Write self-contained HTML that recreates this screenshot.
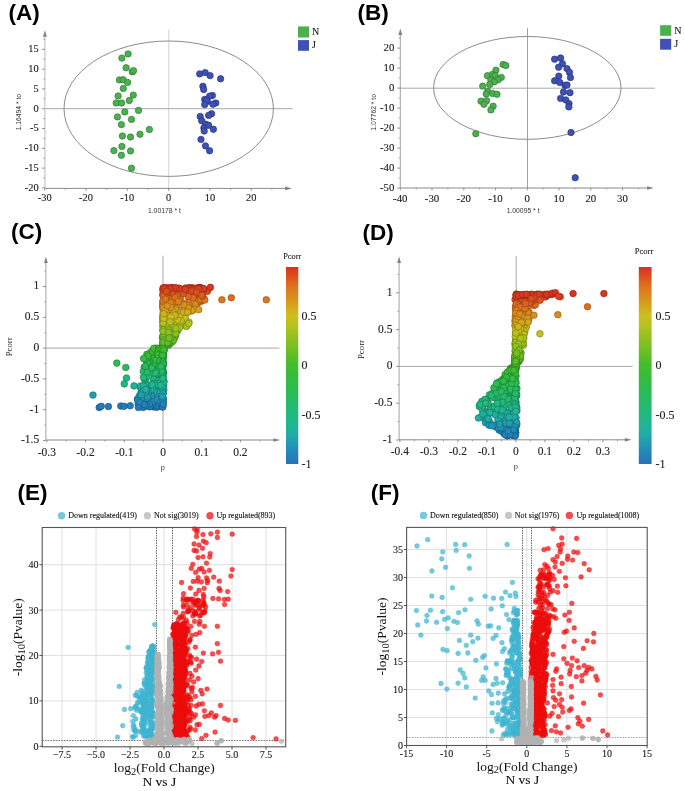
<!DOCTYPE html>
<html><head><meta charset="utf-8"><title>Figure</title>
<style>html,body{margin:0;padding:0;background:#fff;overflow:hidden}svg{display:block;will-change:transform}</style></head>
<body><svg width="685" height="791" viewBox="0 0 685 791">
<rect width="685" height="791" fill="#fff"/>
<text x="8.4" y="20.4" font-size="22.5" font-weight="bold" font-family="'Liberation Sans', sans-serif" fill="#000">(A)</text>
<line x1="168.6" y1="29.8" x2="168.6" y2="188.4" stroke="#dcdcdc" stroke-width="1.3" />
<line x1="44.9" y1="108.7" x2="292.8" y2="108.7" stroke="#a8a8a8" stroke-width="1" />
<ellipse cx="168.7" cy="108.7" rx="104.7" ry="67.7" fill="none" stroke="#8c8c8c" stroke-width="1"/>
<line x1="44.9" y1="36.3" x2="44.9" y2="188.4" stroke="#d4d4d4" stroke-width="1.6" />
<polygon points="44.9,30.3 43,36.7 46.8,36.7" fill="#808080"/>
<line x1="44.9" y1="188.4" x2="285.9" y2="188.4" stroke="#8a8a8a" stroke-width="1" />
<polygon points="291.9,188.4 285.1,186.6 285.1,190.2" fill="#808080"/>
<line x1="42" y1="187.9" x2="44.9" y2="187.9" stroke="#777" stroke-width="0.8" />
<text x="38.6" y="190.7" font-size="10.4" text-anchor="end" font-family="'Liberation Serif', serif" fill="#222" stroke="#222" stroke-width="0.12" >-20</text>
<line x1="42" y1="168.1" x2="44.9" y2="168.1" stroke="#777" stroke-width="0.8" />
<text x="38.6" y="170.9" font-size="10.4" text-anchor="end" font-family="'Liberation Serif', serif" fill="#222" stroke="#222" stroke-width="0.12" >-15</text>
<line x1="42" y1="148.3" x2="44.9" y2="148.3" stroke="#777" stroke-width="0.8" />
<text x="38.6" y="151.1" font-size="10.4" text-anchor="end" font-family="'Liberation Serif', serif" fill="#222" stroke="#222" stroke-width="0.12" >-10</text>
<line x1="42" y1="128.5" x2="44.9" y2="128.5" stroke="#777" stroke-width="0.8" />
<text x="38.6" y="131.3" font-size="10.4" text-anchor="end" font-family="'Liberation Serif', serif" fill="#222" stroke="#222" stroke-width="0.12" >-5</text>
<line x1="42" y1="108.7" x2="44.9" y2="108.7" stroke="#777" stroke-width="0.8" />
<text x="38.6" y="111.5" font-size="10.4" text-anchor="end" font-family="'Liberation Serif', serif" fill="#222" stroke="#222" stroke-width="0.12" >0</text>
<line x1="42" y1="88.9" x2="44.9" y2="88.9" stroke="#777" stroke-width="0.8" />
<text x="38.6" y="91.7" font-size="10.4" text-anchor="end" font-family="'Liberation Serif', serif" fill="#222" stroke="#222" stroke-width="0.12" >5</text>
<line x1="42" y1="69.1" x2="44.9" y2="69.1" stroke="#777" stroke-width="0.8" />
<text x="38.6" y="71.9" font-size="10.4" text-anchor="end" font-family="'Liberation Serif', serif" fill="#222" stroke="#222" stroke-width="0.12" >10</text>
<line x1="42" y1="49.3" x2="44.9" y2="49.3" stroke="#777" stroke-width="0.8" />
<text x="38.6" y="52.1" font-size="10.4" text-anchor="end" font-family="'Liberation Serif', serif" fill="#222" stroke="#222" stroke-width="0.12" >15</text>
<line x1="43.2" y1="178" x2="44.9" y2="178" stroke="#888" stroke-width="0.7" />
<line x1="43.2" y1="158.2" x2="44.9" y2="158.2" stroke="#888" stroke-width="0.7" />
<line x1="43.2" y1="138.4" x2="44.9" y2="138.4" stroke="#888" stroke-width="0.7" />
<line x1="43.2" y1="118.6" x2="44.9" y2="118.6" stroke="#888" stroke-width="0.7" />
<line x1="43.2" y1="98.8" x2="44.9" y2="98.8" stroke="#888" stroke-width="0.7" />
<line x1="43.2" y1="79" x2="44.9" y2="79" stroke="#888" stroke-width="0.7" />
<line x1="43.2" y1="59.2" x2="44.9" y2="59.2" stroke="#888" stroke-width="0.7" />
<line x1="43.2" y1="39.4" x2="44.9" y2="39.4" stroke="#888" stroke-width="0.7" />
<line x1="44.7" y1="188.4" x2="44.7" y2="190.8" stroke="#777" stroke-width="0.8" />
<text x="44.7" y="201.4" font-size="10.4" text-anchor="middle" font-family="'Liberation Serif', serif" fill="#222" stroke="#222" stroke-width="0.12" >-30</text>
<line x1="86" y1="188.4" x2="86" y2="190.8" stroke="#777" stroke-width="0.8" />
<text x="86" y="201.4" font-size="10.4" text-anchor="middle" font-family="'Liberation Serif', serif" fill="#222" stroke="#222" stroke-width="0.12" >-20</text>
<line x1="127.3" y1="188.4" x2="127.3" y2="190.8" stroke="#777" stroke-width="0.8" />
<text x="127.3" y="201.4" font-size="10.4" text-anchor="middle" font-family="'Liberation Serif', serif" fill="#222" stroke="#222" stroke-width="0.12" >-10</text>
<line x1="168.6" y1="188.4" x2="168.6" y2="190.8" stroke="#777" stroke-width="0.8" />
<text x="168.6" y="201.4" font-size="10.4" text-anchor="middle" font-family="'Liberation Serif', serif" fill="#222" stroke="#222" stroke-width="0.12" >0</text>
<line x1="209.9" y1="188.4" x2="209.9" y2="190.8" stroke="#777" stroke-width="0.8" />
<text x="209.9" y="201.4" font-size="10.4" text-anchor="middle" font-family="'Liberation Serif', serif" fill="#222" stroke="#222" stroke-width="0.12" >10</text>
<line x1="251.2" y1="188.4" x2="251.2" y2="190.8" stroke="#777" stroke-width="0.8" />
<text x="251.2" y="201.4" font-size="10.4" text-anchor="middle" font-family="'Liberation Serif', serif" fill="#222" stroke="#222" stroke-width="0.12" >20</text>
<line x1="65.3" y1="188.4" x2="65.3" y2="190" stroke="#888" stroke-width="0.7" />
<line x1="106.7" y1="188.4" x2="106.7" y2="190" stroke="#888" stroke-width="0.7" />
<line x1="147.9" y1="188.4" x2="147.9" y2="190" stroke="#888" stroke-width="0.7" />
<line x1="189.2" y1="188.4" x2="189.2" y2="190" stroke="#888" stroke-width="0.7" />
<line x1="230.5" y1="188.4" x2="230.5" y2="190" stroke="#888" stroke-width="0.7" />
<line x1="271.9" y1="188.4" x2="271.9" y2="190" stroke="#888" stroke-width="0.7" />
<text x="164.4" y="213" font-size="6.8" text-anchor="middle" font-family="'Liberation Sans', sans-serif" fill="#333" >1.00178 * t</text>
<text transform="translate(20.8,112.2) rotate(-90)" font-size="6.8" text-anchor="middle" font-family="'Liberation Sans', sans-serif" fill="#333">1.16494 * to</text>
<circle cx="128.1" cy="53.9" r="3.2" fill="#4caf50" stroke="#2f7d33" stroke-width="0.7"/>
<circle cx="121.9" cy="58.1" r="3.2" fill="#4caf50" stroke="#2f7d33" stroke-width="0.7"/>
<circle cx="126.1" cy="67.8" r="3.2" fill="#4caf50" stroke="#2f7d33" stroke-width="0.7"/>
<circle cx="132.3" cy="71.9" r="3.2" fill="#4caf50" stroke="#2f7d33" stroke-width="0.7"/>
<circle cx="133.5" cy="70.7" r="3.2" fill="#4caf50" stroke="#2f7d33" stroke-width="0.7"/>
<circle cx="119.4" cy="79.9" r="3.2" fill="#4caf50" stroke="#2f7d33" stroke-width="0.7"/>
<circle cx="123.1" cy="79.7" r="3.2" fill="#4caf50" stroke="#2f7d33" stroke-width="0.7"/>
<circle cx="127.6" cy="82.4" r="3.2" fill="#4caf50" stroke="#2f7d33" stroke-width="0.7"/>
<circle cx="123.3" cy="88.4" r="3.2" fill="#4caf50" stroke="#2f7d33" stroke-width="0.7"/>
<circle cx="118.1" cy="96" r="3.2" fill="#4caf50" stroke="#2f7d33" stroke-width="0.7"/>
<circle cx="133.3" cy="95.1" r="3.2" fill="#4caf50" stroke="#2f7d33" stroke-width="0.7"/>
<circle cx="116.2" cy="103" r="3.2" fill="#4caf50" stroke="#2f7d33" stroke-width="0.7"/>
<circle cx="121.6" cy="103" r="3.2" fill="#4caf50" stroke="#2f7d33" stroke-width="0.7"/>
<circle cx="129.3" cy="100.5" r="3.2" fill="#4caf50" stroke="#2f7d33" stroke-width="0.7"/>
<circle cx="124.8" cy="111.9" r="3.2" fill="#4caf50" stroke="#2f7d33" stroke-width="0.7"/>
<circle cx="138.5" cy="110.4" r="3.2" fill="#4caf50" stroke="#2f7d33" stroke-width="0.7"/>
<circle cx="117.4" cy="116.9" r="3.2" fill="#4caf50" stroke="#2f7d33" stroke-width="0.7"/>
<circle cx="131.5" cy="119.4" r="3.2" fill="#4caf50" stroke="#2f7d33" stroke-width="0.7"/>
<circle cx="121.4" cy="124.6" r="3.2" fill="#4caf50" stroke="#2f7d33" stroke-width="0.7"/>
<circle cx="149.4" cy="129.5" r="3.2" fill="#4caf50" stroke="#2f7d33" stroke-width="0.7"/>
<circle cx="140" cy="134.2" r="3.2" fill="#4caf50" stroke="#2f7d33" stroke-width="0.7"/>
<circle cx="122.4" cy="136" r="3.2" fill="#4caf50" stroke="#2f7d33" stroke-width="0.7"/>
<circle cx="130.5" cy="137" r="3.2" fill="#4caf50" stroke="#2f7d33" stroke-width="0.7"/>
<circle cx="121.9" cy="146.4" r="3.2" fill="#4caf50" stroke="#2f7d33" stroke-width="0.7"/>
<circle cx="113.9" cy="150.6" r="3.2" fill="#4caf50" stroke="#2f7d33" stroke-width="0.7"/>
<circle cx="130.5" cy="150.9" r="3.2" fill="#4caf50" stroke="#2f7d33" stroke-width="0.7"/>
<circle cx="121.4" cy="155.3" r="3.2" fill="#4caf50" stroke="#2f7d33" stroke-width="0.7"/>
<circle cx="131.5" cy="168.2" r="3.2" fill="#4caf50" stroke="#2f7d33" stroke-width="0.7"/>
<circle cx="199.7" cy="73.9" r="3.2" fill="#3f51b5" stroke="#27337a" stroke-width="0.7"/>
<circle cx="205.2" cy="72.6" r="3.2" fill="#3f51b5" stroke="#27337a" stroke-width="0.7"/>
<circle cx="210.1" cy="75.6" r="3.2" fill="#3f51b5" stroke="#27337a" stroke-width="0.7"/>
<circle cx="220.6" cy="78.8" r="3.2" fill="#3f51b5" stroke="#27337a" stroke-width="0.7"/>
<circle cx="202.9" cy="86.3" r="3.2" fill="#3f51b5" stroke="#27337a" stroke-width="0.7"/>
<circle cx="203.7" cy="89.5" r="3.2" fill="#3f51b5" stroke="#27337a" stroke-width="0.7"/>
<circle cx="212.4" cy="95.5" r="3.2" fill="#3f51b5" stroke="#27337a" stroke-width="0.7"/>
<circle cx="209.6" cy="96.2" r="3.2" fill="#3f51b5" stroke="#27337a" stroke-width="0.7"/>
<circle cx="204.7" cy="99.4" r="3.2" fill="#3f51b5" stroke="#27337a" stroke-width="0.7"/>
<circle cx="207.2" cy="101.4" r="3.2" fill="#3f51b5" stroke="#27337a" stroke-width="0.7"/>
<circle cx="206.7" cy="100.5" r="3.2" fill="#3f51b5" stroke="#27337a" stroke-width="0.7"/>
<circle cx="215.8" cy="103" r="3.2" fill="#3f51b5" stroke="#27337a" stroke-width="0.7"/>
<circle cx="212.9" cy="104.2" r="3.2" fill="#3f51b5" stroke="#27337a" stroke-width="0.7"/>
<circle cx="204.7" cy="104.6" r="3.2" fill="#3f51b5" stroke="#27337a" stroke-width="0.7"/>
<circle cx="200.2" cy="116.4" r="3.2" fill="#3f51b5" stroke="#27337a" stroke-width="0.7"/>
<circle cx="211.6" cy="113.7" r="3.2" fill="#3f51b5" stroke="#27337a" stroke-width="0.7"/>
<circle cx="208.6" cy="115.4" r="3.2" fill="#3f51b5" stroke="#27337a" stroke-width="0.7"/>
<circle cx="201.7" cy="120.8" r="3.2" fill="#3f51b5" stroke="#27337a" stroke-width="0.7"/>
<circle cx="205.7" cy="124.3" r="3.2" fill="#3f51b5" stroke="#27337a" stroke-width="0.7"/>
<circle cx="208.6" cy="125.3" r="3.2" fill="#3f51b5" stroke="#27337a" stroke-width="0.7"/>
<circle cx="203.9" cy="128" r="3.2" fill="#3f51b5" stroke="#27337a" stroke-width="0.7"/>
<circle cx="204.2" cy="131" r="3.2" fill="#3f51b5" stroke="#27337a" stroke-width="0.7"/>
<circle cx="213.4" cy="129.3" r="3.2" fill="#3f51b5" stroke="#27337a" stroke-width="0.7"/>
<circle cx="201" cy="139.4" r="3.2" fill="#3f51b5" stroke="#27337a" stroke-width="0.7"/>
<circle cx="205.5" cy="145.9" r="3.2" fill="#3f51b5" stroke="#27337a" stroke-width="0.7"/>
<circle cx="209.6" cy="150.7" r="3.2" fill="#3f51b5" stroke="#27337a" stroke-width="0.7"/>
<rect x="298" y="26.4" width="11" height="11.1" fill="#4caf50"/>
<rect x="298" y="40.1" width="11" height="10.7" fill="#3f51b5"/>
<text x="312" y="34.6" font-size="10" text-anchor="start" font-family="'Liberation Serif', serif" fill="#222" stroke="#222" stroke-width="0.12" >N</text>
<text x="312" y="48.3" font-size="10" text-anchor="start" font-family="'Liberation Serif', serif" fill="#222" stroke="#222" stroke-width="0.12" >J</text>
<text x="357.6" y="20.2" font-size="22.5" font-weight="bold" font-family="'Liberation Sans', sans-serif" fill="#000">(B)</text>
<line x1="527.5" y1="28.1" x2="527.5" y2="188" stroke="#a0a0a0" stroke-width="1" />
<line x1="400.3" y1="88.2" x2="654.9" y2="88.2" stroke="#a8a8a8" stroke-width="1" />
<ellipse cx="527.3" cy="87.9" rx="93.7" ry="51.4" fill="none" stroke="#8c8c8c" stroke-width="1"/>
<line x1="400.3" y1="34.5" x2="400.3" y2="188" stroke="#999" stroke-width="0.9" />
<polygon points="400.3,28.5 398.4,34.9 402.2,34.9" fill="#808080"/>
<line x1="400.3" y1="188" x2="647.9" y2="188" stroke="#8a8a8a" stroke-width="1" />
<polygon points="653.9,188 647.1,186.2 647.1,189.8" fill="#808080"/>
<line x1="397.4" y1="188.1" x2="400.3" y2="188.1" stroke="#777" stroke-width="0.8" />
<text x="394.4" y="190.8" font-size="10.8" text-anchor="end" font-family="'Liberation Serif', serif" fill="#222" stroke="#222" stroke-width="0.12" >-50</text>
<line x1="397.4" y1="168.1" x2="400.3" y2="168.1" stroke="#777" stroke-width="0.8" />
<text x="394.4" y="170.8" font-size="10.8" text-anchor="end" font-family="'Liberation Serif', serif" fill="#222" stroke="#222" stroke-width="0.12" >-40</text>
<line x1="397.4" y1="148.1" x2="400.3" y2="148.1" stroke="#777" stroke-width="0.8" />
<text x="394.4" y="150.8" font-size="10.8" text-anchor="end" font-family="'Liberation Serif', serif" fill="#222" stroke="#222" stroke-width="0.12" >-30</text>
<line x1="397.4" y1="128.1" x2="400.3" y2="128.1" stroke="#777" stroke-width="0.8" />
<text x="394.4" y="130.8" font-size="10.8" text-anchor="end" font-family="'Liberation Serif', serif" fill="#222" stroke="#222" stroke-width="0.12" >-20</text>
<line x1="397.4" y1="108.1" x2="400.3" y2="108.1" stroke="#777" stroke-width="0.8" />
<text x="394.4" y="110.8" font-size="10.8" text-anchor="end" font-family="'Liberation Serif', serif" fill="#222" stroke="#222" stroke-width="0.12" >-10</text>
<line x1="397.4" y1="88.1" x2="400.3" y2="88.1" stroke="#777" stroke-width="0.8" />
<text x="394.4" y="90.8" font-size="10.8" text-anchor="end" font-family="'Liberation Serif', serif" fill="#222" stroke="#222" stroke-width="0.12" >0</text>
<line x1="397.4" y1="68.1" x2="400.3" y2="68.1" stroke="#777" stroke-width="0.8" />
<text x="394.4" y="70.8" font-size="10.8" text-anchor="end" font-family="'Liberation Serif', serif" fill="#222" stroke="#222" stroke-width="0.12" >10</text>
<line x1="397.4" y1="48.1" x2="400.3" y2="48.1" stroke="#777" stroke-width="0.8" />
<text x="394.4" y="50.8" font-size="10.8" text-anchor="end" font-family="'Liberation Serif', serif" fill="#222" stroke="#222" stroke-width="0.12" >20</text>
<line x1="398.6" y1="178.1" x2="400.3" y2="178.1" stroke="#888" stroke-width="0.7" />
<line x1="398.6" y1="158.1" x2="400.3" y2="158.1" stroke="#888" stroke-width="0.7" />
<line x1="398.6" y1="138.1" x2="400.3" y2="138.1" stroke="#888" stroke-width="0.7" />
<line x1="398.6" y1="118.1" x2="400.3" y2="118.1" stroke="#888" stroke-width="0.7" />
<line x1="398.6" y1="98.1" x2="400.3" y2="98.1" stroke="#888" stroke-width="0.7" />
<line x1="398.6" y1="78.1" x2="400.3" y2="78.1" stroke="#888" stroke-width="0.7" />
<line x1="398.6" y1="58.1" x2="400.3" y2="58.1" stroke="#888" stroke-width="0.7" />
<line x1="398.6" y1="38.1" x2="400.3" y2="38.1" stroke="#888" stroke-width="0.7" />
<line x1="400.3" y1="188" x2="400.3" y2="190.4" stroke="#777" stroke-width="0.8" />
<text x="400.3" y="201.8" font-size="10.8" text-anchor="middle" font-family="'Liberation Serif', serif" fill="#222" stroke="#222" stroke-width="0.12" >-40</text>
<line x1="432" y1="188" x2="432" y2="190.4" stroke="#777" stroke-width="0.8" />
<text x="432" y="201.8" font-size="10.8" text-anchor="middle" font-family="'Liberation Serif', serif" fill="#222" stroke="#222" stroke-width="0.12" >-30</text>
<line x1="463.8" y1="188" x2="463.8" y2="190.4" stroke="#777" stroke-width="0.8" />
<text x="463.8" y="201.8" font-size="10.8" text-anchor="middle" font-family="'Liberation Serif', serif" fill="#222" stroke="#222" stroke-width="0.12" >-20</text>
<line x1="495.5" y1="188" x2="495.5" y2="190.4" stroke="#777" stroke-width="0.8" />
<text x="495.5" y="201.8" font-size="10.8" text-anchor="middle" font-family="'Liberation Serif', serif" fill="#222" stroke="#222" stroke-width="0.12" >-10</text>
<line x1="527.3" y1="188" x2="527.3" y2="190.4" stroke="#777" stroke-width="0.8" />
<text x="527.3" y="201.8" font-size="10.8" text-anchor="middle" font-family="'Liberation Serif', serif" fill="#222" stroke="#222" stroke-width="0.12" >0</text>
<line x1="559" y1="188" x2="559" y2="190.4" stroke="#777" stroke-width="0.8" />
<text x="559" y="201.8" font-size="10.8" text-anchor="middle" font-family="'Liberation Serif', serif" fill="#222" stroke="#222" stroke-width="0.12" >10</text>
<line x1="590.8" y1="188" x2="590.8" y2="190.4" stroke="#777" stroke-width="0.8" />
<text x="590.8" y="201.8" font-size="10.8" text-anchor="middle" font-family="'Liberation Serif', serif" fill="#222" stroke="#222" stroke-width="0.12" >20</text>
<line x1="622.5" y1="188" x2="622.5" y2="190.4" stroke="#777" stroke-width="0.8" />
<text x="622.5" y="201.8" font-size="10.8" text-anchor="middle" font-family="'Liberation Serif', serif" fill="#222" stroke="#222" stroke-width="0.12" >30</text>
<line x1="416.2" y1="188" x2="416.2" y2="189.6" stroke="#888" stroke-width="0.7" />
<line x1="447.9" y1="188" x2="447.9" y2="189.6" stroke="#888" stroke-width="0.7" />
<line x1="479.7" y1="188" x2="479.7" y2="189.6" stroke="#888" stroke-width="0.7" />
<line x1="511.4" y1="188" x2="511.4" y2="189.6" stroke="#888" stroke-width="0.7" />
<line x1="543.2" y1="188" x2="543.2" y2="189.6" stroke="#888" stroke-width="0.7" />
<line x1="574.9" y1="188" x2="574.9" y2="189.6" stroke="#888" stroke-width="0.7" />
<line x1="606.7" y1="188" x2="606.7" y2="189.6" stroke="#888" stroke-width="0.7" />
<line x1="638.4" y1="188" x2="638.4" y2="189.6" stroke="#888" stroke-width="0.7" />
<text x="523.1" y="213" font-size="6.8" text-anchor="middle" font-family="'Liberation Sans', sans-serif" fill="#333" >1.00095 * t</text>
<text transform="translate(376.2,112.3) rotate(-90)" font-size="6.8" text-anchor="middle" font-family="'Liberation Sans', sans-serif" fill="#333">1.07762 * to</text>
<circle cx="503.1" cy="64.5" r="3.2" fill="#4caf50" stroke="#2f7d33" stroke-width="0.7"/>
<circle cx="505.8" cy="65.5" r="3.2" fill="#4caf50" stroke="#2f7d33" stroke-width="0.7"/>
<circle cx="495.9" cy="70.2" r="3.2" fill="#4caf50" stroke="#2f7d33" stroke-width="0.7"/>
<circle cx="487.4" cy="75.7" r="3.2" fill="#4caf50" stroke="#2f7d33" stroke-width="0.7"/>
<circle cx="492.4" cy="74.5" r="3.2" fill="#4caf50" stroke="#2f7d33" stroke-width="0.7"/>
<circle cx="495.1" cy="75.5" r="3.2" fill="#4caf50" stroke="#2f7d33" stroke-width="0.7"/>
<circle cx="501.3" cy="77.4" r="3.2" fill="#4caf50" stroke="#2f7d33" stroke-width="0.7"/>
<circle cx="490.9" cy="79.9" r="3.2" fill="#4caf50" stroke="#2f7d33" stroke-width="0.7"/>
<circle cx="498.1" cy="79.9" r="3.2" fill="#4caf50" stroke="#2f7d33" stroke-width="0.7"/>
<circle cx="494.1" cy="81.9" r="3.2" fill="#4caf50" stroke="#2f7d33" stroke-width="0.7"/>
<circle cx="489.7" cy="84.4" r="3.2" fill="#4caf50" stroke="#2f7d33" stroke-width="0.7"/>
<circle cx="482.7" cy="86.1" r="3.2" fill="#4caf50" stroke="#2f7d33" stroke-width="0.7"/>
<circle cx="487.7" cy="91.3" r="3.2" fill="#4caf50" stroke="#2f7d33" stroke-width="0.7"/>
<circle cx="492.7" cy="93.5" r="3.2" fill="#4caf50" stroke="#2f7d33" stroke-width="0.7"/>
<circle cx="497" cy="94.3" r="3.2" fill="#4caf50" stroke="#2f7d33" stroke-width="0.7"/>
<circle cx="486.2" cy="94" r="3.2" fill="#4caf50" stroke="#2f7d33" stroke-width="0.7"/>
<circle cx="481" cy="101.2" r="3.2" fill="#4caf50" stroke="#2f7d33" stroke-width="0.7"/>
<circle cx="486.6" cy="100.7" r="3.2" fill="#4caf50" stroke="#2f7d33" stroke-width="0.7"/>
<circle cx="484" cy="104.3" r="3.2" fill="#4caf50" stroke="#2f7d33" stroke-width="0.7"/>
<circle cx="493.1" cy="106.2" r="3.2" fill="#4caf50" stroke="#2f7d33" stroke-width="0.7"/>
<circle cx="490.9" cy="109.9" r="3.2" fill="#4caf50" stroke="#2f7d33" stroke-width="0.7"/>
<circle cx="475.8" cy="133.7" r="3.2" fill="#4caf50" stroke="#2f7d33" stroke-width="0.7"/>
<circle cx="554.6" cy="59.2" r="3.2" fill="#3f51b5" stroke="#27337a" stroke-width="0.7"/>
<circle cx="560.6" cy="58" r="3.2" fill="#3f51b5" stroke="#27337a" stroke-width="0.7"/>
<circle cx="562.5" cy="63.7" r="3.2" fill="#3f51b5" stroke="#27337a" stroke-width="0.7"/>
<circle cx="558.6" cy="67.2" r="3.2" fill="#3f51b5" stroke="#27337a" stroke-width="0.7"/>
<circle cx="567" cy="68.6" r="3.2" fill="#3f51b5" stroke="#27337a" stroke-width="0.7"/>
<circle cx="569.5" cy="72.4" r="3.2" fill="#3f51b5" stroke="#27337a" stroke-width="0.7"/>
<circle cx="570.5" cy="77.6" r="3.2" fill="#3f51b5" stroke="#27337a" stroke-width="0.7"/>
<circle cx="558.8" cy="76.1" r="3.2" fill="#3f51b5" stroke="#27337a" stroke-width="0.7"/>
<circle cx="554.6" cy="80.8" r="3.2" fill="#3f51b5" stroke="#27337a" stroke-width="0.7"/>
<circle cx="559.8" cy="82.5" r="3.2" fill="#3f51b5" stroke="#27337a" stroke-width="0.7"/>
<circle cx="565" cy="85.3" r="3.2" fill="#3f51b5" stroke="#27337a" stroke-width="0.7"/>
<circle cx="567" cy="85" r="3.2" fill="#3f51b5" stroke="#27337a" stroke-width="0.7"/>
<circle cx="563.5" cy="92" r="3.2" fill="#3f51b5" stroke="#27337a" stroke-width="0.7"/>
<circle cx="570" cy="92.7" r="3.2" fill="#3f51b5" stroke="#27337a" stroke-width="0.7"/>
<circle cx="560.6" cy="98.4" r="3.2" fill="#3f51b5" stroke="#27337a" stroke-width="0.7"/>
<circle cx="565.8" cy="99.9" r="3.2" fill="#3f51b5" stroke="#27337a" stroke-width="0.7"/>
<circle cx="569" cy="103.6" r="3.2" fill="#3f51b5" stroke="#27337a" stroke-width="0.7"/>
<circle cx="568.8" cy="106.9" r="3.2" fill="#3f51b5" stroke="#27337a" stroke-width="0.7"/>
<circle cx="571" cy="132.5" r="3.2" fill="#3f51b5" stroke="#27337a" stroke-width="0.7"/>
<circle cx="575.2" cy="177.7" r="3.2" fill="#3f51b5" stroke="#27337a" stroke-width="0.7"/>
<rect x="660.1" y="25.2" width="11.1" height="10.6" fill="#4caf50"/>
<rect x="660.1" y="38.8" width="11.1" height="10.9" fill="#3f51b5"/>
<text x="674.2" y="33.6" font-size="10" text-anchor="start" font-family="'Liberation Serif', serif" fill="#222" stroke="#222" stroke-width="0.12" >N</text>
<text x="674.2" y="47.3" font-size="10" text-anchor="start" font-family="'Liberation Serif', serif" fill="#222" stroke="#222" stroke-width="0.12" >J</text>
<text x="10.9" y="239" font-size="22.5" font-weight="bold" font-family="'Liberation Sans', sans-serif" fill="#000">(C)</text>
<line x1="163" y1="255.8" x2="163" y2="440" stroke="#c8c8c8" stroke-width="1.6" />
<line x1="45.9" y1="348.1" x2="279.5" y2="348.1" stroke="#a8a8a8" stroke-width="1" />
<line x1="45.9" y1="262.7" x2="45.9" y2="440" stroke="#999" stroke-width="0.9" />
<polygon points="45.9,256.7 44,263.1 47.8,263.1" fill="#808080"/>
<line x1="45.9" y1="440" x2="274.2" y2="440" stroke="#8a8a8a" stroke-width="1" />
<polygon points="280.2,440 273.4,438.2 273.4,441.8" fill="#808080"/>
<line x1="43" y1="286.5" x2="45.9" y2="286.5" stroke="#777" stroke-width="0.8" />
<text x="39.2" y="289.4" font-size="11.5" text-anchor="end" font-family="'Liberation Serif', serif" fill="#222" stroke="#222" stroke-width="0.12" >1</text>
<line x1="43" y1="317.3" x2="45.9" y2="317.3" stroke="#777" stroke-width="0.8" />
<text x="39.2" y="320.2" font-size="11.5" text-anchor="end" font-family="'Liberation Serif', serif" fill="#222" stroke="#222" stroke-width="0.12" >0.5</text>
<line x1="43" y1="348.1" x2="45.9" y2="348.1" stroke="#777" stroke-width="0.8" />
<text x="39.2" y="351" font-size="11.5" text-anchor="end" font-family="'Liberation Serif', serif" fill="#222" stroke="#222" stroke-width="0.12" >0</text>
<line x1="43" y1="378.9" x2="45.9" y2="378.9" stroke="#777" stroke-width="0.8" />
<text x="39.2" y="381.8" font-size="11.5" text-anchor="end" font-family="'Liberation Serif', serif" fill="#222" stroke="#222" stroke-width="0.12" >-0.5</text>
<line x1="43" y1="409.7" x2="45.9" y2="409.7" stroke="#777" stroke-width="0.8" />
<text x="39.2" y="412.6" font-size="11.5" text-anchor="end" font-family="'Liberation Serif', serif" fill="#222" stroke="#222" stroke-width="0.12" >-1</text>
<line x1="43" y1="440.5" x2="45.9" y2="440.5" stroke="#777" stroke-width="0.8" />
<text x="39.2" y="443.4" font-size="11.5" text-anchor="end" font-family="'Liberation Serif', serif" fill="#222" stroke="#222" stroke-width="0.12" >-1.5</text>
<line x1="44.2" y1="271.1" x2="45.9" y2="271.1" stroke="#888" stroke-width="0.7" />
<line x1="44.2" y1="301.9" x2="45.9" y2="301.9" stroke="#888" stroke-width="0.7" />
<line x1="44.2" y1="332.7" x2="45.9" y2="332.7" stroke="#888" stroke-width="0.7" />
<line x1="44.2" y1="363.5" x2="45.9" y2="363.5" stroke="#888" stroke-width="0.7" />
<line x1="44.2" y1="394.3" x2="45.9" y2="394.3" stroke="#888" stroke-width="0.7" />
<line x1="44.2" y1="425.1" x2="45.9" y2="425.1" stroke="#888" stroke-width="0.7" />
<line x1="46.9" y1="440" x2="46.9" y2="442.4" stroke="#777" stroke-width="0.8" />
<text x="46.9" y="455.5" font-size="11.5" text-anchor="middle" font-family="'Liberation Serif', serif" fill="#222" stroke="#222" stroke-width="0.12" >-0.3</text>
<line x1="85.6" y1="440" x2="85.6" y2="442.4" stroke="#777" stroke-width="0.8" />
<text x="85.6" y="455.5" font-size="11.5" text-anchor="middle" font-family="'Liberation Serif', serif" fill="#222" stroke="#222" stroke-width="0.12" >-0.2</text>
<line x1="124.3" y1="440" x2="124.3" y2="442.4" stroke="#777" stroke-width="0.8" />
<text x="124.3" y="455.5" font-size="11.5" text-anchor="middle" font-family="'Liberation Serif', serif" fill="#222" stroke="#222" stroke-width="0.12" >-0.1</text>
<line x1="163" y1="440" x2="163" y2="442.4" stroke="#777" stroke-width="0.8" />
<text x="163" y="455.5" font-size="11.5" text-anchor="middle" font-family="'Liberation Serif', serif" fill="#222" stroke="#222" stroke-width="0.12" >0</text>
<line x1="201.7" y1="440" x2="201.7" y2="442.4" stroke="#777" stroke-width="0.8" />
<text x="201.7" y="455.5" font-size="11.5" text-anchor="middle" font-family="'Liberation Serif', serif" fill="#222" stroke="#222" stroke-width="0.12" >0.1</text>
<line x1="240.4" y1="440" x2="240.4" y2="442.4" stroke="#777" stroke-width="0.8" />
<text x="240.4" y="455.5" font-size="11.5" text-anchor="middle" font-family="'Liberation Serif', serif" fill="#222" stroke="#222" stroke-width="0.12" >0.2</text>
<line x1="66.2" y1="440" x2="66.2" y2="441.6" stroke="#888" stroke-width="0.7" />
<line x1="105" y1="440" x2="105" y2="441.6" stroke="#888" stroke-width="0.7" />
<line x1="143.7" y1="440" x2="143.7" y2="441.6" stroke="#888" stroke-width="0.7" />
<line x1="182.3" y1="440" x2="182.3" y2="441.6" stroke="#888" stroke-width="0.7" />
<line x1="221.1" y1="440" x2="221.1" y2="441.6" stroke="#888" stroke-width="0.7" />
<line x1="259.8" y1="440" x2="259.8" y2="441.6" stroke="#888" stroke-width="0.7" />
<text x="162.7" y="470.2" font-size="7.4" text-anchor="middle" font-family="'Liberation Sans', sans-serif" fill="#333" >p</text>
<text transform="translate(12.0,346.8) rotate(-90)" font-size="8.8" text-anchor="middle" font-family="'Liberation Serif', serif" fill="#222">Pcorr</text>
<defs><linearGradient id="gC" x1="0" y1="0" x2="0" y2="1"><stop offset="0.000" stop-color="#d9301f"/><stop offset="0.100" stop-color="#de731e"/><stop offset="0.200" stop-color="#d6a51e"/><stop offset="0.250" stop-color="#cdc01e"/><stop offset="0.300" stop-color="#b4c31e"/><stop offset="0.400" stop-color="#7ac023"/><stop offset="0.500" stop-color="#42bc2d"/><stop offset="0.600" stop-color="#2ebc48"/><stop offset="0.700" stop-color="#24ba6e"/><stop offset="0.800" stop-color="#20b692"/><stop offset="0.850" stop-color="#20aca8"/><stop offset="0.900" stop-color="#2098b4"/><stop offset="0.950" stop-color="#2284b8"/><stop offset="1.000" stop-color="#2a70b6"/></linearGradient></defs>
<rect x="286" y="267" width="12.3" height="197" fill="url(#gC)"/>
<text x="292.2" y="258.7" font-size="8.4" text-anchor="middle" font-family="'Liberation Serif', serif" fill="#222" stroke="#222" stroke-width="0.12" >Pcorr</text>
<text x="301.6" y="319.9" font-size="12" text-anchor="start" font-family="'Liberation Serif', serif" fill="#222" stroke="#222" stroke-width="0.12" >0.5</text>
<text x="301.6" y="369.2" font-size="12" text-anchor="start" font-family="'Liberation Serif', serif" fill="#222" stroke="#222" stroke-width="0.12" >0</text>
<text x="301.6" y="418.5" font-size="12" text-anchor="start" font-family="'Liberation Serif', serif" fill="#222" stroke="#222" stroke-width="0.12" >-0.5</text>
<text x="301.6" y="467.8" font-size="12" text-anchor="start" font-family="'Liberation Serif', serif" fill="#222" stroke="#222" stroke-width="0.12" >-1</text>
<circle cx="162.5" cy="337.8" r="3.3" fill="#71bf25" stroke="#4c8119" stroke-width="0.65"/>
<circle cx="172" cy="304.6" r="3.3" fill="#da8b1e" stroke="#945e14" stroke-width="0.65"/>
<circle cx="159.5" cy="378.8" r="3.3" fill="#22b880" stroke="#177d57" stroke-width="0.65"/>
<circle cx="166.1" cy="294.7" r="3.3" fill="#dc5d1e" stroke="#953f14" stroke-width="0.65"/>
<circle cx="197.7" cy="302.9" r="3.3" fill="#db841e" stroke="#945914" stroke-width="0.65"/>
<circle cx="161.8" cy="393.1" r="3.3" fill="#20a6ac" stroke="#157074" stroke-width="0.65"/>
<circle cx="155.7" cy="394.9" r="3.3" fill="#20a0af" stroke="#156c77" stroke-width="0.65"/>
<circle cx="169.5" cy="328.2" r="3.3" fill="#9ec220" stroke="#6b8315" stroke-width="0.65"/>
<circle cx="161.7" cy="362.7" r="3.3" fill="#2cbc4f" stroke="#1d7f35" stroke-width="0.65"/>
<circle cx="203.8" cy="298.4" r="3.3" fill="#de701e" stroke="#964c14" stroke-width="0.65"/>
<circle cx="163" cy="322.7" r="3.3" fill="#b7c31e" stroke="#7c8414" stroke-width="0.65"/>
<circle cx="163.1" cy="301" r="3.3" fill="#dd7c1e" stroke="#965414" stroke-width="0.65"/>
<circle cx="162.6" cy="352.7" r="3.3" fill="#3bbc37" stroke="#287f25" stroke-width="0.65"/>
<circle cx="203.9" cy="291.7" r="3.3" fill="#db4c1f" stroke="#943315" stroke-width="0.65"/>
<circle cx="162.7" cy="380.4" r="3.3" fill="#22b884" stroke="#177d59" stroke-width="0.65"/>
<circle cx="161.3" cy="368.2" r="3.3" fill="#28bb60" stroke="#1b7f41" stroke-width="0.65"/>
<circle cx="162.5" cy="368.5" r="3.3" fill="#27bb61" stroke="#1a7f41" stroke-width="0.65"/>
<circle cx="166.4" cy="317.7" r="3.3" fill="#ccc01e" stroke="#8a8214" stroke-width="0.65"/>
<circle cx="156.9" cy="407.1" r="3.3" fill="#2779b7" stroke="#1a527c" stroke-width="0.65"/>
<circle cx="183.7" cy="318.3" r="3.3" fill="#c9c01e" stroke="#888214" stroke-width="0.65"/>
<circle cx="148" cy="375.9" r="3.3" fill="#23b977" stroke="#177d50" stroke-width="0.65"/>
<circle cx="162.7" cy="381" r="3.3" fill="#21b786" stroke="#167c5b" stroke-width="0.65"/>
<circle cx="163.3" cy="344.4" r="3.3" fill="#53bd2a" stroke="#38801c" stroke-width="0.65"/>
<circle cx="153.8" cy="406.9" r="3.3" fill="#2679b7" stroke="#19527c" stroke-width="0.65"/>
<circle cx="137.5" cy="399.4" r="3.3" fill="#2191b5" stroke="#16627b" stroke-width="0.65"/>
<circle cx="163.3" cy="364.1" r="3.3" fill="#2bbb53" stroke="#1d7f38" stroke-width="0.65"/>
<circle cx="162.8" cy="345.1" r="3.3" fill="#50bd2b" stroke="#36801d" stroke-width="0.65"/>
<circle cx="173.3" cy="324.7" r="3.3" fill="#aec31f" stroke="#768415" stroke-width="0.65"/>
<circle cx="172.2" cy="326.8" r="3.3" fill="#a4c21f" stroke="#6f8315" stroke-width="0.65"/>
<circle cx="184.5" cy="312.9" r="3.3" fill="#d3ad1e" stroke="#8f7514" stroke-width="0.65"/>
<circle cx="157.8" cy="390.2" r="3.3" fill="#20aea4" stroke="#15766f" stroke-width="0.65"/>
<circle cx="152.4" cy="350.9" r="3.3" fill="#3dbc33" stroke="#297f22" stroke-width="0.65"/>
<circle cx="145.8" cy="398.4" r="3.3" fill="#2095b5" stroke="#15657b" stroke-width="0.65"/>
<circle cx="184.9" cy="315.5" r="3.3" fill="#d0b81e" stroke="#8d7d14" stroke-width="0.65"/>
<circle cx="143.2" cy="405.3" r="3.3" fill="#247eb7" stroke="#18557c" stroke-width="0.65"/>
<circle cx="162.7" cy="356.4" r="3.3" fill="#35bc3f" stroke="#247f2a" stroke-width="0.65"/>
<circle cx="181.2" cy="324.2" r="3.3" fill="#b0c31e" stroke="#778414" stroke-width="0.65"/>
<circle cx="155.1" cy="348.4" r="3.3" fill="#42bc2e" stroke="#2c7f1f" stroke-width="0.65"/>
<circle cx="177.6" cy="289.3" r="3.3" fill="#da3f1f" stroke="#942a15" stroke-width="0.65"/>
<circle cx="181.5" cy="321.6" r="3.3" fill="#bbc21e" stroke="#7f8314" stroke-width="0.65"/>
<circle cx="187.2" cy="289.4" r="3.3" fill="#da401f" stroke="#942b15" stroke-width="0.65"/>
<circle cx="163.3" cy="344.6" r="3.3" fill="#52bd2a" stroke="#37801c" stroke-width="0.65"/>
<circle cx="192.5" cy="287.7" r="3.3" fill="#d9371f" stroke="#932515" stroke-width="0.65"/>
<circle cx="151.1" cy="369.4" r="3.3" fill="#27bb64" stroke="#1a7f44" stroke-width="0.65"/>
<circle cx="144.1" cy="406.1" r="3.3" fill="#257cb7" stroke="#19547c" stroke-width="0.65"/>
<circle cx="145.2" cy="389.5" r="3.3" fill="#20afa2" stroke="#15776e" stroke-width="0.65"/>
<circle cx="164.1" cy="316.8" r="3.3" fill="#cebe1e" stroke="#8c8114" stroke-width="0.65"/>
<circle cx="163.7" cy="350.1" r="3.3" fill="#3fbc31" stroke="#2a7f21" stroke-width="0.65"/>
<circle cx="170.1" cy="315.3" r="3.3" fill="#d0b71e" stroke="#8d7c14" stroke-width="0.65"/>
<circle cx="151.9" cy="374" r="3.3" fill="#24ba72" stroke="#187e4d" stroke-width="0.65"/>
<circle cx="149.5" cy="372.4" r="3.3" fill="#24ba6d" stroke="#187e4a" stroke-width="0.65"/>
<circle cx="163.7" cy="372.9" r="3.3" fill="#24ba6e" stroke="#187e4a" stroke-width="0.65"/>
<circle cx="165" cy="345.9" r="3.3" fill="#4cbd2b" stroke="#33801d" stroke-width="0.65"/>
<circle cx="181" cy="321.7" r="3.3" fill="#bbc21e" stroke="#7f8314" stroke-width="0.65"/>
<circle cx="141.1" cy="392.3" r="3.3" fill="#20a9aa" stroke="#157273" stroke-width="0.65"/>
<circle cx="163.3" cy="350.2" r="3.3" fill="#3fbc32" stroke="#2a7f22" stroke-width="0.65"/>
<circle cx="167.1" cy="332.7" r="3.3" fill="#89c122" stroke="#5d8317" stroke-width="0.65"/>
<circle cx="163.1" cy="341.7" r="3.3" fill="#5fbe28" stroke="#40811b" stroke-width="0.65"/>
<circle cx="194.6" cy="289.1" r="3.3" fill="#da3e1f" stroke="#942a15" stroke-width="0.65"/>
<circle cx="184.8" cy="292.5" r="3.3" fill="#db501f" stroke="#943615" stroke-width="0.65"/>
<circle cx="167.3" cy="316.4" r="3.3" fill="#cebc1e" stroke="#8c7f14" stroke-width="0.65"/>
<circle cx="162.8" cy="344.8" r="3.3" fill="#51bd2a" stroke="#37801c" stroke-width="0.65"/>
<circle cx="163.3" cy="373.4" r="3.3" fill="#24ba70" stroke="#187e4c" stroke-width="0.65"/>
<circle cx="161.7" cy="351.9" r="3.3" fill="#3cbc35" stroke="#287f24" stroke-width="0.65"/>
<circle cx="163.6" cy="344.2" r="3.3" fill="#54bd2a" stroke="#39801c" stroke-width="0.65"/>
<circle cx="171.8" cy="340" r="3.3" fill="#67bf26" stroke="#468119" stroke-width="0.65"/>
<circle cx="163.1" cy="371.1" r="3.3" fill="#25ba69" stroke="#197e47" stroke-width="0.65"/>
<circle cx="160.2" cy="353.5" r="3.3" fill="#39bc39" stroke="#267f26" stroke-width="0.65"/>
<circle cx="139.4" cy="395.9" r="3.3" fill="#209db1" stroke="#156a78" stroke-width="0.65"/>
<circle cx="164.3" cy="313.2" r="3.3" fill="#d3ae1e" stroke="#8f7614" stroke-width="0.65"/>
<circle cx="140.4" cy="387.6" r="3.3" fill="#20b29b" stroke="#157969" stroke-width="0.65"/>
<circle cx="178.5" cy="288.3" r="3.3" fill="#da3a1f" stroke="#942715" stroke-width="0.65"/>
<circle cx="175.3" cy="329.4" r="3.3" fill="#98c220" stroke="#678315" stroke-width="0.65"/>
<circle cx="163.3" cy="358.1" r="3.3" fill="#32bc43" stroke="#227f2d" stroke-width="0.65"/>
<circle cx="163.7" cy="338" r="3.3" fill="#70bf25" stroke="#4c8119" stroke-width="0.65"/>
<circle cx="182.9" cy="319.9" r="3.3" fill="#c3c11e" stroke="#848314" stroke-width="0.65"/>
<circle cx="163" cy="306.2" r="3.3" fill="#d9911e" stroke="#936214" stroke-width="0.65"/>
<circle cx="165.9" cy="313.9" r="3.3" fill="#d2b11e" stroke="#8e7814" stroke-width="0.65"/>
<circle cx="156.4" cy="366.6" r="3.3" fill="#29bb5b" stroke="#1b7f3d" stroke-width="0.65"/>
<circle cx="156.3" cy="405.8" r="3.3" fill="#257db7" stroke="#19557c" stroke-width="0.65"/>
<circle cx="160.5" cy="359.5" r="3.3" fill="#30bc46" stroke="#207f2f" stroke-width="0.65"/>
<circle cx="162.4" cy="404.6" r="3.3" fill="#2381b8" stroke="#17577d" stroke-width="0.65"/>
<circle cx="177.8" cy="318.7" r="3.3" fill="#c7c11e" stroke="#878314" stroke-width="0.65"/>
<circle cx="164.1" cy="340.2" r="3.3" fill="#66bf27" stroke="#45811a" stroke-width="0.65"/>
<circle cx="149.8" cy="394.6" r="3.3" fill="#20a1af" stroke="#156d77" stroke-width="0.65"/>
<circle cx="168.8" cy="302.3" r="3.3" fill="#dc811e" stroke="#955714" stroke-width="0.65"/>
<circle cx="163" cy="366.6" r="3.3" fill="#29bb5b" stroke="#1b7f3d" stroke-width="0.65"/>
<circle cx="152.1" cy="402.5" r="3.3" fill="#2287b7" stroke="#175b7c" stroke-width="0.65"/>
<circle cx="161.2" cy="372.4" r="3.3" fill="#24ba6d" stroke="#187e4a" stroke-width="0.65"/>
<circle cx="160.3" cy="382.4" r="3.3" fill="#21b78a" stroke="#167c5d" stroke-width="0.65"/>
<circle cx="163.1" cy="400.8" r="3.3" fill="#218db6" stroke="#165f7b" stroke-width="0.65"/>
<circle cx="159.2" cy="353.7" r="3.3" fill="#39bc39" stroke="#267f26" stroke-width="0.65"/>
<circle cx="163.2" cy="307.4" r="3.3" fill="#d8961e" stroke="#926614" stroke-width="0.65"/>
<circle cx="161.6" cy="377.1" r="3.3" fill="#23b97b" stroke="#177d53" stroke-width="0.65"/>
<circle cx="152.7" cy="382.9" r="3.3" fill="#21b78c" stroke="#167c5f" stroke-width="0.65"/>
<circle cx="149.1" cy="357.1" r="3.3" fill="#33bc41" stroke="#227f2c" stroke-width="0.65"/>
<circle cx="175.2" cy="317.5" r="3.3" fill="#ccc01e" stroke="#8a8214" stroke-width="0.65"/>
<circle cx="162.8" cy="369.4" r="3.3" fill="#27bb64" stroke="#1a7f44" stroke-width="0.65"/>
<circle cx="163" cy="315.9" r="3.3" fill="#cfba1e" stroke="#8c7e14" stroke-width="0.65"/>
<circle cx="161.1" cy="390.3" r="3.3" fill="#20ada5" stroke="#157570" stroke-width="0.65"/>
<circle cx="191.9" cy="289.8" r="3.3" fill="#da421f" stroke="#942c15" stroke-width="0.65"/>
<circle cx="167.2" cy="302.2" r="3.3" fill="#dc811e" stroke="#955714" stroke-width="0.65"/>
<circle cx="158.7" cy="403.1" r="3.3" fill="#2285b8" stroke="#175a7d" stroke-width="0.65"/>
<circle cx="170.7" cy="316.8" r="3.3" fill="#cebe1e" stroke="#8c8114" stroke-width="0.65"/>
<circle cx="172.9" cy="317.7" r="3.3" fill="#ccc01e" stroke="#8a8214" stroke-width="0.65"/>
<circle cx="163.8" cy="335.8" r="3.3" fill="#7ac023" stroke="#528217" stroke-width="0.65"/>
<circle cx="199.2" cy="287.7" r="3.3" fill="#d9371f" stroke="#932515" stroke-width="0.65"/>
<circle cx="171.8" cy="300.6" r="3.3" fill="#dd7a1e" stroke="#965214" stroke-width="0.65"/>
<circle cx="166.4" cy="289.5" r="3.3" fill="#da401f" stroke="#942b15" stroke-width="0.65"/>
<circle cx="200.3" cy="301.8" r="3.3" fill="#dc7f1e" stroke="#955614" stroke-width="0.65"/>
<circle cx="143.8" cy="388.4" r="3.3" fill="#20b19e" stroke="#15786b" stroke-width="0.65"/>
<circle cx="169.7" cy="295.7" r="3.3" fill="#dd621e" stroke="#964214" stroke-width="0.65"/>
<circle cx="163.6" cy="329.9" r="3.3" fill="#96c121" stroke="#668316" stroke-width="0.65"/>
<circle cx="166.6" cy="302.1" r="3.3" fill="#dc801e" stroke="#955714" stroke-width="0.65"/>
<circle cx="174.1" cy="336.6" r="3.3" fill="#76c024" stroke="#508218" stroke-width="0.65"/>
<circle cx="163.3" cy="336.6" r="3.3" fill="#76c024" stroke="#508218" stroke-width="0.65"/>
<circle cx="164.1" cy="343.4" r="3.3" fill="#58be29" stroke="#3b811b" stroke-width="0.65"/>
<circle cx="200.3" cy="287.6" r="3.3" fill="#d9361f" stroke="#932415" stroke-width="0.65"/>
<circle cx="164" cy="295.9" r="3.3" fill="#dd631e" stroke="#964314" stroke-width="0.65"/>
<circle cx="176.2" cy="324.6" r="3.3" fill="#afc31e" stroke="#778414" stroke-width="0.65"/>
<circle cx="191.7" cy="289.8" r="3.3" fill="#da421f" stroke="#942c15" stroke-width="0.65"/>
<circle cx="169.2" cy="344.7" r="3.3" fill="#51bd2a" stroke="#37801c" stroke-width="0.65"/>
<circle cx="163.2" cy="304.2" r="3.3" fill="#da891e" stroke="#945d14" stroke-width="0.65"/>
<circle cx="196.2" cy="304.8" r="3.3" fill="#da8b1e" stroke="#945e14" stroke-width="0.65"/>
<circle cx="164.9" cy="327" r="3.3" fill="#a3c21f" stroke="#6e8315" stroke-width="0.65"/>
<circle cx="153.7" cy="405.9" r="3.3" fill="#257cb7" stroke="#19547c" stroke-width="0.65"/>
<circle cx="161.8" cy="363.5" r="3.3" fill="#2cbc51" stroke="#1d7f37" stroke-width="0.65"/>
<circle cx="150.6" cy="352.6" r="3.3" fill="#3bbc37" stroke="#287f25" stroke-width="0.65"/>
<circle cx="163.1" cy="327.1" r="3.3" fill="#a3c21f" stroke="#6e8315" stroke-width="0.65"/>
<circle cx="167.5" cy="291.1" r="3.3" fill="#db491f" stroke="#943115" stroke-width="0.65"/>
<circle cx="163.5" cy="354.7" r="3.3" fill="#37bc3b" stroke="#257f28" stroke-width="0.65"/>
<circle cx="163.6" cy="291.6" r="3.3" fill="#db4c1f" stroke="#943315" stroke-width="0.65"/>
<circle cx="165.2" cy="325.3" r="3.3" fill="#acc31f" stroke="#748415" stroke-width="0.65"/>
<circle cx="161.1" cy="354.3" r="3.3" fill="#38bc3b" stroke="#267f28" stroke-width="0.65"/>
<circle cx="159.8" cy="348.9" r="3.3" fill="#41bc2f" stroke="#2c7f1f" stroke-width="0.65"/>
<circle cx="144.2" cy="367.4" r="3.3" fill="#28bb5d" stroke="#1b7f3f" stroke-width="0.65"/>
<circle cx="171.6" cy="296.1" r="3.3" fill="#dd641e" stroke="#964414" stroke-width="0.65"/>
<circle cx="175.7" cy="296.4" r="3.3" fill="#dd661e" stroke="#964514" stroke-width="0.65"/>
<circle cx="162.6" cy="397.9" r="3.3" fill="#2096b4" stroke="#15667a" stroke-width="0.65"/>
<circle cx="163" cy="404.1" r="3.3" fill="#2382b8" stroke="#17587d" stroke-width="0.65"/>
<circle cx="179.8" cy="324" r="3.3" fill="#b1c31e" stroke="#788414" stroke-width="0.65"/>
<circle cx="191.9" cy="297.3" r="3.3" fill="#dd6b1e" stroke="#964814" stroke-width="0.65"/>
<circle cx="151.8" cy="358" r="3.3" fill="#32bc43" stroke="#227f2d" stroke-width="0.65"/>
<circle cx="181.3" cy="289.4" r="3.3" fill="#da401f" stroke="#942b15" stroke-width="0.65"/>
<circle cx="163.1" cy="326.1" r="3.3" fill="#a8c21f" stroke="#728315" stroke-width="0.65"/>
<circle cx="165.1" cy="325.9" r="3.3" fill="#a9c21f" stroke="#728315" stroke-width="0.65"/>
<circle cx="140.5" cy="386" r="3.3" fill="#20b495" stroke="#157a65" stroke-width="0.65"/>
<circle cx="166.2" cy="344.3" r="3.3" fill="#53bd2a" stroke="#38801c" stroke-width="0.65"/>
<circle cx="195.5" cy="288.9" r="3.3" fill="#da3d1f" stroke="#942915" stroke-width="0.65"/>
<circle cx="182.5" cy="302.7" r="3.3" fill="#dc831e" stroke="#955914" stroke-width="0.65"/>
<circle cx="163.2" cy="325.6" r="3.3" fill="#aac21f" stroke="#738315" stroke-width="0.65"/>
<circle cx="154.9" cy="405.6" r="3.3" fill="#257db7" stroke="#19557c" stroke-width="0.65"/>
<circle cx="166" cy="300.4" r="3.3" fill="#dd791e" stroke="#965214" stroke-width="0.65"/>
<circle cx="177.4" cy="295.6" r="3.3" fill="#dd621e" stroke="#964214" stroke-width="0.65"/>
<circle cx="157.6" cy="392.1" r="3.3" fill="#20a9aa" stroke="#157273" stroke-width="0.65"/>
<circle cx="173.9" cy="289.9" r="3.3" fill="#da421f" stroke="#942c15" stroke-width="0.65"/>
<circle cx="183.4" cy="320.2" r="3.3" fill="#c1c11e" stroke="#838314" stroke-width="0.65"/>
<circle cx="190.8" cy="289.4" r="3.3" fill="#da401f" stroke="#942b15" stroke-width="0.65"/>
<circle cx="142.7" cy="396.8" r="3.3" fill="#209ab3" stroke="#156879" stroke-width="0.65"/>
<circle cx="155.5" cy="360.6" r="3.3" fill="#2ebc49" stroke="#1f7f31" stroke-width="0.65"/>
<circle cx="155.1" cy="405.6" r="3.3" fill="#257db7" stroke="#19557c" stroke-width="0.65"/>
<circle cx="163.9" cy="330.2" r="3.3" fill="#94c121" stroke="#648316" stroke-width="0.65"/>
<circle cx="163.3" cy="292.7" r="3.3" fill="#dc521e" stroke="#953714" stroke-width="0.65"/>
<circle cx="176.4" cy="290.9" r="3.3" fill="#db481f" stroke="#943015" stroke-width="0.65"/>
<circle cx="181.4" cy="318.2" r="3.3" fill="#c9c01e" stroke="#888214" stroke-width="0.65"/>
<circle cx="163" cy="302.2" r="3.3" fill="#dc811e" stroke="#955714" stroke-width="0.65"/>
<circle cx="167.4" cy="310.3" r="3.3" fill="#d7a21e" stroke="#926e14" stroke-width="0.65"/>
<circle cx="162.1" cy="396.4" r="3.3" fill="#209bb2" stroke="#156979" stroke-width="0.65"/>
<circle cx="163.9" cy="335.5" r="3.3" fill="#7bc023" stroke="#538217" stroke-width="0.65"/>
<circle cx="163.4" cy="294.1" r="3.3" fill="#dc591e" stroke="#953c14" stroke-width="0.65"/>
<circle cx="165.5" cy="312.1" r="3.3" fill="#d5a91e" stroke="#907214" stroke-width="0.65"/>
<circle cx="173.2" cy="330.4" r="3.3" fill="#93c121" stroke="#638316" stroke-width="0.65"/>
<circle cx="165.8" cy="304" r="3.3" fill="#db881e" stroke="#945c14" stroke-width="0.65"/>
<circle cx="163" cy="401.4" r="3.3" fill="#218bb7" stroke="#165e7c" stroke-width="0.65"/>
<circle cx="163.2" cy="319.5" r="3.3" fill="#c4c11e" stroke="#858314" stroke-width="0.65"/>
<circle cx="165.9" cy="339.9" r="3.3" fill="#67bf26" stroke="#468119" stroke-width="0.65"/>
<circle cx="156.3" cy="361.3" r="3.3" fill="#2dbc4b" stroke="#1e7f33" stroke-width="0.65"/>
<circle cx="163" cy="319.3" r="3.3" fill="#c5c11e" stroke="#858314" stroke-width="0.65"/>
<circle cx="174.2" cy="333.4" r="3.3" fill="#85c122" stroke="#5a8317" stroke-width="0.65"/>
<circle cx="166.5" cy="330.3" r="3.3" fill="#94c121" stroke="#648316" stroke-width="0.65"/>
<circle cx="168.2" cy="319.9" r="3.3" fill="#c2c11e" stroke="#838314" stroke-width="0.65"/>
<circle cx="163.5" cy="314.8" r="3.3" fill="#d1b51e" stroke="#8e7b14" stroke-width="0.65"/>
<circle cx="173.1" cy="296.9" r="3.3" fill="#dd691e" stroke="#964714" stroke-width="0.65"/>
<circle cx="152.8" cy="363.6" r="3.3" fill="#2bbb52" stroke="#1d7f37" stroke-width="0.65"/>
<circle cx="165" cy="322" r="3.3" fill="#bac21e" stroke="#7e8314" stroke-width="0.65"/>
<circle cx="189.1" cy="300.5" r="3.3" fill="#dd7a1e" stroke="#965214" stroke-width="0.65"/>
<circle cx="170.8" cy="287.6" r="3.3" fill="#d9361f" stroke="#932415" stroke-width="0.65"/>
<circle cx="197.1" cy="301" r="3.3" fill="#dd7c1e" stroke="#965414" stroke-width="0.65"/>
<circle cx="163.2" cy="303.6" r="3.3" fill="#db861e" stroke="#945b14" stroke-width="0.65"/>
<circle cx="163.8" cy="330.2" r="3.3" fill="#94c121" stroke="#648316" stroke-width="0.65"/>
<circle cx="152.4" cy="359.7" r="3.3" fill="#2fbc47" stroke="#1f7f30" stroke-width="0.65"/>
<circle cx="163.8" cy="349.7" r="3.3" fill="#3fbc31" stroke="#2a7f21" stroke-width="0.65"/>
<circle cx="202.4" cy="300.3" r="3.3" fill="#dd791e" stroke="#965214" stroke-width="0.65"/>
<circle cx="192.4" cy="288.7" r="3.3" fill="#da3c1f" stroke="#942815" stroke-width="0.65"/>
<circle cx="161.9" cy="386.8" r="3.3" fill="#20b398" stroke="#157967" stroke-width="0.65"/>
<circle cx="164.7" cy="293.9" r="3.3" fill="#dc581e" stroke="#953b14" stroke-width="0.65"/>
<circle cx="162.9" cy="376.7" r="3.3" fill="#23b97a" stroke="#177d52" stroke-width="0.65"/>
<circle cx="165.4" cy="313.8" r="3.3" fill="#d2b11e" stroke="#8e7814" stroke-width="0.65"/>
<circle cx="189.7" cy="291.6" r="3.3" fill="#db4c1f" stroke="#943315" stroke-width="0.65"/>
<circle cx="163" cy="345.1" r="3.3" fill="#50bd2b" stroke="#36801d" stroke-width="0.65"/>
<circle cx="159.6" cy="378" r="3.3" fill="#22b87d" stroke="#177d55" stroke-width="0.65"/>
<circle cx="173.6" cy="294.6" r="3.3" fill="#dc5c1e" stroke="#953e14" stroke-width="0.65"/>
<circle cx="163.8" cy="308.8" r="3.3" fill="#d89c1e" stroke="#926a14" stroke-width="0.65"/>
<circle cx="167.1" cy="343.7" r="3.3" fill="#56bd29" stroke="#3a801b" stroke-width="0.65"/>
<circle cx="185.6" cy="288" r="3.3" fill="#da381f" stroke="#942615" stroke-width="0.65"/>
<circle cx="152.6" cy="405" r="3.3" fill="#247fb8" stroke="#18567d" stroke-width="0.65"/>
<circle cx="177.6" cy="289.6" r="3.3" fill="#da411f" stroke="#942c15" stroke-width="0.65"/>
<circle cx="162.5" cy="348.7" r="3.3" fill="#41bc2e" stroke="#2c7f1f" stroke-width="0.65"/>
<circle cx="161.9" cy="391.9" r="3.3" fill="#20aaa9" stroke="#157372" stroke-width="0.65"/>
<circle cx="173.4" cy="316.9" r="3.3" fill="#cebe1e" stroke="#8c8114" stroke-width="0.65"/>
<circle cx="162.6" cy="337.9" r="3.3" fill="#70bf25" stroke="#4c8119" stroke-width="0.65"/>
<circle cx="159.3" cy="369.3" r="3.3" fill="#27bb63" stroke="#1a7f43" stroke-width="0.65"/>
<circle cx="162.4" cy="355.9" r="3.3" fill="#35bc3e" stroke="#247f2a" stroke-width="0.65"/>
<circle cx="169.8" cy="331.4" r="3.3" fill="#8fc121" stroke="#618316" stroke-width="0.65"/>
<circle cx="149.6" cy="389.5" r="3.3" fill="#20afa2" stroke="#15776e" stroke-width="0.65"/>
<circle cx="162.2" cy="374.3" r="3.3" fill="#23b973" stroke="#177d4e" stroke-width="0.65"/>
<circle cx="170.5" cy="335.4" r="3.3" fill="#7cc023" stroke="#548217" stroke-width="0.65"/>
<circle cx="150.3" cy="404.8" r="3.3" fill="#2480b8" stroke="#18577d" stroke-width="0.65"/>
<circle cx="162.8" cy="363.8" r="3.3" fill="#2bbb52" stroke="#1d7f37" stroke-width="0.65"/>
<circle cx="145.3" cy="382.5" r="3.3" fill="#21b78b" stroke="#167c5e" stroke-width="0.65"/>
<circle cx="159.2" cy="350.4" r="3.3" fill="#3ebc32" stroke="#2a7f22" stroke-width="0.65"/>
<circle cx="162.2" cy="397.1" r="3.3" fill="#2099b3" stroke="#156879" stroke-width="0.65"/>
<circle cx="181.8" cy="325.4" r="3.3" fill="#abc31f" stroke="#748415" stroke-width="0.65"/>
<circle cx="163.7" cy="385.1" r="3.3" fill="#20b692" stroke="#157b63" stroke-width="0.65"/>
<circle cx="148.4" cy="372.1" r="3.3" fill="#25ba6c" stroke="#197e49" stroke-width="0.65"/>
<circle cx="167.2" cy="291.9" r="3.3" fill="#db4d1f" stroke="#943415" stroke-width="0.65"/>
<circle cx="161.4" cy="371.9" r="3.3" fill="#25ba6b" stroke="#197e48" stroke-width="0.65"/>
<circle cx="162.2" cy="375.3" r="3.3" fill="#23b975" stroke="#177d4f" stroke-width="0.65"/>
<circle cx="191.8" cy="311" r="3.3" fill="#d6a41e" stroke="#916f14" stroke-width="0.65"/>
<circle cx="197.4" cy="287.9" r="3.3" fill="#da381f" stroke="#942615" stroke-width="0.65"/>
<circle cx="159.7" cy="385.9" r="3.3" fill="#20b595" stroke="#157b65" stroke-width="0.65"/>
<circle cx="174.8" cy="325.4" r="3.3" fill="#abc31f" stroke="#748415" stroke-width="0.65"/>
<circle cx="169.3" cy="310.5" r="3.3" fill="#d6a21e" stroke="#916e14" stroke-width="0.65"/>
<circle cx="170.1" cy="288.6" r="3.3" fill="#da3b1f" stroke="#942815" stroke-width="0.65"/>
<circle cx="170.4" cy="293.4" r="3.3" fill="#dc561e" stroke="#953a14" stroke-width="0.65"/>
<circle cx="195.6" cy="296.1" r="3.3" fill="#dd641e" stroke="#964414" stroke-width="0.65"/>
<circle cx="163" cy="305.5" r="3.3" fill="#da8e1e" stroke="#946014" stroke-width="0.65"/>
<circle cx="172.8" cy="288.7" r="3.3" fill="#da3c1f" stroke="#942815" stroke-width="0.65"/>
<circle cx="177.8" cy="330.4" r="3.3" fill="#93c121" stroke="#638316" stroke-width="0.65"/>
<circle cx="164.5" cy="287.5" r="3.3" fill="#d9361f" stroke="#932415" stroke-width="0.65"/>
<circle cx="198.5" cy="301.1" r="3.3" fill="#dd7c1e" stroke="#965414" stroke-width="0.65"/>
<circle cx="161.6" cy="394.8" r="3.3" fill="#20a1af" stroke="#156d77" stroke-width="0.65"/>
<circle cx="176.3" cy="299.3" r="3.3" fill="#de751e" stroke="#964f14" stroke-width="0.65"/>
<circle cx="159.6" cy="350.6" r="3.3" fill="#3ebc33" stroke="#2a7f22" stroke-width="0.65"/>
<circle cx="160.3" cy="350.9" r="3.3" fill="#3dbc33" stroke="#297f22" stroke-width="0.65"/>
<circle cx="160.3" cy="384.1" r="3.3" fill="#20b68f" stroke="#157b61" stroke-width="0.65"/>
<circle cx="173.1" cy="324.1" r="3.3" fill="#b1c31e" stroke="#788414" stroke-width="0.65"/>
<circle cx="179.6" cy="299.8" r="3.3" fill="#dd771e" stroke="#965014" stroke-width="0.65"/>
<circle cx="166.3" cy="301.2" r="3.3" fill="#dc7d1e" stroke="#955514" stroke-width="0.65"/>
<circle cx="154.6" cy="399.9" r="3.3" fill="#2190b6" stroke="#16617b" stroke-width="0.65"/>
<circle cx="163.1" cy="378.8" r="3.3" fill="#22b880" stroke="#177d57" stroke-width="0.65"/>
<circle cx="171.5" cy="314.3" r="3.3" fill="#d1b31e" stroke="#8e7914" stroke-width="0.65"/>
<circle cx="160.4" cy="364.6" r="3.3" fill="#2bbb55" stroke="#1d7f39" stroke-width="0.65"/>
<circle cx="164.7" cy="331" r="3.3" fill="#91c121" stroke="#628316" stroke-width="0.65"/>
<circle cx="160.5" cy="398" r="3.3" fill="#2096b4" stroke="#15667a" stroke-width="0.65"/>
<circle cx="170" cy="340.1" r="3.3" fill="#66bf27" stroke="#45811a" stroke-width="0.65"/>
<circle cx="153" cy="389.2" r="3.3" fill="#20afa1" stroke="#15776d" stroke-width="0.65"/>
<circle cx="170.3" cy="295.3" r="3.3" fill="#dd601e" stroke="#964114" stroke-width="0.65"/>
<circle cx="163" cy="321.8" r="3.3" fill="#bbc21e" stroke="#7f8314" stroke-width="0.65"/>
<circle cx="163.4" cy="356.6" r="3.3" fill="#34bc40" stroke="#237f2b" stroke-width="0.65"/>
<circle cx="163" cy="320.7" r="3.3" fill="#bfc21e" stroke="#818314" stroke-width="0.65"/>
<circle cx="146.1" cy="370.2" r="3.3" fill="#26ba66" stroke="#197e45" stroke-width="0.65"/>
<circle cx="175.7" cy="335" r="3.3" fill="#7ec023" stroke="#558217" stroke-width="0.65"/>
<circle cx="174.8" cy="320.9" r="3.3" fill="#bec21e" stroke="#818314" stroke-width="0.65"/>
<circle cx="163.6" cy="326.1" r="3.3" fill="#a7c21f" stroke="#718315" stroke-width="0.65"/>
<circle cx="169.1" cy="323.3" r="3.3" fill="#b5c31e" stroke="#7b8414" stroke-width="0.65"/>
<circle cx="146.9" cy="385.7" r="3.3" fill="#20b594" stroke="#157b64" stroke-width="0.65"/>
<circle cx="148.8" cy="354.3" r="3.3" fill="#38bc3b" stroke="#267f28" stroke-width="0.65"/>
<circle cx="155" cy="395.3" r="3.3" fill="#209fb0" stroke="#156c77" stroke-width="0.65"/>
<circle cx="168.6" cy="305.6" r="3.3" fill="#da8f1e" stroke="#946114" stroke-width="0.65"/>
<circle cx="167" cy="287.8" r="3.3" fill="#da371f" stroke="#942515" stroke-width="0.65"/>
<circle cx="176.8" cy="320.4" r="3.3" fill="#c1c11e" stroke="#838314" stroke-width="0.65"/>
<circle cx="159.5" cy="350" r="3.3" fill="#3fbc31" stroke="#2a7f21" stroke-width="0.65"/>
<circle cx="195.6" cy="290.1" r="3.3" fill="#da431f" stroke="#942d15" stroke-width="0.65"/>
<circle cx="157.6" cy="370.1" r="3.3" fill="#26ba66" stroke="#197e45" stroke-width="0.65"/>
<circle cx="170.8" cy="339.2" r="3.3" fill="#6abf26" stroke="#488119" stroke-width="0.65"/>
<circle cx="164.1" cy="342" r="3.3" fill="#5ebe28" stroke="#3f811b" stroke-width="0.65"/>
<circle cx="162.1" cy="369.6" r="3.3" fill="#27bb64" stroke="#1a7f44" stroke-width="0.65"/>
<circle cx="171.9" cy="318.2" r="3.3" fill="#c9c01e" stroke="#888214" stroke-width="0.65"/>
<circle cx="163" cy="386.9" r="3.3" fill="#20b398" stroke="#157967" stroke-width="0.65"/>
<circle cx="170.5" cy="310.9" r="3.3" fill="#d6a41e" stroke="#916f14" stroke-width="0.65"/>
<circle cx="163" cy="307.8" r="3.3" fill="#d8971e" stroke="#926614" stroke-width="0.65"/>
<circle cx="163.3" cy="302.9" r="3.3" fill="#db841e" stroke="#945914" stroke-width="0.65"/>
<circle cx="158" cy="406.5" r="3.3" fill="#267bb7" stroke="#19537c" stroke-width="0.65"/>
<circle cx="178.7" cy="326.5" r="3.3" fill="#a5c21f" stroke="#708315" stroke-width="0.65"/>
<circle cx="162.8" cy="344.1" r="3.3" fill="#54bd2a" stroke="#39801c" stroke-width="0.65"/>
<circle cx="151.5" cy="385.5" r="3.3" fill="#20b594" stroke="#157b64" stroke-width="0.65"/>
<circle cx="137.6" cy="399" r="3.3" fill="#2193b5" stroke="#16637b" stroke-width="0.65"/>
<circle cx="179.4" cy="310.1" r="3.3" fill="#d7a11e" stroke="#926d14" stroke-width="0.65"/>
<circle cx="162.5" cy="362.5" r="3.3" fill="#2cbc4e" stroke="#1d7f35" stroke-width="0.65"/>
<circle cx="162.1" cy="366.6" r="3.3" fill="#29bb5b" stroke="#1b7f3d" stroke-width="0.65"/>
<circle cx="163.5" cy="350" r="3.3" fill="#3fbc31" stroke="#2a7f21" stroke-width="0.65"/>
<circle cx="161.7" cy="405.4" r="3.3" fill="#247eb7" stroke="#18557c" stroke-width="0.65"/>
<circle cx="175" cy="337.2" r="3.3" fill="#74c024" stroke="#4e8218" stroke-width="0.65"/>
<circle cx="162.7" cy="305" r="3.3" fill="#da8c1e" stroke="#945f14" stroke-width="0.65"/>
<circle cx="174.1" cy="288.8" r="3.3" fill="#da3d1f" stroke="#942915" stroke-width="0.65"/>
<circle cx="174.8" cy="308" r="3.3" fill="#d8981e" stroke="#926714" stroke-width="0.65"/>
<circle cx="159.9" cy="355.6" r="3.3" fill="#36bc3e" stroke="#247f2a" stroke-width="0.65"/>
<circle cx="153.8" cy="378.2" r="3.3" fill="#22b87e" stroke="#177d55" stroke-width="0.65"/>
<circle cx="175.5" cy="325.7" r="3.3" fill="#a9c21f" stroke="#728315" stroke-width="0.65"/>
<circle cx="162.5" cy="373.9" r="3.3" fill="#24ba71" stroke="#187e4c" stroke-width="0.65"/>
<circle cx="162.8" cy="365.9" r="3.3" fill="#2abb59" stroke="#1c7f3c" stroke-width="0.65"/>
<circle cx="163.8" cy="292.5" r="3.3" fill="#db511f" stroke="#943715" stroke-width="0.65"/>
<circle cx="171.5" cy="308.2" r="3.3" fill="#d8991e" stroke="#926814" stroke-width="0.65"/>
<circle cx="160.6" cy="378.1" r="3.3" fill="#22b87e" stroke="#177d55" stroke-width="0.65"/>
<circle cx="148.6" cy="403.8" r="3.3" fill="#2283b8" stroke="#17597d" stroke-width="0.65"/>
<circle cx="163.2" cy="288.7" r="3.3" fill="#da3c1f" stroke="#942815" stroke-width="0.65"/>
<circle cx="175.3" cy="315.5" r="3.3" fill="#d0b81e" stroke="#8d7d14" stroke-width="0.65"/>
<circle cx="160.2" cy="367" r="3.3" fill="#29bb5c" stroke="#1b7f3e" stroke-width="0.65"/>
<circle cx="164.7" cy="299.7" r="3.3" fill="#dd771e" stroke="#965014" stroke-width="0.65"/>
<circle cx="164.2" cy="290.7" r="3.3" fill="#db471f" stroke="#943015" stroke-width="0.65"/>
<circle cx="166.8" cy="295" r="3.3" fill="#dc5e1e" stroke="#953f14" stroke-width="0.65"/>
<circle cx="158.7" cy="374.6" r="3.3" fill="#23b973" stroke="#177d4e" stroke-width="0.65"/>
<circle cx="167.2" cy="293.6" r="3.3" fill="#dc571e" stroke="#953b14" stroke-width="0.65"/>
<circle cx="164.2" cy="330.6" r="3.3" fill="#92c121" stroke="#638316" stroke-width="0.65"/>
<circle cx="146.9" cy="399.8" r="3.3" fill="#2190b6" stroke="#16617b" stroke-width="0.65"/>
<circle cx="167.8" cy="339.7" r="3.3" fill="#68bf26" stroke="#468119" stroke-width="0.65"/>
<circle cx="164.6" cy="316.6" r="3.3" fill="#cebd1e" stroke="#8c8014" stroke-width="0.65"/>
<circle cx="161.7" cy="378.2" r="3.3" fill="#22b87e" stroke="#177d55" stroke-width="0.65"/>
<circle cx="173.7" cy="339.1" r="3.3" fill="#6bbf26" stroke="#488119" stroke-width="0.65"/>
<circle cx="169.7" cy="340.7" r="3.3" fill="#64be27" stroke="#44811a" stroke-width="0.65"/>
<circle cx="166.8" cy="318.8" r="3.3" fill="#c7c11e" stroke="#878314" stroke-width="0.65"/>
<circle cx="169.1" cy="324" r="3.3" fill="#b1c31e" stroke="#788414" stroke-width="0.65"/>
<circle cx="166.2" cy="307.5" r="3.3" fill="#d8961e" stroke="#926614" stroke-width="0.65"/>
<circle cx="161.7" cy="372.2" r="3.3" fill="#24ba6c" stroke="#187e49" stroke-width="0.65"/>
<circle cx="184.8" cy="289.8" r="3.3" fill="#da421f" stroke="#942c15" stroke-width="0.65"/>
<circle cx="168.9" cy="332.4" r="3.3" fill="#8ac122" stroke="#5d8317" stroke-width="0.65"/>
<circle cx="203" cy="299.8" r="3.3" fill="#dd771e" stroke="#965014" stroke-width="0.65"/>
<circle cx="162.9" cy="317.2" r="3.3" fill="#cdbf1e" stroke="#8b8114" stroke-width="0.65"/>
<circle cx="164.6" cy="330.2" r="3.3" fill="#94c121" stroke="#648316" stroke-width="0.65"/>
<circle cx="171.5" cy="291" r="3.3" fill="#db491f" stroke="#943115" stroke-width="0.65"/>
<circle cx="144.3" cy="379" r="3.3" fill="#22b880" stroke="#177d57" stroke-width="0.65"/>
<circle cx="164.4" cy="338.7" r="3.3" fill="#6dbf25" stroke="#4a8119" stroke-width="0.65"/>
<circle cx="163.9" cy="303.2" r="3.3" fill="#db851e" stroke="#945a14" stroke-width="0.65"/>
<circle cx="163.9" cy="327.4" r="3.3" fill="#a1c220" stroke="#6d8315" stroke-width="0.65"/>
<circle cx="159.3" cy="387.5" r="3.3" fill="#20b29b" stroke="#157969" stroke-width="0.65"/>
<circle cx="175.8" cy="300.8" r="3.3" fill="#dd7b1e" stroke="#965314" stroke-width="0.65"/>
<circle cx="163" cy="295.2" r="3.3" fill="#dd5f1e" stroke="#964014" stroke-width="0.65"/>
<circle cx="177.6" cy="288.3" r="3.3" fill="#da3a1f" stroke="#942715" stroke-width="0.65"/>
<circle cx="179.5" cy="326.4" r="3.3" fill="#a6c21f" stroke="#708315" stroke-width="0.65"/>
<circle cx="161.9" cy="383.1" r="3.3" fill="#21b78c" stroke="#167c5f" stroke-width="0.65"/>
<circle cx="172.3" cy="334.6" r="3.3" fill="#80c023" stroke="#578217" stroke-width="0.65"/>
<circle cx="171.9" cy="342.3" r="3.3" fill="#5cbe28" stroke="#3e811b" stroke-width="0.65"/>
<circle cx="164.5" cy="302.5" r="3.3" fill="#dc821e" stroke="#955814" stroke-width="0.65"/>
<circle cx="151.8" cy="396.1" r="3.3" fill="#209cb2" stroke="#156a79" stroke-width="0.65"/>
<circle cx="166" cy="339.2" r="3.3" fill="#6abf26" stroke="#488119" stroke-width="0.65"/>
<circle cx="181.3" cy="319.6" r="3.3" fill="#c3c11e" stroke="#848314" stroke-width="0.65"/>
<circle cx="163" cy="319.6" r="3.3" fill="#c4c11e" stroke="#858314" stroke-width="0.65"/>
<circle cx="151.1" cy="363.5" r="3.3" fill="#2cbc51" stroke="#1d7f37" stroke-width="0.65"/>
<circle cx="145.3" cy="406.2" r="3.3" fill="#257bb7" stroke="#19537c" stroke-width="0.65"/>
<circle cx="207.5" cy="291.3" r="3.3" fill="#db4a1f" stroke="#943215" stroke-width="0.65"/>
<circle cx="173.9" cy="306.6" r="3.3" fill="#d9921e" stroke="#936314" stroke-width="0.65"/>
<circle cx="163" cy="294.7" r="3.3" fill="#dc5d1e" stroke="#953f14" stroke-width="0.65"/>
<circle cx="145.6" cy="378.5" r="3.3" fill="#22b87f" stroke="#177d56" stroke-width="0.65"/>
<circle cx="162.6" cy="406.8" r="3.3" fill="#2679b7" stroke="#19527c" stroke-width="0.65"/>
<circle cx="174.8" cy="318.1" r="3.3" fill="#cac01e" stroke="#898214" stroke-width="0.65"/>
<circle cx="178.9" cy="289.7" r="3.3" fill="#da411f" stroke="#942c15" stroke-width="0.65"/>
<circle cx="162.6" cy="404.3" r="3.3" fill="#2382b8" stroke="#17587d" stroke-width="0.65"/>
<circle cx="166.9" cy="296.1" r="3.3" fill="#dd641e" stroke="#964414" stroke-width="0.65"/>
<circle cx="196.3" cy="293.6" r="3.3" fill="#dc571e" stroke="#953b14" stroke-width="0.65"/>
<circle cx="149.5" cy="369.6" r="3.3" fill="#27bb64" stroke="#1a7f44" stroke-width="0.65"/>
<circle cx="164.2" cy="317.4" r="3.3" fill="#cdc01e" stroke="#8b8214" stroke-width="0.65"/>
<circle cx="143" cy="392.5" r="3.3" fill="#20a8aa" stroke="#157273" stroke-width="0.65"/>
<circle cx="180.9" cy="312" r="3.3" fill="#d5a91e" stroke="#907214" stroke-width="0.65"/>
<circle cx="159.9" cy="400.4" r="3.3" fill="#218eb6" stroke="#16607b" stroke-width="0.65"/>
<circle cx="166.7" cy="295.1" r="3.3" fill="#dc5f1e" stroke="#954014" stroke-width="0.65"/>
<circle cx="180.4" cy="316.5" r="3.3" fill="#cebc1e" stroke="#8c7f14" stroke-width="0.65"/>
<circle cx="147.6" cy="393.4" r="3.3" fill="#20a5ac" stroke="#157074" stroke-width="0.65"/>
<circle cx="143.6" cy="386.1" r="3.3" fill="#20b496" stroke="#157a66" stroke-width="0.65"/>
<circle cx="166.6" cy="327.8" r="3.3" fill="#a0c220" stroke="#6c8315" stroke-width="0.65"/>
<circle cx="176.6" cy="305.9" r="3.3" fill="#d9901e" stroke="#936114" stroke-width="0.65"/>
<circle cx="154.2" cy="357.7" r="3.3" fill="#32bc42" stroke="#227f2c" stroke-width="0.65"/>
<circle cx="198.1" cy="289" r="3.3" fill="#da3e1f" stroke="#942a15" stroke-width="0.65"/>
<circle cx="167.9" cy="309.5" r="3.3" fill="#d79f1e" stroke="#926c14" stroke-width="0.65"/>
<circle cx="162.7" cy="405.2" r="3.3" fill="#247fb7" stroke="#18567c" stroke-width="0.65"/>
<circle cx="180.3" cy="317" r="3.3" fill="#cdbf1e" stroke="#8b8114" stroke-width="0.65"/>
<circle cx="163" cy="343.5" r="3.3" fill="#57bd29" stroke="#3b801b" stroke-width="0.65"/>
<circle cx="159.8" cy="406.4" r="3.3" fill="#267bb7" stroke="#19537c" stroke-width="0.65"/>
<circle cx="156.8" cy="348.2" r="3.3" fill="#42bc2d" stroke="#2c7f1e" stroke-width="0.65"/>
<circle cx="179.2" cy="293.7" r="3.3" fill="#dc571e" stroke="#953b14" stroke-width="0.65"/>
<circle cx="170.2" cy="340.4" r="3.3" fill="#65be27" stroke="#44811a" stroke-width="0.65"/>
<circle cx="143.4" cy="404.7" r="3.3" fill="#2480b8" stroke="#18577d" stroke-width="0.65"/>
<circle cx="162.8" cy="386" r="3.3" fill="#20b495" stroke="#157a65" stroke-width="0.65"/>
<circle cx="163.4" cy="317.8" r="3.3" fill="#cbc01e" stroke="#8a8214" stroke-width="0.65"/>
<circle cx="165.9" cy="342.5" r="3.3" fill="#5bbe28" stroke="#3d811b" stroke-width="0.65"/>
<circle cx="154.7" cy="363.8" r="3.3" fill="#2bbb52" stroke="#1d7f37" stroke-width="0.65"/>
<circle cx="165.7" cy="291" r="3.3" fill="#db481f" stroke="#943015" stroke-width="0.65"/>
<circle cx="190.8" cy="308.5" r="3.3" fill="#d89a1e" stroke="#926814" stroke-width="0.65"/>
<circle cx="162.6" cy="344.6" r="3.3" fill="#52bd2a" stroke="#37801c" stroke-width="0.65"/>
<circle cx="161" cy="395.5" r="3.3" fill="#209eb0" stroke="#156b77" stroke-width="0.65"/>
<circle cx="163" cy="343.2" r="3.3" fill="#58be29" stroke="#3b811b" stroke-width="0.65"/>
<circle cx="163.6" cy="342.6" r="3.3" fill="#5bbe29" stroke="#3d811b" stroke-width="0.65"/>
<circle cx="197.8" cy="292.4" r="3.3" fill="#db501f" stroke="#943615" stroke-width="0.65"/>
<circle cx="200.2" cy="288.1" r="3.3" fill="#da391f" stroke="#942615" stroke-width="0.65"/>
<circle cx="163.6" cy="298.8" r="3.3" fill="#de731e" stroke="#964e14" stroke-width="0.65"/>
<circle cx="169.1" cy="288.6" r="3.3" fill="#da3b1f" stroke="#942815" stroke-width="0.65"/>
<circle cx="185.5" cy="318.4" r="3.3" fill="#c9c11e" stroke="#888314" stroke-width="0.65"/>
<circle cx="200.4" cy="287.7" r="3.3" fill="#d9371f" stroke="#932515" stroke-width="0.65"/>
<circle cx="163" cy="316.1" r="3.3" fill="#cfbb1e" stroke="#8c7f14" stroke-width="0.65"/>
<circle cx="167.6" cy="289.1" r="3.3" fill="#da3e1f" stroke="#942a15" stroke-width="0.65"/>
<circle cx="175" cy="298.6" r="3.3" fill="#de721e" stroke="#964d14" stroke-width="0.65"/>
<circle cx="175.4" cy="309.1" r="3.3" fill="#d79d1e" stroke="#926a14" stroke-width="0.65"/>
<circle cx="154.6" cy="351.5" r="3.3" fill="#3dbc34" stroke="#297f23" stroke-width="0.65"/>
<circle cx="144.8" cy="377.9" r="3.3" fill="#22b87d" stroke="#177d55" stroke-width="0.65"/>
<circle cx="177.7" cy="301.8" r="3.3" fill="#dc7f1e" stroke="#955614" stroke-width="0.65"/>
<circle cx="163" cy="318.1" r="3.3" fill="#cac01e" stroke="#898214" stroke-width="0.65"/>
<circle cx="203.7" cy="288.9" r="3.3" fill="#da3d1f" stroke="#942915" stroke-width="0.65"/>
<circle cx="152.2" cy="351.9" r="3.3" fill="#3cbc35" stroke="#287f24" stroke-width="0.65"/>
<circle cx="148.9" cy="395.8" r="3.3" fill="#209db1" stroke="#156a78" stroke-width="0.65"/>
<circle cx="173.7" cy="296.7" r="3.3" fill="#dd681e" stroke="#964614" stroke-width="0.65"/>
<circle cx="165.5" cy="290.4" r="3.3" fill="#db451f" stroke="#942e15" stroke-width="0.65"/>
<circle cx="179.9" cy="324.4" r="3.3" fill="#b0c31e" stroke="#778414" stroke-width="0.65"/>
<circle cx="166.6" cy="315.1" r="3.3" fill="#d0b61e" stroke="#8d7b14" stroke-width="0.65"/>
<circle cx="159.2" cy="367" r="3.3" fill="#29bb5c" stroke="#1b7f3e" stroke-width="0.65"/>
<circle cx="161.1" cy="396.8" r="3.3" fill="#209ab3" stroke="#156879" stroke-width="0.65"/>
<circle cx="164.2" cy="316.5" r="3.3" fill="#cebd1e" stroke="#8c8014" stroke-width="0.65"/>
<circle cx="163.5" cy="331.1" r="3.3" fill="#90c121" stroke="#618316" stroke-width="0.65"/>
<circle cx="164.7" cy="343.5" r="3.3" fill="#57be29" stroke="#3b811b" stroke-width="0.65"/>
<circle cx="183.6" cy="289.5" r="3.3" fill="#da401f" stroke="#942b15" stroke-width="0.65"/>
<circle cx="166.3" cy="336.7" r="3.3" fill="#76c024" stroke="#508218" stroke-width="0.65"/>
<circle cx="164.5" cy="294.9" r="3.3" fill="#dc5e1e" stroke="#953f14" stroke-width="0.65"/>
<circle cx="161" cy="405.5" r="3.3" fill="#257eb7" stroke="#19557c" stroke-width="0.65"/>
<circle cx="160.8" cy="385.6" r="3.3" fill="#20b594" stroke="#157b64" stroke-width="0.65"/>
<circle cx="200.3" cy="299.7" r="3.3" fill="#dd761e" stroke="#965014" stroke-width="0.65"/>
<circle cx="173.9" cy="288.5" r="3.3" fill="#da3b1f" stroke="#942815" stroke-width="0.65"/>
<circle cx="177.1" cy="330.8" r="3.3" fill="#92c121" stroke="#638316" stroke-width="0.65"/>
<circle cx="147.9" cy="391.6" r="3.3" fill="#20aba9" stroke="#157472" stroke-width="0.65"/>
<circle cx="169" cy="339.4" r="3.3" fill="#6abf26" stroke="#488119" stroke-width="0.65"/>
<circle cx="163.1" cy="318.2" r="3.3" fill="#c9c01e" stroke="#888214" stroke-width="0.65"/>
<circle cx="171.7" cy="288.2" r="3.3" fill="#da391f" stroke="#942615" stroke-width="0.65"/>
<circle cx="166.8" cy="335.5" r="3.3" fill="#7bc023" stroke="#538217" stroke-width="0.65"/>
<circle cx="148.2" cy="404.7" r="3.3" fill="#2380b8" stroke="#17577d" stroke-width="0.65"/>
<circle cx="168.7" cy="338.4" r="3.3" fill="#6ebf25" stroke="#4a8119" stroke-width="0.65"/>
<circle cx="149.1" cy="373.2" r="3.3" fill="#24ba6f" stroke="#187e4b" stroke-width="0.65"/>
<circle cx="156.6" cy="353.7" r="3.3" fill="#39bc39" stroke="#267f26" stroke-width="0.65"/>
<circle cx="139.2" cy="404.9" r="3.3" fill="#247fb8" stroke="#18567d" stroke-width="0.65"/>
<circle cx="164.8" cy="318.3" r="3.3" fill="#c9c01e" stroke="#888214" stroke-width="0.65"/>
<circle cx="159.4" cy="361.9" r="3.3" fill="#2dbc4d" stroke="#1e7f34" stroke-width="0.65"/>
<circle cx="189.3" cy="287.6" r="3.3" fill="#d9361f" stroke="#932415" stroke-width="0.65"/>
<circle cx="173.9" cy="292.2" r="3.3" fill="#db4f1f" stroke="#943515" stroke-width="0.65"/>
<circle cx="159.1" cy="354.5" r="3.3" fill="#38bc3b" stroke="#267f28" stroke-width="0.65"/>
<circle cx="172.8" cy="320.2" r="3.3" fill="#c1c11e" stroke="#838314" stroke-width="0.65"/>
<circle cx="170.1" cy="328.8" r="3.3" fill="#9bc220" stroke="#698315" stroke-width="0.65"/>
<circle cx="162.9" cy="362.7" r="3.3" fill="#2cbc4f" stroke="#1d7f35" stroke-width="0.65"/>
<circle cx="189.4" cy="288.4" r="3.3" fill="#da3a1f" stroke="#942715" stroke-width="0.65"/>
<circle cx="169.5" cy="289.6" r="3.3" fill="#da411f" stroke="#942c15" stroke-width="0.65"/>
<circle cx="162.7" cy="376.2" r="3.3" fill="#23b978" stroke="#177d51" stroke-width="0.65"/>
<circle cx="200.9" cy="288.8" r="3.3" fill="#da3c1f" stroke="#942815" stroke-width="0.65"/>
<circle cx="164.1" cy="344.3" r="3.3" fill="#53bd2a" stroke="#38801c" stroke-width="0.65"/>
<circle cx="204.8" cy="300" r="3.3" fill="#dd781e" stroke="#965114" stroke-width="0.65"/>
<circle cx="170.9" cy="334.2" r="3.3" fill="#82c022" stroke="#588217" stroke-width="0.65"/>
<circle cx="162.9" cy="380.4" r="3.3" fill="#22b884" stroke="#177d59" stroke-width="0.65"/>
<circle cx="153.6" cy="406.6" r="3.3" fill="#267ab7" stroke="#19527c" stroke-width="0.65"/>
<circle cx="163.4" cy="381" r="3.3" fill="#21b786" stroke="#167c5b" stroke-width="0.65"/>
<circle cx="172.4" cy="311.7" r="3.3" fill="#d5a81e" stroke="#907214" stroke-width="0.65"/>
<circle cx="168.9" cy="299" r="3.3" fill="#de741e" stroke="#964e14" stroke-width="0.65"/>
<circle cx="162.8" cy="402.7" r="3.3" fill="#2287b7" stroke="#175b7c" stroke-width="0.65"/>
<circle cx="162.6" cy="386.5" r="3.3" fill="#20b497" stroke="#157a66" stroke-width="0.65"/>
<circle cx="163.8" cy="350.1" r="3.3" fill="#3fbc31" stroke="#2a7f21" stroke-width="0.65"/>
<circle cx="162.8" cy="394.5" r="3.3" fill="#20a1ae" stroke="#156d76" stroke-width="0.65"/>
<circle cx="166.8" cy="331.4" r="3.3" fill="#8fc121" stroke="#618316" stroke-width="0.65"/>
<circle cx="179.5" cy="327.7" r="3.3" fill="#a0c220" stroke="#6c8315" stroke-width="0.65"/>
<circle cx="162" cy="397.3" r="3.3" fill="#2098b4" stroke="#15677a" stroke-width="0.65"/>
<circle cx="162.4" cy="404" r="3.3" fill="#2383b8" stroke="#17597d" stroke-width="0.65"/>
<circle cx="195.4" cy="304.2" r="3.3" fill="#db891e" stroke="#945d14" stroke-width="0.65"/>
<circle cx="168.2" cy="341.7" r="3.3" fill="#5fbe28" stroke="#40811b" stroke-width="0.65"/>
<circle cx="188.9" cy="310.4" r="3.3" fill="#d6a21e" stroke="#916e14" stroke-width="0.65"/>
<circle cx="189.1" cy="306" r="3.3" fill="#d9901e" stroke="#936114" stroke-width="0.65"/>
<circle cx="198.1" cy="291.4" r="3.3" fill="#db4b1f" stroke="#943315" stroke-width="0.65"/>
<circle cx="168.9" cy="317.7" r="3.3" fill="#cbc01e" stroke="#8a8214" stroke-width="0.65"/>
<circle cx="162.8" cy="359.7" r="3.3" fill="#2fbc47" stroke="#1f7f30" stroke-width="0.65"/>
<circle cx="157.7" cy="373.6" r="3.3" fill="#24ba70" stroke="#187e4c" stroke-width="0.65"/>
<circle cx="162.3" cy="393" r="3.3" fill="#20a6ab" stroke="#157074" stroke-width="0.65"/>
<circle cx="170.5" cy="308.6" r="3.3" fill="#d89b1e" stroke="#926914" stroke-width="0.65"/>
<circle cx="146.5" cy="391.6" r="3.3" fill="#20aba9" stroke="#157472" stroke-width="0.65"/>
<circle cx="174.9" cy="288" r="3.3" fill="#da381f" stroke="#942615" stroke-width="0.65"/>
<circle cx="153.9" cy="383.5" r="3.3" fill="#21b78d" stroke="#167c5f" stroke-width="0.65"/>
<circle cx="171.1" cy="314" r="3.3" fill="#d2b11e" stroke="#8e7814" stroke-width="0.65"/>
<circle cx="163.5" cy="336" r="3.3" fill="#79c023" stroke="#528217" stroke-width="0.65"/>
<circle cx="169.5" cy="331.5" r="3.3" fill="#8ec121" stroke="#608316" stroke-width="0.65"/>
<circle cx="163.5" cy="351.8" r="3.3" fill="#3cbc35" stroke="#287f24" stroke-width="0.65"/>
<circle cx="153.9" cy="348.3" r="3.3" fill="#42bc2e" stroke="#2c7f1f" stroke-width="0.65"/>
<circle cx="192.3" cy="289.5" r="3.3" fill="#da401f" stroke="#942b15" stroke-width="0.65"/>
<circle cx="169.7" cy="314.8" r="3.3" fill="#d1b51e" stroke="#8e7b14" stroke-width="0.65"/>
<circle cx="148.6" cy="376.2" r="3.3" fill="#23b978" stroke="#177d51" stroke-width="0.65"/>
<circle cx="163" cy="362.8" r="3.3" fill="#2cbc4f" stroke="#1d7f35" stroke-width="0.65"/>
<circle cx="163.7" cy="334.3" r="3.3" fill="#81c022" stroke="#578217" stroke-width="0.65"/>
<circle cx="147.5" cy="397" r="3.3" fill="#2099b3" stroke="#156879" stroke-width="0.65"/>
<circle cx="161.8" cy="391.3" r="3.3" fill="#20aca8" stroke="#157472" stroke-width="0.65"/>
<circle cx="161.3" cy="366.8" r="3.3" fill="#29bb5c" stroke="#1b7f3e" stroke-width="0.65"/>
<circle cx="159.6" cy="381.7" r="3.3" fill="#21b788" stroke="#167c5c" stroke-width="0.65"/>
<circle cx="158.5" cy="348.7" r="3.3" fill="#41bc2e" stroke="#2c7f1f" stroke-width="0.65"/>
<circle cx="158" cy="386.4" r="3.3" fill="#20b497" stroke="#157a66" stroke-width="0.65"/>
<circle cx="162.7" cy="386.9" r="3.3" fill="#20b399" stroke="#157968" stroke-width="0.65"/>
<circle cx="163" cy="289.9" r="3.3" fill="#da431f" stroke="#942d15" stroke-width="0.65"/>
<circle cx="165.3" cy="340.9" r="3.3" fill="#63be27" stroke="#43811a" stroke-width="0.65"/>
<circle cx="166.9" cy="302" r="3.3" fill="#dc801e" stroke="#955714" stroke-width="0.65"/>
<circle cx="162.8" cy="376.2" r="3.3" fill="#23b978" stroke="#177d51" stroke-width="0.65"/>
<circle cx="164.2" cy="306.4" r="3.3" fill="#d9921e" stroke="#936314" stroke-width="0.65"/>
<circle cx="170.7" cy="334.1" r="3.3" fill="#82c022" stroke="#588217" stroke-width="0.65"/>
<circle cx="163.3" cy="336.6" r="3.3" fill="#76c024" stroke="#508218" stroke-width="0.65"/>
<circle cx="171.9" cy="327.4" r="3.3" fill="#a1c220" stroke="#6d8315" stroke-width="0.65"/>
<circle cx="156.5" cy="407" r="3.3" fill="#2679b7" stroke="#19527c" stroke-width="0.65"/>
<circle cx="162.9" cy="392.2" r="3.3" fill="#20a9aa" stroke="#157273" stroke-width="0.65"/>
<circle cx="162.3" cy="375.4" r="3.3" fill="#23b976" stroke="#177d50" stroke-width="0.65"/>
<circle cx="159.1" cy="385.5" r="3.3" fill="#20b593" stroke="#157b63" stroke-width="0.65"/>
<circle cx="181.1" cy="320.8" r="3.3" fill="#bfc21e" stroke="#818314" stroke-width="0.65"/>
<circle cx="160" cy="381.5" r="3.3" fill="#21b787" stroke="#167c5b" stroke-width="0.65"/>
<circle cx="157.1" cy="405.5" r="3.3" fill="#257eb7" stroke="#19557c" stroke-width="0.65"/>
<circle cx="167.7" cy="311.2" r="3.3" fill="#d6a51e" stroke="#917014" stroke-width="0.65"/>
<circle cx="165.8" cy="335.4" r="3.3" fill="#7cc023" stroke="#548217" stroke-width="0.65"/>
<circle cx="163.2" cy="354.9" r="3.3" fill="#37bc3c" stroke="#257f28" stroke-width="0.65"/>
<circle cx="155.8" cy="363.2" r="3.3" fill="#2cbc50" stroke="#1d7f36" stroke-width="0.65"/>
<circle cx="162.7" cy="354.4" r="3.3" fill="#38bc3b" stroke="#267f28" stroke-width="0.65"/>
<circle cx="171.8" cy="310.8" r="3.3" fill="#d6a41e" stroke="#916f14" stroke-width="0.65"/>
<circle cx="157.4" cy="385.1" r="3.3" fill="#20b692" stroke="#157b63" stroke-width="0.65"/>
<circle cx="171.9" cy="305.1" r="3.3" fill="#da8d1e" stroke="#945f14" stroke-width="0.65"/>
<circle cx="163.4" cy="289.8" r="3.3" fill="#da421f" stroke="#942c15" stroke-width="0.65"/>
<circle cx="194.6" cy="309.3" r="3.3" fill="#d79e1e" stroke="#926b14" stroke-width="0.65"/>
<circle cx="152.5" cy="404.6" r="3.3" fill="#2381b8" stroke="#17577d" stroke-width="0.65"/>
<circle cx="171" cy="288.3" r="3.3" fill="#da3a1f" stroke="#942715" stroke-width="0.65"/>
<circle cx="168.3" cy="288.7" r="3.3" fill="#da3c1f" stroke="#942815" stroke-width="0.65"/>
<circle cx="161.8" cy="356.7" r="3.3" fill="#34bc40" stroke="#237f2b" stroke-width="0.65"/>
<circle cx="158.4" cy="361.9" r="3.3" fill="#2dbc4d" stroke="#1e7f34" stroke-width="0.65"/>
<circle cx="158.6" cy="349.4" r="3.3" fill="#40bc30" stroke="#2b7f20" stroke-width="0.65"/>
<circle cx="141.5" cy="398" r="3.3" fill="#2096b4" stroke="#15667a" stroke-width="0.65"/>
<circle cx="163.9" cy="303.3" r="3.3" fill="#db851e" stroke="#945a14" stroke-width="0.65"/>
<circle cx="160.6" cy="370.2" r="3.3" fill="#26ba66" stroke="#197e45" stroke-width="0.65"/>
<circle cx="163.9" cy="389.7" r="3.3" fill="#20afa2" stroke="#15776e" stroke-width="0.65"/>
<circle cx="163.1" cy="313.2" r="3.3" fill="#d3ae1e" stroke="#8f7614" stroke-width="0.65"/>
<circle cx="202.5" cy="296.2" r="3.3" fill="#dd651e" stroke="#964414" stroke-width="0.65"/>
<circle cx="163" cy="393.1" r="3.3" fill="#20a6ac" stroke="#157074" stroke-width="0.65"/>
<circle cx="163.9" cy="381.3" r="3.3" fill="#21b787" stroke="#167c5b" stroke-width="0.65"/>
<circle cx="149.4" cy="369.2" r="3.3" fill="#27bb63" stroke="#1a7f43" stroke-width="0.65"/>
<circle cx="191.9" cy="310.4" r="3.3" fill="#d6a21e" stroke="#916e14" stroke-width="0.65"/>
<circle cx="163.1" cy="288" r="3.3" fill="#da381f" stroke="#942615" stroke-width="0.65"/>
<circle cx="162.9" cy="378.4" r="3.3" fill="#22b87f" stroke="#177d56" stroke-width="0.65"/>
<circle cx="164.1" cy="335.4" r="3.3" fill="#7cc023" stroke="#548217" stroke-width="0.65"/>
<circle cx="163" cy="338.6" r="3.3" fill="#6dbf25" stroke="#4a8119" stroke-width="0.65"/>
<circle cx="169.1" cy="343.3" r="3.3" fill="#58be29" stroke="#3b811b" stroke-width="0.65"/>
<circle cx="162" cy="403.2" r="3.3" fill="#2285b8" stroke="#175a7d" stroke-width="0.65"/>
<circle cx="169.2" cy="302.8" r="3.3" fill="#db831e" stroke="#945914" stroke-width="0.65"/>
<circle cx="151.7" cy="368" r="3.3" fill="#28bb5f" stroke="#1b7f40" stroke-width="0.65"/>
<circle cx="163.4" cy="291.1" r="3.3" fill="#db491f" stroke="#943115" stroke-width="0.65"/>
<circle cx="164.3" cy="337.7" r="3.3" fill="#71bf25" stroke="#4c8119" stroke-width="0.65"/>
<circle cx="168.4" cy="321.4" r="3.3" fill="#bcc21e" stroke="#7f8314" stroke-width="0.65"/>
<circle cx="162.5" cy="406.6" r="3.3" fill="#267ab7" stroke="#19527c" stroke-width="0.65"/>
<circle cx="175.1" cy="335.5" r="3.3" fill="#7bc023" stroke="#538217" stroke-width="0.65"/>
<circle cx="152.5" cy="401.8" r="3.3" fill="#218ab7" stroke="#165d7c" stroke-width="0.65"/>
<circle cx="163.7" cy="363.5" r="3.3" fill="#2cbc51" stroke="#1d7f37" stroke-width="0.65"/>
<circle cx="164.7" cy="297.3" r="3.3" fill="#dd6b1e" stroke="#964814" stroke-width="0.65"/>
<circle cx="171.2" cy="337.4" r="3.3" fill="#73bf24" stroke="#4e8118" stroke-width="0.65"/>
<circle cx="185.3" cy="291.8" r="3.3" fill="#db4d1f" stroke="#943415" stroke-width="0.65"/>
<circle cx="149.9" cy="406.6" r="3.3" fill="#267ab7" stroke="#19527c" stroke-width="0.65"/>
<circle cx="174.2" cy="301.2" r="3.3" fill="#dc7c1e" stroke="#955414" stroke-width="0.65"/>
<circle cx="163" cy="342.2" r="3.3" fill="#5dbe28" stroke="#3f811b" stroke-width="0.65"/>
<circle cx="157.1" cy="353.3" r="3.3" fill="#3abc38" stroke="#277f26" stroke-width="0.65"/>
<circle cx="163.2" cy="325.1" r="3.3" fill="#acc31f" stroke="#748415" stroke-width="0.65"/>
<circle cx="196.2" cy="293.5" r="3.3" fill="#dc561e" stroke="#953a14" stroke-width="0.65"/>
<circle cx="166.8" cy="327.3" r="3.3" fill="#a2c220" stroke="#6e8315" stroke-width="0.65"/>
<circle cx="158.4" cy="381" r="3.3" fill="#21b786" stroke="#167c5b" stroke-width="0.65"/>
<circle cx="177.7" cy="320" r="3.3" fill="#c2c11e" stroke="#838314" stroke-width="0.65"/>
<circle cx="157.3" cy="392.3" r="3.3" fill="#20a8aa" stroke="#157273" stroke-width="0.65"/>
<circle cx="169.8" cy="329.9" r="3.3" fill="#96c121" stroke="#668316" stroke-width="0.65"/>
<circle cx="167.5" cy="289.1" r="3.3" fill="#da3e1f" stroke="#942a15" stroke-width="0.65"/>
<circle cx="188.1" cy="312.1" r="3.3" fill="#d5a91e" stroke="#907214" stroke-width="0.65"/>
<circle cx="167.2" cy="321.3" r="3.3" fill="#bdc21e" stroke="#808314" stroke-width="0.65"/>
<circle cx="173" cy="289.7" r="3.3" fill="#da411f" stroke="#942c15" stroke-width="0.65"/>
<circle cx="162.5" cy="356.4" r="3.3" fill="#35bc3f" stroke="#247f2a" stroke-width="0.65"/>
<circle cx="166.3" cy="324.9" r="3.3" fill="#adc31f" stroke="#758415" stroke-width="0.65"/>
<circle cx="167.5" cy="345.4" r="3.3" fill="#4ebd2b" stroke="#35801d" stroke-width="0.65"/>
<circle cx="162.8" cy="383.4" r="3.3" fill="#21b78d" stroke="#167c5f" stroke-width="0.65"/>
<circle cx="155.7" cy="383.7" r="3.3" fill="#20b68e" stroke="#157b60" stroke-width="0.65"/>
<circle cx="164.3" cy="288.5" r="3.3" fill="#da3b1f" stroke="#942815" stroke-width="0.65"/>
<circle cx="186.7" cy="307" r="3.3" fill="#d9941e" stroke="#936414" stroke-width="0.65"/>
<circle cx="162.8" cy="394" r="3.3" fill="#20a3ae" stroke="#156e76" stroke-width="0.65"/>
<circle cx="143.3" cy="371.6" r="3.3" fill="#25ba6a" stroke="#197e48" stroke-width="0.65"/>
<circle cx="195" cy="289.9" r="3.3" fill="#da431f" stroke="#942d15" stroke-width="0.65"/>
<circle cx="163" cy="329.7" r="3.3" fill="#96c121" stroke="#668316" stroke-width="0.65"/>
<circle cx="161.6" cy="371" r="3.3" fill="#25ba69" stroke="#197e47" stroke-width="0.65"/>
<circle cx="180.3" cy="298.1" r="3.3" fill="#de6f1e" stroke="#964b14" stroke-width="0.65"/>
<circle cx="163.7" cy="323.4" r="3.3" fill="#b4c31e" stroke="#7a8414" stroke-width="0.65"/>
<circle cx="147.2" cy="372.2" r="3.3" fill="#24ba6c" stroke="#187e49" stroke-width="0.65"/>
<circle cx="145.1" cy="392.5" r="3.3" fill="#20a8ab" stroke="#157274" stroke-width="0.65"/>
<circle cx="158.2" cy="351.9" r="3.3" fill="#3cbc35" stroke="#287f24" stroke-width="0.65"/>
<circle cx="163.1" cy="363.8" r="3.3" fill="#2bbb53" stroke="#1d7f38" stroke-width="0.65"/>
<circle cx="203.5" cy="288.8" r="3.3" fill="#da3c1f" stroke="#942815" stroke-width="0.65"/>
<circle cx="158.3" cy="384.7" r="3.3" fill="#20b691" stroke="#157b62" stroke-width="0.65"/>
<circle cx="147.2" cy="362.2" r="3.3" fill="#2dbc4e" stroke="#1e7f35" stroke-width="0.65"/>
<circle cx="162.9" cy="335.6" r="3.3" fill="#7bc023" stroke="#538217" stroke-width="0.65"/>
<circle cx="167.1" cy="343.3" r="3.3" fill="#58be29" stroke="#3b811b" stroke-width="0.65"/>
<circle cx="160.1" cy="392.4" r="3.3" fill="#20a8aa" stroke="#157273" stroke-width="0.65"/>
<circle cx="162" cy="388.4" r="3.3" fill="#20b19e" stroke="#15786b" stroke-width="0.65"/>
<circle cx="165.9" cy="314" r="3.3" fill="#d2b21e" stroke="#8e7914" stroke-width="0.65"/>
<circle cx="164.6" cy="293.9" r="3.3" fill="#dc581e" stroke="#953b14" stroke-width="0.65"/>
<circle cx="187.1" cy="291" r="3.3" fill="#db491f" stroke="#943115" stroke-width="0.65"/>
<circle cx="163.4" cy="353.9" r="3.3" fill="#39bc3a" stroke="#267f27" stroke-width="0.65"/>
<circle cx="168.1" cy="330.4" r="3.3" fill="#93c121" stroke="#638316" stroke-width="0.65"/>
<circle cx="165.9" cy="331.4" r="3.3" fill="#8fc121" stroke="#618316" stroke-width="0.65"/>
<circle cx="177.4" cy="295.8" r="3.3" fill="#dd631e" stroke="#964314" stroke-width="0.65"/>
<circle cx="161.6" cy="405.4" r="3.3" fill="#247eb7" stroke="#18557c" stroke-width="0.65"/>
<circle cx="166" cy="303.4" r="3.3" fill="#db851e" stroke="#945a14" stroke-width="0.65"/>
<circle cx="163.1" cy="310.1" r="3.3" fill="#d7a11e" stroke="#926d14" stroke-width="0.65"/>
<circle cx="157.9" cy="396.9" r="3.3" fill="#209ab3" stroke="#156879" stroke-width="0.65"/>
<circle cx="187.9" cy="305.5" r="3.3" fill="#da8e1e" stroke="#946014" stroke-width="0.65"/>
<circle cx="162.9" cy="349.2" r="3.3" fill="#40bc30" stroke="#2b7f20" stroke-width="0.65"/>
<circle cx="159" cy="403.3" r="3.3" fill="#2285b8" stroke="#175a7d" stroke-width="0.65"/>
<circle cx="164.3" cy="335.6" r="3.3" fill="#7bc023" stroke="#538217" stroke-width="0.65"/>
<circle cx="164.5" cy="331.9" r="3.3" fill="#8cc121" stroke="#5f8316" stroke-width="0.65"/>
<circle cx="193" cy="297.9" r="3.3" fill="#de6e1e" stroke="#964a14" stroke-width="0.65"/>
<circle cx="166.6" cy="314" r="3.3" fill="#d2b21e" stroke="#8e7914" stroke-width="0.65"/>
<circle cx="138.2" cy="404.1" r="3.3" fill="#2382b8" stroke="#17587d" stroke-width="0.65"/>
<circle cx="164" cy="297.3" r="3.3" fill="#dd6b1e" stroke="#964814" stroke-width="0.65"/>
<circle cx="165.6" cy="305.3" r="3.3" fill="#da8d1e" stroke="#945f14" stroke-width="0.65"/>
<circle cx="165.4" cy="306.8" r="3.3" fill="#d9931e" stroke="#936314" stroke-width="0.65"/>
<circle cx="174.9" cy="289.3" r="3.3" fill="#da3f1f" stroke="#942a15" stroke-width="0.65"/>
<circle cx="188.2" cy="296.5" r="3.3" fill="#dd671e" stroke="#964614" stroke-width="0.65"/>
<circle cx="161" cy="402.7" r="3.3" fill="#2287b7" stroke="#175b7c" stroke-width="0.65"/>
<circle cx="159.9" cy="348.7" r="3.3" fill="#41bc2e" stroke="#2c7f1f" stroke-width="0.65"/>
<circle cx="161.6" cy="360.4" r="3.3" fill="#2ebc48" stroke="#1f7f30" stroke-width="0.65"/>
<circle cx="183.3" cy="293.6" r="3.3" fill="#dc561e" stroke="#953a14" stroke-width="0.65"/>
<circle cx="153.8" cy="373.3" r="3.3" fill="#24ba70" stroke="#187e4c" stroke-width="0.65"/>
<circle cx="172.7" cy="310.5" r="3.3" fill="#d6a21e" stroke="#916e14" stroke-width="0.65"/>
<circle cx="170.5" cy="303.8" r="3.3" fill="#db871e" stroke="#945b14" stroke-width="0.65"/>
<circle cx="163.9" cy="350.7" r="3.3" fill="#3ebc33" stroke="#2a7f22" stroke-width="0.65"/>
<circle cx="166.1" cy="344.8" r="3.3" fill="#51bd2a" stroke="#37801c" stroke-width="0.65"/>
<circle cx="166.5" cy="301.5" r="3.3" fill="#dc7e1e" stroke="#955514" stroke-width="0.65"/>
<circle cx="179.9" cy="288.5" r="3.3" fill="#da3b1f" stroke="#942815" stroke-width="0.65"/>
<circle cx="166.3" cy="297.8" r="3.3" fill="#de6e1e" stroke="#964a14" stroke-width="0.65"/>
<circle cx="160.6" cy="381.9" r="3.3" fill="#21b789" stroke="#167c5d" stroke-width="0.65"/>
<circle cx="155.9" cy="359.9" r="3.3" fill="#2fbc47" stroke="#1f7f30" stroke-width="0.65"/>
<circle cx="162.6" cy="387.5" r="3.3" fill="#20b29b" stroke="#157969" stroke-width="0.65"/>
<circle cx="143.2" cy="407.4" r="3.3" fill="#2778b7" stroke="#1a517c" stroke-width="0.65"/>
<circle cx="137.8" cy="400.6" r="3.3" fill="#218eb6" stroke="#16607b" stroke-width="0.65"/>
<circle cx="191.3" cy="290.9" r="3.3" fill="#db481f" stroke="#943015" stroke-width="0.65"/>
<circle cx="163.1" cy="308.3" r="3.3" fill="#d8991e" stroke="#926814" stroke-width="0.65"/>
<circle cx="139.7" cy="402.4" r="3.3" fill="#2288b7" stroke="#175c7c" stroke-width="0.65"/>
<circle cx="168.2" cy="329.9" r="3.3" fill="#96c121" stroke="#668316" stroke-width="0.65"/>
<circle cx="163.5" cy="307.5" r="3.3" fill="#d8961e" stroke="#926614" stroke-width="0.65"/>
<circle cx="172.6" cy="335.8" r="3.3" fill="#7ac023" stroke="#528217" stroke-width="0.65"/>
<circle cx="188.2" cy="307.5" r="3.3" fill="#d8961e" stroke="#926614" stroke-width="0.65"/>
<circle cx="163.4" cy="336.7" r="3.3" fill="#76c024" stroke="#508218" stroke-width="0.65"/>
<circle cx="170.9" cy="302.7" r="3.3" fill="#db831e" stroke="#945914" stroke-width="0.65"/>
<circle cx="163.8" cy="319.8" r="3.3" fill="#c3c11e" stroke="#848314" stroke-width="0.65"/>
<circle cx="165.2" cy="344.4" r="3.3" fill="#53bd2a" stroke="#38801c" stroke-width="0.65"/>
<circle cx="164.4" cy="317" r="3.3" fill="#cdbf1e" stroke="#8b8114" stroke-width="0.65"/>
<circle cx="158.3" cy="354.8" r="3.3" fill="#37bc3c" stroke="#257f28" stroke-width="0.65"/>
<circle cx="169.4" cy="309.3" r="3.3" fill="#d79d1e" stroke="#926a14" stroke-width="0.65"/>
<circle cx="147.4" cy="357.6" r="3.3" fill="#33bc42" stroke="#227f2c" stroke-width="0.65"/>
<circle cx="166.5" cy="343.6" r="3.3" fill="#56bd29" stroke="#3a801b" stroke-width="0.65"/>
<circle cx="152.1" cy="384.9" r="3.3" fill="#20b692" stroke="#157b63" stroke-width="0.65"/>
<circle cx="162.2" cy="402.5" r="3.3" fill="#2287b7" stroke="#175b7c" stroke-width="0.65"/>
<circle cx="163.2" cy="295.8" r="3.3" fill="#dd631e" stroke="#964314" stroke-width="0.65"/>
<circle cx="167.3" cy="320.1" r="3.3" fill="#c2c11e" stroke="#838314" stroke-width="0.65"/>
<circle cx="184" cy="304.9" r="3.3" fill="#da8c1e" stroke="#945f14" stroke-width="0.65"/>
<circle cx="172.2" cy="287.7" r="3.3" fill="#da371f" stroke="#942515" stroke-width="0.65"/>
<circle cx="149.8" cy="406.8" r="3.3" fill="#267ab7" stroke="#19527c" stroke-width="0.65"/>
<circle cx="163.6" cy="339.8" r="3.3" fill="#68bf26" stroke="#468119" stroke-width="0.65"/>
<circle cx="157.4" cy="399.5" r="3.3" fill="#2191b5" stroke="#16627b" stroke-width="0.65"/>
<circle cx="170.4" cy="307.3" r="3.3" fill="#d9951e" stroke="#936514" stroke-width="0.65"/>
<circle cx="156.6" cy="371.5" r="3.3" fill="#25ba6a" stroke="#197e48" stroke-width="0.65"/>
<circle cx="163.1" cy="329.6" r="3.3" fill="#97c220" stroke="#668315" stroke-width="0.65"/>
<circle cx="171.8" cy="292.8" r="3.3" fill="#dc521e" stroke="#953714" stroke-width="0.65"/>
<circle cx="162.8" cy="361.4" r="3.3" fill="#2dbc4b" stroke="#1e7f33" stroke-width="0.65"/>
<circle cx="162.3" cy="348.2" r="3.3" fill="#42bc2d" stroke="#2c7f1e" stroke-width="0.65"/>
<circle cx="155.8" cy="373" r="3.3" fill="#24ba6f" stroke="#187e4b" stroke-width="0.65"/>
<circle cx="163.1" cy="300.8" r="3.3" fill="#dd7b1e" stroke="#965314" stroke-width="0.65"/>
<circle cx="162.5" cy="404.9" r="3.3" fill="#2480b8" stroke="#18577d" stroke-width="0.65"/>
<circle cx="163.1" cy="342.2" r="3.3" fill="#5dbe28" stroke="#3f811b" stroke-width="0.65"/>
<circle cx="174.8" cy="316.7" r="3.3" fill="#cebd1e" stroke="#8c8014" stroke-width="0.65"/>
<circle cx="175" cy="297.6" r="3.3" fill="#dd6c1e" stroke="#964914" stroke-width="0.65"/>
<circle cx="185.3" cy="289.4" r="3.3" fill="#da401f" stroke="#942b15" stroke-width="0.65"/>
<circle cx="162.7" cy="407" r="3.3" fill="#2679b7" stroke="#19527c" stroke-width="0.65"/>
<circle cx="162.5" cy="401.3" r="3.3" fill="#218bb7" stroke="#165e7c" stroke-width="0.65"/>
<circle cx="174.7" cy="315.2" r="3.3" fill="#d0b71e" stroke="#8d7c14" stroke-width="0.65"/>
<circle cx="163.5" cy="317.8" r="3.3" fill="#cbc01e" stroke="#8a8214" stroke-width="0.65"/>
<circle cx="162.8" cy="385.9" r="3.3" fill="#20b595" stroke="#157b65" stroke-width="0.65"/>
<circle cx="163.2" cy="323" r="3.3" fill="#b6c31e" stroke="#7b8414" stroke-width="0.65"/>
<circle cx="146.9" cy="354.2" r="3.3" fill="#38bc3a" stroke="#267f27" stroke-width="0.65"/>
<circle cx="165.6" cy="299" r="3.3" fill="#de741e" stroke="#964e14" stroke-width="0.65"/>
<circle cx="165.3" cy="310.2" r="3.3" fill="#d7a11e" stroke="#926d14" stroke-width="0.65"/>
<circle cx="172.9" cy="335.4" r="3.3" fill="#7cc023" stroke="#548217" stroke-width="0.65"/>
<circle cx="170.7" cy="288.7" r="3.3" fill="#da3c1f" stroke="#942815" stroke-width="0.65"/>
<circle cx="170" cy="334" r="3.3" fill="#83c022" stroke="#598217" stroke-width="0.65"/>
<circle cx="168.2" cy="332.2" r="3.3" fill="#8bc122" stroke="#5e8317" stroke-width="0.65"/>
<circle cx="149.5" cy="404.1" r="3.3" fill="#2382b8" stroke="#17587d" stroke-width="0.65"/>
<circle cx="163.9" cy="382.2" r="3.3" fill="#21b78a" stroke="#167c5d" stroke-width="0.65"/>
<circle cx="163" cy="331.2" r="3.3" fill="#90c121" stroke="#618316" stroke-width="0.65"/>
<circle cx="146.4" cy="405.1" r="3.3" fill="#247fb7" stroke="#18567c" stroke-width="0.65"/>
<circle cx="167.2" cy="305.8" r="3.3" fill="#d98f1e" stroke="#936114" stroke-width="0.65"/>
<circle cx="163.7" cy="318.4" r="3.3" fill="#c9c11e" stroke="#888314" stroke-width="0.65"/>
<circle cx="162.5" cy="350.4" r="3.3" fill="#3ebc32" stroke="#2a7f22" stroke-width="0.65"/>
<circle cx="160.3" cy="360.9" r="3.3" fill="#2ebc4a" stroke="#1f7f32" stroke-width="0.65"/>
<circle cx="162.9" cy="393.6" r="3.3" fill="#20a4ad" stroke="#156f75" stroke-width="0.65"/>
<circle cx="159.8" cy="361" r="3.3" fill="#2ebc4a" stroke="#1f7f32" stroke-width="0.65"/>
<circle cx="173.5" cy="340.5" r="3.3" fill="#64be27" stroke="#44811a" stroke-width="0.65"/>
<circle cx="163.5" cy="398.7" r="3.3" fill="#2094b5" stroke="#15647b" stroke-width="0.65"/>
<circle cx="160.8" cy="401.3" r="3.3" fill="#218bb7" stroke="#165e7c" stroke-width="0.65"/>
<circle cx="163" cy="400.4" r="3.3" fill="#218eb6" stroke="#16607b" stroke-width="0.65"/>
<circle cx="143.3" cy="391.1" r="3.3" fill="#20aca8" stroke="#157472" stroke-width="0.65"/>
<circle cx="167.8" cy="342.6" r="3.3" fill="#5bbe29" stroke="#3d811b" stroke-width="0.65"/>
<circle cx="175.9" cy="333.6" r="3.3" fill="#84c122" stroke="#598317" stroke-width="0.65"/>
<circle cx="183.4" cy="312.3" r="3.3" fill="#d4aa1e" stroke="#907314" stroke-width="0.65"/>
<circle cx="198.8" cy="289" r="3.3" fill="#da3e1f" stroke="#942a15" stroke-width="0.65"/>
<circle cx="147.3" cy="362.8" r="3.3" fill="#2cbc4f" stroke="#1d7f35" stroke-width="0.65"/>
<circle cx="187.6" cy="312.2" r="3.3" fill="#d4aa1e" stroke="#907314" stroke-width="0.65"/>
<circle cx="162.4" cy="396.5" r="3.3" fill="#209bb2" stroke="#156979" stroke-width="0.65"/>
<circle cx="167.3" cy="291" r="3.3" fill="#db491f" stroke="#943115" stroke-width="0.65"/>
<circle cx="145.3" cy="359.5" r="3.3" fill="#2fbc46" stroke="#1f7f2f" stroke-width="0.65"/>
<circle cx="166.5" cy="291.7" r="3.3" fill="#db4d1f" stroke="#943415" stroke-width="0.65"/>
<circle cx="162.2" cy="355.3" r="3.3" fill="#36bc3d" stroke="#247f29" stroke-width="0.65"/>
<circle cx="163" cy="378.4" r="3.3" fill="#22b87e" stroke="#177d55" stroke-width="0.65"/>
<circle cx="170.7" cy="338.7" r="3.3" fill="#6dbf25" stroke="#4a8119" stroke-width="0.65"/>
<circle cx="145.7" cy="389.4" r="3.3" fill="#20afa1" stroke="#15776d" stroke-width="0.65"/>
<circle cx="143.5" cy="377.3" r="3.3" fill="#23b97b" stroke="#177d53" stroke-width="0.65"/>
<circle cx="160.6" cy="385.3" r="3.3" fill="#20b693" stroke="#157b63" stroke-width="0.65"/>
<circle cx="175.9" cy="328.4" r="3.3" fill="#9dc220" stroke="#6a8315" stroke-width="0.65"/>
<circle cx="170.8" cy="316.9" r="3.3" fill="#cebe1e" stroke="#8c8114" stroke-width="0.65"/>
<circle cx="162.7" cy="355.1" r="3.3" fill="#37bc3c" stroke="#257f28" stroke-width="0.65"/>
<circle cx="175.3" cy="287.7" r="3.3" fill="#d9371f" stroke="#932515" stroke-width="0.65"/>
<circle cx="201.8" cy="295.2" r="3.3" fill="#dd5f1e" stroke="#964014" stroke-width="0.65"/>
<circle cx="163" cy="361.8" r="3.3" fill="#2dbc4c" stroke="#1e7f33" stroke-width="0.65"/>
<circle cx="178.4" cy="301.6" r="3.3" fill="#dc7e1e" stroke="#955514" stroke-width="0.65"/>
<circle cx="163.9" cy="349.8" r="3.3" fill="#3fbc31" stroke="#2a7f21" stroke-width="0.65"/>
<circle cx="145.3" cy="366.3" r="3.3" fill="#29bb5a" stroke="#1b7f3d" stroke-width="0.65"/>
<circle cx="169.1" cy="338" r="3.3" fill="#70bf25" stroke="#4c8119" stroke-width="0.65"/>
<circle cx="147.8" cy="356" r="3.3" fill="#35bc3e" stroke="#247f2a" stroke-width="0.65"/>
<circle cx="170" cy="321.8" r="3.3" fill="#bbc21e" stroke="#7f8314" stroke-width="0.65"/>
<circle cx="163" cy="364" r="3.3" fill="#2bbb53" stroke="#1d7f38" stroke-width="0.65"/>
<circle cx="141.2" cy="394.9" r="3.3" fill="#20a0af" stroke="#156c77" stroke-width="0.65"/>
<circle cx="196.7" cy="292.4" r="3.3" fill="#db501f" stroke="#943615" stroke-width="0.65"/>
<circle cx="163.7" cy="313.8" r="3.3" fill="#d2b11e" stroke="#8e7814" stroke-width="0.65"/>
<circle cx="144.4" cy="404.5" r="3.3" fill="#2381b8" stroke="#17577d" stroke-width="0.65"/>
<circle cx="161" cy="366.4" r="3.3" fill="#29bb5a" stroke="#1b7f3d" stroke-width="0.65"/>
<circle cx="163.2" cy="404" r="3.3" fill="#2383b8" stroke="#17597d" stroke-width="0.65"/>
<circle cx="210.4" cy="287.4" r="3.3" fill="#d9351f" stroke="#932415" stroke-width="0.65"/>
<circle cx="221.9" cy="299.8" r="3.3" fill="#dd771e" stroke="#965014" stroke-width="0.65"/>
<circle cx="231.3" cy="297.8" r="3.3" fill="#de6d1e" stroke="#964a14" stroke-width="0.65"/>
<circle cx="266.3" cy="299.8" r="3.3" fill="#dd771e" stroke="#965014" stroke-width="0.65"/>
<circle cx="198.7" cy="309.7" r="3.3" fill="#d79f1e" stroke="#926c14" stroke-width="0.65"/>
<circle cx="189" cy="322.2" r="3.3" fill="#b9c21e" stroke="#7d8314" stroke-width="0.65"/>
<circle cx="186.5" cy="326.5" r="3.3" fill="#a6c21f" stroke="#708315" stroke-width="0.65"/>
<circle cx="188.8" cy="323.6" r="3.3" fill="#b3c31e" stroke="#798414" stroke-width="0.65"/>
<circle cx="116.8" cy="363.1" r="3.3" fill="#2cbc50" stroke="#1d7f36" stroke-width="0.65"/>
<circle cx="125.8" cy="367.5" r="3.3" fill="#28bb5e" stroke="#1b7f3f" stroke-width="0.65"/>
<circle cx="126.5" cy="378" r="3.3" fill="#22b87d" stroke="#177d55" stroke-width="0.65"/>
<circle cx="124.3" cy="383.9" r="3.3" fill="#20b68f" stroke="#157b61" stroke-width="0.65"/>
<circle cx="134" cy="385.9" r="3.3" fill="#20b595" stroke="#157b65" stroke-width="0.65"/>
<circle cx="93" cy="395.1" r="3.3" fill="#209fb0" stroke="#156c77" stroke-width="0.65"/>
<circle cx="99.2" cy="407.5" r="3.3" fill="#2777b7" stroke="#1a507c" stroke-width="0.65"/>
<circle cx="101.2" cy="406.3" r="3.3" fill="#267bb7" stroke="#19537c" stroke-width="0.65"/>
<circle cx="108.4" cy="406.5" r="3.3" fill="#267ab7" stroke="#19527c" stroke-width="0.65"/>
<circle cx="120.8" cy="406" r="3.3" fill="#257cb7" stroke="#19547c" stroke-width="0.65"/>
<circle cx="124" cy="406.3" r="3.3" fill="#267bb7" stroke="#19537c" stroke-width="0.65"/>
<circle cx="130.2" cy="405.8" r="3.3" fill="#257db7" stroke="#19557c" stroke-width="0.65"/>
<circle cx="138.4" cy="407.5" r="3.3" fill="#2777b7" stroke="#1a507c" stroke-width="0.65"/>
<circle cx="143.6" cy="358.6" r="3.3" fill="#31bc44" stroke="#217f2e" stroke-width="0.65"/>
<text x="362.6" y="240.4" font-size="22.5" font-weight="bold" font-family="'Liberation Sans', sans-serif" fill="#000">(D)</text>
<line x1="516.2" y1="256" x2="516.2" y2="439.8" stroke="#a8a8a8" stroke-width="1" />
<line x1="399.1" y1="366.4" x2="632.7" y2="366.4" stroke="#a8a8a8" stroke-width="1" />
<line x1="399.1" y1="262.5" x2="399.1" y2="439.8" stroke="#999" stroke-width="0.9" />
<polygon points="399.1,256.5 397.2,262.9 401,262.9" fill="#808080"/>
<line x1="399.1" y1="439.8" x2="625.6" y2="439.8" stroke="#8a8a8a" stroke-width="1" />
<polygon points="631.6,439.8 624.8,438 624.8,441.6" fill="#808080"/>
<line x1="396.2" y1="292.8" x2="399.1" y2="292.8" stroke="#777" stroke-width="0.8" />
<text x="392.4" y="295.7" font-size="11.5" text-anchor="end" font-family="'Liberation Serif', serif" fill="#222" stroke="#222" stroke-width="0.12" >1</text>
<line x1="396.2" y1="329.6" x2="399.1" y2="329.6" stroke="#777" stroke-width="0.8" />
<text x="392.4" y="332.5" font-size="11.5" text-anchor="end" font-family="'Liberation Serif', serif" fill="#222" stroke="#222" stroke-width="0.12" >0.5</text>
<line x1="396.2" y1="366.4" x2="399.1" y2="366.4" stroke="#777" stroke-width="0.8" />
<text x="392.4" y="369.3" font-size="11.5" text-anchor="end" font-family="'Liberation Serif', serif" fill="#222" stroke="#222" stroke-width="0.12" >0</text>
<line x1="396.2" y1="403.2" x2="399.1" y2="403.2" stroke="#777" stroke-width="0.8" />
<text x="392.4" y="406.1" font-size="11.5" text-anchor="end" font-family="'Liberation Serif', serif" fill="#222" stroke="#222" stroke-width="0.12" >-0.5</text>
<line x1="396.2" y1="440" x2="399.1" y2="440" stroke="#777" stroke-width="0.8" />
<text x="392.4" y="442.9" font-size="11.5" text-anchor="end" font-family="'Liberation Serif', serif" fill="#222" stroke="#222" stroke-width="0.12" >-1</text>
<line x1="397.4" y1="274.4" x2="399.1" y2="274.4" stroke="#888" stroke-width="0.7" />
<line x1="397.4" y1="311.2" x2="399.1" y2="311.2" stroke="#888" stroke-width="0.7" />
<line x1="397.4" y1="348" x2="399.1" y2="348" stroke="#888" stroke-width="0.7" />
<line x1="397.4" y1="384.8" x2="399.1" y2="384.8" stroke="#888" stroke-width="0.7" />
<line x1="397.4" y1="421.6" x2="399.1" y2="421.6" stroke="#888" stroke-width="0.7" />
<line x1="399.9" y1="439.8" x2="399.9" y2="442.2" stroke="#777" stroke-width="0.8" />
<text x="399.9" y="455.3" font-size="11.5" text-anchor="middle" font-family="'Liberation Serif', serif" fill="#222" stroke="#222" stroke-width="0.12" >-0.4</text>
<line x1="428.9" y1="439.8" x2="428.9" y2="442.2" stroke="#777" stroke-width="0.8" />
<text x="428.9" y="455.3" font-size="11.5" text-anchor="middle" font-family="'Liberation Serif', serif" fill="#222" stroke="#222" stroke-width="0.12" >-0.3</text>
<line x1="457.9" y1="439.8" x2="457.9" y2="442.2" stroke="#777" stroke-width="0.8" />
<text x="457.9" y="455.3" font-size="11.5" text-anchor="middle" font-family="'Liberation Serif', serif" fill="#222" stroke="#222" stroke-width="0.12" >-0.2</text>
<line x1="486.9" y1="439.8" x2="486.9" y2="442.2" stroke="#777" stroke-width="0.8" />
<text x="486.9" y="455.3" font-size="11.5" text-anchor="middle" font-family="'Liberation Serif', serif" fill="#222" stroke="#222" stroke-width="0.12" >-0.1</text>
<line x1="515.9" y1="439.8" x2="515.9" y2="442.2" stroke="#777" stroke-width="0.8" />
<text x="515.9" y="455.3" font-size="11.5" text-anchor="middle" font-family="'Liberation Serif', serif" fill="#222" stroke="#222" stroke-width="0.12" >0</text>
<line x1="544.9" y1="439.8" x2="544.9" y2="442.2" stroke="#777" stroke-width="0.8" />
<text x="544.9" y="455.3" font-size="11.5" text-anchor="middle" font-family="'Liberation Serif', serif" fill="#222" stroke="#222" stroke-width="0.12" >0.1</text>
<line x1="573.9" y1="439.8" x2="573.9" y2="442.2" stroke="#777" stroke-width="0.8" />
<text x="573.9" y="455.3" font-size="11.5" text-anchor="middle" font-family="'Liberation Serif', serif" fill="#222" stroke="#222" stroke-width="0.12" >0.2</text>
<line x1="602.9" y1="439.8" x2="602.9" y2="442.2" stroke="#777" stroke-width="0.8" />
<text x="602.9" y="455.3" font-size="11.5" text-anchor="middle" font-family="'Liberation Serif', serif" fill="#222" stroke="#222" stroke-width="0.12" >0.3</text>
<line x1="414.4" y1="439.8" x2="414.4" y2="441.4" stroke="#888" stroke-width="0.7" />
<line x1="443.4" y1="439.8" x2="443.4" y2="441.4" stroke="#888" stroke-width="0.7" />
<line x1="472.4" y1="439.8" x2="472.4" y2="441.4" stroke="#888" stroke-width="0.7" />
<line x1="501.4" y1="439.8" x2="501.4" y2="441.4" stroke="#888" stroke-width="0.7" />
<line x1="530.4" y1="439.8" x2="530.4" y2="441.4" stroke="#888" stroke-width="0.7" />
<line x1="559.4" y1="439.8" x2="559.4" y2="441.4" stroke="#888" stroke-width="0.7" />
<line x1="588.4" y1="439.8" x2="588.4" y2="441.4" stroke="#888" stroke-width="0.7" />
<line x1="617.4" y1="439.8" x2="617.4" y2="441.4" stroke="#888" stroke-width="0.7" />
<text x="515.8" y="469" font-size="7.4" text-anchor="middle" font-family="'Liberation Sans', sans-serif" fill="#333" >p</text>
<text transform="translate(364.0,349.5) rotate(-90)" font-size="8.8" text-anchor="middle" font-family="'Liberation Serif', serif" fill="#222">Pcorr</text>
<defs><linearGradient id="gD" x1="0" y1="0" x2="0" y2="1"><stop offset="0.000" stop-color="#d9301f"/><stop offset="0.100" stop-color="#de731e"/><stop offset="0.200" stop-color="#d6a51e"/><stop offset="0.250" stop-color="#cdc01e"/><stop offset="0.300" stop-color="#b4c31e"/><stop offset="0.400" stop-color="#7ac023"/><stop offset="0.500" stop-color="#42bc2d"/><stop offset="0.600" stop-color="#2ebc48"/><stop offset="0.700" stop-color="#24ba6e"/><stop offset="0.800" stop-color="#20b692"/><stop offset="0.850" stop-color="#20aca8"/><stop offset="0.900" stop-color="#2098b4"/><stop offset="0.950" stop-color="#2284b8"/><stop offset="1.000" stop-color="#2a70b6"/></linearGradient></defs>
<rect x="638.8" y="267" width="12.8" height="197" fill="url(#gD)"/>
<text x="644" y="254.3" font-size="8.6" text-anchor="middle" font-family="'Liberation Serif', serif" fill="#222" stroke="#222" stroke-width="0.12" >Pcorr</text>
<text x="655.4" y="319.9" font-size="12" text-anchor="start" font-family="'Liberation Serif', serif" fill="#222" stroke="#222" stroke-width="0.12" >0.5</text>
<text x="655.4" y="369.2" font-size="12" text-anchor="start" font-family="'Liberation Serif', serif" fill="#222" stroke="#222" stroke-width="0.12" >0</text>
<text x="655.4" y="418.5" font-size="12" text-anchor="start" font-family="'Liberation Serif', serif" fill="#222" stroke="#222" stroke-width="0.12" >-0.5</text>
<text x="655.4" y="467.8" font-size="12" text-anchor="start" font-family="'Liberation Serif', serif" fill="#222" stroke="#222" stroke-width="0.12" >-1</text>
<circle cx="489.7" cy="413.2" r="3.3" fill="#20b29a" stroke="#157968" stroke-width="0.65"/>
<circle cx="511.2" cy="391.5" r="3.3" fill="#27bb63" stroke="#1a7f43" stroke-width="0.65"/>
<circle cx="505" cy="421.6" r="3.3" fill="#20a2ae" stroke="#156e76" stroke-width="0.65"/>
<circle cx="534.3" cy="295" r="3.3" fill="#da3a1f" stroke="#942715" stroke-width="0.65"/>
<circle cx="507.4" cy="404.3" r="3.3" fill="#22b883" stroke="#177d59" stroke-width="0.65"/>
<circle cx="501.7" cy="395.6" r="3.3" fill="#24ba6d" stroke="#187e4a" stroke-width="0.65"/>
<circle cx="484.8" cy="417.9" r="3.3" fill="#20aca8" stroke="#157472" stroke-width="0.65"/>
<circle cx="515.8" cy="367.4" r="3.3" fill="#41bc2f" stroke="#2c7f1f" stroke-width="0.65"/>
<circle cx="516.4" cy="396.1" r="3.3" fill="#24ba6f" stroke="#187e4b" stroke-width="0.65"/>
<circle cx="513.1" cy="435.4" r="3.3" fill="#257cb7" stroke="#19547c" stroke-width="0.65"/>
<circle cx="516.5" cy="354.7" r="3.3" fill="#6fbf25" stroke="#4b8119" stroke-width="0.65"/>
<circle cx="516.4" cy="336.6" r="3.3" fill="#b5c31e" stroke="#7b8414" stroke-width="0.65"/>
<circle cx="479.9" cy="404.6" r="3.3" fill="#22b884" stroke="#177d59" stroke-width="0.65"/>
<circle cx="518.5" cy="362" r="3.3" fill="#53bd2a" stroke="#38801c" stroke-width="0.65"/>
<circle cx="515.9" cy="401.7" r="3.3" fill="#22b87c" stroke="#177d54" stroke-width="0.65"/>
<circle cx="519.9" cy="335.7" r="3.3" fill="#b8c21e" stroke="#7d8314" stroke-width="0.65"/>
<circle cx="497.6" cy="394.3" r="3.3" fill="#25ba6a" stroke="#197e48" stroke-width="0.65"/>
<circle cx="493.8" cy="410.8" r="3.3" fill="#20b693" stroke="#157b63" stroke-width="0.65"/>
<circle cx="517.1" cy="336.4" r="3.3" fill="#b6c31e" stroke="#7b8414" stroke-width="0.65"/>
<circle cx="499.7" cy="381.7" r="3.3" fill="#2ebc4a" stroke="#1f7f32" stroke-width="0.65"/>
<circle cx="519.3" cy="321.1" r="3.3" fill="#d7a11e" stroke="#926d14" stroke-width="0.65"/>
<circle cx="517" cy="320.4" r="3.3" fill="#d79f1e" stroke="#926c14" stroke-width="0.65"/>
<circle cx="547.4" cy="294.5" r="3.3" fill="#da381f" stroke="#942615" stroke-width="0.65"/>
<circle cx="516.1" cy="327.3" r="3.3" fill="#d0b71e" stroke="#8d7c14" stroke-width="0.65"/>
<circle cx="522.2" cy="338.4" r="3.3" fill="#aec31e" stroke="#768414" stroke-width="0.65"/>
<circle cx="538.6" cy="295.5" r="3.3" fill="#da3c1f" stroke="#942815" stroke-width="0.65"/>
<circle cx="510.4" cy="391.7" r="3.3" fill="#27bb63" stroke="#1a7f43" stroke-width="0.65"/>
<circle cx="515.4" cy="347.5" r="3.3" fill="#8ac122" stroke="#5d8317" stroke-width="0.65"/>
<circle cx="508.7" cy="426.6" r="3.3" fill="#2094b5" stroke="#15647b" stroke-width="0.65"/>
<circle cx="515.1" cy="354.8" r="3.3" fill="#6ebf25" stroke="#4a8119" stroke-width="0.65"/>
<circle cx="518.8" cy="358.4" r="3.3" fill="#61be28" stroke="#41811b" stroke-width="0.65"/>
<circle cx="524.7" cy="332.2" r="3.3" fill="#c4c11e" stroke="#858314" stroke-width="0.65"/>
<circle cx="509.7" cy="403.4" r="3.3" fill="#22b881" stroke="#177d57" stroke-width="0.65"/>
<circle cx="515.5" cy="368.3" r="3.3" fill="#3fbc30" stroke="#2a7f20" stroke-width="0.65"/>
<circle cx="514.9" cy="357.6" r="3.3" fill="#63be27" stroke="#43811a" stroke-width="0.65"/>
<circle cx="495.9" cy="427.1" r="3.3" fill="#2093b5" stroke="#15637b" stroke-width="0.65"/>
<circle cx="516.1" cy="360.3" r="3.3" fill="#59be29" stroke="#3c811b" stroke-width="0.65"/>
<circle cx="503.6" cy="432.4" r="3.3" fill="#2285b8" stroke="#175a7d" stroke-width="0.65"/>
<circle cx="516.9" cy="334.7" r="3.3" fill="#bcc21e" stroke="#7f8314" stroke-width="0.65"/>
<circle cx="515.6" cy="341.7" r="3.3" fill="#a1c220" stroke="#6d8315" stroke-width="0.65"/>
<circle cx="510.7" cy="372" r="3.3" fill="#3abc37" stroke="#277f25" stroke-width="0.65"/>
<circle cx="516.3" cy="294.7" r="3.3" fill="#da391f" stroke="#942615" stroke-width="0.65"/>
<circle cx="523.8" cy="337.9" r="3.3" fill="#b0c31e" stroke="#778414" stroke-width="0.65"/>
<circle cx="516.6" cy="361.8" r="3.3" fill="#53bd2a" stroke="#38801c" stroke-width="0.65"/>
<circle cx="522.1" cy="328" r="3.3" fill="#cfba1e" stroke="#8c7e14" stroke-width="0.65"/>
<circle cx="514.2" cy="424.6" r="3.3" fill="#209ab3" stroke="#156879" stroke-width="0.65"/>
<circle cx="511.9" cy="433.9" r="3.3" fill="#2381b8" stroke="#17577d" stroke-width="0.65"/>
<circle cx="530.3" cy="301.8" r="3.3" fill="#dc591e" stroke="#953c14" stroke-width="0.65"/>
<circle cx="515.4" cy="367.3" r="3.3" fill="#41bc2f" stroke="#2c7f1f" stroke-width="0.65"/>
<circle cx="501.2" cy="390.1" r="3.3" fill="#28bb5f" stroke="#1b7f40" stroke-width="0.65"/>
<circle cx="509.6" cy="372" r="3.3" fill="#3abc37" stroke="#277f25" stroke-width="0.65"/>
<circle cx="497.6" cy="400.7" r="3.3" fill="#23b97a" stroke="#177d52" stroke-width="0.65"/>
<circle cx="518.5" cy="350" r="3.3" fill="#81c022" stroke="#578217" stroke-width="0.65"/>
<circle cx="500" cy="383.5" r="3.3" fill="#2cbc4e" stroke="#1d7f35" stroke-width="0.65"/>
<circle cx="522" cy="332.1" r="3.3" fill="#c4c11e" stroke="#858314" stroke-width="0.65"/>
<circle cx="516.1" cy="324.5" r="3.3" fill="#d3ad1e" stroke="#8f7514" stroke-width="0.65"/>
<circle cx="520.1" cy="300.5" r="3.3" fill="#dc531e" stroke="#953814" stroke-width="0.65"/>
<circle cx="489.1" cy="421" r="3.3" fill="#20a4ad" stroke="#156f75" stroke-width="0.65"/>
<circle cx="517" cy="323.3" r="3.3" fill="#d5a91e" stroke="#907214" stroke-width="0.65"/>
<circle cx="509.9" cy="376.3" r="3.3" fill="#35bc3f" stroke="#247f2a" stroke-width="0.65"/>
<circle cx="511.3" cy="398.3" r="3.3" fill="#23b974" stroke="#177d4e" stroke-width="0.65"/>
<circle cx="530.8" cy="295.1" r="3.3" fill="#da3a1f" stroke="#942715" stroke-width="0.65"/>
<circle cx="520.3" cy="342.8" r="3.3" fill="#9dc220" stroke="#6a8315" stroke-width="0.65"/>
<circle cx="540.1" cy="294.3" r="3.3" fill="#da371f" stroke="#942515" stroke-width="0.65"/>
<circle cx="516.7" cy="311.7" r="3.3" fill="#dc811e" stroke="#955714" stroke-width="0.65"/>
<circle cx="499.1" cy="430.1" r="3.3" fill="#218bb7" stroke="#165e7c" stroke-width="0.65"/>
<circle cx="513.2" cy="385.9" r="3.3" fill="#2bbb54" stroke="#1d7f39" stroke-width="0.65"/>
<circle cx="545.3" cy="295.1" r="3.3" fill="#da3a1f" stroke="#942715" stroke-width="0.65"/>
<circle cx="520.4" cy="318.7" r="3.3" fill="#d8991e" stroke="#926814" stroke-width="0.65"/>
<circle cx="505.6" cy="414.8" r="3.3" fill="#20b09f" stroke="#15776c" stroke-width="0.65"/>
<circle cx="527.6" cy="298.2" r="3.3" fill="#db491f" stroke="#943115" stroke-width="0.65"/>
<circle cx="522.8" cy="295.1" r="3.3" fill="#da3a1f" stroke="#942715" stroke-width="0.65"/>
<circle cx="515.3" cy="320.1" r="3.3" fill="#d79e1e" stroke="#926b14" stroke-width="0.65"/>
<circle cx="519.5" cy="324.8" r="3.3" fill="#d3ae1e" stroke="#8f7614" stroke-width="0.65"/>
<circle cx="514.3" cy="422" r="3.3" fill="#20a1af" stroke="#156d77" stroke-width="0.65"/>
<circle cx="523.3" cy="308.2" r="3.3" fill="#de751e" stroke="#964f14" stroke-width="0.65"/>
<circle cx="515.6" cy="428.7" r="3.3" fill="#218fb6" stroke="#16617b" stroke-width="0.65"/>
<circle cx="521.2" cy="322.1" r="3.3" fill="#d6a51e" stroke="#917014" stroke-width="0.65"/>
<circle cx="537.5" cy="294.2" r="3.3" fill="#d9361f" stroke="#932415" stroke-width="0.65"/>
<circle cx="501.8" cy="390.7" r="3.3" fill="#27bb61" stroke="#1a7f41" stroke-width="0.65"/>
<circle cx="514" cy="368.9" r="3.3" fill="#3fbc32" stroke="#2a7f22" stroke-width="0.65"/>
<circle cx="515.9" cy="337.5" r="3.3" fill="#b2c31e" stroke="#798414" stroke-width="0.65"/>
<circle cx="531.4" cy="295.6" r="3.3" fill="#da3d1f" stroke="#942915" stroke-width="0.65"/>
<circle cx="516.3" cy="368.4" r="3.3" fill="#3fbc31" stroke="#2a7f21" stroke-width="0.65"/>
<circle cx="521.5" cy="327.8" r="3.3" fill="#cfb91e" stroke="#8c7d14" stroke-width="0.65"/>
<circle cx="517" cy="339.3" r="3.3" fill="#abc31f" stroke="#748415" stroke-width="0.65"/>
<circle cx="515.9" cy="340.8" r="3.3" fill="#a5c21f" stroke="#708315" stroke-width="0.65"/>
<circle cx="518.2" cy="353.6" r="3.3" fill="#73bf24" stroke="#4e8118" stroke-width="0.65"/>
<circle cx="511.1" cy="373" r="3.3" fill="#39bc39" stroke="#267f26" stroke-width="0.65"/>
<circle cx="520.5" cy="342.4" r="3.3" fill="#9fc220" stroke="#6c8315" stroke-width="0.65"/>
<circle cx="531.2" cy="296.2" r="3.3" fill="#da401f" stroke="#942b15" stroke-width="0.65"/>
<circle cx="503.5" cy="403.2" r="3.3" fill="#22b880" stroke="#177d57" stroke-width="0.65"/>
<circle cx="515.9" cy="403" r="3.3" fill="#22b880" stroke="#177d57" stroke-width="0.65"/>
<circle cx="518.1" cy="352.6" r="3.3" fill="#76c024" stroke="#508218" stroke-width="0.65"/>
<circle cx="514.8" cy="405.5" r="3.3" fill="#21b786" stroke="#167c5b" stroke-width="0.65"/>
<circle cx="534" cy="305.4" r="3.3" fill="#dd691e" stroke="#964714" stroke-width="0.65"/>
<circle cx="523.8" cy="307.4" r="3.3" fill="#de731e" stroke="#964e14" stroke-width="0.65"/>
<circle cx="516.2" cy="352.6" r="3.3" fill="#76c024" stroke="#508218" stroke-width="0.65"/>
<circle cx="515.2" cy="421.9" r="3.3" fill="#20a1af" stroke="#156d77" stroke-width="0.65"/>
<circle cx="510.7" cy="429.2" r="3.3" fill="#218db6" stroke="#165f7b" stroke-width="0.65"/>
<circle cx="509.6" cy="376" r="3.3" fill="#35bc3f" stroke="#247f2a" stroke-width="0.65"/>
<circle cx="516.3" cy="333.1" r="3.3" fill="#c1c11e" stroke="#838314" stroke-width="0.65"/>
<circle cx="501.9" cy="392.9" r="3.3" fill="#26ba66" stroke="#197e45" stroke-width="0.65"/>
<circle cx="529.4" cy="295.8" r="3.3" fill="#da3e1f" stroke="#942a15" stroke-width="0.65"/>
<circle cx="512.7" cy="407.4" r="3.3" fill="#21b78a" stroke="#167c5d" stroke-width="0.65"/>
<circle cx="520.8" cy="342.6" r="3.3" fill="#9ec220" stroke="#6b8315" stroke-width="0.65"/>
<circle cx="514" cy="434.3" r="3.3" fill="#247fb8" stroke="#18567d" stroke-width="0.65"/>
<circle cx="510" cy="379" r="3.3" fill="#31bc44" stroke="#217f2e" stroke-width="0.65"/>
<circle cx="506.4" cy="388.2" r="3.3" fill="#29bb5a" stroke="#1b7f3d" stroke-width="0.65"/>
<circle cx="502.2" cy="381.6" r="3.3" fill="#2ebc49" stroke="#1f7f31" stroke-width="0.65"/>
<circle cx="506" cy="391.9" r="3.3" fill="#27bb64" stroke="#1a7f44" stroke-width="0.65"/>
<circle cx="516.2" cy="322.9" r="3.3" fill="#d5a71e" stroke="#907114" stroke-width="0.65"/>
<circle cx="515.8" cy="347.1" r="3.3" fill="#8cc121" stroke="#5f8316" stroke-width="0.65"/>
<circle cx="514.5" cy="434.1" r="3.3" fill="#2480b8" stroke="#18577d" stroke-width="0.65"/>
<circle cx="519.9" cy="359.9" r="3.3" fill="#5bbe29" stroke="#3d811b" stroke-width="0.65"/>
<circle cx="507.5" cy="376.9" r="3.3" fill="#34bc40" stroke="#237f2b" stroke-width="0.65"/>
<circle cx="493.6" cy="406.7" r="3.3" fill="#21b789" stroke="#167c5d" stroke-width="0.65"/>
<circle cx="515.8" cy="408.6" r="3.3" fill="#21b78d" stroke="#167c5f" stroke-width="0.65"/>
<circle cx="516.9" cy="410.9" r="3.3" fill="#20b693" stroke="#157b63" stroke-width="0.65"/>
<circle cx="518.4" cy="322.9" r="3.3" fill="#d5a81e" stroke="#907214" stroke-width="0.65"/>
<circle cx="515.2" cy="432.8" r="3.3" fill="#2283b8" stroke="#17597d" stroke-width="0.65"/>
<circle cx="529" cy="302" r="3.3" fill="#dc5a1e" stroke="#953d14" stroke-width="0.65"/>
<circle cx="528.9" cy="312" r="3.3" fill="#dc821e" stroke="#955814" stroke-width="0.65"/>
<circle cx="526.5" cy="314.2" r="3.3" fill="#da8a1e" stroke="#945d14" stroke-width="0.65"/>
<circle cx="519.1" cy="318.1" r="3.3" fill="#d8971e" stroke="#926614" stroke-width="0.65"/>
<circle cx="517.1" cy="356.9" r="3.3" fill="#66bf27" stroke="#45811a" stroke-width="0.65"/>
<circle cx="489.9" cy="409.1" r="3.3" fill="#20b68e" stroke="#157b60" stroke-width="0.65"/>
<circle cx="526.5" cy="306.3" r="3.3" fill="#de6e1e" stroke="#964a14" stroke-width="0.65"/>
<circle cx="515.1" cy="344" r="3.3" fill="#98c220" stroke="#678315" stroke-width="0.65"/>
<circle cx="518.3" cy="330.1" r="3.3" fill="#cbc01e" stroke="#8a8214" stroke-width="0.65"/>
<circle cx="512.5" cy="386" r="3.3" fill="#2bbb55" stroke="#1d7f39" stroke-width="0.65"/>
<circle cx="516.5" cy="344.3" r="3.3" fill="#97c220" stroke="#668315" stroke-width="0.65"/>
<circle cx="510.6" cy="368.5" r="3.3" fill="#3fbc31" stroke="#2a7f21" stroke-width="0.65"/>
<circle cx="516.1" cy="316.6" r="3.3" fill="#d9921e" stroke="#936314" stroke-width="0.65"/>
<circle cx="508.8" cy="394.1" r="3.3" fill="#25ba6a" stroke="#197e48" stroke-width="0.65"/>
<circle cx="515.1" cy="325.8" r="3.3" fill="#d2b21e" stroke="#8e7914" stroke-width="0.65"/>
<circle cx="507.8" cy="430.8" r="3.3" fill="#2289b7" stroke="#175d7c" stroke-width="0.65"/>
<circle cx="485.3" cy="412.8" r="3.3" fill="#20b399" stroke="#157968" stroke-width="0.65"/>
<circle cx="515" cy="357.4" r="3.3" fill="#64be27" stroke="#44811a" stroke-width="0.65"/>
<circle cx="520.4" cy="321.1" r="3.3" fill="#d7a11e" stroke="#926d14" stroke-width="0.65"/>
<circle cx="515.3" cy="368" r="3.3" fill="#40bc30" stroke="#2b7f20" stroke-width="0.65"/>
<circle cx="520.9" cy="302.3" r="3.3" fill="#dc5b1e" stroke="#953d14" stroke-width="0.65"/>
<circle cx="502.7" cy="420.8" r="3.3" fill="#20a4ad" stroke="#156f75" stroke-width="0.65"/>
<circle cx="485.6" cy="412" r="3.3" fill="#20b496" stroke="#157a66" stroke-width="0.65"/>
<circle cx="507.2" cy="391.6" r="3.3" fill="#27bb63" stroke="#1a7f43" stroke-width="0.65"/>
<circle cx="517.6" cy="341.3" r="3.3" fill="#a3c21f" stroke="#6e8315" stroke-width="0.65"/>
<circle cx="549.4" cy="294.4" r="3.3" fill="#da371f" stroke="#942515" stroke-width="0.65"/>
<circle cx="515.9" cy="389.3" r="3.3" fill="#28bb5d" stroke="#1b7f3f" stroke-width="0.65"/>
<circle cx="515.9" cy="410.3" r="3.3" fill="#20b691" stroke="#157b62" stroke-width="0.65"/>
<circle cx="507.3" cy="435.8" r="3.3" fill="#257bb7" stroke="#19537c" stroke-width="0.65"/>
<circle cx="516.1" cy="356.5" r="3.3" fill="#68bf26" stroke="#468119" stroke-width="0.65"/>
<circle cx="517.7" cy="325" r="3.3" fill="#d3af1e" stroke="#8f7714" stroke-width="0.65"/>
<circle cx="515.1" cy="299.6" r="3.3" fill="#db4f1f" stroke="#943515" stroke-width="0.65"/>
<circle cx="534.9" cy="300.7" r="3.3" fill="#dc541e" stroke="#953914" stroke-width="0.65"/>
<circle cx="516.5" cy="322.6" r="3.3" fill="#d6a61e" stroke="#917014" stroke-width="0.65"/>
<circle cx="519.7" cy="322.3" r="3.3" fill="#d6a51e" stroke="#917014" stroke-width="0.65"/>
<circle cx="515.2" cy="351.3" r="3.3" fill="#7bc023" stroke="#538217" stroke-width="0.65"/>
<circle cx="511.5" cy="369.9" r="3.3" fill="#3dbc33" stroke="#297f22" stroke-width="0.65"/>
<circle cx="514.7" cy="384.8" r="3.3" fill="#2bbb52" stroke="#1d7f37" stroke-width="0.65"/>
<circle cx="521" cy="352.7" r="3.3" fill="#76c024" stroke="#508218" stroke-width="0.65"/>
<circle cx="502.7" cy="431.9" r="3.3" fill="#2286b8" stroke="#175b7d" stroke-width="0.65"/>
<circle cx="516.3" cy="294.1" r="3.3" fill="#d9361f" stroke="#932415" stroke-width="0.65"/>
<circle cx="516.6" cy="395.6" r="3.3" fill="#24ba6d" stroke="#187e4a" stroke-width="0.65"/>
<circle cx="524.4" cy="294.8" r="3.3" fill="#da391f" stroke="#942615" stroke-width="0.65"/>
<circle cx="515.9" cy="322.5" r="3.3" fill="#d6a61e" stroke="#917014" stroke-width="0.65"/>
<circle cx="504.4" cy="431.4" r="3.3" fill="#2287b7" stroke="#175b7c" stroke-width="0.65"/>
<circle cx="516" cy="405.4" r="3.3" fill="#21b785" stroke="#167c5a" stroke-width="0.65"/>
<circle cx="481.8" cy="401.4" r="3.3" fill="#22b87c" stroke="#177d54" stroke-width="0.65"/>
<circle cx="527.1" cy="317.5" r="3.3" fill="#d9951e" stroke="#936514" stroke-width="0.65"/>
<circle cx="509.9" cy="412.1" r="3.3" fill="#20b497" stroke="#157a66" stroke-width="0.65"/>
<circle cx="513.5" cy="384.6" r="3.3" fill="#2cbc51" stroke="#1d7f37" stroke-width="0.65"/>
<circle cx="512.1" cy="421.7" r="3.3" fill="#20a2ae" stroke="#156e76" stroke-width="0.65"/>
<circle cx="517.3" cy="359.9" r="3.3" fill="#5bbe29" stroke="#3d811b" stroke-width="0.65"/>
<circle cx="529" cy="295.5" r="3.3" fill="#da3c1f" stroke="#942815" stroke-width="0.65"/>
<circle cx="507.1" cy="428.9" r="3.3" fill="#218eb6" stroke="#16607b" stroke-width="0.65"/>
<circle cx="516" cy="340.8" r="3.3" fill="#a5c21f" stroke="#708315" stroke-width="0.65"/>
<circle cx="516.2" cy="318.3" r="3.3" fill="#d8981e" stroke="#926714" stroke-width="0.65"/>
<circle cx="518.3" cy="340" r="3.3" fill="#a8c21f" stroke="#728315" stroke-width="0.65"/>
<circle cx="516.8" cy="310.2" r="3.3" fill="#dd7c1e" stroke="#965414" stroke-width="0.65"/>
<circle cx="507.4" cy="435.5" r="3.3" fill="#257cb7" stroke="#19547c" stroke-width="0.65"/>
<circle cx="516.7" cy="408.9" r="3.3" fill="#20b68e" stroke="#157b60" stroke-width="0.65"/>
<circle cx="485.7" cy="420.9" r="3.3" fill="#20a4ad" stroke="#156f75" stroke-width="0.65"/>
<circle cx="515.6" cy="342.4" r="3.3" fill="#9ec220" stroke="#6b8315" stroke-width="0.65"/>
<circle cx="503.8" cy="421" r="3.3" fill="#20a4ad" stroke="#156f75" stroke-width="0.65"/>
<circle cx="523.1" cy="312.5" r="3.3" fill="#db841e" stroke="#945914" stroke-width="0.65"/>
<circle cx="519.1" cy="306.3" r="3.3" fill="#de6e1e" stroke="#964a14" stroke-width="0.65"/>
<circle cx="506.3" cy="382.9" r="3.3" fill="#2dbc4d" stroke="#1e7f34" stroke-width="0.65"/>
<circle cx="516.7" cy="425.2" r="3.3" fill="#2098b4" stroke="#15677a" stroke-width="0.65"/>
<circle cx="516.5" cy="328.3" r="3.3" fill="#cfbb1e" stroke="#8c7f14" stroke-width="0.65"/>
<circle cx="507.3" cy="376.3" r="3.3" fill="#35bc3f" stroke="#247f2a" stroke-width="0.65"/>
<circle cx="501.6" cy="430.6" r="3.3" fill="#218ab7" stroke="#165d7c" stroke-width="0.65"/>
<circle cx="516.7" cy="353.5" r="3.3" fill="#73bf24" stroke="#4e8118" stroke-width="0.65"/>
<circle cx="526.4" cy="326.8" r="3.3" fill="#d0b61e" stroke="#8d7b14" stroke-width="0.65"/>
<circle cx="516.5" cy="322.9" r="3.3" fill="#d5a81e" stroke="#907214" stroke-width="0.65"/>
<circle cx="514.7" cy="360.3" r="3.3" fill="#59be29" stroke="#3c811b" stroke-width="0.65"/>
<circle cx="515.3" cy="400.7" r="3.3" fill="#23b97a" stroke="#177d52" stroke-width="0.65"/>
<circle cx="508.8" cy="377.4" r="3.3" fill="#33bc41" stroke="#227f2c" stroke-width="0.65"/>
<circle cx="505.8" cy="390.6" r="3.3" fill="#28bb61" stroke="#1b7f41" stroke-width="0.65"/>
<circle cx="529.7" cy="315.6" r="3.3" fill="#da8f1e" stroke="#946114" stroke-width="0.65"/>
<circle cx="516.1" cy="311.7" r="3.3" fill="#dc811e" stroke="#955714" stroke-width="0.65"/>
<circle cx="516" cy="360.1" r="3.3" fill="#5abe29" stroke="#3d811b" stroke-width="0.65"/>
<circle cx="503.1" cy="379" r="3.3" fill="#31bc44" stroke="#217f2e" stroke-width="0.65"/>
<circle cx="518.3" cy="360.7" r="3.3" fill="#58be29" stroke="#3b811b" stroke-width="0.65"/>
<circle cx="508.7" cy="383.5" r="3.3" fill="#2cbc4e" stroke="#1d7f35" stroke-width="0.65"/>
<circle cx="525.2" cy="329.6" r="3.3" fill="#cdc01e" stroke="#8b8214" stroke-width="0.65"/>
<circle cx="511.3" cy="369.2" r="3.3" fill="#3ebc32" stroke="#2a7f22" stroke-width="0.65"/>
<circle cx="528.7" cy="319.8" r="3.3" fill="#d79d1e" stroke="#926a14" stroke-width="0.65"/>
<circle cx="507.6" cy="387.9" r="3.3" fill="#29bb59" stroke="#1b7f3c" stroke-width="0.65"/>
<circle cx="514.2" cy="389" r="3.3" fill="#29bb5c" stroke="#1b7f3e" stroke-width="0.65"/>
<circle cx="516.5" cy="317.3" r="3.3" fill="#d9941e" stroke="#936414" stroke-width="0.65"/>
<circle cx="516.5" cy="310" r="3.3" fill="#dd7c1e" stroke="#965414" stroke-width="0.65"/>
<circle cx="488.1" cy="403.5" r="3.3" fill="#22b881" stroke="#177d57" stroke-width="0.65"/>
<circle cx="544.8" cy="295.1" r="3.3" fill="#da3b1f" stroke="#942815" stroke-width="0.65"/>
<circle cx="508.1" cy="376.6" r="3.3" fill="#34bc40" stroke="#237f2b" stroke-width="0.65"/>
<circle cx="515.4" cy="396.3" r="3.3" fill="#24ba6f" stroke="#187e4b" stroke-width="0.65"/>
<circle cx="521.7" cy="320.1" r="3.3" fill="#d79e1e" stroke="#926b14" stroke-width="0.65"/>
<circle cx="516.4" cy="353" r="3.3" fill="#75c024" stroke="#4f8218" stroke-width="0.65"/>
<circle cx="515.7" cy="383.7" r="3.3" fill="#2cbc4f" stroke="#1d7f35" stroke-width="0.65"/>
<circle cx="515.8" cy="339.7" r="3.3" fill="#a9c21f" stroke="#728315" stroke-width="0.65"/>
<circle cx="515.2" cy="372.1" r="3.3" fill="#3abc37" stroke="#277f25" stroke-width="0.65"/>
<circle cx="517.1" cy="310.7" r="3.3" fill="#dc7e1e" stroke="#955514" stroke-width="0.65"/>
<circle cx="515" cy="430" r="3.3" fill="#218bb7" stroke="#165e7c" stroke-width="0.65"/>
<circle cx="516.8" cy="423.6" r="3.3" fill="#209cb1" stroke="#156a78" stroke-width="0.65"/>
<circle cx="510.2" cy="392.9" r="3.3" fill="#26ba66" stroke="#197e45" stroke-width="0.65"/>
<circle cx="512.2" cy="384.2" r="3.3" fill="#2cbc50" stroke="#1d7f36" stroke-width="0.65"/>
<circle cx="515" cy="356.4" r="3.3" fill="#68bf26" stroke="#468119" stroke-width="0.65"/>
<circle cx="505.9" cy="414.3" r="3.3" fill="#20b19d" stroke="#15786a" stroke-width="0.65"/>
<circle cx="479.3" cy="406.4" r="3.3" fill="#21b788" stroke="#167c5c" stroke-width="0.65"/>
<circle cx="516.5" cy="295" r="3.3" fill="#da3a1f" stroke="#942715" stroke-width="0.65"/>
<circle cx="483" cy="412.5" r="3.3" fill="#20b398" stroke="#157967" stroke-width="0.65"/>
<circle cx="515.4" cy="350" r="3.3" fill="#81c022" stroke="#578217" stroke-width="0.65"/>
<circle cx="515.6" cy="367.2" r="3.3" fill="#41bc2e" stroke="#2c7f1f" stroke-width="0.65"/>
<circle cx="509.3" cy="372.1" r="3.3" fill="#3abc37" stroke="#277f25" stroke-width="0.65"/>
<circle cx="480.5" cy="417.4" r="3.3" fill="#20ada6" stroke="#157570" stroke-width="0.65"/>
<circle cx="515.1" cy="325.2" r="3.3" fill="#d2b01e" stroke="#8e7714" stroke-width="0.65"/>
<circle cx="520.3" cy="302.2" r="3.3" fill="#dc5b1e" stroke="#953d14" stroke-width="0.65"/>
<circle cx="500.8" cy="381.2" r="3.3" fill="#2ebc48" stroke="#1f7f30" stroke-width="0.65"/>
<circle cx="519.7" cy="310.8" r="3.3" fill="#dc7e1e" stroke="#955514" stroke-width="0.65"/>
<circle cx="499.7" cy="395.3" r="3.3" fill="#24ba6d" stroke="#187e4a" stroke-width="0.65"/>
<circle cx="505.1" cy="374.6" r="3.3" fill="#37bc3c" stroke="#257f28" stroke-width="0.65"/>
<circle cx="516" cy="306.1" r="3.3" fill="#de6d1e" stroke="#964a14" stroke-width="0.65"/>
<circle cx="516" cy="417.8" r="3.3" fill="#20aca8" stroke="#157472" stroke-width="0.65"/>
<circle cx="519.1" cy="353.3" r="3.3" fill="#74c024" stroke="#4e8218" stroke-width="0.65"/>
<circle cx="516.6" cy="302.4" r="3.3" fill="#dc5c1e" stroke="#953e14" stroke-width="0.65"/>
<circle cx="515.7" cy="353.5" r="3.3" fill="#73c024" stroke="#4e8218" stroke-width="0.65"/>
<circle cx="522.3" cy="314" r="3.3" fill="#da891e" stroke="#945d14" stroke-width="0.65"/>
<circle cx="528.7" cy="318.4" r="3.3" fill="#d8981e" stroke="#926714" stroke-width="0.65"/>
<circle cx="516.1" cy="351.5" r="3.3" fill="#7bc023" stroke="#538217" stroke-width="0.65"/>
<circle cx="516.2" cy="348.9" r="3.3" fill="#85c122" stroke="#5a8317" stroke-width="0.65"/>
<circle cx="515.6" cy="417.8" r="3.3" fill="#20aca7" stroke="#157471" stroke-width="0.65"/>
<circle cx="520.8" cy="294.8" r="3.3" fill="#da391f" stroke="#942615" stroke-width="0.65"/>
<circle cx="518.2" cy="333.7" r="3.3" fill="#bfc21e" stroke="#818314" stroke-width="0.65"/>
<circle cx="518.2" cy="332.8" r="3.3" fill="#c2c11e" stroke="#838314" stroke-width="0.65"/>
<circle cx="538.6" cy="294.6" r="3.3" fill="#da381f" stroke="#942615" stroke-width="0.65"/>
<circle cx="499.6" cy="411.5" r="3.3" fill="#20b595" stroke="#157b65" stroke-width="0.65"/>
<circle cx="517.3" cy="355.3" r="3.3" fill="#6cbf25" stroke="#498119" stroke-width="0.65"/>
<circle cx="501.7" cy="431.2" r="3.3" fill="#2288b7" stroke="#175c7c" stroke-width="0.65"/>
<circle cx="504.6" cy="411.7" r="3.3" fill="#20b495" stroke="#157a65" stroke-width="0.65"/>
<circle cx="497.9" cy="419.3" r="3.3" fill="#20a8aa" stroke="#157273" stroke-width="0.65"/>
<circle cx="531.6" cy="294.2" r="3.3" fill="#d9361f" stroke="#932415" stroke-width="0.65"/>
<circle cx="527.7" cy="306.3" r="3.3" fill="#de6d1e" stroke="#964a14" stroke-width="0.65"/>
<circle cx="510.3" cy="368.7" r="3.3" fill="#3fbc31" stroke="#2a7f21" stroke-width="0.65"/>
<circle cx="504.8" cy="429" r="3.3" fill="#218eb6" stroke="#16607b" stroke-width="0.65"/>
<circle cx="516.3" cy="315.3" r="3.3" fill="#da8d1e" stroke="#945f14" stroke-width="0.65"/>
<circle cx="518.1" cy="311" r="3.3" fill="#dc7f1e" stroke="#955614" stroke-width="0.65"/>
<circle cx="514.7" cy="363.5" r="3.3" fill="#4dbd2b" stroke="#34801d" stroke-width="0.65"/>
<circle cx="515.8" cy="350.3" r="3.3" fill="#7fc023" stroke="#568217" stroke-width="0.65"/>
<circle cx="517.8" cy="335.7" r="3.3" fill="#b8c21e" stroke="#7d8314" stroke-width="0.65"/>
<circle cx="497.5" cy="386.2" r="3.3" fill="#2bbb55" stroke="#1d7f39" stroke-width="0.65"/>
<circle cx="541.4" cy="295.7" r="3.3" fill="#da3d1f" stroke="#942915" stroke-width="0.65"/>
<circle cx="491.1" cy="409.3" r="3.3" fill="#20b68f" stroke="#157b61" stroke-width="0.65"/>
<circle cx="511.2" cy="419.8" r="3.3" fill="#20a7ab" stroke="#157174" stroke-width="0.65"/>
<circle cx="516.1" cy="342.6" r="3.3" fill="#9ec220" stroke="#6b8315" stroke-width="0.65"/>
<circle cx="516.1" cy="322.3" r="3.3" fill="#d6a51e" stroke="#917014" stroke-width="0.65"/>
<circle cx="516.6" cy="327.3" r="3.3" fill="#d0b81e" stroke="#8d7d14" stroke-width="0.65"/>
<circle cx="515" cy="359" r="3.3" fill="#5ebe28" stroke="#3f811b" stroke-width="0.65"/>
<circle cx="518.6" cy="358" r="3.3" fill="#62be27" stroke="#42811a" stroke-width="0.65"/>
<circle cx="519" cy="334.5" r="3.3" fill="#bcc21e" stroke="#7f8314" stroke-width="0.65"/>
<circle cx="515.5" cy="432.3" r="3.3" fill="#2285b8" stroke="#175a7d" stroke-width="0.65"/>
<circle cx="510.4" cy="371.5" r="3.3" fill="#3bbc36" stroke="#287f24" stroke-width="0.65"/>
<circle cx="513.9" cy="371.5" r="3.3" fill="#3bbc36" stroke="#287f24" stroke-width="0.65"/>
<circle cx="518.7" cy="353.6" r="3.3" fill="#73bf24" stroke="#4e8118" stroke-width="0.65"/>
<circle cx="518.3" cy="314.2" r="3.3" fill="#da8a1e" stroke="#945d14" stroke-width="0.65"/>
<circle cx="509.5" cy="389.8" r="3.3" fill="#28bb5e" stroke="#1b7f3f" stroke-width="0.65"/>
<circle cx="519.6" cy="309.2" r="3.3" fill="#dd791e" stroke="#965214" stroke-width="0.65"/>
<circle cx="517.1" cy="312.3" r="3.3" fill="#db831e" stroke="#945914" stroke-width="0.65"/>
<circle cx="486.6" cy="399.3" r="3.3" fill="#23b977" stroke="#177d50" stroke-width="0.65"/>
<circle cx="511" cy="388" r="3.3" fill="#29bb5a" stroke="#1b7f3d" stroke-width="0.65"/>
<circle cx="517.7" cy="347.4" r="3.3" fill="#8bc122" stroke="#5e8317" stroke-width="0.65"/>
<circle cx="517.4" cy="314.4" r="3.3" fill="#da8a1e" stroke="#945d14" stroke-width="0.65"/>
<circle cx="523.8" cy="332.7" r="3.3" fill="#c2c11e" stroke="#838314" stroke-width="0.65"/>
<circle cx="526.6" cy="294.9" r="3.3" fill="#da391f" stroke="#942615" stroke-width="0.65"/>
<circle cx="518.7" cy="350.3" r="3.3" fill="#7fc023" stroke="#568217" stroke-width="0.65"/>
<circle cx="515.7" cy="341.7" r="3.3" fill="#a1c220" stroke="#6d8315" stroke-width="0.65"/>
<circle cx="523.6" cy="305.2" r="3.3" fill="#dd681e" stroke="#964614" stroke-width="0.65"/>
<circle cx="516" cy="326.5" r="3.3" fill="#d1b51e" stroke="#8e7b14" stroke-width="0.65"/>
<circle cx="515" cy="368.8" r="3.3" fill="#3fbc31" stroke="#2a7f21" stroke-width="0.65"/>
<circle cx="523.4" cy="345.2" r="3.3" fill="#94c121" stroke="#648316" stroke-width="0.65"/>
<circle cx="517.9" cy="342" r="3.3" fill="#a0c220" stroke="#6c8315" stroke-width="0.65"/>
<circle cx="488.1" cy="403.6" r="3.3" fill="#22b881" stroke="#177d57" stroke-width="0.65"/>
<circle cx="509.2" cy="389.5" r="3.3" fill="#28bb5e" stroke="#1b7f3f" stroke-width="0.65"/>
<circle cx="512.6" cy="435.2" r="3.3" fill="#257db7" stroke="#19557c" stroke-width="0.65"/>
<circle cx="518.1" cy="354.1" r="3.3" fill="#71bf25" stroke="#4c8119" stroke-width="0.65"/>
<circle cx="524.3" cy="324.6" r="3.3" fill="#d3ae1e" stroke="#8f7614" stroke-width="0.65"/>
<circle cx="535.4" cy="304.8" r="3.3" fill="#dd671e" stroke="#964614" stroke-width="0.65"/>
<circle cx="514.8" cy="421.6" r="3.3" fill="#20a2ae" stroke="#156e76" stroke-width="0.65"/>
<circle cx="517.7" cy="336.6" r="3.3" fill="#b5c31e" stroke="#7b8414" stroke-width="0.65"/>
<circle cx="523.9" cy="321.7" r="3.3" fill="#d6a31e" stroke="#916e14" stroke-width="0.65"/>
<circle cx="510" cy="385.5" r="3.3" fill="#2bbb53" stroke="#1d7f38" stroke-width="0.65"/>
<circle cx="517.6" cy="343.3" r="3.3" fill="#9bc220" stroke="#698315" stroke-width="0.65"/>
<circle cx="515.7" cy="341.4" r="3.3" fill="#a2c220" stroke="#6e8315" stroke-width="0.65"/>
<circle cx="504" cy="406.9" r="3.3" fill="#21b789" stroke="#167c5d" stroke-width="0.65"/>
<circle cx="513.4" cy="412.7" r="3.3" fill="#20b398" stroke="#157967" stroke-width="0.65"/>
<circle cx="516" cy="338.6" r="3.3" fill="#aec31f" stroke="#768415" stroke-width="0.65"/>
<circle cx="515" cy="321.6" r="3.3" fill="#d6a31e" stroke="#916e14" stroke-width="0.65"/>
<circle cx="499.5" cy="428.7" r="3.3" fill="#218fb6" stroke="#16617b" stroke-width="0.65"/>
<circle cx="527.2" cy="313.4" r="3.3" fill="#db871e" stroke="#945b14" stroke-width="0.65"/>
<circle cx="494.9" cy="414.6" r="3.3" fill="#20b09e" stroke="#15776b" stroke-width="0.65"/>
<circle cx="517.1" cy="304.1" r="3.3" fill="#dd631e" stroke="#964314" stroke-width="0.65"/>
<circle cx="515.9" cy="340" r="3.3" fill="#a8c21f" stroke="#728315" stroke-width="0.65"/>
<circle cx="515.4" cy="432.2" r="3.3" fill="#2285b8" stroke="#175a7d" stroke-width="0.65"/>
<circle cx="512.9" cy="368.8" r="3.3" fill="#3fbc31" stroke="#2a7f21" stroke-width="0.65"/>
<circle cx="516.2" cy="351.7" r="3.3" fill="#7ac023" stroke="#528217" stroke-width="0.65"/>
<circle cx="518.7" cy="340.1" r="3.3" fill="#a8c21f" stroke="#728315" stroke-width="0.65"/>
<circle cx="516.2" cy="297.1" r="3.3" fill="#da431f" stroke="#942d15" stroke-width="0.65"/>
<circle cx="528.5" cy="318" r="3.3" fill="#d8971e" stroke="#926614" stroke-width="0.65"/>
<circle cx="525.2" cy="316.3" r="3.3" fill="#d9911e" stroke="#936214" stroke-width="0.65"/>
<circle cx="515.5" cy="360" r="3.3" fill="#5abe29" stroke="#3d811b" stroke-width="0.65"/>
<circle cx="515.8" cy="359.4" r="3.3" fill="#5dbe28" stroke="#3f811b" stroke-width="0.65"/>
<circle cx="552.1" cy="294.6" r="3.3" fill="#da381f" stroke="#942615" stroke-width="0.65"/>
<circle cx="535.1" cy="296.9" r="3.3" fill="#da431f" stroke="#942d15" stroke-width="0.65"/>
<circle cx="516.2" cy="321.8" r="3.3" fill="#d6a41e" stroke="#916f14" stroke-width="0.65"/>
<circle cx="515.7" cy="347" r="3.3" fill="#8cc121" stroke="#5f8316" stroke-width="0.65"/>
<circle cx="515.8" cy="344.3" r="3.3" fill="#97c220" stroke="#668315" stroke-width="0.65"/>
<circle cx="521" cy="329.2" r="3.3" fill="#cdbf1e" stroke="#8b8114" stroke-width="0.65"/>
<circle cx="515.9" cy="375.9" r="3.3" fill="#35bc3e" stroke="#247f2a" stroke-width="0.65"/>
<circle cx="516.7" cy="394.3" r="3.3" fill="#25ba6a" stroke="#197e48" stroke-width="0.65"/>
<circle cx="497.4" cy="382.8" r="3.3" fill="#2dbc4c" stroke="#1e7f33" stroke-width="0.65"/>
<circle cx="515.7" cy="316.1" r="3.3" fill="#d9901e" stroke="#936114" stroke-width="0.65"/>
<circle cx="516.3" cy="323.9" r="3.3" fill="#d4ab1e" stroke="#907414" stroke-width="0.65"/>
<circle cx="494.8" cy="390.2" r="3.3" fill="#28bb5f" stroke="#1b7f40" stroke-width="0.65"/>
<circle cx="519.7" cy="326.1" r="3.3" fill="#d1b31e" stroke="#8e7914" stroke-width="0.65"/>
<circle cx="515" cy="396.4" r="3.3" fill="#24ba6f" stroke="#187e4b" stroke-width="0.65"/>
<circle cx="527.1" cy="321.8" r="3.3" fill="#d6a31e" stroke="#916e14" stroke-width="0.65"/>
<circle cx="524.9" cy="307.1" r="3.3" fill="#de711e" stroke="#964c14" stroke-width="0.65"/>
<circle cx="510.5" cy="434" r="3.3" fill="#2380b8" stroke="#17577d" stroke-width="0.65"/>
<circle cx="499.3" cy="391.3" r="3.3" fill="#27bb62" stroke="#1a7f42" stroke-width="0.65"/>
<circle cx="506.5" cy="431.6" r="3.3" fill="#2287b7" stroke="#175b7c" stroke-width="0.65"/>
<circle cx="515" cy="435.7" r="3.3" fill="#257cb7" stroke="#19547c" stroke-width="0.65"/>
<circle cx="508.2" cy="402.7" r="3.3" fill="#22b87f" stroke="#177d56" stroke-width="0.65"/>
<circle cx="495.5" cy="425.1" r="3.3" fill="#2099b4" stroke="#15687a" stroke-width="0.65"/>
<circle cx="516.1" cy="336.1" r="3.3" fill="#b7c31e" stroke="#7c8414" stroke-width="0.65"/>
<circle cx="512.3" cy="368.1" r="3.3" fill="#40bc30" stroke="#2b7f20" stroke-width="0.65"/>
<circle cx="516.8" cy="363.3" r="3.3" fill="#4ebd2b" stroke="#35801d" stroke-width="0.65"/>
<circle cx="516" cy="337.8" r="3.3" fill="#b1c31e" stroke="#788414" stroke-width="0.65"/>
<circle cx="515.9" cy="360.9" r="3.3" fill="#57bd29" stroke="#3b801b" stroke-width="0.65"/>
<circle cx="510.3" cy="391.5" r="3.3" fill="#27bb63" stroke="#1a7f43" stroke-width="0.65"/>
<circle cx="505.4" cy="413.1" r="3.3" fill="#20b39a" stroke="#157968" stroke-width="0.65"/>
<circle cx="518.4" cy="338.2" r="3.3" fill="#afc31e" stroke="#778414" stroke-width="0.65"/>
<circle cx="481.9" cy="409.1" r="3.3" fill="#20b68e" stroke="#157b60" stroke-width="0.65"/>
<circle cx="516.7" cy="334.4" r="3.3" fill="#bdc21e" stroke="#808314" stroke-width="0.65"/>
<circle cx="511.2" cy="408.9" r="3.3" fill="#20b68e" stroke="#157b60" stroke-width="0.65"/>
<circle cx="518.9" cy="309.3" r="3.3" fill="#dd791e" stroke="#965214" stroke-width="0.65"/>
<circle cx="509.7" cy="385.3" r="3.3" fill="#2bbb53" stroke="#1d7f38" stroke-width="0.65"/>
<circle cx="516.1" cy="309.1" r="3.3" fill="#dd781e" stroke="#965114" stroke-width="0.65"/>
<circle cx="513.9" cy="432.7" r="3.3" fill="#2284b8" stroke="#17597d" stroke-width="0.65"/>
<circle cx="513.2" cy="391.2" r="3.3" fill="#27bb62" stroke="#1a7f42" stroke-width="0.65"/>
<circle cx="512.5" cy="367.3" r="3.3" fill="#41bc2f" stroke="#2c7f1f" stroke-width="0.65"/>
<circle cx="516.9" cy="388.5" r="3.3" fill="#29bb5b" stroke="#1b7f3d" stroke-width="0.65"/>
<circle cx="515.4" cy="364" r="3.3" fill="#4bbd2b" stroke="#33801d" stroke-width="0.65"/>
<circle cx="523.7" cy="330.8" r="3.3" fill="#c9c01e" stroke="#888214" stroke-width="0.65"/>
<circle cx="517.4" cy="310.5" r="3.3" fill="#dc7d1e" stroke="#955514" stroke-width="0.65"/>
<circle cx="518.9" cy="329.2" r="3.3" fill="#cdbf1e" stroke="#8b8114" stroke-width="0.65"/>
<circle cx="519.3" cy="310" r="3.3" fill="#dd7c1e" stroke="#965414" stroke-width="0.65"/>
<circle cx="514.1" cy="422.5" r="3.3" fill="#209fb0" stroke="#156c77" stroke-width="0.65"/>
<circle cx="520.2" cy="358.5" r="3.3" fill="#60be28" stroke="#41811b" stroke-width="0.65"/>
<circle cx="519.9" cy="315.3" r="3.3" fill="#da8d1e" stroke="#945f14" stroke-width="0.65"/>
<circle cx="487.5" cy="413.4" r="3.3" fill="#20b29a" stroke="#157968" stroke-width="0.65"/>
<circle cx="520.8" cy="329.6" r="3.3" fill="#cdc01e" stroke="#8b8214" stroke-width="0.65"/>
<circle cx="515" cy="356.3" r="3.3" fill="#68bf26" stroke="#468119" stroke-width="0.65"/>
<circle cx="512.8" cy="368.4" r="3.3" fill="#3fbc31" stroke="#2a7f21" stroke-width="0.65"/>
<circle cx="512.4" cy="400.4" r="3.3" fill="#23b979" stroke="#177d52" stroke-width="0.65"/>
<circle cx="522.8" cy="312.8" r="3.3" fill="#db851e" stroke="#945a14" stroke-width="0.65"/>
<circle cx="485.5" cy="422.8" r="3.3" fill="#209fb0" stroke="#156c77" stroke-width="0.65"/>
<circle cx="516.2" cy="308.3" r="3.3" fill="#de761e" stroke="#965014" stroke-width="0.65"/>
<circle cx="493.1" cy="392.9" r="3.3" fill="#26ba67" stroke="#197e46" stroke-width="0.65"/>
<circle cx="512.7" cy="425.9" r="3.3" fill="#2096b4" stroke="#15667a" stroke-width="0.65"/>
<circle cx="511.5" cy="372.1" r="3.3" fill="#3abc38" stroke="#277f26" stroke-width="0.65"/>
<circle cx="506.8" cy="384.4" r="3.3" fill="#2cbc50" stroke="#1d7f36" stroke-width="0.65"/>
<circle cx="507.4" cy="412.9" r="3.3" fill="#20b399" stroke="#157968" stroke-width="0.65"/>
<circle cx="512.2" cy="369.3" r="3.3" fill="#3ebc32" stroke="#2a7f22" stroke-width="0.65"/>
<circle cx="515.4" cy="387.7" r="3.3" fill="#2abb59" stroke="#1c7f3c" stroke-width="0.65"/>
<circle cx="547.5" cy="294.6" r="3.3" fill="#da381f" stroke="#942615" stroke-width="0.65"/>
<circle cx="516" cy="363.3" r="3.3" fill="#4ebd2b" stroke="#35801d" stroke-width="0.65"/>
<circle cx="516.4" cy="321.7" r="3.3" fill="#d6a31e" stroke="#916e14" stroke-width="0.65"/>
<circle cx="519.1" cy="328.9" r="3.3" fill="#cebd1e" stroke="#8c8014" stroke-width="0.65"/>
<circle cx="509.5" cy="385.5" r="3.3" fill="#2bbb53" stroke="#1d7f38" stroke-width="0.65"/>
<circle cx="501.7" cy="412" r="3.3" fill="#20b496" stroke="#157a66" stroke-width="0.65"/>
<circle cx="515.6" cy="387" r="3.3" fill="#2abb57" stroke="#1c7f3b" stroke-width="0.65"/>
<circle cx="520.6" cy="305.3" r="3.3" fill="#dd691e" stroke="#964714" stroke-width="0.65"/>
<circle cx="504.5" cy="395" r="3.3" fill="#25ba6c" stroke="#197e49" stroke-width="0.65"/>
<circle cx="516.9" cy="319.8" r="3.3" fill="#d79d1e" stroke="#926a14" stroke-width="0.65"/>
<circle cx="501.3" cy="415.7" r="3.3" fill="#20afa1" stroke="#15776d" stroke-width="0.65"/>
<circle cx="502.9" cy="412.7" r="3.3" fill="#20b399" stroke="#157968" stroke-width="0.65"/>
<circle cx="505.8" cy="420.4" r="3.3" fill="#20a5ac" stroke="#157074" stroke-width="0.65"/>
<circle cx="499.6" cy="406.6" r="3.3" fill="#21b788" stroke="#167c5c" stroke-width="0.65"/>
<circle cx="516.6" cy="344.6" r="3.3" fill="#96c121" stroke="#668316" stroke-width="0.65"/>
<circle cx="496.2" cy="389.2" r="3.3" fill="#29bb5d" stroke="#1b7f3f" stroke-width="0.65"/>
<circle cx="512.6" cy="428.6" r="3.3" fill="#218fb6" stroke="#16617b" stroke-width="0.65"/>
<circle cx="516.9" cy="357.6" r="3.3" fill="#63be27" stroke="#43811a" stroke-width="0.65"/>
<circle cx="514" cy="413.5" r="3.3" fill="#20b29b" stroke="#157969" stroke-width="0.65"/>
<circle cx="508.4" cy="373.8" r="3.3" fill="#38bc3b" stroke="#267f28" stroke-width="0.65"/>
<circle cx="516.4" cy="363.9" r="3.3" fill="#4cbd2b" stroke="#33801d" stroke-width="0.65"/>
<circle cx="514.9" cy="401.6" r="3.3" fill="#22b87c" stroke="#177d54" stroke-width="0.65"/>
<circle cx="515.8" cy="349.6" r="3.3" fill="#82c022" stroke="#588217" stroke-width="0.65"/>
<circle cx="498.7" cy="384.2" r="3.3" fill="#2cbc50" stroke="#1d7f36" stroke-width="0.65"/>
<circle cx="507.8" cy="431.6" r="3.3" fill="#2287b7" stroke="#175b7c" stroke-width="0.65"/>
<circle cx="518.4" cy="342" r="3.3" fill="#a0c220" stroke="#6c8315" stroke-width="0.65"/>
<circle cx="517.3" cy="337.2" r="3.3" fill="#b3c31e" stroke="#798414" stroke-width="0.65"/>
<circle cx="517.2" cy="303.1" r="3.3" fill="#dc5f1e" stroke="#954014" stroke-width="0.65"/>
<circle cx="520.9" cy="315" r="3.3" fill="#da8c1e" stroke="#945f14" stroke-width="0.65"/>
<circle cx="515.3" cy="419" r="3.3" fill="#20a9aa" stroke="#157273" stroke-width="0.65"/>
<circle cx="523.7" cy="335.3" r="3.3" fill="#bac21e" stroke="#7e8314" stroke-width="0.65"/>
<circle cx="520.1" cy="345.5" r="3.3" fill="#92c121" stroke="#638316" stroke-width="0.65"/>
<circle cx="525.8" cy="309.6" r="3.3" fill="#dd7a1e" stroke="#965214" stroke-width="0.65"/>
<circle cx="525.7" cy="303.3" r="3.3" fill="#dd601e" stroke="#964114" stroke-width="0.65"/>
<circle cx="516.1" cy="295.1" r="3.3" fill="#da3a1f" stroke="#942715" stroke-width="0.65"/>
<circle cx="502.9" cy="381.6" r="3.3" fill="#2ebc49" stroke="#1f7f31" stroke-width="0.65"/>
<circle cx="516.2" cy="336.6" r="3.3" fill="#b5c31e" stroke="#7b8414" stroke-width="0.65"/>
<circle cx="511.9" cy="422.3" r="3.3" fill="#20a0af" stroke="#156c77" stroke-width="0.65"/>
<circle cx="513.6" cy="392.1" r="3.3" fill="#27bb64" stroke="#1a7f44" stroke-width="0.65"/>
<circle cx="519.9" cy="324" r="3.3" fill="#d4ab1e" stroke="#907414" stroke-width="0.65"/>
<circle cx="517.3" cy="341.4" r="3.3" fill="#a2c220" stroke="#6e8315" stroke-width="0.65"/>
<circle cx="516" cy="320.5" r="3.3" fill="#d79f1e" stroke="#926c14" stroke-width="0.65"/>
<circle cx="515.4" cy="319.6" r="3.3" fill="#d79c1e" stroke="#926a14" stroke-width="0.65"/>
<circle cx="515.7" cy="433" r="3.3" fill="#2283b8" stroke="#17597d" stroke-width="0.65"/>
<circle cx="495" cy="397.4" r="3.3" fill="#24ba72" stroke="#187e4d" stroke-width="0.65"/>
<circle cx="505.8" cy="384.9" r="3.3" fill="#2bbb52" stroke="#1d7f37" stroke-width="0.65"/>
<circle cx="523.2" cy="323.2" r="3.3" fill="#d5a91e" stroke="#907214" stroke-width="0.65"/>
<circle cx="519.3" cy="305.9" r="3.3" fill="#dd6c1e" stroke="#964914" stroke-width="0.65"/>
<circle cx="523" cy="333.7" r="3.3" fill="#bfc21e" stroke="#818314" stroke-width="0.65"/>
<circle cx="517.9" cy="352.7" r="3.3" fill="#76c024" stroke="#508218" stroke-width="0.65"/>
<circle cx="524.6" cy="301.5" r="3.3" fill="#dc571e" stroke="#953b14" stroke-width="0.65"/>
<circle cx="517.4" cy="358.8" r="3.3" fill="#5fbe28" stroke="#40811b" stroke-width="0.65"/>
<circle cx="515.6" cy="417.3" r="3.3" fill="#20ada6" stroke="#157570" stroke-width="0.65"/>
<circle cx="536.3" cy="294.4" r="3.3" fill="#da371f" stroke="#942515" stroke-width="0.65"/>
<circle cx="509.7" cy="375.9" r="3.3" fill="#35bc3e" stroke="#247f2a" stroke-width="0.65"/>
<circle cx="513.6" cy="433.1" r="3.3" fill="#2383b8" stroke="#17597d" stroke-width="0.65"/>
<circle cx="528.5" cy="305.5" r="3.3" fill="#dd6a1e" stroke="#964814" stroke-width="0.65"/>
<circle cx="516.1" cy="352.4" r="3.3" fill="#77c023" stroke="#508217" stroke-width="0.65"/>
<circle cx="504.5" cy="400.6" r="3.3" fill="#23b97a" stroke="#177d52" stroke-width="0.65"/>
<circle cx="507.5" cy="372" r="3.3" fill="#3abc37" stroke="#277f25" stroke-width="0.65"/>
<circle cx="518.8" cy="341.2" r="3.3" fill="#a3c21f" stroke="#6e8315" stroke-width="0.65"/>
<circle cx="520.5" cy="329.1" r="3.3" fill="#cebe1e" stroke="#8c8114" stroke-width="0.65"/>
<circle cx="531.5" cy="295.4" r="3.3" fill="#da3c1f" stroke="#942815" stroke-width="0.65"/>
<circle cx="516.7" cy="407.2" r="3.3" fill="#21b78a" stroke="#167c5d" stroke-width="0.65"/>
<circle cx="514.9" cy="361.8" r="3.3" fill="#54bd2a" stroke="#39801c" stroke-width="0.65"/>
<circle cx="514" cy="417.2" r="3.3" fill="#20ada6" stroke="#157570" stroke-width="0.65"/>
<circle cx="506" cy="415.4" r="3.3" fill="#20afa0" stroke="#15776c" stroke-width="0.65"/>
<circle cx="515.4" cy="346.3" r="3.3" fill="#8fc121" stroke="#618316" stroke-width="0.65"/>
<circle cx="508" cy="399" r="3.3" fill="#23b976" stroke="#177d50" stroke-width="0.65"/>
<circle cx="507.2" cy="413.3" r="3.3" fill="#20b29a" stroke="#157968" stroke-width="0.65"/>
<circle cx="517.6" cy="304.1" r="3.3" fill="#dd631e" stroke="#964314" stroke-width="0.65"/>
<circle cx="506.2" cy="384.9" r="3.3" fill="#2bbb52" stroke="#1d7f37" stroke-width="0.65"/>
<circle cx="516.8" cy="350.2" r="3.3" fill="#80c022" stroke="#578217" stroke-width="0.65"/>
<circle cx="514.7" cy="433.7" r="3.3" fill="#2381b8" stroke="#17577d" stroke-width="0.65"/>
<circle cx="515.6" cy="344.3" r="3.3" fill="#97c220" stroke="#668315" stroke-width="0.65"/>
<circle cx="528.3" cy="312.9" r="3.3" fill="#db851e" stroke="#945a14" stroke-width="0.65"/>
<circle cx="511.4" cy="407.6" r="3.3" fill="#21b78b" stroke="#167c5e" stroke-width="0.65"/>
<circle cx="520.2" cy="358.5" r="3.3" fill="#60be28" stroke="#41811b" stroke-width="0.65"/>
<circle cx="515.9" cy="426.4" r="3.3" fill="#2095b5" stroke="#15657b" stroke-width="0.65"/>
<circle cx="515.8" cy="342.9" r="3.3" fill="#9dc220" stroke="#6a8315" stroke-width="0.65"/>
<circle cx="521.3" cy="309.5" r="3.3" fill="#dd7a1e" stroke="#965214" stroke-width="0.65"/>
<circle cx="518.9" cy="294.8" r="3.3" fill="#da391f" stroke="#942615" stroke-width="0.65"/>
<circle cx="516.5" cy="422.4" r="3.3" fill="#20a0af" stroke="#156c77" stroke-width="0.65"/>
<circle cx="516.1" cy="343.6" r="3.3" fill="#9ac220" stroke="#688315" stroke-width="0.65"/>
<circle cx="515.5" cy="367.7" r="3.3" fill="#40bc2f" stroke="#2b7f1f" stroke-width="0.65"/>
<circle cx="539.2" cy="294.6" r="3.3" fill="#da381f" stroke="#942615" stroke-width="0.65"/>
<circle cx="516.6" cy="364.6" r="3.3" fill="#49bc2c" stroke="#317f1d" stroke-width="0.65"/>
<circle cx="501.6" cy="381" r="3.3" fill="#2ebc48" stroke="#1f7f30" stroke-width="0.65"/>
<circle cx="508.1" cy="435.2" r="3.3" fill="#257db7" stroke="#19557c" stroke-width="0.65"/>
<circle cx="545.4" cy="297" r="3.3" fill="#da431f" stroke="#942d15" stroke-width="0.65"/>
<circle cx="516.9" cy="333.8" r="3.3" fill="#bfc21e" stroke="#818314" stroke-width="0.65"/>
<circle cx="517.5" cy="303.9" r="3.3" fill="#dd631e" stroke="#964314" stroke-width="0.65"/>
<circle cx="511" cy="375.4" r="3.3" fill="#36bc3e" stroke="#247f2a" stroke-width="0.65"/>
<circle cx="514.5" cy="397" r="3.3" fill="#24ba71" stroke="#187e4c" stroke-width="0.65"/>
<circle cx="517.3" cy="344.9" r="3.3" fill="#95c121" stroke="#658316" stroke-width="0.65"/>
<circle cx="498.5" cy="427.8" r="3.3" fill="#2191b5" stroke="#16627b" stroke-width="0.65"/>
<circle cx="527.1" cy="319.7" r="3.3" fill="#d79c1e" stroke="#926a14" stroke-width="0.65"/>
<circle cx="513.6" cy="429.8" r="3.3" fill="#218cb6" stroke="#165f7b" stroke-width="0.65"/>
<circle cx="527.2" cy="294.8" r="3.3" fill="#da391f" stroke="#942615" stroke-width="0.65"/>
<circle cx="519.5" cy="338" r="3.3" fill="#b0c31e" stroke="#778414" stroke-width="0.65"/>
<circle cx="513.2" cy="372.5" r="3.3" fill="#3abc38" stroke="#277f26" stroke-width="0.65"/>
<circle cx="515.6" cy="376.9" r="3.3" fill="#34bc40" stroke="#237f2b" stroke-width="0.65"/>
<circle cx="489" cy="421.6" r="3.3" fill="#20a2ae" stroke="#156e76" stroke-width="0.65"/>
<circle cx="524.3" cy="317.2" r="3.3" fill="#d9941e" stroke="#936414" stroke-width="0.65"/>
<circle cx="515.6" cy="391.5" r="3.3" fill="#27bb63" stroke="#1a7f43" stroke-width="0.65"/>
<circle cx="494.5" cy="406.7" r="3.3" fill="#21b788" stroke="#167c5c" stroke-width="0.65"/>
<circle cx="502.3" cy="402.4" r="3.3" fill="#22b87e" stroke="#177d55" stroke-width="0.65"/>
<circle cx="507.3" cy="431.6" r="3.3" fill="#2287b7" stroke="#175b7c" stroke-width="0.65"/>
<circle cx="516.4" cy="358.6" r="3.3" fill="#60be28" stroke="#41811b" stroke-width="0.65"/>
<circle cx="512.8" cy="369.2" r="3.3" fill="#3ebc32" stroke="#2a7f22" stroke-width="0.65"/>
<circle cx="505" cy="430" r="3.3" fill="#218bb7" stroke="#165e7c" stroke-width="0.65"/>
<circle cx="515.1" cy="373.6" r="3.3" fill="#38bc3a" stroke="#267f27" stroke-width="0.65"/>
<circle cx="511.3" cy="388.7" r="3.3" fill="#29bb5c" stroke="#1b7f3e" stroke-width="0.65"/>
<circle cx="518.1" cy="321.7" r="3.3" fill="#d6a31e" stroke="#916e14" stroke-width="0.65"/>
<circle cx="520.9" cy="315" r="3.3" fill="#da8c1e" stroke="#945f14" stroke-width="0.65"/>
<circle cx="506.4" cy="377.4" r="3.3" fill="#33bc41" stroke="#227f2c" stroke-width="0.65"/>
<circle cx="516.4" cy="352.8" r="3.3" fill="#76c024" stroke="#508218" stroke-width="0.65"/>
<circle cx="514.8" cy="361.5" r="3.3" fill="#55bd2a" stroke="#39801c" stroke-width="0.65"/>
<circle cx="492.1" cy="397.5" r="3.3" fill="#24ba72" stroke="#187e4d" stroke-width="0.65"/>
<circle cx="517.7" cy="295.3" r="3.3" fill="#da3b1f" stroke="#942815" stroke-width="0.65"/>
<circle cx="505.7" cy="423.1" r="3.3" fill="#209eb0" stroke="#156b77" stroke-width="0.65"/>
<circle cx="514.4" cy="426.7" r="3.3" fill="#2094b5" stroke="#15647b" stroke-width="0.65"/>
<circle cx="507.8" cy="416.5" r="3.3" fill="#20aea4" stroke="#15766f" stroke-width="0.65"/>
<circle cx="513.5" cy="430.3" r="3.3" fill="#218ab7" stroke="#165d7c" stroke-width="0.65"/>
<circle cx="519.6" cy="336.2" r="3.3" fill="#b7c31e" stroke="#7c8414" stroke-width="0.65"/>
<circle cx="497.7" cy="404.3" r="3.3" fill="#22b883" stroke="#177d59" stroke-width="0.65"/>
<circle cx="515.1" cy="363.6" r="3.3" fill="#4dbd2b" stroke="#34801d" stroke-width="0.65"/>
<circle cx="515.4" cy="307" r="3.3" fill="#de711e" stroke="#964c14" stroke-width="0.65"/>
<circle cx="531.8" cy="301.5" r="3.3" fill="#dc581e" stroke="#953b14" stroke-width="0.65"/>
<circle cx="518.8" cy="332" r="3.3" fill="#c5c11e" stroke="#858314" stroke-width="0.65"/>
<circle cx="516.6" cy="315.7" r="3.3" fill="#da8f1e" stroke="#946114" stroke-width="0.65"/>
<circle cx="522.6" cy="317.5" r="3.3" fill="#d9951e" stroke="#936514" stroke-width="0.65"/>
<circle cx="509.5" cy="423.3" r="3.3" fill="#209db1" stroke="#156a78" stroke-width="0.65"/>
<circle cx="516.4" cy="322.1" r="3.3" fill="#d6a51e" stroke="#917014" stroke-width="0.65"/>
<circle cx="499.4" cy="395.6" r="3.3" fill="#24ba6d" stroke="#187e4a" stroke-width="0.65"/>
<circle cx="515.8" cy="381.6" r="3.3" fill="#2ebc49" stroke="#1f7f31" stroke-width="0.65"/>
<circle cx="516.5" cy="333.5" r="3.3" fill="#c0c21e" stroke="#828314" stroke-width="0.65"/>
<circle cx="510.9" cy="370.3" r="3.3" fill="#3dbc34" stroke="#297f23" stroke-width="0.65"/>
<circle cx="516.5" cy="407.9" r="3.3" fill="#21b78b" stroke="#167c5e" stroke-width="0.65"/>
<circle cx="526.9" cy="294.4" r="3.3" fill="#da371f" stroke="#942515" stroke-width="0.65"/>
<circle cx="518" cy="323.5" r="3.3" fill="#d4aa1e" stroke="#907314" stroke-width="0.65"/>
<circle cx="529.3" cy="302.8" r="3.3" fill="#dc5d1e" stroke="#953f14" stroke-width="0.65"/>
<circle cx="515.4" cy="333.8" r="3.3" fill="#bfc21e" stroke="#818314" stroke-width="0.65"/>
<circle cx="489.9" cy="412.5" r="3.3" fill="#20b398" stroke="#157967" stroke-width="0.65"/>
<circle cx="518.2" cy="345.7" r="3.3" fill="#92c121" stroke="#638316" stroke-width="0.65"/>
<circle cx="515.2" cy="435.8" r="3.3" fill="#257cb7" stroke="#19547c" stroke-width="0.65"/>
<circle cx="518.7" cy="341.9" r="3.3" fill="#a0c220" stroke="#6c8315" stroke-width="0.65"/>
<circle cx="544.8" cy="294.4" r="3.3" fill="#da371f" stroke="#942515" stroke-width="0.65"/>
<circle cx="515.9" cy="383.3" r="3.3" fill="#2cbc4e" stroke="#1d7f35" stroke-width="0.65"/>
<circle cx="514.7" cy="360.9" r="3.3" fill="#57bd29" stroke="#3b801b" stroke-width="0.65"/>
<circle cx="523" cy="310.9" r="3.3" fill="#dc7e1e" stroke="#955514" stroke-width="0.65"/>
<circle cx="523.9" cy="322.1" r="3.3" fill="#d6a51e" stroke="#917014" stroke-width="0.65"/>
<circle cx="516.6" cy="339.9" r="3.3" fill="#a8c21f" stroke="#728315" stroke-width="0.65"/>
<circle cx="497.7" cy="409" r="3.3" fill="#20b68e" stroke="#157b60" stroke-width="0.65"/>
<circle cx="515.5" cy="373.1" r="3.3" fill="#39bc39" stroke="#267f26" stroke-width="0.65"/>
<circle cx="504.5" cy="391" r="3.3" fill="#27bb61" stroke="#1a7f41" stroke-width="0.65"/>
<circle cx="518.3" cy="353.6" r="3.3" fill="#73bf24" stroke="#4e8118" stroke-width="0.65"/>
<circle cx="515.3" cy="343.7" r="3.3" fill="#99c220" stroke="#688315" stroke-width="0.65"/>
<circle cx="519.9" cy="356" r="3.3" fill="#6abf26" stroke="#488119" stroke-width="0.65"/>
<circle cx="516.1" cy="319.7" r="3.3" fill="#d79c1e" stroke="#926a14" stroke-width="0.65"/>
<circle cx="515.7" cy="309.6" r="3.3" fill="#dd7a1e" stroke="#965214" stroke-width="0.65"/>
<circle cx="519.7" cy="345.1" r="3.3" fill="#94c121" stroke="#648316" stroke-width="0.65"/>
<circle cx="515.6" cy="330.6" r="3.3" fill="#c9c01e" stroke="#888214" stroke-width="0.65"/>
<circle cx="515.3" cy="316.7" r="3.3" fill="#d9921e" stroke="#936314" stroke-width="0.65"/>
<circle cx="536.9" cy="295.1" r="3.3" fill="#da3a1f" stroke="#942715" stroke-width="0.65"/>
<circle cx="500.8" cy="427.2" r="3.3" fill="#2193b5" stroke="#16637b" stroke-width="0.65"/>
<circle cx="520.5" cy="354.4" r="3.3" fill="#70bf25" stroke="#4c8119" stroke-width="0.65"/>
<circle cx="523.9" cy="334.3" r="3.3" fill="#bdc21e" stroke="#808314" stroke-width="0.65"/>
<circle cx="503.3" cy="387.9" r="3.3" fill="#29bb59" stroke="#1b7f3c" stroke-width="0.65"/>
<circle cx="518" cy="321.9" r="3.3" fill="#d6a41e" stroke="#916f14" stroke-width="0.65"/>
<circle cx="516.2" cy="304" r="3.3" fill="#dd631e" stroke="#964314" stroke-width="0.65"/>
<circle cx="516.4" cy="296" r="3.3" fill="#da3f1f" stroke="#942a15" stroke-width="0.65"/>
<circle cx="520.2" cy="322.7" r="3.3" fill="#d5a71e" stroke="#907114" stroke-width="0.65"/>
<circle cx="503.6" cy="381.1" r="3.3" fill="#2ebc48" stroke="#1f7f30" stroke-width="0.65"/>
<circle cx="500.7" cy="391.2" r="3.3" fill="#27bb62" stroke="#1a7f42" stroke-width="0.65"/>
<circle cx="489.1" cy="425.2" r="3.3" fill="#2098b4" stroke="#15677a" stroke-width="0.65"/>
<circle cx="516.7" cy="317.4" r="3.3" fill="#d9941e" stroke="#936414" stroke-width="0.65"/>
<circle cx="524.6" cy="308.4" r="3.3" fill="#de761e" stroke="#965014" stroke-width="0.65"/>
<circle cx="504.6" cy="434" r="3.3" fill="#2380b8" stroke="#17577d" stroke-width="0.65"/>
<circle cx="547.6" cy="294.7" r="3.3" fill="#da391f" stroke="#942615" stroke-width="0.65"/>
<circle cx="510.5" cy="390.6" r="3.3" fill="#28bb60" stroke="#1b7f41" stroke-width="0.65"/>
<circle cx="515.3" cy="336.6" r="3.3" fill="#b5c31e" stroke="#7b8414" stroke-width="0.65"/>
<circle cx="527.9" cy="318.2" r="3.3" fill="#d8971e" stroke="#926614" stroke-width="0.65"/>
<circle cx="516" cy="361" r="3.3" fill="#57bd29" stroke="#3b801b" stroke-width="0.65"/>
<circle cx="539.2" cy="294.5" r="3.3" fill="#da381f" stroke="#942615" stroke-width="0.65"/>
<circle cx="518.5" cy="295.4" r="3.3" fill="#da3c1f" stroke="#942815" stroke-width="0.65"/>
<circle cx="503.7" cy="396.4" r="3.3" fill="#24ba6f" stroke="#187e4b" stroke-width="0.65"/>
<circle cx="515.6" cy="351.1" r="3.3" fill="#7cc023" stroke="#548217" stroke-width="0.65"/>
<circle cx="515.7" cy="351" r="3.3" fill="#7dc023" stroke="#558217" stroke-width="0.65"/>
<circle cx="519.9" cy="307.2" r="3.3" fill="#de711e" stroke="#964c14" stroke-width="0.65"/>
<circle cx="514.9" cy="397.8" r="3.3" fill="#23b973" stroke="#177d4e" stroke-width="0.65"/>
<circle cx="517.1" cy="352.3" r="3.3" fill="#77c023" stroke="#508217" stroke-width="0.65"/>
<circle cx="516.1" cy="322.2" r="3.3" fill="#d6a51e" stroke="#917014" stroke-width="0.65"/>
<circle cx="516.2" cy="319.2" r="3.3" fill="#d89b1e" stroke="#926914" stroke-width="0.65"/>
<circle cx="516.6" cy="356.7" r="3.3" fill="#67bf26" stroke="#468119" stroke-width="0.65"/>
<circle cx="516" cy="313.5" r="3.3" fill="#db871e" stroke="#945b14" stroke-width="0.65"/>
<circle cx="523.1" cy="295.3" r="3.3" fill="#da3b1f" stroke="#942815" stroke-width="0.65"/>
<circle cx="514.8" cy="363.2" r="3.3" fill="#4ebd2b" stroke="#35801d" stroke-width="0.65"/>
<circle cx="515.5" cy="343.8" r="3.3" fill="#99c220" stroke="#688315" stroke-width="0.65"/>
<circle cx="502.4" cy="410" r="3.3" fill="#20b691" stroke="#157b62" stroke-width="0.65"/>
<circle cx="509.9" cy="434.7" r="3.3" fill="#247eb7" stroke="#18557c" stroke-width="0.65"/>
<circle cx="511.6" cy="383.7" r="3.3" fill="#2cbc4f" stroke="#1d7f35" stroke-width="0.65"/>
<circle cx="520.3" cy="338.2" r="3.3" fill="#afc31e" stroke="#778414" stroke-width="0.65"/>
<circle cx="515.8" cy="342.4" r="3.3" fill="#9fc220" stroke="#6c8315" stroke-width="0.65"/>
<circle cx="514.9" cy="356.8" r="3.3" fill="#67bf26" stroke="#468119" stroke-width="0.65"/>
<circle cx="523.4" cy="342.7" r="3.3" fill="#9dc220" stroke="#6a8315" stroke-width="0.65"/>
<circle cx="518.8" cy="330.3" r="3.3" fill="#cbc01e" stroke="#8a8214" stroke-width="0.65"/>
<circle cx="516.5" cy="310.1" r="3.3" fill="#dd7c1e" stroke="#965414" stroke-width="0.65"/>
<circle cx="515.9" cy="333" r="3.3" fill="#c1c11e" stroke="#838314" stroke-width="0.65"/>
<circle cx="547.7" cy="295.3" r="3.3" fill="#da3b1f" stroke="#942815" stroke-width="0.65"/>
<circle cx="496.1" cy="393.2" r="3.3" fill="#26ba67" stroke="#197e46" stroke-width="0.65"/>
<circle cx="522.2" cy="315.9" r="3.3" fill="#d98f1e" stroke="#936114" stroke-width="0.65"/>
<circle cx="520.5" cy="356.1" r="3.3" fill="#69bf26" stroke="#478119" stroke-width="0.65"/>
<circle cx="517.9" cy="316.7" r="3.3" fill="#d9921e" stroke="#936314" stroke-width="0.65"/>
<circle cx="522.4" cy="338" r="3.3" fill="#b0c31e" stroke="#778414" stroke-width="0.65"/>
<circle cx="515.9" cy="354.3" r="3.3" fill="#70bf25" stroke="#4c8119" stroke-width="0.65"/>
<circle cx="512.5" cy="378.7" r="3.3" fill="#31bc44" stroke="#217f2e" stroke-width="0.65"/>
<circle cx="504.9" cy="434.5" r="3.3" fill="#247fb8" stroke="#18567d" stroke-width="0.65"/>
<circle cx="528.2" cy="322.1" r="3.3" fill="#d6a51e" stroke="#917014" stroke-width="0.65"/>
<circle cx="521.5" cy="322.4" r="3.3" fill="#d6a51e" stroke="#917014" stroke-width="0.65"/>
<circle cx="525" cy="308.4" r="3.3" fill="#dd761e" stroke="#965014" stroke-width="0.65"/>
<circle cx="522.8" cy="294.7" r="3.3" fill="#da391f" stroke="#942615" stroke-width="0.65"/>
<circle cx="489.5" cy="394.7" r="3.3" fill="#25ba6b" stroke="#197e48" stroke-width="0.65"/>
<circle cx="514.9" cy="361.8" r="3.3" fill="#54bd2a" stroke="#39801c" stroke-width="0.65"/>
<circle cx="518.7" cy="343.5" r="3.3" fill="#9ac220" stroke="#688315" stroke-width="0.65"/>
<circle cx="513.8" cy="370.3" r="3.3" fill="#3dbc34" stroke="#297f23" stroke-width="0.65"/>
<circle cx="535.1" cy="299.7" r="3.3" fill="#db4f1f" stroke="#943515" stroke-width="0.65"/>
<circle cx="510.7" cy="389.2" r="3.3" fill="#29bb5d" stroke="#1b7f3f" stroke-width="0.65"/>
<circle cx="515.4" cy="363.3" r="3.3" fill="#4ebd2b" stroke="#35801d" stroke-width="0.65"/>
<circle cx="515" cy="405" r="3.3" fill="#22b884" stroke="#177d59" stroke-width="0.65"/>
<circle cx="526.4" cy="294.3" r="3.3" fill="#d9371f" stroke="#932515" stroke-width="0.65"/>
<circle cx="515.3" cy="349.8" r="3.3" fill="#81c022" stroke="#578217" stroke-width="0.65"/>
<circle cx="534.1" cy="297.9" r="3.3" fill="#db471f" stroke="#943015" stroke-width="0.65"/>
<circle cx="515.8" cy="389.5" r="3.3" fill="#28bb5e" stroke="#1b7f3f" stroke-width="0.65"/>
<circle cx="509.2" cy="417.2" r="3.3" fill="#20ada6" stroke="#157570" stroke-width="0.65"/>
<circle cx="516.7" cy="357.9" r="3.3" fill="#62be27" stroke="#42811a" stroke-width="0.65"/>
<circle cx="482.9" cy="405.9" r="3.3" fill="#21b787" stroke="#167c5b" stroke-width="0.65"/>
<circle cx="515.4" cy="407" r="3.3" fill="#21b789" stroke="#167c5d" stroke-width="0.65"/>
<circle cx="515.9" cy="346.5" r="3.3" fill="#8ec121" stroke="#608316" stroke-width="0.65"/>
<circle cx="493.4" cy="425" r="3.3" fill="#2099b4" stroke="#15687a" stroke-width="0.65"/>
<circle cx="518.9" cy="350" r="3.3" fill="#81c022" stroke="#578217" stroke-width="0.65"/>
<circle cx="515.7" cy="361.3" r="3.3" fill="#55bd2a" stroke="#39801c" stroke-width="0.65"/>
<circle cx="525.5" cy="303.7" r="3.3" fill="#dd621e" stroke="#964214" stroke-width="0.65"/>
<circle cx="531.3" cy="298.7" r="3.3" fill="#db4b1f" stroke="#943315" stroke-width="0.65"/>
<circle cx="516" cy="313.3" r="3.3" fill="#db871e" stroke="#945b14" stroke-width="0.65"/>
<circle cx="517" cy="354.6" r="3.3" fill="#6fbf25" stroke="#4b8119" stroke-width="0.65"/>
<circle cx="516.7" cy="353.1" r="3.3" fill="#75c024" stroke="#4f8218" stroke-width="0.65"/>
<circle cx="501.1" cy="391.5" r="3.3" fill="#27bb63" stroke="#1a7f43" stroke-width="0.65"/>
<circle cx="499.8" cy="424" r="3.3" fill="#209cb2" stroke="#156a79" stroke-width="0.65"/>
<circle cx="519.7" cy="314.1" r="3.3" fill="#da891e" stroke="#945d14" stroke-width="0.65"/>
<circle cx="515.6" cy="393.5" r="3.3" fill="#26ba68" stroke="#197e46" stroke-width="0.65"/>
<circle cx="518.4" cy="326.7" r="3.3" fill="#d1b51e" stroke="#8e7b14" stroke-width="0.65"/>
<circle cx="522.7" cy="339.9" r="3.3" fill="#a8c21f" stroke="#728315" stroke-width="0.65"/>
<circle cx="485" cy="399.3" r="3.3" fill="#23b976" stroke="#177d50" stroke-width="0.65"/>
<circle cx="523.5" cy="338.1" r="3.3" fill="#b0c31e" stroke="#778414" stroke-width="0.65"/>
<circle cx="515.9" cy="411.3" r="3.3" fill="#20b594" stroke="#157b64" stroke-width="0.65"/>
<circle cx="520.6" cy="338.2" r="3.3" fill="#afc31e" stroke="#778414" stroke-width="0.65"/>
<circle cx="508" cy="431.1" r="3.3" fill="#2288b7" stroke="#175c7c" stroke-width="0.65"/>
<circle cx="573.1" cy="293.6" r="3.3" fill="#d9341f" stroke="#932315" stroke-width="0.65"/>
<circle cx="603.9" cy="293.6" r="3.3" fill="#d9341f" stroke="#932315" stroke-width="0.65"/>
<circle cx="560.2" cy="296.8" r="3.3" fill="#da421f" stroke="#942c15" stroke-width="0.65"/>
<circle cx="587.5" cy="306.7" r="3.3" fill="#de6f1e" stroke="#964b14" stroke-width="0.65"/>
<circle cx="557.8" cy="314.7" r="3.3" fill="#da8b1e" stroke="#945e14" stroke-width="0.65"/>
<circle cx="533.9" cy="315.2" r="3.3" fill="#da8d1e" stroke="#945f14" stroke-width="0.65"/>
<circle cx="539.9" cy="333.8" r="3.3" fill="#bfc21e" stroke="#818314" stroke-width="0.65"/>
<circle cx="546.7" cy="294.2" r="3.3" fill="#d9361f" stroke="#932415" stroke-width="0.65"/>
<circle cx="552.3" cy="293.2" r="3.3" fill="#d9321f" stroke="#932215" stroke-width="0.65"/>
<circle cx="555.4" cy="292.7" r="3.3" fill="#d9301f" stroke="#932015" stroke-width="0.65"/>
<circle cx="558.5" cy="296.2" r="3.3" fill="#da3f1f" stroke="#942a15" stroke-width="0.65"/>
<circle cx="540.1" cy="300.3" r="3.3" fill="#dc521e" stroke="#953714" stroke-width="0.65"/>
<circle cx="480.3" cy="404.5" r="3.3" fill="#22b883" stroke="#177d59" stroke-width="0.65"/>
<circle cx="485.5" cy="403.2" r="3.3" fill="#22b880" stroke="#177d57" stroke-width="0.65"/>
<circle cx="478.4" cy="418" r="3.3" fill="#20aca8" stroke="#157472" stroke-width="0.65"/>
<circle cx="482.9" cy="414.1" r="3.3" fill="#20b19d" stroke="#15786a" stroke-width="0.65"/>
<circle cx="488.1" cy="418.7" r="3.3" fill="#20aaa9" stroke="#157372" stroke-width="0.65"/>
<circle cx="491.9" cy="425.8" r="3.3" fill="#2097b4" stroke="#15667a" stroke-width="0.65"/>
<circle cx="493.9" cy="387.7" r="3.3" fill="#2abb59" stroke="#1c7f3c" stroke-width="0.65"/>
<circle cx="496.4" cy="383.8" r="3.3" fill="#2cbc4f" stroke="#1d7f35" stroke-width="0.65"/>
<circle cx="491.3" cy="395.4" r="3.3" fill="#24ba6d" stroke="#187e4a" stroke-width="0.65"/>
<circle cx="497.1" cy="403.2" r="3.3" fill="#22b880" stroke="#177d57" stroke-width="0.65"/>
<text x="17.6" y="499.5" font-size="22.5" font-weight="bold" font-family="'Liberation Sans', sans-serif" fill="#000">(E)</text>
<line x1="62" y1="527.5" x2="62" y2="746.8" stroke="#dcdcdc" stroke-width="0.9" />
<line x1="96" y1="527.5" x2="96" y2="746.8" stroke="#dcdcdc" stroke-width="0.9" />
<line x1="130" y1="527.5" x2="130" y2="746.8" stroke="#dcdcdc" stroke-width="0.9" />
<line x1="164" y1="527.5" x2="164" y2="746.8" stroke="#dcdcdc" stroke-width="0.9" />
<line x1="198" y1="527.5" x2="198" y2="746.8" stroke="#dcdcdc" stroke-width="0.9" />
<line x1="232" y1="527.5" x2="232" y2="746.8" stroke="#dcdcdc" stroke-width="0.9" />
<line x1="266" y1="527.5" x2="266" y2="746.8" stroke="#dcdcdc" stroke-width="0.9" />
<line x1="42.2" y1="700.9" x2="285.7" y2="700.9" stroke="#dcdcdc" stroke-width="0.9" />
<line x1="42.2" y1="655.5" x2="285.7" y2="655.5" stroke="#dcdcdc" stroke-width="0.9" />
<line x1="42.2" y1="610.1" x2="285.7" y2="610.1" stroke="#dcdcdc" stroke-width="0.9" />
<line x1="42.2" y1="564.7" x2="285.7" y2="564.7" stroke="#dcdcdc" stroke-width="0.9" />
<line x1="156.5" y1="527.5" x2="156.5" y2="746.8" stroke="#3a3a3a" stroke-width="0.75" stroke-dasharray="1.5,1"/>
<line x1="172.5" y1="527.5" x2="172.5" y2="746.8" stroke="#3a3a3a" stroke-width="0.75" stroke-dasharray="1.5,1"/>
<line x1="42.2" y1="740.5" x2="285.7" y2="740.5" stroke="#444" stroke-width="0.75" stroke-dasharray="1.6,1.1"/>
<g fill="#40b4d0" fill-opacity="0.72" stroke="#40b4d0" stroke-opacity="0.72" stroke-width="0.5">
<circle cx="144.8" cy="714.6" r="2.4"/>
<circle cx="143.5" cy="713.2" r="2.4"/>
<circle cx="141.6" cy="695.1" r="2.4"/>
<circle cx="147.4" cy="687.9" r="2.4"/>
<circle cx="143" cy="719.1" r="2.4"/>
<circle cx="152.7" cy="662.4" r="2.4"/>
<circle cx="150.7" cy="707.7" r="2.4"/>
<circle cx="145.7" cy="704.5" r="2.4"/>
<circle cx="144.9" cy="707" r="2.4"/>
<circle cx="151" cy="656.4" r="2.4"/>
<circle cx="151.8" cy="665.2" r="2.4"/>
<circle cx="143.1" cy="731.3" r="2.4"/>
<circle cx="148" cy="688" r="2.4"/>
<circle cx="150.5" cy="669.8" r="2.4"/>
<circle cx="153" cy="716.7" r="2.4"/>
<circle cx="144.2" cy="713.4" r="2.4"/>
<circle cx="151.7" cy="691.2" r="2.4"/>
<circle cx="142.7" cy="717.3" r="2.4"/>
<circle cx="145.8" cy="733" r="2.4"/>
<circle cx="151" cy="730.6" r="2.4"/>
<circle cx="137.1" cy="708" r="2.4"/>
<circle cx="147.1" cy="679.5" r="2.4"/>
<circle cx="152.4" cy="713" r="2.4"/>
<circle cx="147.7" cy="732.7" r="2.4"/>
<circle cx="152.2" cy="679.3" r="2.4"/>
<circle cx="146.5" cy="735.2" r="2.4"/>
<circle cx="151.9" cy="690.1" r="2.4"/>
<circle cx="144.4" cy="707.8" r="2.4"/>
<circle cx="143.6" cy="706.9" r="2.4"/>
<circle cx="150.4" cy="681.3" r="2.4"/>
<circle cx="151.1" cy="704.3" r="2.4"/>
<circle cx="152.3" cy="724.9" r="2.4"/>
<circle cx="152.7" cy="712.7" r="2.4"/>
<circle cx="152.9" cy="666" r="2.4"/>
<circle cx="146.9" cy="731.6" r="2.4"/>
<circle cx="143.4" cy="703.5" r="2.4"/>
<circle cx="152.7" cy="654.6" r="2.4"/>
<circle cx="151" cy="679.8" r="2.4"/>
<circle cx="147.2" cy="706.5" r="2.4"/>
<circle cx="152.5" cy="678.4" r="2.4"/>
<circle cx="151.4" cy="672.6" r="2.4"/>
<circle cx="146.5" cy="700.4" r="2.4"/>
<circle cx="148.1" cy="706.1" r="2.4"/>
<circle cx="144.6" cy="697.1" r="2.4"/>
<circle cx="152.7" cy="727.6" r="2.4"/>
<circle cx="148.1" cy="658" r="2.4"/>
<circle cx="152.3" cy="667.6" r="2.4"/>
<circle cx="148.3" cy="732.8" r="2.4"/>
<circle cx="132.7" cy="736.6" r="2.4"/>
<circle cx="152.5" cy="646" r="2.4"/>
<circle cx="146" cy="695" r="2.4"/>
<circle cx="152.4" cy="648.1" r="2.4"/>
<circle cx="136.1" cy="706.3" r="2.4"/>
<circle cx="145.8" cy="709.2" r="2.4"/>
<circle cx="150.7" cy="696.2" r="2.4"/>
<circle cx="151.2" cy="728.8" r="2.4"/>
<circle cx="142.9" cy="694.5" r="2.4"/>
<circle cx="152.9" cy="714.5" r="2.4"/>
<circle cx="150" cy="650.7" r="2.4"/>
<circle cx="152.2" cy="647.4" r="2.4"/>
<circle cx="148.9" cy="666.2" r="2.4"/>
<circle cx="152.4" cy="679.2" r="2.4"/>
<circle cx="143.3" cy="695.5" r="2.4"/>
<circle cx="151.7" cy="729.1" r="2.4"/>
<circle cx="135.2" cy="695.1" r="2.4"/>
<circle cx="144" cy="720" r="2.4"/>
<circle cx="150.5" cy="703" r="2.4"/>
<circle cx="150.7" cy="654.7" r="2.4"/>
<circle cx="143.6" cy="718.5" r="2.4"/>
<circle cx="152.7" cy="652.9" r="2.4"/>
<circle cx="141.2" cy="698.3" r="2.4"/>
<circle cx="152.9" cy="736.8" r="2.4"/>
<circle cx="141.1" cy="690.5" r="2.4"/>
<circle cx="150.2" cy="652.3" r="2.4"/>
<circle cx="146.7" cy="721.6" r="2.4"/>
<circle cx="152.8" cy="649.3" r="2.4"/>
<circle cx="143.9" cy="731.7" r="2.4"/>
<circle cx="141.9" cy="710.9" r="2.4"/>
<circle cx="142.6" cy="700.9" r="2.4"/>
<circle cx="151.9" cy="716.1" r="2.4"/>
<circle cx="151.6" cy="647.4" r="2.4"/>
<circle cx="152.2" cy="668.1" r="2.4"/>
<circle cx="147.6" cy="719.1" r="2.4"/>
<circle cx="151.5" cy="664.8" r="2.4"/>
<circle cx="152.7" cy="650.7" r="2.4"/>
<circle cx="147" cy="734.7" r="2.4"/>
<circle cx="152.3" cy="657.6" r="2.4"/>
<circle cx="148.9" cy="699.9" r="2.4"/>
<circle cx="148.9" cy="731" r="2.4"/>
<circle cx="149" cy="663.6" r="2.4"/>
<circle cx="148.1" cy="706.1" r="2.4"/>
<circle cx="150.9" cy="667" r="2.4"/>
<circle cx="146" cy="697.7" r="2.4"/>
<circle cx="152.9" cy="671.6" r="2.4"/>
<circle cx="142.5" cy="719.7" r="2.4"/>
<circle cx="150.6" cy="667.4" r="2.4"/>
<circle cx="151.6" cy="653.9" r="2.4"/>
<circle cx="151.5" cy="700.2" r="2.4"/>
<circle cx="152.3" cy="694.1" r="2.4"/>
<circle cx="144.3" cy="730" r="2.4"/>
<circle cx="148.9" cy="736.5" r="2.4"/>
<circle cx="146.6" cy="694.2" r="2.4"/>
<circle cx="144.9" cy="683.6" r="2.4"/>
<circle cx="147.4" cy="662.5" r="2.4"/>
<circle cx="144.6" cy="711.5" r="2.4"/>
<circle cx="150.5" cy="661" r="2.4"/>
<circle cx="150.1" cy="652.8" r="2.4"/>
<circle cx="148.3" cy="657.1" r="2.4"/>
<circle cx="148.6" cy="703.4" r="2.4"/>
<circle cx="152.3" cy="699.6" r="2.4"/>
<circle cx="148.5" cy="664.1" r="2.4"/>
<circle cx="144.2" cy="724.1" r="2.4"/>
<circle cx="150.2" cy="731.8" r="2.4"/>
<circle cx="147.8" cy="711.9" r="2.4"/>
<circle cx="149.5" cy="732.7" r="2.4"/>
<circle cx="150.3" cy="669.7" r="2.4"/>
<circle cx="141.6" cy="711.9" r="2.4"/>
<circle cx="150.7" cy="687.7" r="2.4"/>
<circle cx="147.9" cy="732.2" r="2.4"/>
<circle cx="147.2" cy="706.7" r="2.4"/>
<circle cx="133.9" cy="730" r="2.4"/>
<circle cx="140" cy="709.7" r="2.4"/>
<circle cx="147" cy="736.2" r="2.4"/>
<circle cx="148.2" cy="659" r="2.4"/>
<circle cx="145.9" cy="704.9" r="2.4"/>
<circle cx="144.3" cy="735" r="2.4"/>
<circle cx="152.2" cy="648.3" r="2.4"/>
<circle cx="144.4" cy="680" r="2.4"/>
<circle cx="152.1" cy="658.7" r="2.4"/>
<circle cx="150.7" cy="715.2" r="2.4"/>
<circle cx="152.2" cy="657.7" r="2.4"/>
<circle cx="138.5" cy="702.2" r="2.4"/>
<circle cx="152.4" cy="646.9" r="2.4"/>
<circle cx="142.9" cy="699.7" r="2.4"/>
<circle cx="153" cy="652.2" r="2.4"/>
<circle cx="134.6" cy="708.2" r="2.4"/>
<circle cx="151" cy="657.9" r="2.4"/>
<circle cx="137.4" cy="702.8" r="2.4"/>
<circle cx="151.2" cy="690.1" r="2.4"/>
<circle cx="150.9" cy="662.2" r="2.4"/>
<circle cx="151.7" cy="668.9" r="2.4"/>
<circle cx="151.7" cy="705.6" r="2.4"/>
<circle cx="147.7" cy="694" r="2.4"/>
<circle cx="147.6" cy="668.8" r="2.4"/>
<circle cx="150.9" cy="653.2" r="2.4"/>
<circle cx="148.3" cy="663.2" r="2.4"/>
<circle cx="149.1" cy="664.9" r="2.4"/>
<circle cx="150.4" cy="673.9" r="2.4"/>
<circle cx="147.6" cy="675" r="2.4"/>
<circle cx="152.7" cy="647.9" r="2.4"/>
<circle cx="143.7" cy="717" r="2.4"/>
<circle cx="151.9" cy="686.2" r="2.4"/>
<circle cx="151.1" cy="651.1" r="2.4"/>
<circle cx="142" cy="710.1" r="2.4"/>
<circle cx="148.5" cy="709.7" r="2.4"/>
<circle cx="147.3" cy="714.5" r="2.4"/>
<circle cx="152.3" cy="686.3" r="2.4"/>
<circle cx="133.7" cy="725.2" r="2.4"/>
<circle cx="151.7" cy="698.5" r="2.4"/>
<circle cx="143.4" cy="693.1" r="2.4"/>
<circle cx="151.4" cy="654.7" r="2.4"/>
<circle cx="136.6" cy="695.9" r="2.4"/>
<circle cx="136.9" cy="710.4" r="2.4"/>
<circle cx="146.3" cy="735.5" r="2.4"/>
<circle cx="145.5" cy="707.9" r="2.4"/>
<circle cx="150.5" cy="667.2" r="2.4"/>
<circle cx="150.1" cy="694" r="2.4"/>
<circle cx="152.9" cy="649.5" r="2.4"/>
<circle cx="147.4" cy="706" r="2.4"/>
<circle cx="152.9" cy="711.9" r="2.4"/>
<circle cx="146.6" cy="668.1" r="2.4"/>
<circle cx="139.1" cy="697.9" r="2.4"/>
<circle cx="152.4" cy="685.5" r="2.4"/>
<circle cx="149.6" cy="679.2" r="2.4"/>
<circle cx="141" cy="702.5" r="2.4"/>
<circle cx="146.9" cy="694.8" r="2.4"/>
<circle cx="151.7" cy="734.5" r="2.4"/>
<circle cx="142.9" cy="705.7" r="2.4"/>
<circle cx="143.9" cy="719.3" r="2.4"/>
<circle cx="142.3" cy="730.7" r="2.4"/>
<circle cx="143.7" cy="708.6" r="2.4"/>
<circle cx="152.6" cy="667.3" r="2.4"/>
<circle cx="145.2" cy="735.8" r="2.4"/>
<circle cx="147.5" cy="670.2" r="2.4"/>
<circle cx="152.5" cy="659.7" r="2.4"/>
<circle cx="152.3" cy="702.9" r="2.4"/>
<circle cx="148.9" cy="679.8" r="2.4"/>
<circle cx="151.4" cy="722.7" r="2.4"/>
<circle cx="151.4" cy="703.2" r="2.4"/>
<circle cx="152.3" cy="724" r="2.4"/>
<circle cx="152.2" cy="686.4" r="2.4"/>
<circle cx="143.5" cy="712.7" r="2.4"/>
<circle cx="152.8" cy="656.9" r="2.4"/>
<circle cx="143.5" cy="732.8" r="2.4"/>
<circle cx="145.3" cy="734.2" r="2.4"/>
<circle cx="153" cy="660.1" r="2.4"/>
<circle cx="149.3" cy="653" r="2.4"/>
<circle cx="150.9" cy="678.1" r="2.4"/>
<circle cx="137.2" cy="692.5" r="2.4"/>
<circle cx="151.7" cy="665.8" r="2.4"/>
<circle cx="152.9" cy="649.5" r="2.4"/>
<circle cx="152.3" cy="715.7" r="2.4"/>
<circle cx="151.9" cy="664.9" r="2.4"/>
<circle cx="148.7" cy="663.6" r="2.4"/>
<circle cx="146.2" cy="672.4" r="2.4"/>
<circle cx="146.6" cy="688.3" r="2.4"/>
<circle cx="149.8" cy="683.4" r="2.4"/>
<circle cx="149.7" cy="680.2" r="2.4"/>
<circle cx="143" cy="699.3" r="2.4"/>
<circle cx="151.6" cy="648.5" r="2.4"/>
<circle cx="149.7" cy="713.6" r="2.4"/>
<circle cx="151.2" cy="716.4" r="2.4"/>
<circle cx="145.6" cy="708.4" r="2.4"/>
<circle cx="149.5" cy="655.7" r="2.4"/>
<circle cx="152.1" cy="660.5" r="2.4"/>
<circle cx="151" cy="667.8" r="2.4"/>
<circle cx="151.4" cy="725.5" r="2.4"/>
<circle cx="148.2" cy="670.4" r="2.4"/>
<circle cx="151.3" cy="707.5" r="2.4"/>
<circle cx="149.7" cy="675.3" r="2.4"/>
<circle cx="152.9" cy="653.1" r="2.4"/>
<circle cx="152.2" cy="656.7" r="2.4"/>
<circle cx="151.9" cy="729.2" r="2.4"/>
<circle cx="146.7" cy="686.6" r="2.4"/>
<circle cx="150.6" cy="669" r="2.4"/>
<circle cx="147.4" cy="707" r="2.4"/>
<circle cx="152.7" cy="701.1" r="2.4"/>
<circle cx="152.7" cy="659.2" r="2.4"/>
<circle cx="152.7" cy="647.3" r="2.4"/>
<circle cx="142.2" cy="701.8" r="2.4"/>
<circle cx="135.9" cy="719" r="2.4"/>
<circle cx="142.9" cy="727.5" r="2.4"/>
<circle cx="144.3" cy="724.7" r="2.4"/>
<circle cx="152" cy="693.3" r="2.4"/>
<circle cx="151.2" cy="712" r="2.4"/>
<circle cx="149.4" cy="666.9" r="2.4"/>
<circle cx="148.2" cy="735.8" r="2.4"/>
<circle cx="148.8" cy="716.9" r="2.4"/>
<circle cx="147.6" cy="714.1" r="2.4"/>
<circle cx="151.2" cy="690.5" r="2.4"/>
<circle cx="145.3" cy="704.3" r="2.4"/>
<circle cx="147.3" cy="683" r="2.4"/>
<circle cx="145.4" cy="731.8" r="2.4"/>
<circle cx="150.3" cy="667.4" r="2.4"/>
<circle cx="142" cy="709.5" r="2.4"/>
<circle cx="151.6" cy="673.7" r="2.4"/>
<circle cx="153" cy="682.5" r="2.4"/>
<circle cx="150.9" cy="709.7" r="2.4"/>
<circle cx="149.1" cy="658.7" r="2.4"/>
<circle cx="149.5" cy="709.7" r="2.4"/>
<circle cx="143.6" cy="716.5" r="2.4"/>
<circle cx="147" cy="709.7" r="2.4"/>
<circle cx="151.4" cy="648.8" r="2.4"/>
<circle cx="152.7" cy="660.9" r="2.4"/>
<circle cx="142" cy="711.9" r="2.4"/>
<circle cx="152.8" cy="646.4" r="2.4"/>
<circle cx="150" cy="713" r="2.4"/>
<circle cx="144.6" cy="683.5" r="2.4"/>
<circle cx="146.5" cy="701.7" r="2.4"/>
<circle cx="151" cy="734" r="2.4"/>
<circle cx="143.2" cy="702.6" r="2.4"/>
<circle cx="141.4" cy="724.9" r="2.4"/>
<circle cx="146.1" cy="668" r="2.4"/>
<circle cx="151" cy="669.2" r="2.4"/>
<circle cx="150.7" cy="672.2" r="2.4"/>
<circle cx="147.4" cy="692.2" r="2.4"/>
<circle cx="149.8" cy="689.3" r="2.4"/>
<circle cx="153" cy="655.6" r="2.4"/>
<circle cx="149.1" cy="693.9" r="2.4"/>
<circle cx="144.5" cy="728.6" r="2.4"/>
<circle cx="152.5" cy="713.3" r="2.4"/>
<circle cx="135.7" cy="735.7" r="2.4"/>
<circle cx="149.2" cy="661.9" r="2.4"/>
<circle cx="140.9" cy="712.3" r="2.4"/>
<circle cx="152.9" cy="654.2" r="2.4"/>
<circle cx="144.1" cy="683.6" r="2.4"/>
<circle cx="149.2" cy="676.9" r="2.4"/>
<circle cx="142.2" cy="726.1" r="2.4"/>
<circle cx="152.9" cy="690.3" r="2.4"/>
<circle cx="133.1" cy="737.5" r="2.4"/>
<circle cx="145.9" cy="703.4" r="2.4"/>
<circle cx="139.1" cy="731.4" r="2.4"/>
<circle cx="150.6" cy="655.6" r="2.4"/>
<circle cx="151.8" cy="652.4" r="2.4"/>
<circle cx="152.9" cy="667.6" r="2.4"/>
<circle cx="147.2" cy="690.6" r="2.4"/>
<circle cx="147.8" cy="677.6" r="2.4"/>
<circle cx="147.3" cy="678.7" r="2.4"/>
<circle cx="151.7" cy="706.8" r="2.4"/>
<circle cx="135" cy="729" r="2.4"/>
<circle cx="147.6" cy="671.2" r="2.4"/>
<circle cx="143.2" cy="724.2" r="2.4"/>
<circle cx="133.6" cy="726.9" r="2.4"/>
<circle cx="152.1" cy="663.8" r="2.4"/>
<circle cx="149.3" cy="655.6" r="2.4"/>
<circle cx="135.5" cy="706.4" r="2.4"/>
<circle cx="141" cy="698.3" r="2.4"/>
<circle cx="151.6" cy="666.3" r="2.4"/>
<circle cx="150.9" cy="657" r="2.4"/>
<circle cx="152.8" cy="651.1" r="2.4"/>
<circle cx="146.6" cy="705.1" r="2.4"/>
<circle cx="142.7" cy="701.7" r="2.4"/>
<circle cx="149.7" cy="724.9" r="2.4"/>
<circle cx="144" cy="722.3" r="2.4"/>
<circle cx="143.9" cy="707.1" r="2.4"/>
<circle cx="152.3" cy="658.7" r="2.4"/>
<circle cx="147" cy="676.2" r="2.4"/>
<circle cx="152.7" cy="686.4" r="2.4"/>
<circle cx="152.2" cy="653.6" r="2.4"/>
<circle cx="152.8" cy="646.9" r="2.4"/>
<circle cx="141.4" cy="723" r="2.4"/>
<circle cx="148.6" cy="705" r="2.4"/>
<circle cx="151.7" cy="688.5" r="2.4"/>
<circle cx="152.3" cy="717.3" r="2.4"/>
<circle cx="148.7" cy="684.6" r="2.4"/>
<circle cx="152.8" cy="666.5" r="2.4"/>
<circle cx="143" cy="691.3" r="2.4"/>
<circle cx="152" cy="735.2" r="2.4"/>
<circle cx="152.4" cy="652.6" r="2.4"/>
<circle cx="146.5" cy="666.8" r="2.4"/>
<circle cx="151.4" cy="705.8" r="2.4"/>
<circle cx="150.3" cy="675.6" r="2.4"/>
<circle cx="150.2" cy="719.1" r="2.4"/>
<circle cx="148.5" cy="660.9" r="2.4"/>
<circle cx="152.1" cy="646.2" r="2.4"/>
<circle cx="148.9" cy="659.3" r="2.4"/>
<circle cx="148.9" cy="668.1" r="2.4"/>
<circle cx="143.9" cy="736.3" r="2.4"/>
<circle cx="152.5" cy="728.9" r="2.4"/>
<circle cx="152.7" cy="674" r="2.4"/>
<circle cx="151.2" cy="722.2" r="2.4"/>
<circle cx="141.5" cy="732.6" r="2.4"/>
<circle cx="150.1" cy="667.5" r="2.4"/>
<circle cx="152.8" cy="722.6" r="2.4"/>
<circle cx="135.8" cy="731" r="2.4"/>
<circle cx="148.5" cy="674.9" r="2.4"/>
<circle cx="147.8" cy="731.5" r="2.4"/>
<circle cx="150.9" cy="707" r="2.4"/>
<circle cx="149.9" cy="736.4" r="2.4"/>
<circle cx="143" cy="727.8" r="2.4"/>
<circle cx="153" cy="652.4" r="2.4"/>
<circle cx="152.4" cy="654.2" r="2.4"/>
<circle cx="144.7" cy="700.7" r="2.4"/>
<circle cx="150.2" cy="675.5" r="2.4"/>
<circle cx="150.7" cy="712.8" r="2.4"/>
<circle cx="148" cy="683.5" r="2.4"/>
<circle cx="151.5" cy="734.1" r="2.4"/>
<circle cx="151.5" cy="647.2" r="2.4"/>
<circle cx="151.4" cy="669.2" r="2.4"/>
<circle cx="151.8" cy="708.2" r="2.4"/>
<circle cx="148.5" cy="656.5" r="2.4"/>
<circle cx="152.3" cy="688.1" r="2.4"/>
<circle cx="153" cy="662.6" r="2.4"/>
<circle cx="149.2" cy="738" r="2.4"/>
<circle cx="148.8" cy="709.4" r="2.4"/>
<circle cx="144.9" cy="685.6" r="2.4"/>
<circle cx="149.7" cy="729.3" r="2.4"/>
<circle cx="152.7" cy="726" r="2.4"/>
<circle cx="146" cy="701" r="2.4"/>
<circle cx="151.9" cy="734.8" r="2.4"/>
<circle cx="128.1" cy="647.5" r="2.4"/>
<circle cx="119.2" cy="686.4" r="2.4"/>
<circle cx="117.6" cy="737.2" r="2.4"/>
<circle cx="122.7" cy="725.7" r="2.4"/>
<circle cx="124.4" cy="709.5" r="2.4"/>
<circle cx="130.7" cy="708.7" r="2.4"/>
<circle cx="154.7" cy="624.6" r="2.4"/>
<circle cx="153.6" cy="646.2" r="2.4"/>
<circle cx="148.8" cy="651.5" r="2.4"/>
<circle cx="139" cy="697.1" r="2.4"/>
<circle cx="132.9" cy="721.4" r="2.4"/>
<circle cx="134.8" cy="730.9" r="2.4"/>
<circle cx="133.4" cy="715.7" r="2.4"/>
</g>
<g fill="#ec0c0c" fill-opacity="0.72" stroke="#ec0c0c" stroke-opacity="0.72" stroke-width="0.5">
<circle cx="181.1" cy="719.6" r="2.4"/>
<circle cx="179.2" cy="646.9" r="2.4"/>
<circle cx="183.7" cy="689.9" r="2.4"/>
<circle cx="190.9" cy="699.7" r="2.4"/>
<circle cx="181.1" cy="684.7" r="2.4"/>
<circle cx="174.7" cy="726.4" r="2.4"/>
<circle cx="182.4" cy="721.3" r="2.4"/>
<circle cx="173.7" cy="707.8" r="2.4"/>
<circle cx="178.1" cy="628.4" r="2.4"/>
<circle cx="191.8" cy="635.4" r="2.4"/>
<circle cx="183.1" cy="704.1" r="2.4"/>
<circle cx="178.5" cy="739.9" r="2.4"/>
<circle cx="188.3" cy="696.2" r="2.4"/>
<circle cx="179.2" cy="651.3" r="2.4"/>
<circle cx="176.3" cy="642.5" r="2.4"/>
<circle cx="178" cy="625.9" r="2.4"/>
<circle cx="185.8" cy="720.6" r="2.4"/>
<circle cx="177" cy="711.1" r="2.4"/>
<circle cx="180.4" cy="724.9" r="2.4"/>
<circle cx="179.3" cy="669.1" r="2.4"/>
<circle cx="173.8" cy="693.6" r="2.4"/>
<circle cx="190.2" cy="656.9" r="2.4"/>
<circle cx="180.6" cy="708.1" r="2.4"/>
<circle cx="173.9" cy="736.4" r="2.4"/>
<circle cx="174.3" cy="628" r="2.4"/>
<circle cx="181.7" cy="657.6" r="2.4"/>
<circle cx="173.2" cy="648.8" r="2.4"/>
<circle cx="176.4" cy="719.8" r="2.4"/>
<circle cx="185.8" cy="636" r="2.4"/>
<circle cx="178.2" cy="674.7" r="2.4"/>
<circle cx="184.6" cy="734" r="2.4"/>
<circle cx="178.1" cy="628.1" r="2.4"/>
<circle cx="186.8" cy="665.5" r="2.4"/>
<circle cx="194.4" cy="613.7" r="2.4"/>
<circle cx="187.8" cy="661.7" r="2.4"/>
<circle cx="199.6" cy="608" r="2.4"/>
<circle cx="182.7" cy="696.5" r="2.4"/>
<circle cx="181.4" cy="644.8" r="2.4"/>
<circle cx="174.1" cy="689.4" r="2.4"/>
<circle cx="185.2" cy="635.2" r="2.4"/>
<circle cx="184.7" cy="628" r="2.4"/>
<circle cx="185.2" cy="644.8" r="2.4"/>
<circle cx="178" cy="670.5" r="2.4"/>
<circle cx="188.1" cy="705.2" r="2.4"/>
<circle cx="175.5" cy="725" r="2.4"/>
<circle cx="181.5" cy="676.7" r="2.4"/>
<circle cx="173.7" cy="715.2" r="2.4"/>
<circle cx="203.8" cy="602.8" r="2.4"/>
<circle cx="176.1" cy="733.4" r="2.4"/>
<circle cx="172.7" cy="652.3" r="2.4"/>
<circle cx="176" cy="712.3" r="2.4"/>
<circle cx="198.3" cy="604.2" r="2.4"/>
<circle cx="173.6" cy="655.3" r="2.4"/>
<circle cx="184.4" cy="733.1" r="2.4"/>
<circle cx="181.8" cy="634.9" r="2.4"/>
<circle cx="175.5" cy="634.4" r="2.4"/>
<circle cx="199.1" cy="609" r="2.4"/>
<circle cx="179.2" cy="707.6" r="2.4"/>
<circle cx="173.8" cy="692.7" r="2.4"/>
<circle cx="176.5" cy="625.2" r="2.4"/>
<circle cx="175.2" cy="639.2" r="2.4"/>
<circle cx="182.1" cy="698" r="2.4"/>
<circle cx="184" cy="704.9" r="2.4"/>
<circle cx="173.8" cy="659.3" r="2.4"/>
<circle cx="180.4" cy="670.6" r="2.4"/>
<circle cx="181.6" cy="644.1" r="2.4"/>
<circle cx="184.6" cy="664.3" r="2.4"/>
<circle cx="177.2" cy="680" r="2.4"/>
<circle cx="191.1" cy="607.7" r="2.4"/>
<circle cx="174.8" cy="700.6" r="2.4"/>
<circle cx="176.1" cy="737.2" r="2.4"/>
<circle cx="173.4" cy="730.6" r="2.4"/>
<circle cx="175.5" cy="672.4" r="2.4"/>
<circle cx="173.2" cy="660.6" r="2.4"/>
<circle cx="182.6" cy="678.1" r="2.4"/>
<circle cx="175.5" cy="730.1" r="2.4"/>
<circle cx="188.6" cy="599.4" r="2.4"/>
<circle cx="173.4" cy="724.7" r="2.4"/>
<circle cx="174.7" cy="707.5" r="2.4"/>
<circle cx="183" cy="674" r="2.4"/>
<circle cx="181.4" cy="634.5" r="2.4"/>
<circle cx="180" cy="660.5" r="2.4"/>
<circle cx="188.8" cy="730.3" r="2.4"/>
<circle cx="176.9" cy="698.9" r="2.4"/>
<circle cx="179.3" cy="703.5" r="2.4"/>
<circle cx="191.9" cy="676.2" r="2.4"/>
<circle cx="183.9" cy="666.6" r="2.4"/>
<circle cx="175.5" cy="651.6" r="2.4"/>
<circle cx="177.8" cy="625.1" r="2.4"/>
<circle cx="174.1" cy="664.3" r="2.4"/>
<circle cx="177.3" cy="735.4" r="2.4"/>
<circle cx="179.8" cy="636.4" r="2.4"/>
<circle cx="176.9" cy="685.9" r="2.4"/>
<circle cx="177.2" cy="724.2" r="2.4"/>
<circle cx="188.2" cy="609.6" r="2.4"/>
<circle cx="177.5" cy="627.9" r="2.4"/>
<circle cx="178" cy="635.1" r="2.4"/>
<circle cx="177.3" cy="726.5" r="2.4"/>
<circle cx="191.9" cy="691.9" r="2.4"/>
<circle cx="180.6" cy="670.2" r="2.4"/>
<circle cx="176.4" cy="659" r="2.4"/>
<circle cx="178" cy="732.2" r="2.4"/>
<circle cx="175.8" cy="720.3" r="2.4"/>
<circle cx="182.2" cy="715.9" r="2.4"/>
<circle cx="180.4" cy="713.1" r="2.4"/>
<circle cx="173.3" cy="640.1" r="2.4"/>
<circle cx="178.4" cy="727.5" r="2.4"/>
<circle cx="194.8" cy="613.4" r="2.4"/>
<circle cx="178.1" cy="729.3" r="2.4"/>
<circle cx="186.8" cy="650.4" r="2.4"/>
<circle cx="175.4" cy="672.4" r="2.4"/>
<circle cx="183.3" cy="692.3" r="2.4"/>
<circle cx="182.1" cy="631.5" r="2.4"/>
<circle cx="179" cy="714.8" r="2.4"/>
<circle cx="189.9" cy="697.4" r="2.4"/>
<circle cx="182.2" cy="718.6" r="2.4"/>
<circle cx="175.6" cy="667.5" r="2.4"/>
<circle cx="175.4" cy="652.9" r="2.4"/>
<circle cx="183.7" cy="728.8" r="2.4"/>
<circle cx="178.6" cy="687.5" r="2.4"/>
<circle cx="174.5" cy="696.3" r="2.4"/>
<circle cx="180.3" cy="735.3" r="2.4"/>
<circle cx="183.5" cy="715.3" r="2.4"/>
<circle cx="175.9" cy="624.9" r="2.4"/>
<circle cx="175" cy="717" r="2.4"/>
<circle cx="185.2" cy="629" r="2.4"/>
<circle cx="184.4" cy="736.7" r="2.4"/>
<circle cx="175.7" cy="693.5" r="2.4"/>
<circle cx="182.7" cy="686.8" r="2.4"/>
<circle cx="177.1" cy="684.8" r="2.4"/>
<circle cx="187.1" cy="605.2" r="2.4"/>
<circle cx="174.5" cy="735.7" r="2.4"/>
<circle cx="182.2" cy="698.2" r="2.4"/>
<circle cx="177.4" cy="691.3" r="2.4"/>
<circle cx="179.2" cy="704.3" r="2.4"/>
<circle cx="181.1" cy="713.9" r="2.4"/>
<circle cx="184.2" cy="718.5" r="2.4"/>
<circle cx="189.9" cy="727.3" r="2.4"/>
<circle cx="180" cy="711.6" r="2.4"/>
<circle cx="182.3" cy="670.2" r="2.4"/>
<circle cx="181.4" cy="707" r="2.4"/>
<circle cx="183.5" cy="731.9" r="2.4"/>
<circle cx="203.8" cy="612.2" r="2.4"/>
<circle cx="179.6" cy="695.9" r="2.4"/>
<circle cx="177.9" cy="730.5" r="2.4"/>
<circle cx="179.4" cy="673.1" r="2.4"/>
<circle cx="185.1" cy="670.9" r="2.4"/>
<circle cx="184.6" cy="674.5" r="2.4"/>
<circle cx="181.6" cy="699.9" r="2.4"/>
<circle cx="172.8" cy="654.9" r="2.4"/>
<circle cx="173" cy="686" r="2.4"/>
<circle cx="182.7" cy="726.5" r="2.4"/>
<circle cx="182.8" cy="650.1" r="2.4"/>
<circle cx="185.6" cy="652.1" r="2.4"/>
<circle cx="183" cy="663.1" r="2.4"/>
<circle cx="174.1" cy="734.9" r="2.4"/>
<circle cx="175" cy="632.7" r="2.4"/>
<circle cx="178.2" cy="692.9" r="2.4"/>
<circle cx="185" cy="733.1" r="2.4"/>
<circle cx="184.5" cy="636" r="2.4"/>
<circle cx="182.5" cy="637.1" r="2.4"/>
<circle cx="180.5" cy="703.9" r="2.4"/>
<circle cx="173.1" cy="693.3" r="2.4"/>
<circle cx="173.5" cy="647.6" r="2.4"/>
<circle cx="172.9" cy="661.9" r="2.4"/>
<circle cx="175.6" cy="657" r="2.4"/>
<circle cx="179.5" cy="715.8" r="2.4"/>
<circle cx="183.4" cy="737.8" r="2.4"/>
<circle cx="184.3" cy="725.8" r="2.4"/>
<circle cx="186.9" cy="701.7" r="2.4"/>
<circle cx="178" cy="637.7" r="2.4"/>
<circle cx="183.4" cy="672.1" r="2.4"/>
<circle cx="181.8" cy="643.1" r="2.4"/>
<circle cx="180.4" cy="727.1" r="2.4"/>
<circle cx="181.2" cy="720.6" r="2.4"/>
<circle cx="179.5" cy="651.7" r="2.4"/>
<circle cx="176.3" cy="635.4" r="2.4"/>
<circle cx="173.9" cy="636.7" r="2.4"/>
<circle cx="182.6" cy="655" r="2.4"/>
<circle cx="182.5" cy="716.1" r="2.4"/>
<circle cx="180.3" cy="684.8" r="2.4"/>
<circle cx="185.5" cy="662.9" r="2.4"/>
<circle cx="178.1" cy="660.6" r="2.4"/>
<circle cx="173.8" cy="734.2" r="2.4"/>
<circle cx="186.9" cy="623" r="2.4"/>
<circle cx="185.9" cy="629.6" r="2.4"/>
<circle cx="173.7" cy="718.8" r="2.4"/>
<circle cx="177.7" cy="690.1" r="2.4"/>
<circle cx="176.8" cy="650.6" r="2.4"/>
<circle cx="174.8" cy="738.6" r="2.4"/>
<circle cx="182.9" cy="637.1" r="2.4"/>
<circle cx="173.7" cy="627.8" r="2.4"/>
<circle cx="184.6" cy="628.2" r="2.4"/>
<circle cx="187.4" cy="695" r="2.4"/>
<circle cx="178.6" cy="682.3" r="2.4"/>
<circle cx="172.6" cy="650.7" r="2.4"/>
<circle cx="182.2" cy="681.2" r="2.4"/>
<circle cx="175.6" cy="695.6" r="2.4"/>
<circle cx="174.5" cy="684.3" r="2.4"/>
<circle cx="173" cy="737.4" r="2.4"/>
<circle cx="182.6" cy="663.1" r="2.4"/>
<circle cx="182.6" cy="647.2" r="2.4"/>
<circle cx="174.6" cy="638.3" r="2.4"/>
<circle cx="181.9" cy="698.2" r="2.4"/>
<circle cx="184.9" cy="715.1" r="2.4"/>
<circle cx="195.7" cy="613" r="2.4"/>
<circle cx="195.3" cy="604.4" r="2.4"/>
<circle cx="184.3" cy="672.9" r="2.4"/>
<circle cx="177.9" cy="711.7" r="2.4"/>
<circle cx="186.5" cy="697.4" r="2.4"/>
<circle cx="176.1" cy="736" r="2.4"/>
<circle cx="182.3" cy="674.1" r="2.4"/>
<circle cx="184.2" cy="686.5" r="2.4"/>
<circle cx="179.4" cy="699.1" r="2.4"/>
<circle cx="179.7" cy="636.3" r="2.4"/>
<circle cx="177.6" cy="672.4" r="2.4"/>
<circle cx="177" cy="686.3" r="2.4"/>
<circle cx="175.6" cy="706.6" r="2.4"/>
<circle cx="177.1" cy="661.5" r="2.4"/>
<circle cx="181.8" cy="636.3" r="2.4"/>
<circle cx="177" cy="698.4" r="2.4"/>
<circle cx="179.6" cy="656.5" r="2.4"/>
<circle cx="175.7" cy="660.7" r="2.4"/>
<circle cx="177.5" cy="683.2" r="2.4"/>
<circle cx="180.9" cy="683.9" r="2.4"/>
<circle cx="174" cy="655" r="2.4"/>
<circle cx="182.9" cy="625.8" r="2.4"/>
<circle cx="179.7" cy="711.3" r="2.4"/>
<circle cx="183.1" cy="652.8" r="2.4"/>
<circle cx="173.2" cy="724.8" r="2.4"/>
<circle cx="182.9" cy="702.4" r="2.4"/>
<circle cx="175.2" cy="680.5" r="2.4"/>
<circle cx="174.2" cy="660.2" r="2.4"/>
<circle cx="173.3" cy="711" r="2.4"/>
<circle cx="180.7" cy="698.3" r="2.4"/>
<circle cx="183.5" cy="641.9" r="2.4"/>
<circle cx="180.8" cy="717.2" r="2.4"/>
<circle cx="181.6" cy="658" r="2.4"/>
<circle cx="175.7" cy="624.6" r="2.4"/>
<circle cx="182.1" cy="647.8" r="2.4"/>
<circle cx="180.6" cy="661.2" r="2.4"/>
<circle cx="175.9" cy="711.9" r="2.4"/>
<circle cx="185.5" cy="708" r="2.4"/>
<circle cx="191.2" cy="688.5" r="2.4"/>
<circle cx="175.2" cy="631" r="2.4"/>
<circle cx="184.8" cy="717" r="2.4"/>
<circle cx="183.1" cy="600.4" r="2.4"/>
<circle cx="182.8" cy="645.8" r="2.4"/>
<circle cx="184" cy="663.7" r="2.4"/>
<circle cx="175.9" cy="684.7" r="2.4"/>
<circle cx="189" cy="719.4" r="2.4"/>
<circle cx="176.7" cy="726.5" r="2.4"/>
<circle cx="184.5" cy="673.9" r="2.4"/>
<circle cx="183.5" cy="607.1" r="2.4"/>
<circle cx="183.9" cy="708.9" r="2.4"/>
<circle cx="187.7" cy="648.5" r="2.4"/>
<circle cx="177.4" cy="705.4" r="2.4"/>
<circle cx="176.3" cy="697" r="2.4"/>
<circle cx="189.4" cy="708.9" r="2.4"/>
<circle cx="174.3" cy="725.1" r="2.4"/>
<circle cx="179.9" cy="643.6" r="2.4"/>
<circle cx="177" cy="642.3" r="2.4"/>
<circle cx="177.9" cy="653.5" r="2.4"/>
<circle cx="182.2" cy="675.7" r="2.4"/>
<circle cx="178.4" cy="659.6" r="2.4"/>
<circle cx="181.4" cy="738.4" r="2.4"/>
<circle cx="197.4" cy="600.4" r="2.4"/>
<circle cx="173.8" cy="624.8" r="2.4"/>
<circle cx="190.1" cy="712.8" r="2.4"/>
<circle cx="182.7" cy="674.7" r="2.4"/>
<circle cx="179.3" cy="713.5" r="2.4"/>
<circle cx="177.1" cy="732.6" r="2.4"/>
<circle cx="180.7" cy="675" r="2.4"/>
<circle cx="173.2" cy="714.7" r="2.4"/>
<circle cx="172.8" cy="658.8" r="2.4"/>
<circle cx="181.5" cy="712.8" r="2.4"/>
<circle cx="175.2" cy="726.1" r="2.4"/>
<circle cx="187.1" cy="722.2" r="2.4"/>
<circle cx="175" cy="698.9" r="2.4"/>
<circle cx="177.2" cy="737" r="2.4"/>
<circle cx="190.8" cy="662" r="2.4"/>
<circle cx="174.5" cy="637.4" r="2.4"/>
<circle cx="174.7" cy="680.6" r="2.4"/>
<circle cx="183.6" cy="712.8" r="2.4"/>
<circle cx="175.8" cy="706.4" r="2.4"/>
<circle cx="172.9" cy="666.5" r="2.4"/>
<circle cx="174.7" cy="660.2" r="2.4"/>
<circle cx="175.5" cy="726.5" r="2.4"/>
<circle cx="175" cy="652.2" r="2.4"/>
<circle cx="174.3" cy="676.3" r="2.4"/>
<circle cx="187.1" cy="731.3" r="2.4"/>
<circle cx="202" cy="612.2" r="2.4"/>
<circle cx="184.2" cy="636.7" r="2.4"/>
<circle cx="180.2" cy="710.2" r="2.4"/>
<circle cx="178.1" cy="674.7" r="2.4"/>
<circle cx="184.7" cy="655.1" r="2.4"/>
<circle cx="185.7" cy="672.3" r="2.4"/>
<circle cx="174.9" cy="737.7" r="2.4"/>
<circle cx="182.1" cy="680.3" r="2.4"/>
<circle cx="177.9" cy="670.7" r="2.4"/>
<circle cx="179.5" cy="675.2" r="2.4"/>
<circle cx="174.5" cy="677.5" r="2.4"/>
<circle cx="183.5" cy="667.4" r="2.4"/>
<circle cx="179.9" cy="684.3" r="2.4"/>
<circle cx="184.8" cy="724" r="2.4"/>
<circle cx="188.2" cy="631" r="2.4"/>
<circle cx="183.6" cy="636.6" r="2.4"/>
<circle cx="176.7" cy="730.6" r="2.4"/>
<circle cx="185.8" cy="711.1" r="2.4"/>
<circle cx="173.8" cy="730.2" r="2.4"/>
<circle cx="185.3" cy="635.1" r="2.4"/>
<circle cx="176.7" cy="735.5" r="2.4"/>
<circle cx="188.9" cy="709.9" r="2.4"/>
<circle cx="173.9" cy="665.6" r="2.4"/>
<circle cx="183.6" cy="617.7" r="2.4"/>
<circle cx="184.8" cy="710.5" r="2.4"/>
<circle cx="182.8" cy="632.9" r="2.4"/>
<circle cx="185.7" cy="710.6" r="2.4"/>
<circle cx="178" cy="658.7" r="2.4"/>
<circle cx="179.7" cy="658.1" r="2.4"/>
<circle cx="173.1" cy="690.3" r="2.4"/>
<circle cx="178" cy="729.8" r="2.4"/>
<circle cx="179" cy="652.2" r="2.4"/>
<circle cx="181.4" cy="649.3" r="2.4"/>
<circle cx="176.4" cy="678.2" r="2.4"/>
<circle cx="190" cy="717" r="2.4"/>
<circle cx="183.2" cy="700" r="2.4"/>
<circle cx="186.7" cy="737.9" r="2.4"/>
<circle cx="181.5" cy="644.8" r="2.4"/>
<circle cx="178.9" cy="658.4" r="2.4"/>
<circle cx="181.9" cy="734.9" r="2.4"/>
<circle cx="183.8" cy="638.7" r="2.4"/>
<circle cx="177.5" cy="666.5" r="2.4"/>
<circle cx="195.3" cy="611.7" r="2.4"/>
<circle cx="175.2" cy="643.4" r="2.4"/>
<circle cx="173.8" cy="694.5" r="2.4"/>
<circle cx="180.5" cy="736" r="2.4"/>
<circle cx="178.9" cy="650.6" r="2.4"/>
<circle cx="178.6" cy="652.2" r="2.4"/>
<circle cx="182.9" cy="677.7" r="2.4"/>
<circle cx="178.9" cy="691.6" r="2.4"/>
<circle cx="177.4" cy="666.4" r="2.4"/>
<circle cx="174.8" cy="694" r="2.4"/>
<circle cx="179.3" cy="720.1" r="2.4"/>
<circle cx="187.6" cy="600.1" r="2.4"/>
<circle cx="183.4" cy="605.2" r="2.4"/>
<circle cx="184.1" cy="724.4" r="2.4"/>
<circle cx="183" cy="723.2" r="2.4"/>
<circle cx="183.5" cy="690" r="2.4"/>
<circle cx="185.3" cy="669.2" r="2.4"/>
<circle cx="190" cy="673.5" r="2.4"/>
<circle cx="175.7" cy="638.5" r="2.4"/>
<circle cx="180.8" cy="680.8" r="2.4"/>
<circle cx="181.4" cy="645.2" r="2.4"/>
<circle cx="175.6" cy="731.9" r="2.4"/>
<circle cx="182.2" cy="689.5" r="2.4"/>
<circle cx="182.5" cy="718.2" r="2.4"/>
<circle cx="180.3" cy="658.2" r="2.4"/>
<circle cx="184.3" cy="711.9" r="2.4"/>
<circle cx="178.6" cy="689.1" r="2.4"/>
<circle cx="178" cy="695.3" r="2.4"/>
<circle cx="178" cy="656.2" r="2.4"/>
<circle cx="179.3" cy="682.9" r="2.4"/>
<circle cx="173.5" cy="653" r="2.4"/>
<circle cx="178.9" cy="641.2" r="2.4"/>
<circle cx="175.4" cy="688.1" r="2.4"/>
<circle cx="177.4" cy="663.5" r="2.4"/>
<circle cx="184.2" cy="638.7" r="2.4"/>
<circle cx="173" cy="677.7" r="2.4"/>
<circle cx="192.5" cy="602.6" r="2.4"/>
<circle cx="177.7" cy="631.8" r="2.4"/>
<circle cx="183.6" cy="658.7" r="2.4"/>
<circle cx="184.7" cy="680.2" r="2.4"/>
<circle cx="191.4" cy="657.4" r="2.4"/>
<circle cx="174.1" cy="728" r="2.4"/>
<circle cx="176.8" cy="637.8" r="2.4"/>
<circle cx="185" cy="642.9" r="2.4"/>
<circle cx="181.4" cy="664.7" r="2.4"/>
<circle cx="181.6" cy="707.7" r="2.4"/>
<circle cx="175.2" cy="720.3" r="2.4"/>
<circle cx="177.7" cy="708.6" r="2.4"/>
<circle cx="176.4" cy="706" r="2.4"/>
<circle cx="179.8" cy="716.4" r="2.4"/>
<circle cx="176.4" cy="680.2" r="2.4"/>
<circle cx="176.7" cy="691.7" r="2.4"/>
<circle cx="184.2" cy="704.8" r="2.4"/>
<circle cx="177" cy="653.8" r="2.4"/>
<circle cx="180.1" cy="644" r="2.4"/>
<circle cx="183.2" cy="695.3" r="2.4"/>
<circle cx="175.5" cy="663.4" r="2.4"/>
<circle cx="177.2" cy="718.3" r="2.4"/>
<circle cx="204.3" cy="612.9" r="2.4"/>
<circle cx="173.6" cy="734" r="2.4"/>
<circle cx="174.5" cy="694.6" r="2.4"/>
<circle cx="185" cy="648.1" r="2.4"/>
<circle cx="184" cy="726.4" r="2.4"/>
<circle cx="182.8" cy="715.7" r="2.4"/>
<circle cx="177.1" cy="665" r="2.4"/>
<circle cx="177.3" cy="709.3" r="2.4"/>
<circle cx="185.9" cy="698.9" r="2.4"/>
<circle cx="180.2" cy="658.5" r="2.4"/>
<circle cx="176" cy="667" r="2.4"/>
<circle cx="179.1" cy="630.8" r="2.4"/>
<circle cx="176.1" cy="626.6" r="2.4"/>
<circle cx="173.6" cy="626.9" r="2.4"/>
<circle cx="180" cy="723.2" r="2.4"/>
<circle cx="179.1" cy="657.9" r="2.4"/>
<circle cx="186.6" cy="712.4" r="2.4"/>
<circle cx="174.5" cy="688" r="2.4"/>
<circle cx="181" cy="627.9" r="2.4"/>
<circle cx="181.4" cy="703.8" r="2.4"/>
<circle cx="177" cy="678.8" r="2.4"/>
<circle cx="174" cy="629.2" r="2.4"/>
<circle cx="177.3" cy="680.1" r="2.4"/>
<circle cx="175.1" cy="651" r="2.4"/>
<circle cx="183.5" cy="649.8" r="2.4"/>
<circle cx="184.2" cy="638.6" r="2.4"/>
<circle cx="179.5" cy="718" r="2.4"/>
<circle cx="186.9" cy="736.1" r="2.4"/>
<circle cx="186.7" cy="663.7" r="2.4"/>
<circle cx="182" cy="705.9" r="2.4"/>
<circle cx="179.6" cy="652.5" r="2.4"/>
<circle cx="179.4" cy="632.1" r="2.4"/>
<circle cx="196" cy="605.4" r="2.4"/>
<circle cx="177.8" cy="640" r="2.4"/>
<circle cx="173.4" cy="647.4" r="2.4"/>
<circle cx="180.1" cy="738.7" r="2.4"/>
<circle cx="175.1" cy="726.2" r="2.4"/>
<circle cx="175.2" cy="674.7" r="2.4"/>
<circle cx="175" cy="645.8" r="2.4"/>
<circle cx="191" cy="705.3" r="2.4"/>
<circle cx="181.6" cy="641" r="2.4"/>
<circle cx="179.9" cy="732.6" r="2.4"/>
<circle cx="189.5" cy="655.3" r="2.4"/>
<circle cx="181.6" cy="627" r="2.4"/>
<circle cx="183.4" cy="638.1" r="2.4"/>
<circle cx="183.5" cy="718.8" r="2.4"/>
<circle cx="178.5" cy="663.2" r="2.4"/>
<circle cx="176.9" cy="672.5" r="2.4"/>
<circle cx="173.1" cy="737.9" r="2.4"/>
<circle cx="184.9" cy="722.3" r="2.4"/>
<circle cx="180.4" cy="637.3" r="2.4"/>
<circle cx="189.8" cy="640.3" r="2.4"/>
<circle cx="203.3" cy="605.6" r="2.4"/>
<circle cx="187.9" cy="737.4" r="2.4"/>
<circle cx="184.7" cy="672.4" r="2.4"/>
<circle cx="181.8" cy="630" r="2.4"/>
<circle cx="181.2" cy="658.1" r="2.4"/>
<circle cx="174.3" cy="717.6" r="2.4"/>
<circle cx="181.8" cy="711.9" r="2.4"/>
<circle cx="189.5" cy="680" r="2.4"/>
<circle cx="173.2" cy="679.8" r="2.4"/>
<circle cx="183.5" cy="736.8" r="2.4"/>
<circle cx="177.5" cy="722.6" r="2.4"/>
<circle cx="184.1" cy="712.8" r="2.4"/>
<circle cx="183.4" cy="666.4" r="2.4"/>
<circle cx="187.5" cy="632" r="2.4"/>
<circle cx="173" cy="634.7" r="2.4"/>
<circle cx="175.8" cy="673.7" r="2.4"/>
<circle cx="187.6" cy="711.4" r="2.4"/>
<circle cx="177.2" cy="678.1" r="2.4"/>
<circle cx="173.2" cy="738.1" r="2.4"/>
<circle cx="181.9" cy="731.7" r="2.4"/>
<circle cx="191.1" cy="663.3" r="2.4"/>
<circle cx="174.1" cy="690.6" r="2.4"/>
<circle cx="177.9" cy="700.2" r="2.4"/>
<circle cx="173.8" cy="665.4" r="2.4"/>
<circle cx="179.2" cy="643.3" r="2.4"/>
<circle cx="178.5" cy="636.3" r="2.4"/>
<circle cx="174.2" cy="661.2" r="2.4"/>
<circle cx="174" cy="707.7" r="2.4"/>
<circle cx="185.8" cy="664.1" r="2.4"/>
<circle cx="181.4" cy="649.9" r="2.4"/>
<circle cx="175.3" cy="627.8" r="2.4"/>
<circle cx="182.4" cy="726.5" r="2.4"/>
<circle cx="175.5" cy="727.4" r="2.4"/>
<circle cx="180.1" cy="729.8" r="2.4"/>
<circle cx="176.2" cy="689.5" r="2.4"/>
<circle cx="187.4" cy="685.7" r="2.4"/>
<circle cx="177.4" cy="677.3" r="2.4"/>
<circle cx="176.1" cy="634.6" r="2.4"/>
<circle cx="180.2" cy="678.7" r="2.4"/>
<circle cx="185.6" cy="627.6" r="2.4"/>
<circle cx="183.1" cy="623.1" r="2.4"/>
<circle cx="173.9" cy="642.8" r="2.4"/>
<circle cx="182" cy="692.1" r="2.4"/>
<circle cx="190.2" cy="720.7" r="2.4"/>
<circle cx="178" cy="668.8" r="2.4"/>
<circle cx="175.6" cy="688.8" r="2.4"/>
<circle cx="184.9" cy="652" r="2.4"/>
<circle cx="174.1" cy="716" r="2.4"/>
<circle cx="176.7" cy="659.2" r="2.4"/>
<circle cx="175" cy="734.4" r="2.4"/>
<circle cx="175.9" cy="718.1" r="2.4"/>
<circle cx="182.3" cy="635.7" r="2.4"/>
<circle cx="180.7" cy="700.4" r="2.4"/>
<circle cx="182.3" cy="663.6" r="2.4"/>
<circle cx="175.2" cy="733.4" r="2.4"/>
<circle cx="186" cy="628.4" r="2.4"/>
<circle cx="183.6" cy="726.1" r="2.4"/>
<circle cx="175.1" cy="643.8" r="2.4"/>
<circle cx="181.9" cy="686.8" r="2.4"/>
<circle cx="176.1" cy="634.8" r="2.4"/>
<circle cx="179.9" cy="616.8" r="2.4"/>
<circle cx="183.7" cy="737.5" r="2.4"/>
<circle cx="175" cy="736.5" r="2.4"/>
<circle cx="174.9" cy="688.3" r="2.4"/>
<circle cx="186.8" cy="599.1" r="2.4"/>
<circle cx="201.5" cy="605.1" r="2.4"/>
<circle cx="178.9" cy="688.2" r="2.4"/>
<circle cx="182.4" cy="729.9" r="2.4"/>
<circle cx="195.6" cy="601.2" r="2.4"/>
<circle cx="178.2" cy="737.1" r="2.4"/>
<circle cx="184.5" cy="736.3" r="2.4"/>
<circle cx="173.2" cy="671.3" r="2.4"/>
<circle cx="184.1" cy="729.9" r="2.4"/>
<circle cx="198.3" cy="600.6" r="2.4"/>
<circle cx="182.6" cy="692" r="2.4"/>
<circle cx="183.3" cy="640.9" r="2.4"/>
<circle cx="185.5" cy="648.9" r="2.4"/>
<circle cx="181" cy="737.3" r="2.4"/>
<circle cx="173.2" cy="671.5" r="2.4"/>
<circle cx="175.3" cy="723.1" r="2.4"/>
<circle cx="174.9" cy="688.9" r="2.4"/>
<circle cx="177.5" cy="663.7" r="2.4"/>
<circle cx="176.9" cy="734.4" r="2.4"/>
<circle cx="188.6" cy="611.3" r="2.4"/>
<circle cx="182.8" cy="738.1" r="2.4"/>
<circle cx="177.7" cy="690.7" r="2.4"/>
<circle cx="198.7" cy="601" r="2.4"/>
<circle cx="172.9" cy="633.9" r="2.4"/>
<circle cx="174.5" cy="720.2" r="2.4"/>
<circle cx="173" cy="668.8" r="2.4"/>
<circle cx="174.9" cy="712.5" r="2.4"/>
<circle cx="192.8" cy="615.9" r="2.4"/>
<circle cx="180.4" cy="697.9" r="2.4"/>
<circle cx="175.3" cy="716.8" r="2.4"/>
<circle cx="182.7" cy="651.1" r="2.4"/>
<circle cx="183.6" cy="633.3" r="2.4"/>
<circle cx="181.9" cy="723.8" r="2.4"/>
<circle cx="174.7" cy="637.7" r="2.4"/>
<circle cx="173.7" cy="709.1" r="2.4"/>
<circle cx="185.6" cy="697.6" r="2.4"/>
<circle cx="181" cy="709.2" r="2.4"/>
<circle cx="184.9" cy="721.1" r="2.4"/>
<circle cx="184.7" cy="667.1" r="2.4"/>
<circle cx="176.1" cy="651.3" r="2.4"/>
<circle cx="182.6" cy="731.9" r="2.4"/>
<circle cx="180.7" cy="665.4" r="2.4"/>
<circle cx="179.3" cy="676.4" r="2.4"/>
<circle cx="183.6" cy="661.2" r="2.4"/>
<circle cx="187" cy="713.7" r="2.4"/>
<circle cx="187.3" cy="628.5" r="2.4"/>
<circle cx="173.7" cy="662" r="2.4"/>
<circle cx="175.2" cy="641.1" r="2.4"/>
<circle cx="175.6" cy="642.3" r="2.4"/>
<circle cx="176.2" cy="649.6" r="2.4"/>
<circle cx="175" cy="738.2" r="2.4"/>
<circle cx="174.2" cy="644.6" r="2.4"/>
<circle cx="183.1" cy="624.5" r="2.4"/>
<circle cx="181.2" cy="704.7" r="2.4"/>
<circle cx="184.2" cy="640.4" r="2.4"/>
<circle cx="173.7" cy="735.7" r="2.4"/>
<circle cx="173.4" cy="705.4" r="2.4"/>
<circle cx="177.5" cy="713.5" r="2.4"/>
<circle cx="175.8" cy="682.7" r="2.4"/>
<circle cx="187.4" cy="611.9" r="2.4"/>
<circle cx="181.9" cy="674.4" r="2.4"/>
<circle cx="186.5" cy="733.6" r="2.4"/>
<circle cx="182.6" cy="680.3" r="2.4"/>
<circle cx="185.3" cy="670.8" r="2.4"/>
<circle cx="185.1" cy="661.4" r="2.4"/>
<circle cx="176.7" cy="737.3" r="2.4"/>
<circle cx="178.6" cy="631" r="2.4"/>
<circle cx="191.1" cy="713.2" r="2.4"/>
<circle cx="181.9" cy="733.7" r="2.4"/>
<circle cx="173.8" cy="647.3" r="2.4"/>
<circle cx="183.6" cy="648.9" r="2.4"/>
<circle cx="190.6" cy="729.1" r="2.4"/>
<circle cx="187.5" cy="737.7" r="2.4"/>
<circle cx="184.2" cy="737.9" r="2.4"/>
<circle cx="175" cy="653.9" r="2.4"/>
<circle cx="181.2" cy="659.8" r="2.4"/>
<circle cx="173.3" cy="720.4" r="2.4"/>
<circle cx="178.8" cy="679" r="2.4"/>
<circle cx="183.8" cy="689.1" r="2.4"/>
<circle cx="195.1" cy="614.2" r="2.4"/>
<circle cx="186.2" cy="600.2" r="2.4"/>
<circle cx="181.1" cy="662" r="2.4"/>
<circle cx="178.8" cy="637.8" r="2.4"/>
<circle cx="174.9" cy="689.7" r="2.4"/>
<circle cx="183.7" cy="671" r="2.4"/>
<circle cx="180.8" cy="653" r="2.4"/>
<circle cx="175.9" cy="624.5" r="2.4"/>
<circle cx="173.5" cy="695" r="2.4"/>
<circle cx="177" cy="657.1" r="2.4"/>
<circle cx="175.4" cy="658.1" r="2.4"/>
<circle cx="181.1" cy="659.4" r="2.4"/>
<circle cx="182.1" cy="688.6" r="2.4"/>
<circle cx="180.5" cy="634.8" r="2.4"/>
<circle cx="174.9" cy="708.7" r="2.4"/>
<circle cx="185.8" cy="653" r="2.4"/>
<circle cx="183" cy="631" r="2.4"/>
<circle cx="180.7" cy="634.1" r="2.4"/>
<circle cx="184.3" cy="643.6" r="2.4"/>
<circle cx="188.6" cy="611.1" r="2.4"/>
<circle cx="175.2" cy="646.3" r="2.4"/>
<circle cx="176.2" cy="688.7" r="2.4"/>
<circle cx="183.6" cy="637.5" r="2.4"/>
<circle cx="173.7" cy="637.8" r="2.4"/>
<circle cx="184.2" cy="654.3" r="2.4"/>
<circle cx="177.6" cy="717.6" r="2.4"/>
<circle cx="177.8" cy="738.1" r="2.4"/>
<circle cx="183.9" cy="691.5" r="2.4"/>
<circle cx="174.7" cy="688.2" r="2.4"/>
<circle cx="180.4" cy="721" r="2.4"/>
<circle cx="178.5" cy="639.8" r="2.4"/>
<circle cx="177.5" cy="730.2" r="2.4"/>
<circle cx="181.8" cy="664.7" r="2.4"/>
<circle cx="179.7" cy="685.1" r="2.4"/>
<circle cx="179.7" cy="660.8" r="2.4"/>
<circle cx="188.9" cy="660.9" r="2.4"/>
<circle cx="180" cy="729.8" r="2.4"/>
<circle cx="193.1" cy="610.9" r="2.4"/>
<circle cx="180.8" cy="710" r="2.4"/>
<circle cx="182.1" cy="704" r="2.4"/>
<circle cx="177.3" cy="624.5" r="2.4"/>
<circle cx="178.1" cy="706.5" r="2.4"/>
<circle cx="175.7" cy="667.2" r="2.4"/>
<circle cx="175.9" cy="699.6" r="2.4"/>
<circle cx="176.3" cy="634.1" r="2.4"/>
<circle cx="178.9" cy="685.4" r="2.4"/>
<circle cx="183.4" cy="730.4" r="2.4"/>
<circle cx="180.6" cy="686.1" r="2.4"/>
<circle cx="179.2" cy="731.9" r="2.4"/>
<circle cx="179.1" cy="730.7" r="2.4"/>
<circle cx="183.7" cy="684.9" r="2.4"/>
<circle cx="174.2" cy="681.8" r="2.4"/>
<circle cx="181.1" cy="712.8" r="2.4"/>
<circle cx="178.4" cy="690.5" r="2.4"/>
<circle cx="178.2" cy="644.8" r="2.4"/>
<circle cx="184.2" cy="736" r="2.4"/>
<circle cx="178.4" cy="680.2" r="2.4"/>
<circle cx="175.1" cy="730.6" r="2.4"/>
<circle cx="177.3" cy="629.6" r="2.4"/>
<circle cx="177" cy="673.5" r="2.4"/>
<circle cx="195.9" cy="613.7" r="2.4"/>
<circle cx="179.1" cy="661.5" r="2.4"/>
<circle cx="177.4" cy="641.2" r="2.4"/>
<circle cx="174.7" cy="694.5" r="2.4"/>
<circle cx="188.9" cy="642.1" r="2.4"/>
<circle cx="178.7" cy="696.6" r="2.4"/>
<circle cx="180.2" cy="645.3" r="2.4"/>
<circle cx="178.4" cy="619.5" r="2.4"/>
<circle cx="181" cy="626.9" r="2.4"/>
<circle cx="183.9" cy="631.8" r="2.4"/>
<circle cx="203.8" cy="603" r="2.4"/>
<circle cx="183.5" cy="702.3" r="2.4"/>
<circle cx="173.9" cy="693.3" r="2.4"/>
<circle cx="203.2" cy="600.1" r="2.4"/>
<circle cx="178.4" cy="726.1" r="2.4"/>
<circle cx="177.9" cy="714.3" r="2.4"/>
<circle cx="178.3" cy="697.9" r="2.4"/>
<circle cx="179.3" cy="650.6" r="2.4"/>
<circle cx="177.3" cy="701.6" r="2.4"/>
<circle cx="176.7" cy="625.7" r="2.4"/>
<circle cx="183.9" cy="719.7" r="2.4"/>
<circle cx="179.1" cy="729" r="2.4"/>
<circle cx="176.3" cy="731.1" r="2.4"/>
<circle cx="181.1" cy="625" r="2.4"/>
<circle cx="178.9" cy="676.4" r="2.4"/>
<circle cx="179.4" cy="716.6" r="2.4"/>
<circle cx="184.3" cy="683.1" r="2.4"/>
<circle cx="181.4" cy="617.3" r="2.4"/>
<circle cx="177.8" cy="712.5" r="2.4"/>
<circle cx="175.2" cy="625.2" r="2.4"/>
<circle cx="183.7" cy="704" r="2.4"/>
<circle cx="178.9" cy="640.9" r="2.4"/>
<circle cx="184.5" cy="703.9" r="2.4"/>
<circle cx="184.6" cy="686.3" r="2.4"/>
<circle cx="183.8" cy="632.2" r="2.4"/>
<circle cx="184.6" cy="707.3" r="2.4"/>
<circle cx="174.8" cy="686.5" r="2.4"/>
<circle cx="185.9" cy="684.8" r="2.4"/>
<circle cx="175.2" cy="725.4" r="2.4"/>
<circle cx="174.4" cy="642.2" r="2.4"/>
<circle cx="180.6" cy="676.3" r="2.4"/>
<circle cx="181.5" cy="681.5" r="2.4"/>
<circle cx="179" cy="716.9" r="2.4"/>
<circle cx="184.7" cy="677.8" r="2.4"/>
<circle cx="205" cy="611" r="2.4"/>
<circle cx="190" cy="639.6" r="2.4"/>
<circle cx="176" cy="711.1" r="2.4"/>
<circle cx="175.3" cy="721.7" r="2.4"/>
<circle cx="177.2" cy="724.6" r="2.4"/>
<circle cx="176.9" cy="623.4" r="2.4"/>
<circle cx="175.9" cy="690.9" r="2.4"/>
<circle cx="180.8" cy="724.9" r="2.4"/>
<circle cx="180.8" cy="716.9" r="2.4"/>
<circle cx="177" cy="682.9" r="2.4"/>
<circle cx="185.5" cy="674.8" r="2.4"/>
<circle cx="183.8" cy="632.2" r="2.4"/>
<circle cx="174.5" cy="642.2" r="2.4"/>
<circle cx="174.1" cy="650.7" r="2.4"/>
<circle cx="181.9" cy="660.3" r="2.4"/>
<circle cx="174.2" cy="683" r="2.4"/>
<circle cx="194.7" cy="603.1" r="2.4"/>
<circle cx="181" cy="625.4" r="2.4"/>
<circle cx="180.8" cy="633.6" r="2.4"/>
<circle cx="183" cy="667.6" r="2.4"/>
<circle cx="184.7" cy="662.8" r="2.4"/>
<circle cx="174.8" cy="724.4" r="2.4"/>
<circle cx="181.8" cy="658" r="2.4"/>
<circle cx="181.7" cy="702.8" r="2.4"/>
<circle cx="177" cy="672.3" r="2.4"/>
<circle cx="174.2" cy="647" r="2.4"/>
<circle cx="185" cy="675.8" r="2.4"/>
<circle cx="182.7" cy="689.5" r="2.4"/>
<circle cx="182.2" cy="670.6" r="2.4"/>
<circle cx="183.2" cy="685.7" r="2.4"/>
<circle cx="174.4" cy="633.5" r="2.4"/>
<circle cx="176.5" cy="719.3" r="2.4"/>
<circle cx="177.1" cy="677.5" r="2.4"/>
<circle cx="184.7" cy="629.5" r="2.4"/>
<circle cx="183.4" cy="702.6" r="2.4"/>
<circle cx="184.7" cy="657.8" r="2.4"/>
<circle cx="177.4" cy="654.9" r="2.4"/>
<circle cx="177.7" cy="693.5" r="2.4"/>
<circle cx="199.7" cy="615.9" r="2.4"/>
<circle cx="191" cy="599.3" r="2.4"/>
<circle cx="182.1" cy="636.5" r="2.4"/>
<circle cx="180.5" cy="654.9" r="2.4"/>
<circle cx="173" cy="627.9" r="2.4"/>
<circle cx="184.4" cy="730.7" r="2.4"/>
<circle cx="178" cy="737.9" r="2.4"/>
<circle cx="175.8" cy="650.6" r="2.4"/>
<circle cx="180.1" cy="635.7" r="2.4"/>
<circle cx="182.8" cy="703.6" r="2.4"/>
<circle cx="194.5" cy="529" r="2.4"/>
<circle cx="197.3" cy="529.8" r="2.4"/>
<circle cx="196.9" cy="532.2" r="2.4"/>
<circle cx="196.5" cy="536.6" r="2.4"/>
<circle cx="203" cy="534.6" r="2.4"/>
<circle cx="210.8" cy="533.8" r="2.4"/>
<circle cx="217.4" cy="532.2" r="2.4"/>
<circle cx="217.4" cy="537.5" r="2.4"/>
<circle cx="232.2" cy="534.2" r="2.4"/>
<circle cx="203.3" cy="541.1" r="2.4"/>
<circle cx="206.2" cy="542.7" r="2.4"/>
<circle cx="194.1" cy="544" r="2.4"/>
<circle cx="199" cy="545.1" r="2.4"/>
<circle cx="202.5" cy="548.3" r="2.4"/>
<circle cx="194.1" cy="550.4" r="2.4"/>
<circle cx="196.5" cy="551" r="2.4"/>
<circle cx="210.2" cy="553.6" r="2.4"/>
<circle cx="209.7" cy="557.1" r="2.4"/>
<circle cx="198.1" cy="557.6" r="2.4"/>
<circle cx="203" cy="556.8" r="2.4"/>
<circle cx="192.8" cy="564.3" r="2.4"/>
<circle cx="206.5" cy="563.2" r="2.4"/>
<circle cx="191.2" cy="568.4" r="2.4"/>
<circle cx="199.3" cy="569.2" r="2.4"/>
<circle cx="201.7" cy="568.4" r="2.4"/>
<circle cx="195.6" cy="572.4" r="2.4"/>
<circle cx="204.1" cy="571.9" r="2.4"/>
<circle cx="209.4" cy="570.3" r="2.4"/>
<circle cx="232.2" cy="569.6" r="2.4"/>
<circle cx="230.9" cy="576.1" r="2.4"/>
<circle cx="213.7" cy="577.2" r="2.4"/>
<circle cx="198.1" cy="577.7" r="2.4"/>
<circle cx="206.5" cy="578" r="2.4"/>
<circle cx="207.6" cy="580.4" r="2.4"/>
<circle cx="219.3" cy="581.2" r="2.4"/>
<circle cx="181.6" cy="582.5" r="2.4"/>
<circle cx="193.3" cy="581.5" r="2.4"/>
<circle cx="197.3" cy="581.2" r="2.4"/>
<circle cx="201.4" cy="582" r="2.4"/>
<circle cx="207.3" cy="582.8" r="2.4"/>
<circle cx="190.4" cy="588.1" r="2.4"/>
<circle cx="204.1" cy="588.4" r="2.4"/>
<circle cx="219" cy="588.4" r="2.4"/>
<circle cx="220.1" cy="590.5" r="2.4"/>
<circle cx="199" cy="590.5" r="2.4"/>
<circle cx="227.7" cy="591.6" r="2.4"/>
<circle cx="195.7" cy="594.1" r="2.4"/>
<circle cx="203.3" cy="594.4" r="2.4"/>
<circle cx="183.5" cy="593.7" r="2.4"/>
<circle cx="203.8" cy="597" r="2.4"/>
<circle cx="183.2" cy="598.1" r="2.4"/>
<circle cx="192.8" cy="599.2" r="2.4"/>
<circle cx="212.9" cy="598.5" r="2.4"/>
<circle cx="218.5" cy="598.9" r="2.4"/>
<circle cx="228.2" cy="599.2" r="2.4"/>
<circle cx="224.6" cy="604.6" r="2.4"/>
<circle cx="204.1" cy="605" r="2.4"/>
<circle cx="205.7" cy="607" r="2.4"/>
<circle cx="200.9" cy="615.1" r="2.4"/>
<circle cx="183.2" cy="613.5" r="2.4"/>
<circle cx="194.5" cy="621.5" r="2.4"/>
<circle cx="199.8" cy="621.5" r="2.4"/>
<circle cx="199.3" cy="624.2" r="2.4"/>
<circle cx="204.4" cy="626.3" r="2.4"/>
<circle cx="217.4" cy="626.3" r="2.4"/>
<circle cx="199.8" cy="632.7" r="2.4"/>
<circle cx="196" cy="634.3" r="2.4"/>
<circle cx="217.3" cy="643.7" r="2.4"/>
<circle cx="195.3" cy="647.2" r="2.4"/>
<circle cx="203.3" cy="653.1" r="2.4"/>
<circle cx="212.6" cy="653.9" r="2.4"/>
<circle cx="218.5" cy="652.3" r="2.4"/>
<circle cx="196.5" cy="659.2" r="2.4"/>
<circle cx="201.7" cy="661.6" r="2.4"/>
<circle cx="220.5" cy="661.2" r="2.4"/>
<circle cx="198.9" cy="666" r="2.4"/>
<circle cx="175.8" cy="612.4" r="2.4"/>
<circle cx="186.3" cy="620.3" r="2.4"/>
<circle cx="184.5" cy="622.9" r="2.4"/>
<circle cx="174" cy="625.5" r="2.4"/>
<circle cx="178.8" cy="625.5" r="2.4"/>
<circle cx="181.9" cy="627.3" r="2.4"/>
<circle cx="190.7" cy="626.4" r="2.4"/>
<circle cx="195.7" cy="670.1" r="2.4"/>
<circle cx="198.1" cy="678.7" r="2.4"/>
<circle cx="193.7" cy="681.9" r="2.4"/>
<circle cx="192.5" cy="687.5" r="2.4"/>
<circle cx="186.9" cy="684.3" r="2.4"/>
<circle cx="200.9" cy="690.4" r="2.4"/>
<circle cx="207" cy="689.1" r="2.4"/>
<circle cx="202.2" cy="693.9" r="2.4"/>
<circle cx="195.3" cy="696.3" r="2.4"/>
<circle cx="188" cy="699.5" r="2.4"/>
<circle cx="196.1" cy="706" r="2.4"/>
<circle cx="199" cy="704.3" r="2.4"/>
<circle cx="202.5" cy="703.9" r="2.4"/>
<circle cx="220.5" cy="705.5" r="2.4"/>
<circle cx="204.4" cy="710.8" r="2.4"/>
<circle cx="211.3" cy="712.9" r="2.4"/>
<circle cx="204.9" cy="716.4" r="2.4"/>
<circle cx="208.9" cy="715.6" r="2.4"/>
<circle cx="216.1" cy="715.6" r="2.4"/>
<circle cx="214.5" cy="717.2" r="2.4"/>
<circle cx="193.7" cy="717.2" r="2.4"/>
<circle cx="195.3" cy="714.8" r="2.4"/>
<circle cx="224.6" cy="718.5" r="2.4"/>
<circle cx="228.2" cy="720.1" r="2.4"/>
<circle cx="235.4" cy="720.4" r="2.4"/>
<circle cx="196.9" cy="724.7" r="2.4"/>
<circle cx="199.3" cy="724.4" r="2.4"/>
<circle cx="195.3" cy="730" r="2.4"/>
<circle cx="215" cy="732.1" r="2.4"/>
<circle cx="206" cy="735.3" r="2.4"/>
<circle cx="201.7" cy="738.6" r="2.4"/>
<circle cx="253.1" cy="737.6" r="2.4"/>
<circle cx="276" cy="738.9" r="2.4"/>
<circle cx="224.4" cy="599.5" r="2.4"/>
</g>
<g fill="#b2b2b2" fill-opacity="0.72" stroke="#b2b2b2" stroke-opacity="0.72" stroke-width="0.5">
<circle cx="159.5" cy="724" r="2.4"/>
<circle cx="161" cy="736.8" r="2.4"/>
<circle cx="168.6" cy="739.8" r="2.4"/>
<circle cx="157.5" cy="656.4" r="2.4"/>
<circle cx="170.6" cy="727.2" r="2.4"/>
<circle cx="158.7" cy="732.9" r="2.4"/>
<circle cx="169.8" cy="742" r="2.4"/>
<circle cx="170.8" cy="727.5" r="2.4"/>
<circle cx="161.5" cy="721.6" r="2.4"/>
<circle cx="170.1" cy="676.2" r="2.4"/>
<circle cx="161.7" cy="741.4" r="2.4"/>
<circle cx="166.5" cy="713.4" r="2.4"/>
<circle cx="169.6" cy="743" r="2.4"/>
<circle cx="159" cy="668.1" r="2.4"/>
<circle cx="154.2" cy="742.2" r="2.4"/>
<circle cx="157.7" cy="718.2" r="2.4"/>
<circle cx="175.2" cy="740.4" r="2.4"/>
<circle cx="159.7" cy="684.5" r="2.4"/>
<circle cx="160.1" cy="734.7" r="2.4"/>
<circle cx="156.8" cy="714.5" r="2.4"/>
<circle cx="160.2" cy="739.6" r="2.4"/>
<circle cx="156.4" cy="739.4" r="2.4"/>
<circle cx="157.4" cy="659.1" r="2.4"/>
<circle cx="157" cy="678.6" r="2.4"/>
<circle cx="165.8" cy="741.9" r="2.4"/>
<circle cx="157.3" cy="703.8" r="2.4"/>
<circle cx="162.7" cy="742.8" r="2.4"/>
<circle cx="158.1" cy="670.5" r="2.4"/>
<circle cx="170.9" cy="671.3" r="2.4"/>
<circle cx="159.1" cy="678.3" r="2.4"/>
<circle cx="161.2" cy="724.1" r="2.4"/>
<circle cx="158.4" cy="670.1" r="2.4"/>
<circle cx="170.3" cy="672.5" r="2.4"/>
<circle cx="162" cy="739.6" r="2.4"/>
<circle cx="170.1" cy="699.4" r="2.4"/>
<circle cx="168.2" cy="689" r="2.4"/>
<circle cx="169.8" cy="639.9" r="2.4"/>
<circle cx="169.6" cy="670.4" r="2.4"/>
<circle cx="157.3" cy="732.2" r="2.4"/>
<circle cx="167.2" cy="702.6" r="2.4"/>
<circle cx="153" cy="741" r="2.4"/>
<circle cx="170.3" cy="702.9" r="2.4"/>
<circle cx="157.2" cy="726.5" r="2.4"/>
<circle cx="156.8" cy="672.5" r="2.4"/>
<circle cx="169.8" cy="681.6" r="2.4"/>
<circle cx="168.7" cy="711.9" r="2.4"/>
<circle cx="159.9" cy="686.2" r="2.4"/>
<circle cx="169.4" cy="684.4" r="2.4"/>
<circle cx="166.6" cy="706.7" r="2.4"/>
<circle cx="157.9" cy="691.8" r="2.4"/>
<circle cx="180" cy="740.5" r="2.4"/>
<circle cx="162.1" cy="734.1" r="2.4"/>
<circle cx="169.7" cy="643.2" r="2.4"/>
<circle cx="169.7" cy="638.9" r="2.4"/>
<circle cx="174.6" cy="742.3" r="2.4"/>
<circle cx="166.5" cy="707.6" r="2.4"/>
<circle cx="161.5" cy="723.6" r="2.4"/>
<circle cx="166.3" cy="711.4" r="2.4"/>
<circle cx="170.6" cy="649.1" r="2.4"/>
<circle cx="170.7" cy="666.4" r="2.4"/>
<circle cx="157.5" cy="687.5" r="2.4"/>
<circle cx="159.6" cy="710" r="2.4"/>
<circle cx="168.3" cy="688" r="2.4"/>
<circle cx="159.8" cy="739.5" r="2.4"/>
<circle cx="155" cy="743.3" r="2.4"/>
<circle cx="160.2" cy="714.2" r="2.4"/>
<circle cx="159.1" cy="690.9" r="2.4"/>
<circle cx="166.7" cy="705.9" r="2.4"/>
<circle cx="156.5" cy="705" r="2.4"/>
<circle cx="170.8" cy="712.9" r="2.4"/>
<circle cx="157.3" cy="676.5" r="2.4"/>
<circle cx="159.7" cy="698.5" r="2.4"/>
<circle cx="167.9" cy="696.3" r="2.4"/>
<circle cx="170.4" cy="677.7" r="2.4"/>
<circle cx="170.2" cy="664" r="2.4"/>
<circle cx="159.1" cy="685.2" r="2.4"/>
<circle cx="160.6" cy="718" r="2.4"/>
<circle cx="160.1" cy="695.2" r="2.4"/>
<circle cx="159.2" cy="684.2" r="2.4"/>
<circle cx="176.1" cy="739.8" r="2.4"/>
<circle cx="159" cy="682.3" r="2.4"/>
<circle cx="157.7" cy="713.2" r="2.4"/>
<circle cx="161.2" cy="734.4" r="2.4"/>
<circle cx="148.1" cy="743.7" r="2.4"/>
<circle cx="161.4" cy="729.1" r="2.4"/>
<circle cx="168.1" cy="691.9" r="2.4"/>
<circle cx="169.9" cy="644.2" r="2.4"/>
<circle cx="170.8" cy="676.5" r="2.4"/>
<circle cx="159.7" cy="686.3" r="2.4"/>
<circle cx="182.4" cy="740.2" r="2.4"/>
<circle cx="162.8" cy="741.5" r="2.4"/>
<circle cx="161.9" cy="713.9" r="2.4"/>
<circle cx="170.5" cy="719.8" r="2.4"/>
<circle cx="170.9" cy="681.9" r="2.4"/>
<circle cx="169.7" cy="733.6" r="2.4"/>
<circle cx="170.5" cy="677.3" r="2.4"/>
<circle cx="159" cy="683.3" r="2.4"/>
<circle cx="169.7" cy="710.2" r="2.4"/>
<circle cx="156.7" cy="683.1" r="2.4"/>
<circle cx="158.2" cy="654.5" r="2.4"/>
<circle cx="157.4" cy="667.1" r="2.4"/>
<circle cx="170.4" cy="674.9" r="2.4"/>
<circle cx="159.4" cy="692.5" r="2.4"/>
<circle cx="169.6" cy="645.2" r="2.4"/>
<circle cx="170.8" cy="667.9" r="2.4"/>
<circle cx="158.6" cy="702.9" r="2.4"/>
<circle cx="157.5" cy="665" r="2.4"/>
<circle cx="170.7" cy="686.3" r="2.4"/>
<circle cx="158.9" cy="735.9" r="2.4"/>
<circle cx="158.6" cy="710.7" r="2.4"/>
<circle cx="157" cy="696.1" r="2.4"/>
<circle cx="163.7" cy="739.6" r="2.4"/>
<circle cx="155.1" cy="739" r="2.4"/>
<circle cx="158.3" cy="708.8" r="2.4"/>
<circle cx="169.2" cy="741.2" r="2.4"/>
<circle cx="180.1" cy="740.5" r="2.4"/>
<circle cx="170.3" cy="688.9" r="2.4"/>
<circle cx="157.8" cy="724.9" r="2.4"/>
<circle cx="153.9" cy="742.6" r="2.4"/>
<circle cx="167.2" cy="708.6" r="2.4"/>
<circle cx="170.7" cy="672.8" r="2.4"/>
<circle cx="158" cy="659.2" r="2.4"/>
<circle cx="171.4" cy="710.3" r="2.4"/>
<circle cx="189.8" cy="740" r="2.4"/>
<circle cx="156.9" cy="665.1" r="2.4"/>
<circle cx="171.2" cy="736.1" r="2.4"/>
<circle cx="169.2" cy="660.7" r="2.4"/>
<circle cx="159.1" cy="665.1" r="2.4"/>
<circle cx="159" cy="705.2" r="2.4"/>
<circle cx="160.5" cy="693.1" r="2.4"/>
<circle cx="174.6" cy="741" r="2.4"/>
<circle cx="170.6" cy="651" r="2.4"/>
<circle cx="158.2" cy="654.4" r="2.4"/>
<circle cx="168.3" cy="708.5" r="2.4"/>
<circle cx="170.6" cy="660.4" r="2.4"/>
<circle cx="170.4" cy="712.6" r="2.4"/>
<circle cx="156.4" cy="743.2" r="2.4"/>
<circle cx="160.6" cy="739.3" r="2.4"/>
<circle cx="159.8" cy="735.4" r="2.4"/>
<circle cx="167.2" cy="717.6" r="2.4"/>
<circle cx="159.3" cy="681.7" r="2.4"/>
<circle cx="167.7" cy="738.3" r="2.4"/>
<circle cx="168.7" cy="692.4" r="2.4"/>
<circle cx="158.6" cy="668.3" r="2.4"/>
<circle cx="164.7" cy="742.8" r="2.4"/>
<circle cx="170.1" cy="648" r="2.4"/>
<circle cx="169.3" cy="684.4" r="2.4"/>
<circle cx="167.9" cy="739.5" r="2.4"/>
<circle cx="185.1" cy="741" r="2.4"/>
<circle cx="177.9" cy="740.1" r="2.4"/>
<circle cx="161.1" cy="706.3" r="2.4"/>
<circle cx="162" cy="716.4" r="2.4"/>
<circle cx="170.7" cy="684.7" r="2.4"/>
<circle cx="167.1" cy="718.5" r="2.4"/>
<circle cx="149.5" cy="741.1" r="2.4"/>
<circle cx="168.9" cy="691.9" r="2.4"/>
<circle cx="170.3" cy="640.1" r="2.4"/>
<circle cx="160.4" cy="725.7" r="2.4"/>
<circle cx="157.4" cy="706.5" r="2.4"/>
<circle cx="176.5" cy="741.3" r="2.4"/>
<circle cx="168.7" cy="708.5" r="2.4"/>
<circle cx="145.8" cy="743.6" r="2.4"/>
<circle cx="169.6" cy="655" r="2.4"/>
<circle cx="188.5" cy="740.9" r="2.4"/>
<circle cx="159.3" cy="733.6" r="2.4"/>
<circle cx="157" cy="660.3" r="2.4"/>
<circle cx="157.1" cy="705" r="2.4"/>
<circle cx="168.6" cy="694.1" r="2.4"/>
<circle cx="158.7" cy="695.9" r="2.4"/>
<circle cx="158.5" cy="727" r="2.4"/>
<circle cx="167.1" cy="724.6" r="2.4"/>
<circle cx="156.8" cy="736.3" r="2.4"/>
<circle cx="169" cy="672.1" r="2.4"/>
<circle cx="159.9" cy="743" r="2.4"/>
<circle cx="159.2" cy="666.7" r="2.4"/>
<circle cx="160.7" cy="729.6" r="2.4"/>
<circle cx="156.9" cy="688.3" r="2.4"/>
<circle cx="173.2" cy="739.6" r="2.4"/>
<circle cx="158" cy="724" r="2.4"/>
<circle cx="158.2" cy="709" r="2.4"/>
<circle cx="158.9" cy="700.1" r="2.4"/>
<circle cx="169.9" cy="640.6" r="2.4"/>
<circle cx="158.8" cy="692" r="2.4"/>
<circle cx="161" cy="699.5" r="2.4"/>
<circle cx="169.9" cy="641.2" r="2.4"/>
<circle cx="160.7" cy="717.8" r="2.4"/>
<circle cx="169.8" cy="716.1" r="2.4"/>
<circle cx="157.8" cy="686.3" r="2.4"/>
<circle cx="169.1" cy="682.8" r="2.4"/>
<circle cx="169.7" cy="677.1" r="2.4"/>
<circle cx="157.7" cy="742.7" r="2.4"/>
<circle cx="157.4" cy="700" r="2.4"/>
<circle cx="161.6" cy="739.9" r="2.4"/>
<circle cx="158.9" cy="691.7" r="2.4"/>
<circle cx="157.6" cy="720" r="2.4"/>
<circle cx="167.6" cy="732.4" r="2.4"/>
<circle cx="157.3" cy="668.4" r="2.4"/>
<circle cx="169.1" cy="691.2" r="2.4"/>
<circle cx="170.2" cy="654.9" r="2.4"/>
<circle cx="157.8" cy="668.3" r="2.4"/>
<circle cx="157.3" cy="706.7" r="2.4"/>
<circle cx="168.8" cy="676.2" r="2.4"/>
<circle cx="157.8" cy="657" r="2.4"/>
<circle cx="183.9" cy="739.4" r="2.4"/>
<circle cx="149.2" cy="740.4" r="2.4"/>
<circle cx="179.5" cy="741.8" r="2.4"/>
<circle cx="170.3" cy="680.4" r="2.4"/>
<circle cx="168.7" cy="683.3" r="2.4"/>
<circle cx="170" cy="666.7" r="2.4"/>
<circle cx="157.9" cy="687" r="2.4"/>
<circle cx="156.7" cy="714.6" r="2.4"/>
<circle cx="170" cy="667.5" r="2.4"/>
<circle cx="169.9" cy="647.1" r="2.4"/>
<circle cx="169.8" cy="742.1" r="2.4"/>
<circle cx="153.9" cy="743.8" r="2.4"/>
<circle cx="156.9" cy="695.7" r="2.4"/>
<circle cx="157.5" cy="672" r="2.4"/>
<circle cx="160.5" cy="704.7" r="2.4"/>
<circle cx="157.4" cy="675.1" r="2.4"/>
<circle cx="165.9" cy="713" r="2.4"/>
<circle cx="169.6" cy="706.9" r="2.4"/>
<circle cx="168.7" cy="677.9" r="2.4"/>
<circle cx="160.4" cy="724.9" r="2.4"/>
<circle cx="174.1" cy="743.2" r="2.4"/>
<circle cx="170.9" cy="669.9" r="2.4"/>
<circle cx="169.8" cy="673.9" r="2.4"/>
<circle cx="157.2" cy="666.7" r="2.4"/>
<circle cx="170.3" cy="656.6" r="2.4"/>
<circle cx="170.3" cy="676.6" r="2.4"/>
<circle cx="167" cy="733.5" r="2.4"/>
<circle cx="162.3" cy="739.4" r="2.4"/>
<circle cx="158" cy="662.7" r="2.4"/>
<circle cx="160.2" cy="719" r="2.4"/>
<circle cx="169.5" cy="673.5" r="2.4"/>
<circle cx="170.2" cy="697.7" r="2.4"/>
<circle cx="160" cy="691.1" r="2.4"/>
<circle cx="157.3" cy="728.7" r="2.4"/>
<circle cx="169.7" cy="640.1" r="2.4"/>
<circle cx="169.1" cy="672.2" r="2.4"/>
<circle cx="157.3" cy="655.9" r="2.4"/>
<circle cx="161" cy="710.2" r="2.4"/>
<circle cx="182.4" cy="741.4" r="2.4"/>
<circle cx="169.5" cy="675.9" r="2.4"/>
<circle cx="167.1" cy="722.6" r="2.4"/>
<circle cx="169.8" cy="668.8" r="2.4"/>
<circle cx="157.1" cy="670" r="2.4"/>
<circle cx="168.9" cy="682.7" r="2.4"/>
<circle cx="167" cy="715.1" r="2.4"/>
<circle cx="149.1" cy="743.6" r="2.4"/>
<circle cx="169.7" cy="651.3" r="2.4"/>
<circle cx="153.5" cy="741.4" r="2.4"/>
<circle cx="157.6" cy="673.1" r="2.4"/>
<circle cx="180.4" cy="741.3" r="2.4"/>
<circle cx="162.1" cy="735" r="2.4"/>
<circle cx="158.8" cy="740" r="2.4"/>
<circle cx="159.1" cy="683.9" r="2.4"/>
<circle cx="161.4" cy="720.6" r="2.4"/>
<circle cx="170.1" cy="648.2" r="2.4"/>
<circle cx="170.5" cy="665.7" r="2.4"/>
<circle cx="158" cy="692.6" r="2.4"/>
<circle cx="169.5" cy="728.6" r="2.4"/>
<circle cx="158.5" cy="741.3" r="2.4"/>
<circle cx="170.1" cy="645.9" r="2.4"/>
<circle cx="159.1" cy="731.5" r="2.4"/>
<circle cx="167.3" cy="711" r="2.4"/>
<circle cx="160.6" cy="742.7" r="2.4"/>
<circle cx="170.7" cy="675.5" r="2.4"/>
<circle cx="157.3" cy="692.6" r="2.4"/>
<circle cx="169.4" cy="679" r="2.4"/>
<circle cx="157.9" cy="723.9" r="2.4"/>
<circle cx="167.4" cy="742.6" r="2.4"/>
<circle cx="167.6" cy="700" r="2.4"/>
<circle cx="170.8" cy="667.6" r="2.4"/>
<circle cx="168.9" cy="709.4" r="2.4"/>
<circle cx="154" cy="739.2" r="2.4"/>
<circle cx="157.9" cy="689.9" r="2.4"/>
<circle cx="167.7" cy="743.2" r="2.4"/>
<circle cx="169.5" cy="725.9" r="2.4"/>
<circle cx="168.6" cy="739" r="2.4"/>
<circle cx="167.6" cy="696" r="2.4"/>
<circle cx="171.3" cy="725.3" r="2.4"/>
<circle cx="168.1" cy="684.3" r="2.4"/>
<circle cx="161.1" cy="729.8" r="2.4"/>
<circle cx="168.6" cy="683.5" r="2.4"/>
<circle cx="170.6" cy="657.2" r="2.4"/>
<circle cx="160.2" cy="694.6" r="2.4"/>
<circle cx="157.5" cy="716.8" r="2.4"/>
<circle cx="169" cy="728.9" r="2.4"/>
<circle cx="169.9" cy="689" r="2.4"/>
<circle cx="168.5" cy="740.5" r="2.4"/>
<circle cx="170.1" cy="659" r="2.4"/>
<circle cx="156.9" cy="692.2" r="2.4"/>
<circle cx="170.8" cy="742.2" r="2.4"/>
<circle cx="182.9" cy="741.3" r="2.4"/>
<circle cx="157" cy="661.7" r="2.4"/>
<circle cx="158.3" cy="695.1" r="2.4"/>
<circle cx="158.4" cy="677.3" r="2.4"/>
<circle cx="159.3" cy="683.6" r="2.4"/>
<circle cx="177.1" cy="742.6" r="2.4"/>
<circle cx="147.9" cy="742.2" r="2.4"/>
<circle cx="168.5" cy="687.9" r="2.4"/>
<circle cx="169.4" cy="727.1" r="2.4"/>
<circle cx="164.6" cy="740.1" r="2.4"/>
<circle cx="167.4" cy="714.6" r="2.4"/>
<circle cx="161.5" cy="707.7" r="2.4"/>
<circle cx="159.7" cy="742" r="2.4"/>
<circle cx="160.6" cy="742.2" r="2.4"/>
<circle cx="158.6" cy="695.3" r="2.4"/>
<circle cx="158.8" cy="688.5" r="2.4"/>
<circle cx="159.8" cy="687" r="2.4"/>
<circle cx="187.9" cy="739.9" r="2.4"/>
<circle cx="158.3" cy="672" r="2.4"/>
<circle cx="171.2" cy="698.9" r="2.4"/>
<circle cx="161.1" cy="740" r="2.4"/>
<circle cx="162.7" cy="740.6" r="2.4"/>
<circle cx="169.1" cy="702.7" r="2.4"/>
<circle cx="170.5" cy="662.9" r="2.4"/>
<circle cx="169.8" cy="742.7" r="2.4"/>
<circle cx="166.5" cy="702.4" r="2.4"/>
<circle cx="157.1" cy="723.2" r="2.4"/>
<circle cx="169.3" cy="685.1" r="2.4"/>
<circle cx="162.4" cy="740.7" r="2.4"/>
<circle cx="158.1" cy="712.2" r="2.4"/>
<circle cx="168.7" cy="695.8" r="2.4"/>
<circle cx="167.7" cy="700.7" r="2.4"/>
<circle cx="167.4" cy="723" r="2.4"/>
<circle cx="170.5" cy="666.6" r="2.4"/>
<circle cx="158.1" cy="702.7" r="2.4"/>
<circle cx="160.8" cy="718.2" r="2.4"/>
<circle cx="167.9" cy="741.5" r="2.4"/>
<circle cx="157.2" cy="719.9" r="2.4"/>
<circle cx="157.8" cy="697.5" r="2.4"/>
<circle cx="167.8" cy="702.3" r="2.4"/>
<circle cx="160" cy="686.1" r="2.4"/>
<circle cx="167" cy="707.9" r="2.4"/>
<circle cx="189" cy="739.1" r="2.4"/>
<circle cx="158.9" cy="706.2" r="2.4"/>
<circle cx="170.7" cy="684.5" r="2.4"/>
<circle cx="158.6" cy="703.3" r="2.4"/>
<circle cx="168.8" cy="710.4" r="2.4"/>
<circle cx="153.2" cy="741.9" r="2.4"/>
<circle cx="169.6" cy="645.4" r="2.4"/>
<circle cx="173.6" cy="741.4" r="2.4"/>
<circle cx="167.6" cy="727.6" r="2.4"/>
<circle cx="168.9" cy="701.4" r="2.4"/>
<circle cx="168" cy="741.2" r="2.4"/>
<circle cx="159.1" cy="688.1" r="2.4"/>
<circle cx="170.8" cy="676" r="2.4"/>
<circle cx="173.2" cy="742.2" r="2.4"/>
<circle cx="171.2" cy="708.5" r="2.4"/>
<circle cx="162.5" cy="739.7" r="2.4"/>
<circle cx="170.3" cy="721.7" r="2.4"/>
<circle cx="186.3" cy="741.4" r="2.4"/>
<circle cx="158" cy="718.6" r="2.4"/>
<circle cx="166.9" cy="697.9" r="2.4"/>
<circle cx="160.5" cy="703.3" r="2.4"/>
<circle cx="169.5" cy="657.7" r="2.4"/>
<circle cx="170.3" cy="650.5" r="2.4"/>
<circle cx="167.4" cy="739.8" r="2.4"/>
<circle cx="170.2" cy="733.5" r="2.4"/>
<circle cx="157" cy="657.4" r="2.4"/>
<circle cx="163.5" cy="743.7" r="2.4"/>
<circle cx="161.6" cy="738" r="2.4"/>
<circle cx="160.1" cy="717" r="2.4"/>
<circle cx="169.9" cy="660.7" r="2.4"/>
<circle cx="159.3" cy="736.8" r="2.4"/>
<circle cx="158.9" cy="662.8" r="2.4"/>
<circle cx="169.5" cy="742.2" r="2.4"/>
<circle cx="158.6" cy="724.2" r="2.4"/>
<circle cx="170.5" cy="676.1" r="2.4"/>
<circle cx="160.3" cy="736.7" r="2.4"/>
<circle cx="169.6" cy="648.3" r="2.4"/>
<circle cx="157.8" cy="720.3" r="2.4"/>
<circle cx="159.8" cy="686.3" r="2.4"/>
<circle cx="157.1" cy="668.9" r="2.4"/>
<circle cx="156.7" cy="733.5" r="2.4"/>
<circle cx="170.3" cy="647.8" r="2.4"/>
<circle cx="158" cy="670.3" r="2.4"/>
<circle cx="158.8" cy="696.7" r="2.4"/>
<circle cx="160.2" cy="706.5" r="2.4"/>
<circle cx="157.9" cy="684" r="2.4"/>
<circle cx="160.8" cy="734.1" r="2.4"/>
<circle cx="167.7" cy="738.5" r="2.4"/>
<circle cx="169.7" cy="704.9" r="2.4"/>
<circle cx="161.6" cy="743.4" r="2.4"/>
<circle cx="169.9" cy="677.6" r="2.4"/>
<circle cx="169.8" cy="641.5" r="2.4"/>
<circle cx="169.7" cy="719" r="2.4"/>
<circle cx="170.1" cy="655.2" r="2.4"/>
<circle cx="170.5" cy="708.5" r="2.4"/>
<circle cx="159.5" cy="710.1" r="2.4"/>
<circle cx="170.7" cy="650.6" r="2.4"/>
<circle cx="158.7" cy="661.7" r="2.4"/>
<circle cx="169.1" cy="673.7" r="2.4"/>
<circle cx="160.9" cy="726" r="2.4"/>
<circle cx="157" cy="736.1" r="2.4"/>
<circle cx="171.2" cy="688.6" r="2.4"/>
<circle cx="161.1" cy="740.4" r="2.4"/>
<circle cx="170.1" cy="644.6" r="2.4"/>
<circle cx="169.4" cy="691.9" r="2.4"/>
<circle cx="162.4" cy="737.9" r="2.4"/>
<circle cx="170.2" cy="640.6" r="2.4"/>
<circle cx="160.8" cy="698.7" r="2.4"/>
<circle cx="161.8" cy="717.2" r="2.4"/>
<circle cx="167.9" cy="719.3" r="2.4"/>
<circle cx="165.7" cy="732.8" r="2.4"/>
<circle cx="169.4" cy="657.4" r="2.4"/>
<circle cx="169.4" cy="664" r="2.4"/>
<circle cx="157.6" cy="724.8" r="2.4"/>
<circle cx="168.9" cy="737.5" r="2.4"/>
<circle cx="156.9" cy="676.2" r="2.4"/>
<circle cx="158.9" cy="702.8" r="2.4"/>
<circle cx="168.7" cy="709.1" r="2.4"/>
<circle cx="169.1" cy="673.5" r="2.4"/>
<circle cx="159.6" cy="742" r="2.4"/>
<circle cx="158.4" cy="685.1" r="2.4"/>
<circle cx="158.2" cy="670.6" r="2.4"/>
<circle cx="168.8" cy="680.5" r="2.4"/>
<circle cx="169.3" cy="728.9" r="2.4"/>
<circle cx="178.5" cy="743.4" r="2.4"/>
<circle cx="168.7" cy="720.1" r="2.4"/>
<circle cx="157" cy="737.1" r="2.4"/>
<circle cx="168.9" cy="704.8" r="2.4"/>
<circle cx="162.3" cy="732.6" r="2.4"/>
<circle cx="159" cy="676.2" r="2.4"/>
<circle cx="161.7" cy="742.9" r="2.4"/>
<circle cx="169.5" cy="738.9" r="2.4"/>
<circle cx="158.5" cy="659.3" r="2.4"/>
<circle cx="159.7" cy="684.3" r="2.4"/>
<circle cx="160.9" cy="697.3" r="2.4"/>
<circle cx="169.4" cy="665.2" r="2.4"/>
<circle cx="170" cy="643.6" r="2.4"/>
<circle cx="157" cy="670.2" r="2.4"/>
<circle cx="168.8" cy="683.1" r="2.4"/>
<circle cx="170.8" cy="664.5" r="2.4"/>
<circle cx="169.3" cy="699.7" r="2.4"/>
<circle cx="171.4" cy="738.1" r="2.4"/>
<circle cx="159.1" cy="738" r="2.4"/>
<circle cx="170.2" cy="643.2" r="2.4"/>
<circle cx="170.2" cy="678.3" r="2.4"/>
<circle cx="166.4" cy="722.2" r="2.4"/>
<circle cx="162.1" cy="710.8" r="2.4"/>
<circle cx="169.8" cy="676.5" r="2.4"/>
<circle cx="185.7" cy="743.4" r="2.4"/>
<circle cx="149.5" cy="743.2" r="2.4"/>
<circle cx="158.2" cy="682.1" r="2.4"/>
<circle cx="180.6" cy="740.5" r="2.4"/>
<circle cx="183.8" cy="739.7" r="2.4"/>
<circle cx="170.6" cy="663.6" r="2.4"/>
<circle cx="159.1" cy="730.1" r="2.4"/>
<circle cx="159.8" cy="686.2" r="2.4"/>
<circle cx="145.1" cy="743" r="2.4"/>
<circle cx="169.8" cy="655.2" r="2.4"/>
<circle cx="177.5" cy="739.6" r="2.4"/>
<circle cx="157.9" cy="702" r="2.4"/>
<circle cx="157.8" cy="735.2" r="2.4"/>
<circle cx="155.1" cy="740.1" r="2.4"/>
<circle cx="168.7" cy="725" r="2.4"/>
<circle cx="189.5" cy="741.2" r="2.4"/>
<circle cx="157.1" cy="670.5" r="2.4"/>
<circle cx="160.9" cy="731.7" r="2.4"/>
<circle cx="161.9" cy="719.4" r="2.4"/>
<circle cx="158.1" cy="692.7" r="2.4"/>
<circle cx="157.3" cy="720.7" r="2.4"/>
<circle cx="154.8" cy="741.2" r="2.4"/>
<circle cx="162" cy="741.9" r="2.4"/>
<circle cx="169.6" cy="707.7" r="2.4"/>
<circle cx="169.1" cy="735" r="2.4"/>
<circle cx="157.7" cy="666.9" r="2.4"/>
<circle cx="166.8" cy="728.6" r="2.4"/>
<circle cx="161.5" cy="705" r="2.4"/>
<circle cx="167" cy="740.3" r="2.4"/>
<circle cx="157.4" cy="696" r="2.4"/>
<circle cx="157.4" cy="677.1" r="2.4"/>
<circle cx="170.3" cy="673.3" r="2.4"/>
<circle cx="168.7" cy="691.7" r="2.4"/>
<circle cx="157.8" cy="725.4" r="2.4"/>
<circle cx="156" cy="741.8" r="2.4"/>
<circle cx="170.4" cy="739.8" r="2.4"/>
<circle cx="169.2" cy="668.2" r="2.4"/>
<circle cx="170.5" cy="662.8" r="2.4"/>
<circle cx="171.1" cy="692" r="2.4"/>
<circle cx="170.7" cy="677.4" r="2.4"/>
<circle cx="160" cy="703.3" r="2.4"/>
<circle cx="158.6" cy="658.3" r="2.4"/>
<circle cx="170.6" cy="654.7" r="2.4"/>
<circle cx="160.6" cy="700.6" r="2.4"/>
<circle cx="168.9" cy="714.4" r="2.4"/>
<circle cx="160.1" cy="689.7" r="2.4"/>
<circle cx="170.2" cy="662.3" r="2.4"/>
<circle cx="170.1" cy="648.9" r="2.4"/>
<circle cx="176.4" cy="742.9" r="2.4"/>
<circle cx="170.3" cy="736.1" r="2.4"/>
<circle cx="158.7" cy="685.5" r="2.4"/>
<circle cx="169.3" cy="739.8" r="2.4"/>
<circle cx="169.3" cy="698.5" r="2.4"/>
<circle cx="164.7" cy="742.4" r="2.4"/>
<circle cx="159" cy="667.6" r="2.4"/>
<circle cx="160.2" cy="690.4" r="2.4"/>
<circle cx="183.8" cy="742.9" r="2.4"/>
<circle cx="150.2" cy="742.7" r="2.4"/>
<circle cx="169.6" cy="685.8" r="2.4"/>
<circle cx="146.7" cy="742.8" r="2.4"/>
<circle cx="170.5" cy="700.1" r="2.4"/>
<circle cx="180.8" cy="740.4" r="2.4"/>
<circle cx="157.5" cy="654.5" r="2.4"/>
<circle cx="160.5" cy="717.4" r="2.4"/>
<circle cx="169.8" cy="652.6" r="2.4"/>
<circle cx="168" cy="691.5" r="2.4"/>
<circle cx="171.2" cy="684.5" r="2.4"/>
<circle cx="166.5" cy="741.1" r="2.4"/>
<circle cx="177.7" cy="740.1" r="2.4"/>
<circle cx="174.7" cy="741.8" r="2.4"/>
<circle cx="186.7" cy="743.1" r="2.4"/>
<circle cx="157.3" cy="661.6" r="2.4"/>
<circle cx="160.6" cy="738.4" r="2.4"/>
<circle cx="169.2" cy="740.1" r="2.4"/>
<circle cx="167.8" cy="742.9" r="2.4"/>
<circle cx="170.9" cy="742" r="2.4"/>
<circle cx="175.5" cy="743.1" r="2.4"/>
<circle cx="162" cy="725.4" r="2.4"/>
<circle cx="159.8" cy="693.1" r="2.4"/>
<circle cx="170.4" cy="676.8" r="2.4"/>
<circle cx="170.4" cy="648.1" r="2.4"/>
<circle cx="169.2" cy="667" r="2.4"/>
<circle cx="169.2" cy="742.3" r="2.4"/>
<circle cx="168.6" cy="691.6" r="2.4"/>
<circle cx="157.2" cy="664" r="2.4"/>
<circle cx="170.9" cy="667.4" r="2.4"/>
<circle cx="171" cy="710" r="2.4"/>
<circle cx="169.3" cy="666.8" r="2.4"/>
<circle cx="158.2" cy="702" r="2.4"/>
<circle cx="187.9" cy="740.8" r="2.4"/>
<circle cx="146" cy="741.2" r="2.4"/>
<circle cx="168.6" cy="678.1" r="2.4"/>
<circle cx="169.9" cy="721.6" r="2.4"/>
<circle cx="170.4" cy="650" r="2.4"/>
<circle cx="160.9" cy="737.5" r="2.4"/>
<circle cx="184.2" cy="739.3" r="2.4"/>
<circle cx="160.9" cy="743.1" r="2.4"/>
<circle cx="162" cy="739" r="2.4"/>
<circle cx="158.6" cy="681.6" r="2.4"/>
<circle cx="161.9" cy="707.1" r="2.4"/>
<circle cx="157.7" cy="677.8" r="2.4"/>
<circle cx="158" cy="696.4" r="2.4"/>
<circle cx="158" cy="666.6" r="2.4"/>
<circle cx="158.9" cy="662" r="2.4"/>
<circle cx="158.6" cy="712.4" r="2.4"/>
<circle cx="169" cy="689.5" r="2.4"/>
<circle cx="169.9" cy="661.8" r="2.4"/>
<circle cx="176.3" cy="741" r="2.4"/>
<circle cx="150.9" cy="740.5" r="2.4"/>
<circle cx="158.5" cy="668.3" r="2.4"/>
<circle cx="169.4" cy="659.2" r="2.4"/>
<circle cx="158.5" cy="691.4" r="2.4"/>
<circle cx="166.8" cy="703.7" r="2.4"/>
<circle cx="167.9" cy="739.7" r="2.4"/>
<circle cx="166.9" cy="706.8" r="2.4"/>
<circle cx="167.8" cy="698.2" r="2.4"/>
<circle cx="158.7" cy="667.3" r="2.4"/>
<circle cx="166.7" cy="726.9" r="2.4"/>
<circle cx="168.9" cy="689" r="2.4"/>
<circle cx="160" cy="732.4" r="2.4"/>
<circle cx="168.4" cy="694.1" r="2.4"/>
<circle cx="170.4" cy="700" r="2.4"/>
<circle cx="170.8" cy="664" r="2.4"/>
<circle cx="169.8" cy="671" r="2.4"/>
<circle cx="169.5" cy="675.9" r="2.4"/>
<circle cx="158.3" cy="666.5" r="2.4"/>
<circle cx="156.2" cy="739.4" r="2.4"/>
<circle cx="161.4" cy="703" r="2.4"/>
<circle cx="158.8" cy="673.8" r="2.4"/>
<circle cx="157.1" cy="683.9" r="2.4"/>
<circle cx="158" cy="657.1" r="2.4"/>
<circle cx="156.9" cy="669.1" r="2.4"/>
<circle cx="159.8" cy="735" r="2.4"/>
<circle cx="146.2" cy="742.8" r="2.4"/>
<circle cx="160.6" cy="719.3" r="2.4"/>
<circle cx="148.3" cy="743.7" r="2.4"/>
<circle cx="168.4" cy="689.5" r="2.4"/>
<circle cx="161.2" cy="733.9" r="2.4"/>
<circle cx="157.7" cy="692.5" r="2.4"/>
<circle cx="158.7" cy="715.5" r="2.4"/>
<circle cx="157.2" cy="675.8" r="2.4"/>
<circle cx="167.1" cy="703.8" r="2.4"/>
<circle cx="146.1" cy="742.6" r="2.4"/>
<circle cx="166.4" cy="722.1" r="2.4"/>
<circle cx="157.3" cy="656.6" r="2.4"/>
<circle cx="188.6" cy="740.6" r="2.4"/>
<circle cx="170.6" cy="659.4" r="2.4"/>
<circle cx="221" cy="740.5" r="2.4"/>
<circle cx="217.3" cy="743.7" r="2.4"/>
<circle cx="281.5" cy="741.3" r="2.4"/>
<circle cx="192" cy="743.7" r="2.4"/>
<circle cx="216.8" cy="743" r="2.4"/>
<circle cx="221.4" cy="740.9" r="2.4"/>
</g>
<rect x="42.2" y="527.5" width="243.5" height="219.3" fill="none" stroke="#555" stroke-width="1.1"/>
<line x1="62" y1="746.8" x2="62" y2="749.6" stroke="#444" stroke-width="0.9" />
<text x="62" y="758.4" font-size="10" text-anchor="middle" font-family="'Liberation Serif', serif" fill="#222" stroke="#222" stroke-width="0.12" >−7.5</text>
<line x1="96" y1="746.8" x2="96" y2="749.6" stroke="#444" stroke-width="0.9" />
<text x="96" y="758.4" font-size="10" text-anchor="middle" font-family="'Liberation Serif', serif" fill="#222" stroke="#222" stroke-width="0.12" >−5.0</text>
<line x1="130" y1="746.8" x2="130" y2="749.6" stroke="#444" stroke-width="0.9" />
<text x="130" y="758.4" font-size="10" text-anchor="middle" font-family="'Liberation Serif', serif" fill="#222" stroke="#222" stroke-width="0.12" >−2.5</text>
<line x1="164" y1="746.8" x2="164" y2="749.6" stroke="#444" stroke-width="0.9" />
<text x="164" y="758.4" font-size="10" text-anchor="middle" font-family="'Liberation Serif', serif" fill="#222" stroke="#222" stroke-width="0.12" >0.0</text>
<line x1="198" y1="746.8" x2="198" y2="749.6" stroke="#444" stroke-width="0.9" />
<text x="198" y="758.4" font-size="10" text-anchor="middle" font-family="'Liberation Serif', serif" fill="#222" stroke="#222" stroke-width="0.12" >2.5</text>
<line x1="232" y1="746.8" x2="232" y2="749.6" stroke="#444" stroke-width="0.9" />
<text x="232" y="758.4" font-size="10" text-anchor="middle" font-family="'Liberation Serif', serif" fill="#222" stroke="#222" stroke-width="0.12" >5.0</text>
<line x1="266" y1="746.8" x2="266" y2="749.6" stroke="#444" stroke-width="0.9" />
<text x="266" y="758.4" font-size="10" text-anchor="middle" font-family="'Liberation Serif', serif" fill="#222" stroke="#222" stroke-width="0.12" >7.5</text>
<line x1="39.4" y1="746.3" x2="42.2" y2="746.3" stroke="#444" stroke-width="0.9" />
<text x="38.6" y="749.7" font-size="10" text-anchor="end" font-family="'Liberation Serif', serif" fill="#222" stroke="#222" stroke-width="0.12" >0</text>
<line x1="39.4" y1="700.9" x2="42.2" y2="700.9" stroke="#444" stroke-width="0.9" />
<text x="38.6" y="704.3" font-size="10" text-anchor="end" font-family="'Liberation Serif', serif" fill="#222" stroke="#222" stroke-width="0.12" >10</text>
<line x1="39.4" y1="655.5" x2="42.2" y2="655.5" stroke="#444" stroke-width="0.9" />
<text x="38.6" y="658.9" font-size="10" text-anchor="end" font-family="'Liberation Serif', serif" fill="#222" stroke="#222" stroke-width="0.12" >20</text>
<line x1="39.4" y1="610.1" x2="42.2" y2="610.1" stroke="#444" stroke-width="0.9" />
<text x="38.6" y="613.5" font-size="10" text-anchor="end" font-family="'Liberation Serif', serif" fill="#222" stroke="#222" stroke-width="0.12" >30</text>
<line x1="39.4" y1="564.7" x2="42.2" y2="564.7" stroke="#444" stroke-width="0.9" />
<text x="38.6" y="568.1" font-size="10" text-anchor="end" font-family="'Liberation Serif', serif" fill="#222" stroke="#222" stroke-width="0.12" >40</text>
<circle cx="61.6" cy="515.7" r="3.7" fill="#40b4d0" fill-opacity="0.72"/>
<text x="68.3" y="518.4" font-size="8" text-anchor="start" font-family="'Liberation Serif', serif" fill="#111" stroke="#111" stroke-width="0.12" >Down regulated(419)</text>
<circle cx="147.4" cy="515.7" r="3.7" fill="#b2b2b2" fill-opacity="0.72"/>
<text x="154.1" y="518.4" font-size="8" text-anchor="start" font-family="'Liberation Serif', serif" fill="#111" stroke="#111" stroke-width="0.12" >Not sig(3019)</text>
<circle cx="210" cy="515.7" r="3.7" fill="#ec0c0c" fill-opacity="0.72"/>
<text x="216.4" y="518.4" font-size="8" text-anchor="start" font-family="'Liberation Serif', serif" fill="#111" stroke="#111" stroke-width="0.12" >Up regulated(893)</text>
<text transform="translate(22.3,637.3) rotate(-90)" font-size="13.5" text-anchor="middle" font-family="'Liberation Serif', serif" fill="#111">-log<tspan font-size="10.5" dy="2.6">10</tspan><tspan dy="-2.6">(Pvalue)</tspan></text>
<text x="164.2" y="772" font-size="13.5" text-anchor="middle" font-family="'Liberation Serif', serif" fill="#111">log<tspan font-size="10.5" dy="2.6">2</tspan><tspan dy="-2.6">(Fold Change)</tspan></text>
<text x="159.3" y="785.6" font-size="13.5" text-anchor="middle" font-family="'Liberation Serif', serif" fill="#111" stroke="#111" stroke-width="0.12" >N vs J</text>
<text x="370.8" y="499.7" font-size="22.5" font-weight="bold" font-family="'Liberation Sans', sans-serif" fill="#000">(F)</text>
<line x1="446.6" y1="527.4" x2="446.6" y2="745.5" stroke="#dcdcdc" stroke-width="0.9" />
<line x1="486.7" y1="527.4" x2="486.7" y2="745.5" stroke="#dcdcdc" stroke-width="0.9" />
<line x1="526.8" y1="527.4" x2="526.8" y2="745.5" stroke="#dcdcdc" stroke-width="0.9" />
<line x1="566.9" y1="527.4" x2="566.9" y2="745.5" stroke="#dcdcdc" stroke-width="0.9" />
<line x1="607" y1="527.4" x2="607" y2="745.5" stroke="#dcdcdc" stroke-width="0.9" />
<line x1="406.6" y1="717.5" x2="647.2" y2="717.5" stroke="#dcdcdc" stroke-width="0.9" />
<line x1="406.6" y1="689.5" x2="647.2" y2="689.5" stroke="#dcdcdc" stroke-width="0.9" />
<line x1="406.6" y1="661.5" x2="647.2" y2="661.5" stroke="#dcdcdc" stroke-width="0.9" />
<line x1="406.6" y1="633.5" x2="647.2" y2="633.5" stroke="#dcdcdc" stroke-width="0.9" />
<line x1="406.6" y1="605.5" x2="647.2" y2="605.5" stroke="#dcdcdc" stroke-width="0.9" />
<line x1="406.6" y1="577.5" x2="647.2" y2="577.5" stroke="#dcdcdc" stroke-width="0.9" />
<line x1="406.6" y1="549.5" x2="647.2" y2="549.5" stroke="#dcdcdc" stroke-width="0.9" />
<line x1="522.5" y1="527.4" x2="522.5" y2="745.5" stroke="#3a3a3a" stroke-width="0.75" stroke-dasharray="1.5,1"/>
<line x1="531.5" y1="527.4" x2="531.5" y2="745.5" stroke="#3a3a3a" stroke-width="0.75" stroke-dasharray="1.5,1"/>
<line x1="406.6" y1="737.5" x2="647.2" y2="737.5" stroke="#888" stroke-width="0.75" stroke-dasharray="1.6,1.1"/>
<g fill="#40b4d0" fill-opacity="0.72" stroke="#40b4d0" stroke-opacity="0.72" stroke-width="0.5">
<circle cx="519" cy="659.5" r="2.4"/>
<circle cx="508.5" cy="712.3" r="2.4"/>
<circle cx="514.9" cy="678.9" r="2.4"/>
<circle cx="517.6" cy="636.1" r="2.4"/>
<circle cx="516.8" cy="695.4" r="2.4"/>
<circle cx="517.8" cy="704.7" r="2.4"/>
<circle cx="520.4" cy="716.1" r="2.4"/>
<circle cx="510.1" cy="711.4" r="2.4"/>
<circle cx="513.5" cy="650.6" r="2.4"/>
<circle cx="514.6" cy="727.4" r="2.4"/>
<circle cx="503.5" cy="722.7" r="2.4"/>
<circle cx="514.9" cy="666.3" r="2.4"/>
<circle cx="520.5" cy="691.6" r="2.4"/>
<circle cx="517.3" cy="624.9" r="2.4"/>
<circle cx="514.2" cy="733" r="2.4"/>
<circle cx="507.6" cy="708.2" r="2.4"/>
<circle cx="517.3" cy="633.3" r="2.4"/>
<circle cx="505.8" cy="669.1" r="2.4"/>
<circle cx="517.7" cy="647.6" r="2.4"/>
<circle cx="520.3" cy="668.6" r="2.4"/>
<circle cx="517.7" cy="714.8" r="2.4"/>
<circle cx="511.5" cy="641" r="2.4"/>
<circle cx="509.6" cy="685.5" r="2.4"/>
<circle cx="514.1" cy="629.1" r="2.4"/>
<circle cx="505.8" cy="668.8" r="2.4"/>
<circle cx="516.3" cy="676.5" r="2.4"/>
<circle cx="516.4" cy="621.3" r="2.4"/>
<circle cx="511.8" cy="679.8" r="2.4"/>
<circle cx="503.9" cy="708.4" r="2.4"/>
<circle cx="518" cy="733.4" r="2.4"/>
<circle cx="517.4" cy="662.5" r="2.4"/>
<circle cx="519.1" cy="717.3" r="2.4"/>
<circle cx="517" cy="730.9" r="2.4"/>
<circle cx="506.2" cy="675.4" r="2.4"/>
<circle cx="514.9" cy="625" r="2.4"/>
<circle cx="504.3" cy="718.3" r="2.4"/>
<circle cx="511.5" cy="704.1" r="2.4"/>
<circle cx="508.8" cy="686.9" r="2.4"/>
<circle cx="519.4" cy="664.1" r="2.4"/>
<circle cx="516.6" cy="692.5" r="2.4"/>
<circle cx="520" cy="659" r="2.4"/>
<circle cx="512.8" cy="697.5" r="2.4"/>
<circle cx="515.9" cy="692.9" r="2.4"/>
<circle cx="515" cy="627.8" r="2.4"/>
<circle cx="509.8" cy="677.9" r="2.4"/>
<circle cx="520.2" cy="692.2" r="2.4"/>
<circle cx="515.7" cy="717.5" r="2.4"/>
<circle cx="513.5" cy="635.3" r="2.4"/>
<circle cx="519.9" cy="677.5" r="2.4"/>
<circle cx="519.7" cy="672.4" r="2.4"/>
<circle cx="508" cy="661.4" r="2.4"/>
<circle cx="518" cy="700.6" r="2.4"/>
<circle cx="520.5" cy="727.3" r="2.4"/>
<circle cx="520.3" cy="692.7" r="2.4"/>
<circle cx="515.4" cy="729.1" r="2.4"/>
<circle cx="511.8" cy="696.7" r="2.4"/>
<circle cx="517.8" cy="695.8" r="2.4"/>
<circle cx="511.9" cy="714.2" r="2.4"/>
<circle cx="518.4" cy="642.3" r="2.4"/>
<circle cx="517.3" cy="614.2" r="2.4"/>
<circle cx="512.2" cy="690.8" r="2.4"/>
<circle cx="517.2" cy="711.6" r="2.4"/>
<circle cx="514" cy="690.3" r="2.4"/>
<circle cx="518.3" cy="724.8" r="2.4"/>
<circle cx="502.9" cy="723.9" r="2.4"/>
<circle cx="517.5" cy="620.4" r="2.4"/>
<circle cx="517.5" cy="671.3" r="2.4"/>
<circle cx="514.7" cy="665.3" r="2.4"/>
<circle cx="515.6" cy="709.1" r="2.4"/>
<circle cx="512.1" cy="649.4" r="2.4"/>
<circle cx="498.4" cy="714.7" r="2.4"/>
<circle cx="519.9" cy="717.9" r="2.4"/>
<circle cx="502.7" cy="682.8" r="2.4"/>
<circle cx="511.6" cy="683.1" r="2.4"/>
<circle cx="514.5" cy="717.2" r="2.4"/>
<circle cx="517.8" cy="725.8" r="2.4"/>
<circle cx="515.8" cy="625.8" r="2.4"/>
<circle cx="516.5" cy="649.8" r="2.4"/>
<circle cx="510.2" cy="730.6" r="2.4"/>
<circle cx="518.3" cy="685.4" r="2.4"/>
<circle cx="515.3" cy="681" r="2.4"/>
<circle cx="516.4" cy="733.7" r="2.4"/>
<circle cx="519.7" cy="674.2" r="2.4"/>
<circle cx="505.8" cy="702.6" r="2.4"/>
<circle cx="513.4" cy="612.7" r="2.4"/>
<circle cx="518.7" cy="684.9" r="2.4"/>
<circle cx="520.5" cy="709.9" r="2.4"/>
<circle cx="518.9" cy="721.9" r="2.4"/>
<circle cx="520.1" cy="684" r="2.4"/>
<circle cx="519.7" cy="654.1" r="2.4"/>
<circle cx="515.3" cy="704.2" r="2.4"/>
<circle cx="514.9" cy="682.5" r="2.4"/>
<circle cx="517.2" cy="733.5" r="2.4"/>
<circle cx="512.1" cy="729.9" r="2.4"/>
<circle cx="517.7" cy="680.7" r="2.4"/>
<circle cx="508.8" cy="674.4" r="2.4"/>
<circle cx="515.9" cy="681" r="2.4"/>
<circle cx="517.6" cy="722.7" r="2.4"/>
<circle cx="516.8" cy="707.4" r="2.4"/>
<circle cx="498.1" cy="702.9" r="2.4"/>
<circle cx="519.6" cy="733.5" r="2.4"/>
<circle cx="511.1" cy="661.5" r="2.4"/>
<circle cx="520.1" cy="685.4" r="2.4"/>
<circle cx="518" cy="728" r="2.4"/>
<circle cx="518.6" cy="637.3" r="2.4"/>
<circle cx="514.2" cy="733" r="2.4"/>
<circle cx="518.6" cy="665.7" r="2.4"/>
<circle cx="515.9" cy="671.1" r="2.4"/>
<circle cx="517.9" cy="652.8" r="2.4"/>
<circle cx="513.2" cy="731.6" r="2.4"/>
<circle cx="518.6" cy="735.3" r="2.4"/>
<circle cx="502.4" cy="721.7" r="2.4"/>
<circle cx="517.5" cy="613.9" r="2.4"/>
<circle cx="517.2" cy="712.2" r="2.4"/>
<circle cx="515.3" cy="681.3" r="2.4"/>
<circle cx="510.3" cy="651.4" r="2.4"/>
<circle cx="503" cy="724" r="2.4"/>
<circle cx="518.9" cy="722.6" r="2.4"/>
<circle cx="514.4" cy="646.7" r="2.4"/>
<circle cx="516" cy="649.6" r="2.4"/>
<circle cx="517.1" cy="628.7" r="2.4"/>
<circle cx="516.9" cy="653.2" r="2.4"/>
<circle cx="514.4" cy="731.4" r="2.4"/>
<circle cx="513.6" cy="652.9" r="2.4"/>
<circle cx="517.3" cy="686.2" r="2.4"/>
<circle cx="515.9" cy="625.9" r="2.4"/>
<circle cx="518.4" cy="641.8" r="2.4"/>
<circle cx="516" cy="630.7" r="2.4"/>
<circle cx="517.7" cy="633.6" r="2.4"/>
<circle cx="513.7" cy="707.4" r="2.4"/>
<circle cx="515.8" cy="628.9" r="2.4"/>
<circle cx="516.3" cy="707.6" r="2.4"/>
<circle cx="512.4" cy="630.6" r="2.4"/>
<circle cx="518.1" cy="705.4" r="2.4"/>
<circle cx="514.1" cy="691.7" r="2.4"/>
<circle cx="514.7" cy="732.1" r="2.4"/>
<circle cx="517.9" cy="730.6" r="2.4"/>
<circle cx="510.6" cy="685.3" r="2.4"/>
<circle cx="519.6" cy="659.2" r="2.4"/>
<circle cx="519.7" cy="695.3" r="2.4"/>
<circle cx="512.4" cy="644.5" r="2.4"/>
<circle cx="519.8" cy="695.7" r="2.4"/>
<circle cx="514.1" cy="668.7" r="2.4"/>
<circle cx="518.1" cy="710.6" r="2.4"/>
<circle cx="517" cy="626" r="2.4"/>
<circle cx="518.3" cy="674.1" r="2.4"/>
<circle cx="513.3" cy="648.2" r="2.4"/>
<circle cx="515.5" cy="628.7" r="2.4"/>
<circle cx="518.4" cy="638.5" r="2.4"/>
<circle cx="519.2" cy="689.1" r="2.4"/>
<circle cx="512.4" cy="708.4" r="2.4"/>
<circle cx="517" cy="620.8" r="2.4"/>
<circle cx="512.6" cy="727.1" r="2.4"/>
<circle cx="516.7" cy="728.7" r="2.4"/>
<circle cx="511.3" cy="678.8" r="2.4"/>
<circle cx="520.2" cy="725.5" r="2.4"/>
<circle cx="518.4" cy="703.3" r="2.4"/>
<circle cx="514.5" cy="693.2" r="2.4"/>
<circle cx="516.2" cy="702.9" r="2.4"/>
<circle cx="514.3" cy="631.5" r="2.4"/>
<circle cx="516.4" cy="695.8" r="2.4"/>
<circle cx="503.5" cy="703.6" r="2.4"/>
<circle cx="513.8" cy="648.6" r="2.4"/>
<circle cx="514.2" cy="622.7" r="2.4"/>
<circle cx="510.1" cy="698.6" r="2.4"/>
<circle cx="514.2" cy="726.8" r="2.4"/>
<circle cx="520.5" cy="700.6" r="2.4"/>
<circle cx="517.9" cy="636.9" r="2.4"/>
<circle cx="519.9" cy="694.6" r="2.4"/>
<circle cx="512" cy="695.5" r="2.4"/>
<circle cx="512.8" cy="639.5" r="2.4"/>
<circle cx="513.9" cy="718.1" r="2.4"/>
<circle cx="519.2" cy="690.4" r="2.4"/>
<circle cx="517.1" cy="640.4" r="2.4"/>
<circle cx="519.7" cy="706.9" r="2.4"/>
<circle cx="513.7" cy="685.5" r="2.4"/>
<circle cx="515.7" cy="633" r="2.4"/>
<circle cx="518.6" cy="635" r="2.4"/>
<circle cx="512.3" cy="629" r="2.4"/>
<circle cx="514.3" cy="608.3" r="2.4"/>
<circle cx="516.1" cy="735.8" r="2.4"/>
<circle cx="515.6" cy="723.2" r="2.4"/>
<circle cx="520.3" cy="722.7" r="2.4"/>
<circle cx="513.7" cy="620.6" r="2.4"/>
<circle cx="515.1" cy="735.4" r="2.4"/>
<circle cx="519.9" cy="722.7" r="2.4"/>
<circle cx="517.1" cy="651.8" r="2.4"/>
<circle cx="511" cy="712.9" r="2.4"/>
<circle cx="518.6" cy="712.2" r="2.4"/>
<circle cx="519.5" cy="702.6" r="2.4"/>
<circle cx="512" cy="657.2" r="2.4"/>
<circle cx="515.6" cy="731.5" r="2.4"/>
<circle cx="506.1" cy="734.9" r="2.4"/>
<circle cx="515.7" cy="621.5" r="2.4"/>
<circle cx="517.1" cy="696.2" r="2.4"/>
<circle cx="509.1" cy="688.4" r="2.4"/>
<circle cx="512.8" cy="717.3" r="2.4"/>
<circle cx="509.9" cy="726.7" r="2.4"/>
<circle cx="519.5" cy="699.3" r="2.4"/>
<circle cx="513.9" cy="624" r="2.4"/>
<circle cx="518.7" cy="715.4" r="2.4"/>
<circle cx="511.7" cy="704.4" r="2.4"/>
<circle cx="514.2" cy="726.7" r="2.4"/>
<circle cx="515.4" cy="636.8" r="2.4"/>
<circle cx="514.1" cy="680.7" r="2.4"/>
<circle cx="510.9" cy="682" r="2.4"/>
<circle cx="509.5" cy="653.1" r="2.4"/>
<circle cx="511.7" cy="697.7" r="2.4"/>
<circle cx="518.4" cy="693.9" r="2.4"/>
<circle cx="516.6" cy="639.8" r="2.4"/>
<circle cx="519.6" cy="653.1" r="2.4"/>
<circle cx="517.4" cy="625.6" r="2.4"/>
<circle cx="519.3" cy="685.4" r="2.4"/>
<circle cx="512.5" cy="723.5" r="2.4"/>
<circle cx="512.3" cy="664.3" r="2.4"/>
<circle cx="513.7" cy="631.4" r="2.4"/>
<circle cx="519.8" cy="683.7" r="2.4"/>
<circle cx="515.4" cy="623.8" r="2.4"/>
<circle cx="517.8" cy="643.1" r="2.4"/>
<circle cx="520.4" cy="704.2" r="2.4"/>
<circle cx="513.6" cy="706.7" r="2.4"/>
<circle cx="506.4" cy="672.6" r="2.4"/>
<circle cx="518.2" cy="676.3" r="2.4"/>
<circle cx="517.1" cy="709.2" r="2.4"/>
<circle cx="515.7" cy="684.3" r="2.4"/>
<circle cx="515.8" cy="672.3" r="2.4"/>
<circle cx="514.8" cy="708.7" r="2.4"/>
<circle cx="520" cy="658.1" r="2.4"/>
<circle cx="507.6" cy="712.4" r="2.4"/>
<circle cx="517.9" cy="735.6" r="2.4"/>
<circle cx="517.2" cy="668" r="2.4"/>
<circle cx="504.9" cy="733.5" r="2.4"/>
<circle cx="518.9" cy="645.3" r="2.4"/>
<circle cx="511.3" cy="668.6" r="2.4"/>
<circle cx="519.8" cy="701.6" r="2.4"/>
<circle cx="504.2" cy="708.7" r="2.4"/>
<circle cx="516.8" cy="670.1" r="2.4"/>
<circle cx="513.9" cy="690.4" r="2.4"/>
<circle cx="512.5" cy="640.1" r="2.4"/>
<circle cx="518.6" cy="662.3" r="2.4"/>
<circle cx="517.8" cy="610.4" r="2.4"/>
<circle cx="506.8" cy="674.8" r="2.4"/>
<circle cx="519.4" cy="702.5" r="2.4"/>
<circle cx="518.6" cy="710.1" r="2.4"/>
<circle cx="517.4" cy="648.6" r="2.4"/>
<circle cx="519.7" cy="675.2" r="2.4"/>
<circle cx="516.3" cy="628.6" r="2.4"/>
<circle cx="514.1" cy="700.9" r="2.4"/>
<circle cx="507.4" cy="729.4" r="2.4"/>
<circle cx="512.6" cy="698.2" r="2.4"/>
<circle cx="511.9" cy="639.5" r="2.4"/>
<circle cx="520.5" cy="727.8" r="2.4"/>
<circle cx="516.5" cy="735.6" r="2.4"/>
<circle cx="518.7" cy="659.7" r="2.4"/>
<circle cx="517.9" cy="698.5" r="2.4"/>
<circle cx="508" cy="691.6" r="2.4"/>
<circle cx="519.5" cy="689.3" r="2.4"/>
<circle cx="518.5" cy="711.8" r="2.4"/>
<circle cx="519.7" cy="699.7" r="2.4"/>
<circle cx="516.1" cy="730.1" r="2.4"/>
<circle cx="509.7" cy="685.9" r="2.4"/>
<circle cx="509.8" cy="734.7" r="2.4"/>
<circle cx="520.3" cy="710.8" r="2.4"/>
<circle cx="517.5" cy="623" r="2.4"/>
<circle cx="507.3" cy="721" r="2.4"/>
<circle cx="512" cy="734" r="2.4"/>
<circle cx="506.8" cy="663.2" r="2.4"/>
<circle cx="502.9" cy="718.4" r="2.4"/>
<circle cx="515" cy="661.9" r="2.4"/>
<circle cx="520.2" cy="673.3" r="2.4"/>
<circle cx="516.5" cy="615" r="2.4"/>
<circle cx="510" cy="660.8" r="2.4"/>
<circle cx="512.3" cy="656.2" r="2.4"/>
<circle cx="515.9" cy="702" r="2.4"/>
<circle cx="518.6" cy="649.5" r="2.4"/>
<circle cx="520.5" cy="696.3" r="2.4"/>
<circle cx="520.5" cy="719.5" r="2.4"/>
<circle cx="514.4" cy="630.6" r="2.4"/>
<circle cx="509.3" cy="662" r="2.4"/>
<circle cx="518" cy="681.4" r="2.4"/>
<circle cx="514.3" cy="620.3" r="2.4"/>
<circle cx="504.2" cy="723.1" r="2.4"/>
<circle cx="507.2" cy="722.8" r="2.4"/>
<circle cx="514.6" cy="645.2" r="2.4"/>
<circle cx="520.1" cy="712.3" r="2.4"/>
<circle cx="517.7" cy="687.1" r="2.4"/>
<circle cx="516.3" cy="623.2" r="2.4"/>
<circle cx="508.2" cy="672" r="2.4"/>
<circle cx="513.9" cy="695.2" r="2.4"/>
<circle cx="512.3" cy="717.5" r="2.4"/>
<circle cx="520.1" cy="718.4" r="2.4"/>
<circle cx="514.6" cy="620.9" r="2.4"/>
<circle cx="510.2" cy="664.2" r="2.4"/>
<circle cx="506.8" cy="698.2" r="2.4"/>
<circle cx="512.2" cy="708.1" r="2.4"/>
<circle cx="519.3" cy="656" r="2.4"/>
<circle cx="518.4" cy="672" r="2.4"/>
<circle cx="520.4" cy="673.3" r="2.4"/>
<circle cx="520.1" cy="726.2" r="2.4"/>
<circle cx="516.9" cy="610.7" r="2.4"/>
<circle cx="520.1" cy="686.3" r="2.4"/>
<circle cx="515.1" cy="724" r="2.4"/>
<circle cx="511.8" cy="680.1" r="2.4"/>
<circle cx="504.5" cy="693.8" r="2.4"/>
<circle cx="515.4" cy="671.7" r="2.4"/>
<circle cx="512" cy="637" r="2.4"/>
<circle cx="502.7" cy="709.8" r="2.4"/>
<circle cx="513.3" cy="622.4" r="2.4"/>
<circle cx="517.2" cy="681.1" r="2.4"/>
<circle cx="520" cy="718.1" r="2.4"/>
<circle cx="513.9" cy="646.7" r="2.4"/>
<circle cx="511.4" cy="680.1" r="2.4"/>
<circle cx="514.4" cy="611.2" r="2.4"/>
<circle cx="511.3" cy="650.4" r="2.4"/>
<circle cx="517.1" cy="677.7" r="2.4"/>
<circle cx="508.5" cy="670.1" r="2.4"/>
<circle cx="517.8" cy="635" r="2.4"/>
<circle cx="511.8" cy="697.6" r="2.4"/>
<circle cx="519.5" cy="660.1" r="2.4"/>
<circle cx="507.6" cy="661.5" r="2.4"/>
<circle cx="511.8" cy="660.8" r="2.4"/>
<circle cx="503.6" cy="701" r="2.4"/>
<circle cx="520.2" cy="670.5" r="2.4"/>
<circle cx="514.8" cy="692.3" r="2.4"/>
<circle cx="515.2" cy="687.2" r="2.4"/>
<circle cx="515.7" cy="646.4" r="2.4"/>
<circle cx="502.6" cy="710.5" r="2.4"/>
<circle cx="514.8" cy="628" r="2.4"/>
<circle cx="519.4" cy="648" r="2.4"/>
<circle cx="520" cy="707.3" r="2.4"/>
<circle cx="519.9" cy="686.7" r="2.4"/>
<circle cx="520.3" cy="726.9" r="2.4"/>
<circle cx="506.8" cy="724.3" r="2.4"/>
<circle cx="510.6" cy="725.3" r="2.4"/>
<circle cx="512.5" cy="639.3" r="2.4"/>
<circle cx="517.5" cy="623.5" r="2.4"/>
<circle cx="514" cy="636.2" r="2.4"/>
<circle cx="515" cy="690.7" r="2.4"/>
<circle cx="417" cy="546" r="2.4"/>
<circle cx="427.7" cy="539.7" r="2.4"/>
<circle cx="455.7" cy="544.5" r="2.4"/>
<circle cx="464.7" cy="544.7" r="2.4"/>
<circle cx="507.1" cy="544.5" r="2.4"/>
<circle cx="442.8" cy="551.9" r="2.4"/>
<circle cx="456.2" cy="550.4" r="2.4"/>
<circle cx="441.8" cy="558.9" r="2.4"/>
<circle cx="469.1" cy="555.9" r="2.4"/>
<circle cx="445.6" cy="567.3" r="2.4"/>
<circle cx="431.9" cy="571" r="2.4"/>
<circle cx="469.4" cy="568.3" r="2.4"/>
<circle cx="452.5" cy="587.8" r="2.4"/>
<circle cx="431.8" cy="596.1" r="2.4"/>
<circle cx="442.1" cy="597.4" r="2.4"/>
<circle cx="470.7" cy="599.3" r="2.4"/>
<circle cx="485.1" cy="596.3" r="2.4"/>
<circle cx="493.5" cy="598.2" r="2.4"/>
<circle cx="501.7" cy="598.5" r="2.4"/>
<circle cx="505.5" cy="592.1" r="2.4"/>
<circle cx="510" cy="595.7" r="2.4"/>
<circle cx="502.3" cy="605.8" r="2.4"/>
<circle cx="416.5" cy="610.6" r="2.4"/>
<circle cx="430.5" cy="610.3" r="2.4"/>
<circle cx="442.6" cy="611.7" r="2.4"/>
<circle cx="465" cy="609.8" r="2.4"/>
<circle cx="458.6" cy="612.7" r="2.4"/>
<circle cx="491.1" cy="609" r="2.4"/>
<circle cx="427" cy="615.4" r="2.4"/>
<circle cx="426.5" cy="621" r="2.4"/>
<circle cx="436.6" cy="622.3" r="2.4"/>
<circle cx="448.2" cy="617.8" r="2.4"/>
<circle cx="444.6" cy="619.4" r="2.4"/>
<circle cx="453.8" cy="621.3" r="2.4"/>
<circle cx="457.5" cy="622.6" r="2.4"/>
<circle cx="417.7" cy="625" r="2.4"/>
<circle cx="447.4" cy="628.6" r="2.4"/>
<circle cx="477.1" cy="621" r="2.4"/>
<circle cx="478.4" cy="624.2" r="2.4"/>
<circle cx="488.3" cy="626.2" r="2.4"/>
<circle cx="490.7" cy="625.8" r="2.4"/>
<circle cx="498.8" cy="627.8" r="2.4"/>
<circle cx="506.5" cy="614.6" r="2.4"/>
<circle cx="508.9" cy="619.7" r="2.4"/>
<circle cx="420.9" cy="635.2" r="2.4"/>
<circle cx="470.7" cy="635.2" r="2.4"/>
<circle cx="477.9" cy="638.2" r="2.4"/>
<circle cx="496" cy="635.5" r="2.4"/>
<circle cx="493.1" cy="638.4" r="2.4"/>
<circle cx="459.4" cy="640.5" r="2.4"/>
<circle cx="472.7" cy="641.7" r="2.4"/>
<circle cx="502" cy="642.7" r="2.4"/>
<circle cx="466.3" cy="645.4" r="2.4"/>
<circle cx="443" cy="649.5" r="2.4"/>
<circle cx="447.1" cy="650.7" r="2.4"/>
<circle cx="504.4" cy="648.7" r="2.4"/>
<circle cx="502.5" cy="651.5" r="2.4"/>
<circle cx="458.1" cy="653.5" r="2.4"/>
<circle cx="467.8" cy="653" r="2.4"/>
<circle cx="484.3" cy="655.6" r="2.4"/>
<circle cx="482.7" cy="657.5" r="2.4"/>
<circle cx="475.8" cy="660.4" r="2.4"/>
<circle cx="496.4" cy="663.9" r="2.4"/>
<circle cx="507.3" cy="660.7" r="2.4"/>
<circle cx="485.9" cy="667.9" r="2.4"/>
<circle cx="460.2" cy="670" r="2.4"/>
<circle cx="463.1" cy="673.5" r="2.4"/>
<circle cx="464.7" cy="677.9" r="2.4"/>
<circle cx="483.2" cy="676.8" r="2.4"/>
<circle cx="481.6" cy="680.4" r="2.4"/>
<circle cx="485.1" cy="680.4" r="2.4"/>
<circle cx="496" cy="678.4" r="2.4"/>
<circle cx="441" cy="683.5" r="2.4"/>
<circle cx="458.1" cy="683.2" r="2.4"/>
<circle cx="446.9" cy="689.1" r="2.4"/>
<circle cx="466.3" cy="686.9" r="2.4"/>
<circle cx="493.1" cy="684.5" r="2.4"/>
<circle cx="497.2" cy="683.2" r="2.4"/>
<circle cx="488.8" cy="690.9" r="2.4"/>
<circle cx="491.5" cy="694.7" r="2.4"/>
<circle cx="498.3" cy="693.1" r="2.4"/>
<circle cx="475.2" cy="698.1" r="2.4"/>
<circle cx="505.2" cy="699.6" r="2.4"/>
<circle cx="492" cy="703.3" r="2.4"/>
<circle cx="492.3" cy="712.9" r="2.4"/>
<circle cx="506" cy="712.1" r="2.4"/>
<circle cx="496.4" cy="718.5" r="2.4"/>
<circle cx="499.2" cy="719" r="2.4"/>
<circle cx="497.5" cy="721.7" r="2.4"/>
<circle cx="502.1" cy="725.2" r="2.4"/>
<circle cx="491.9" cy="731" r="2.4"/>
<circle cx="503.3" cy="734.8" r="2.4"/>
<circle cx="507.3" cy="733.7" r="2.4"/>
<circle cx="506" cy="715.3" r="2.4"/>
<circle cx="509.2" cy="720.1" r="2.4"/>
<circle cx="512.4" cy="582.4" r="2.4"/>
<circle cx="515.3" cy="593.1" r="2.4"/>
<circle cx="516" cy="596.6" r="2.4"/>
</g>
<g fill="#ec0c0c" fill-opacity="0.72" stroke="#ec0c0c" stroke-opacity="0.72" stroke-width="0.5">
<circle cx="541.2" cy="656.6" r="2.4"/>
<circle cx="546.5" cy="635.4" r="2.4"/>
<circle cx="536.1" cy="621.8" r="2.4"/>
<circle cx="544.7" cy="682.8" r="2.4"/>
<circle cx="535.2" cy="717" r="2.4"/>
<circle cx="535.1" cy="665.8" r="2.4"/>
<circle cx="534.8" cy="694.3" r="2.4"/>
<circle cx="539.5" cy="679.5" r="2.4"/>
<circle cx="538" cy="656" r="2.4"/>
<circle cx="543.4" cy="630" r="2.4"/>
<circle cx="532.9" cy="725.8" r="2.4"/>
<circle cx="533.2" cy="733.4" r="2.4"/>
<circle cx="541.2" cy="692.7" r="2.4"/>
<circle cx="541.5" cy="624.4" r="2.4"/>
<circle cx="549.3" cy="586.1" r="2.4"/>
<circle cx="538.5" cy="661.7" r="2.4"/>
<circle cx="533.1" cy="709.7" r="2.4"/>
<circle cx="537.8" cy="713" r="2.4"/>
<circle cx="539" cy="669.5" r="2.4"/>
<circle cx="539.7" cy="704" r="2.4"/>
<circle cx="535.4" cy="629.1" r="2.4"/>
<circle cx="534" cy="673.4" r="2.4"/>
<circle cx="538.1" cy="587.2" r="2.4"/>
<circle cx="541.9" cy="613.2" r="2.4"/>
<circle cx="541.8" cy="696.4" r="2.4"/>
<circle cx="534.7" cy="675.9" r="2.4"/>
<circle cx="539.9" cy="649.8" r="2.4"/>
<circle cx="534.7" cy="655" r="2.4"/>
<circle cx="543.5" cy="724.8" r="2.4"/>
<circle cx="533.3" cy="731.7" r="2.4"/>
<circle cx="541.7" cy="721.4" r="2.4"/>
<circle cx="536.8" cy="701.5" r="2.4"/>
<circle cx="542.7" cy="669.5" r="2.4"/>
<circle cx="534.7" cy="682.1" r="2.4"/>
<circle cx="543.1" cy="701.1" r="2.4"/>
<circle cx="544.6" cy="628.3" r="2.4"/>
<circle cx="539.8" cy="599.2" r="2.4"/>
<circle cx="542.8" cy="619.1" r="2.4"/>
<circle cx="540" cy="721.6" r="2.4"/>
<circle cx="542.7" cy="646.1" r="2.4"/>
<circle cx="544.2" cy="709" r="2.4"/>
<circle cx="538.1" cy="702" r="2.4"/>
<circle cx="531.2" cy="730.5" r="2.4"/>
<circle cx="532.9" cy="689.7" r="2.4"/>
<circle cx="541.7" cy="654.7" r="2.4"/>
<circle cx="539.5" cy="720.3" r="2.4"/>
<circle cx="543.4" cy="574.2" r="2.4"/>
<circle cx="548.9" cy="574.7" r="2.4"/>
<circle cx="542.8" cy="646.3" r="2.4"/>
<circle cx="544.3" cy="664.2" r="2.4"/>
<circle cx="549.2" cy="604.3" r="2.4"/>
<circle cx="544.5" cy="660.1" r="2.4"/>
<circle cx="542.5" cy="646.4" r="2.4"/>
<circle cx="537.1" cy="722.8" r="2.4"/>
<circle cx="538.1" cy="678.1" r="2.4"/>
<circle cx="535.9" cy="637.7" r="2.4"/>
<circle cx="535.8" cy="719.5" r="2.4"/>
<circle cx="546.3" cy="578.4" r="2.4"/>
<circle cx="543.5" cy="620.9" r="2.4"/>
<circle cx="543.9" cy="699.4" r="2.4"/>
<circle cx="539.8" cy="680.3" r="2.4"/>
<circle cx="535.3" cy="698.2" r="2.4"/>
<circle cx="543.4" cy="624.7" r="2.4"/>
<circle cx="534.1" cy="649.6" r="2.4"/>
<circle cx="536.7" cy="724.6" r="2.4"/>
<circle cx="531.3" cy="653.7" r="2.4"/>
<circle cx="544.8" cy="713.4" r="2.4"/>
<circle cx="537.7" cy="700.9" r="2.4"/>
<circle cx="540.9" cy="630.3" r="2.4"/>
<circle cx="531.2" cy="704.2" r="2.4"/>
<circle cx="535.9" cy="652.8" r="2.4"/>
<circle cx="533.8" cy="684.7" r="2.4"/>
<circle cx="548.4" cy="624.2" r="2.4"/>
<circle cx="544.1" cy="578.7" r="2.4"/>
<circle cx="538.6" cy="721.8" r="2.4"/>
<circle cx="541.1" cy="702.4" r="2.4"/>
<circle cx="537" cy="713.7" r="2.4"/>
<circle cx="535.8" cy="632.3" r="2.4"/>
<circle cx="530.9" cy="718.9" r="2.4"/>
<circle cx="544.2" cy="690.6" r="2.4"/>
<circle cx="539.8" cy="653.9" r="2.4"/>
<circle cx="544.5" cy="661.1" r="2.4"/>
<circle cx="541.5" cy="647.4" r="2.4"/>
<circle cx="539.9" cy="696.3" r="2.4"/>
<circle cx="538.2" cy="711.3" r="2.4"/>
<circle cx="538.3" cy="716.2" r="2.4"/>
<circle cx="539.8" cy="579.7" r="2.4"/>
<circle cx="535.3" cy="669.4" r="2.4"/>
<circle cx="543.2" cy="709.5" r="2.4"/>
<circle cx="536.2" cy="712" r="2.4"/>
<circle cx="544.9" cy="667.8" r="2.4"/>
<circle cx="531.1" cy="690.7" r="2.4"/>
<circle cx="541.8" cy="630.4" r="2.4"/>
<circle cx="531.8" cy="652.3" r="2.4"/>
<circle cx="544.9" cy="734.1" r="2.4"/>
<circle cx="532.7" cy="680.5" r="2.4"/>
<circle cx="541.3" cy="718.9" r="2.4"/>
<circle cx="538.4" cy="695.6" r="2.4"/>
<circle cx="546.6" cy="636.9" r="2.4"/>
<circle cx="543.5" cy="664.9" r="2.4"/>
<circle cx="546.1" cy="655.6" r="2.4"/>
<circle cx="538.8" cy="643.9" r="2.4"/>
<circle cx="542.6" cy="734.6" r="2.4"/>
<circle cx="533.8" cy="681.4" r="2.4"/>
<circle cx="537.4" cy="653.7" r="2.4"/>
<circle cx="534" cy="637.8" r="2.4"/>
<circle cx="549" cy="579.5" r="2.4"/>
<circle cx="531.8" cy="683.1" r="2.4"/>
<circle cx="531.1" cy="729.3" r="2.4"/>
<circle cx="538.3" cy="668.5" r="2.4"/>
<circle cx="532.7" cy="675.9" r="2.4"/>
<circle cx="532.5" cy="659.9" r="2.4"/>
<circle cx="545.6" cy="600.2" r="2.4"/>
<circle cx="531.7" cy="644.7" r="2.4"/>
<circle cx="534.4" cy="634.5" r="2.4"/>
<circle cx="540.6" cy="628.8" r="2.4"/>
<circle cx="542.2" cy="697.8" r="2.4"/>
<circle cx="532.9" cy="635.1" r="2.4"/>
<circle cx="544.4" cy="667.9" r="2.4"/>
<circle cx="532.3" cy="650.7" r="2.4"/>
<circle cx="545.2" cy="724.6" r="2.4"/>
<circle cx="546.8" cy="643.9" r="2.4"/>
<circle cx="538" cy="612.3" r="2.4"/>
<circle cx="530.8" cy="735.5" r="2.4"/>
<circle cx="543.8" cy="645.8" r="2.4"/>
<circle cx="533.7" cy="731.3" r="2.4"/>
<circle cx="539.7" cy="589.1" r="2.4"/>
<circle cx="532.3" cy="664.1" r="2.4"/>
<circle cx="534.5" cy="673.5" r="2.4"/>
<circle cx="535.3" cy="704.7" r="2.4"/>
<circle cx="541.9" cy="592.8" r="2.4"/>
<circle cx="534.5" cy="612.4" r="2.4"/>
<circle cx="533.2" cy="732.3" r="2.4"/>
<circle cx="532.1" cy="690.6" r="2.4"/>
<circle cx="535.5" cy="652.6" r="2.4"/>
<circle cx="541.8" cy="679.1" r="2.4"/>
<circle cx="538.4" cy="591.8" r="2.4"/>
<circle cx="537.9" cy="711.8" r="2.4"/>
<circle cx="542.6" cy="613" r="2.4"/>
<circle cx="534.2" cy="631.1" r="2.4"/>
<circle cx="540.5" cy="604.7" r="2.4"/>
<circle cx="534.9" cy="635" r="2.4"/>
<circle cx="531.7" cy="683.9" r="2.4"/>
<circle cx="536.5" cy="663.6" r="2.4"/>
<circle cx="543.9" cy="652.9" r="2.4"/>
<circle cx="541.8" cy="704.9" r="2.4"/>
<circle cx="531.5" cy="711" r="2.4"/>
<circle cx="544.6" cy="714.7" r="2.4"/>
<circle cx="536.2" cy="680.2" r="2.4"/>
<circle cx="531" cy="695" r="2.4"/>
<circle cx="537.3" cy="727.2" r="2.4"/>
<circle cx="542.8" cy="712.1" r="2.4"/>
<circle cx="547.2" cy="634.3" r="2.4"/>
<circle cx="534.7" cy="685.8" r="2.4"/>
<circle cx="542.5" cy="688.3" r="2.4"/>
<circle cx="538.6" cy="711.5" r="2.4"/>
<circle cx="538.6" cy="666.2" r="2.4"/>
<circle cx="544.1" cy="620.3" r="2.4"/>
<circle cx="533.1" cy="653.1" r="2.4"/>
<circle cx="544.7" cy="628.6" r="2.4"/>
<circle cx="532.4" cy="709.5" r="2.4"/>
<circle cx="542.4" cy="706.7" r="2.4"/>
<circle cx="532.4" cy="647.5" r="2.4"/>
<circle cx="542.6" cy="644.8" r="2.4"/>
<circle cx="534.6" cy="655.6" r="2.4"/>
<circle cx="533.1" cy="684.6" r="2.4"/>
<circle cx="532.7" cy="671.1" r="2.4"/>
<circle cx="534.1" cy="651.2" r="2.4"/>
<circle cx="543.4" cy="642.4" r="2.4"/>
<circle cx="532.8" cy="654.4" r="2.4"/>
<circle cx="531.8" cy="646.5" r="2.4"/>
<circle cx="536.1" cy="632.8" r="2.4"/>
<circle cx="544.6" cy="661.6" r="2.4"/>
<circle cx="532.7" cy="726.2" r="2.4"/>
<circle cx="535.1" cy="729.6" r="2.4"/>
<circle cx="537.8" cy="619.1" r="2.4"/>
<circle cx="536.5" cy="682" r="2.4"/>
<circle cx="541.7" cy="724.2" r="2.4"/>
<circle cx="532.5" cy="663.4" r="2.4"/>
<circle cx="534.3" cy="622.6" r="2.4"/>
<circle cx="532.7" cy="708.6" r="2.4"/>
<circle cx="541.4" cy="656.5" r="2.4"/>
<circle cx="540.8" cy="708.4" r="2.4"/>
<circle cx="539.4" cy="717.1" r="2.4"/>
<circle cx="539.8" cy="734.2" r="2.4"/>
<circle cx="540.2" cy="628.8" r="2.4"/>
<circle cx="546.5" cy="637.4" r="2.4"/>
<circle cx="535" cy="729.2" r="2.4"/>
<circle cx="536.6" cy="639.6" r="2.4"/>
<circle cx="531.2" cy="675.1" r="2.4"/>
<circle cx="540.9" cy="692.6" r="2.4"/>
<circle cx="536.6" cy="662.9" r="2.4"/>
<circle cx="538" cy="578.8" r="2.4"/>
<circle cx="540" cy="614.3" r="2.4"/>
<circle cx="545.6" cy="681" r="2.4"/>
<circle cx="535.9" cy="695.1" r="2.4"/>
<circle cx="541.5" cy="699.7" r="2.4"/>
<circle cx="538" cy="640.1" r="2.4"/>
<circle cx="546.2" cy="662" r="2.4"/>
<circle cx="539.5" cy="630.9" r="2.4"/>
<circle cx="540.9" cy="623.9" r="2.4"/>
<circle cx="545.6" cy="577.7" r="2.4"/>
<circle cx="547.9" cy="631.8" r="2.4"/>
<circle cx="532.7" cy="701.6" r="2.4"/>
<circle cx="538.8" cy="707" r="2.4"/>
<circle cx="539.2" cy="706.9" r="2.4"/>
<circle cx="546.2" cy="663.6" r="2.4"/>
<circle cx="541.3" cy="661" r="2.4"/>
<circle cx="533.5" cy="712.8" r="2.4"/>
<circle cx="538.2" cy="643.2" r="2.4"/>
<circle cx="545" cy="679.5" r="2.4"/>
<circle cx="533.5" cy="685.9" r="2.4"/>
<circle cx="546.2" cy="613.9" r="2.4"/>
<circle cx="534.9" cy="723.9" r="2.4"/>
<circle cx="544.4" cy="625" r="2.4"/>
<circle cx="531.6" cy="707" r="2.4"/>
<circle cx="536" cy="628.3" r="2.4"/>
<circle cx="531.1" cy="667.5" r="2.4"/>
<circle cx="541.8" cy="723.1" r="2.4"/>
<circle cx="537.1" cy="657.4" r="2.4"/>
<circle cx="537.9" cy="682.9" r="2.4"/>
<circle cx="533.8" cy="710.9" r="2.4"/>
<circle cx="534.9" cy="646.2" r="2.4"/>
<circle cx="542.9" cy="686.4" r="2.4"/>
<circle cx="537.1" cy="723.6" r="2.4"/>
<circle cx="543" cy="627" r="2.4"/>
<circle cx="532.6" cy="644.5" r="2.4"/>
<circle cx="535.8" cy="600.2" r="2.4"/>
<circle cx="542.1" cy="718" r="2.4"/>
<circle cx="532.7" cy="638.9" r="2.4"/>
<circle cx="535.9" cy="684.1" r="2.4"/>
<circle cx="541.7" cy="598.6" r="2.4"/>
<circle cx="533.7" cy="682" r="2.4"/>
<circle cx="531" cy="694.6" r="2.4"/>
<circle cx="531" cy="691.6" r="2.4"/>
<circle cx="532.5" cy="690.5" r="2.4"/>
<circle cx="548.2" cy="603.2" r="2.4"/>
<circle cx="545" cy="574.9" r="2.4"/>
<circle cx="533.6" cy="661.6" r="2.4"/>
<circle cx="534.8" cy="686.6" r="2.4"/>
<circle cx="532.8" cy="649.5" r="2.4"/>
<circle cx="542.3" cy="661.9" r="2.4"/>
<circle cx="533.9" cy="693.4" r="2.4"/>
<circle cx="539.1" cy="660.5" r="2.4"/>
<circle cx="536.1" cy="633.1" r="2.4"/>
<circle cx="538.8" cy="628.8" r="2.4"/>
<circle cx="544.4" cy="673.4" r="2.4"/>
<circle cx="545.4" cy="686.6" r="2.4"/>
<circle cx="546.2" cy="650" r="2.4"/>
<circle cx="533.7" cy="719" r="2.4"/>
<circle cx="539.9" cy="713.5" r="2.4"/>
<circle cx="531.8" cy="661.5" r="2.4"/>
<circle cx="538.8" cy="586.4" r="2.4"/>
<circle cx="531.8" cy="707.7" r="2.4"/>
<circle cx="535" cy="680.1" r="2.4"/>
<circle cx="541" cy="693.2" r="2.4"/>
<circle cx="535.8" cy="731.3" r="2.4"/>
<circle cx="542.5" cy="710" r="2.4"/>
<circle cx="538.4" cy="602.1" r="2.4"/>
<circle cx="539.5" cy="647.5" r="2.4"/>
<circle cx="537.4" cy="715" r="2.4"/>
<circle cx="540" cy="704.5" r="2.4"/>
<circle cx="531" cy="677.5" r="2.4"/>
<circle cx="532.9" cy="733.7" r="2.4"/>
<circle cx="537" cy="622.6" r="2.4"/>
<circle cx="548.4" cy="619.5" r="2.4"/>
<circle cx="540.4" cy="670.5" r="2.4"/>
<circle cx="535.2" cy="710.4" r="2.4"/>
<circle cx="544.7" cy="692.5" r="2.4"/>
<circle cx="545" cy="623.1" r="2.4"/>
<circle cx="535.6" cy="612.2" r="2.4"/>
<circle cx="537.3" cy="726.3" r="2.4"/>
<circle cx="539.9" cy="626.4" r="2.4"/>
<circle cx="537.6" cy="649.1" r="2.4"/>
<circle cx="539.6" cy="706.1" r="2.4"/>
<circle cx="544.5" cy="596.6" r="2.4"/>
<circle cx="540.1" cy="678.9" r="2.4"/>
<circle cx="538.2" cy="687.2" r="2.4"/>
<circle cx="535.1" cy="696.7" r="2.4"/>
<circle cx="535.9" cy="728.2" r="2.4"/>
<circle cx="545.7" cy="675" r="2.4"/>
<circle cx="534.7" cy="689.4" r="2.4"/>
<circle cx="537.6" cy="612.6" r="2.4"/>
<circle cx="536.1" cy="728.8" r="2.4"/>
<circle cx="545.9" cy="677.9" r="2.4"/>
<circle cx="543.9" cy="688.9" r="2.4"/>
<circle cx="536.1" cy="627.8" r="2.4"/>
<circle cx="534.8" cy="612.2" r="2.4"/>
<circle cx="542" cy="699.8" r="2.4"/>
<circle cx="536" cy="654" r="2.4"/>
<circle cx="533.8" cy="717.2" r="2.4"/>
<circle cx="544" cy="720.2" r="2.4"/>
<circle cx="533.1" cy="663" r="2.4"/>
<circle cx="548" cy="626.9" r="2.4"/>
<circle cx="542.5" cy="642.7" r="2.4"/>
<circle cx="544.2" cy="662.3" r="2.4"/>
<circle cx="546.8" cy="601.4" r="2.4"/>
<circle cx="532.3" cy="657.3" r="2.4"/>
<circle cx="538.7" cy="694.3" r="2.4"/>
<circle cx="532.1" cy="720.2" r="2.4"/>
<circle cx="539.3" cy="716.9" r="2.4"/>
<circle cx="544.5" cy="621.7" r="2.4"/>
<circle cx="547.7" cy="617.3" r="2.4"/>
<circle cx="541.8" cy="694.6" r="2.4"/>
<circle cx="537.5" cy="705.3" r="2.4"/>
<circle cx="538.8" cy="684.7" r="2.4"/>
<circle cx="531.3" cy="660.3" r="2.4"/>
<circle cx="535.9" cy="708.8" r="2.4"/>
<circle cx="537.5" cy="670" r="2.4"/>
<circle cx="534.6" cy="684.2" r="2.4"/>
<circle cx="533.1" cy="707.8" r="2.4"/>
<circle cx="535.9" cy="679.4" r="2.4"/>
<circle cx="532.7" cy="706.9" r="2.4"/>
<circle cx="541.7" cy="617.7" r="2.4"/>
<circle cx="533.9" cy="713.6" r="2.4"/>
<circle cx="550.3" cy="592.1" r="2.4"/>
<circle cx="541" cy="574.8" r="2.4"/>
<circle cx="542.4" cy="707.4" r="2.4"/>
<circle cx="544.9" cy="716" r="2.4"/>
<circle cx="539.7" cy="577" r="2.4"/>
<circle cx="543.9" cy="732.9" r="2.4"/>
<circle cx="533.6" cy="658.9" r="2.4"/>
<circle cx="537.1" cy="697.1" r="2.4"/>
<circle cx="533.7" cy="658" r="2.4"/>
<circle cx="536.2" cy="655.6" r="2.4"/>
<circle cx="533" cy="627.6" r="2.4"/>
<circle cx="540.2" cy="698.9" r="2.4"/>
<circle cx="536" cy="633.2" r="2.4"/>
<circle cx="534.2" cy="682.7" r="2.4"/>
<circle cx="539.2" cy="663.1" r="2.4"/>
<circle cx="541.8" cy="691.5" r="2.4"/>
<circle cx="539.2" cy="713.6" r="2.4"/>
<circle cx="544.8" cy="656" r="2.4"/>
<circle cx="543.4" cy="730.4" r="2.4"/>
<circle cx="537" cy="659.8" r="2.4"/>
<circle cx="533.9" cy="650.8" r="2.4"/>
<circle cx="543.2" cy="720.9" r="2.4"/>
<circle cx="536.5" cy="675.9" r="2.4"/>
<circle cx="531.3" cy="720.2" r="2.4"/>
<circle cx="542.8" cy="640.6" r="2.4"/>
<circle cx="541.4" cy="609.1" r="2.4"/>
<circle cx="533.4" cy="636" r="2.4"/>
<circle cx="534.5" cy="665.5" r="2.4"/>
<circle cx="544.6" cy="730.1" r="2.4"/>
<circle cx="547.7" cy="622.9" r="2.4"/>
<circle cx="534.2" cy="732.8" r="2.4"/>
<circle cx="539" cy="716.1" r="2.4"/>
<circle cx="539.7" cy="652" r="2.4"/>
<circle cx="538.2" cy="659" r="2.4"/>
<circle cx="545.8" cy="673.3" r="2.4"/>
<circle cx="535.3" cy="732.9" r="2.4"/>
<circle cx="533.1" cy="637.3" r="2.4"/>
<circle cx="540.4" cy="692.1" r="2.4"/>
<circle cx="536.5" cy="702.8" r="2.4"/>
<circle cx="530.8" cy="724.6" r="2.4"/>
<circle cx="531" cy="680.4" r="2.4"/>
<circle cx="537.1" cy="623.1" r="2.4"/>
<circle cx="539.8" cy="712.6" r="2.4"/>
<circle cx="541.3" cy="732.5" r="2.4"/>
<circle cx="542.1" cy="624.2" r="2.4"/>
<circle cx="540.3" cy="732.5" r="2.4"/>
<circle cx="541" cy="716.3" r="2.4"/>
<circle cx="539.6" cy="631.9" r="2.4"/>
<circle cx="541.3" cy="714.6" r="2.4"/>
<circle cx="531.9" cy="733.3" r="2.4"/>
<circle cx="542.2" cy="735.7" r="2.4"/>
<circle cx="540.7" cy="622.4" r="2.4"/>
<circle cx="538.3" cy="700.2" r="2.4"/>
<circle cx="533.8" cy="712.1" r="2.4"/>
<circle cx="549.4" cy="580.5" r="2.4"/>
<circle cx="548.5" cy="568.7" r="2.4"/>
<circle cx="536.3" cy="705.7" r="2.4"/>
<circle cx="541.2" cy="627" r="2.4"/>
<circle cx="532.1" cy="664.1" r="2.4"/>
<circle cx="532.1" cy="640.9" r="2.4"/>
<circle cx="537.2" cy="613.4" r="2.4"/>
<circle cx="544.2" cy="712.9" r="2.4"/>
<circle cx="536.7" cy="619.4" r="2.4"/>
<circle cx="540.9" cy="652.8" r="2.4"/>
<circle cx="533.9" cy="667.3" r="2.4"/>
<circle cx="541.8" cy="627.5" r="2.4"/>
<circle cx="533.1" cy="679" r="2.4"/>
<circle cx="534" cy="667.1" r="2.4"/>
<circle cx="543.4" cy="650" r="2.4"/>
<circle cx="538.9" cy="626.7" r="2.4"/>
<circle cx="540.7" cy="677" r="2.4"/>
<circle cx="536.4" cy="647.5" r="2.4"/>
<circle cx="542.2" cy="711" r="2.4"/>
<circle cx="539.8" cy="583.2" r="2.4"/>
<circle cx="532.8" cy="727.5" r="2.4"/>
<circle cx="542.8" cy="674.3" r="2.4"/>
<circle cx="545" cy="732.2" r="2.4"/>
<circle cx="539.9" cy="703.2" r="2.4"/>
<circle cx="542.6" cy="608" r="2.4"/>
<circle cx="538.7" cy="620" r="2.4"/>
<circle cx="543.9" cy="642.1" r="2.4"/>
<circle cx="532.8" cy="726.4" r="2.4"/>
<circle cx="535" cy="720.8" r="2.4"/>
<circle cx="534.7" cy="725.7" r="2.4"/>
<circle cx="538.4" cy="680.7" r="2.4"/>
<circle cx="545.2" cy="622.6" r="2.4"/>
<circle cx="533.9" cy="665.6" r="2.4"/>
<circle cx="532.5" cy="697.2" r="2.4"/>
<circle cx="538.7" cy="723.9" r="2.4"/>
<circle cx="540.4" cy="661.7" r="2.4"/>
<circle cx="540.8" cy="722.2" r="2.4"/>
<circle cx="539.9" cy="703.1" r="2.4"/>
<circle cx="537.5" cy="647.5" r="2.4"/>
<circle cx="545.6" cy="641.5" r="2.4"/>
<circle cx="538.8" cy="659" r="2.4"/>
<circle cx="538.2" cy="722.3" r="2.4"/>
<circle cx="546.6" cy="654.1" r="2.4"/>
<circle cx="542.7" cy="700.5" r="2.4"/>
<circle cx="538.7" cy="627.9" r="2.4"/>
<circle cx="539.6" cy="617" r="2.4"/>
<circle cx="545.2" cy="615" r="2.4"/>
<circle cx="538.5" cy="638.6" r="2.4"/>
<circle cx="542.3" cy="689.1" r="2.4"/>
<circle cx="539.5" cy="663.3" r="2.4"/>
<circle cx="542.7" cy="724.6" r="2.4"/>
<circle cx="540.7" cy="635.8" r="2.4"/>
<circle cx="537" cy="731.9" r="2.4"/>
<circle cx="541" cy="688.9" r="2.4"/>
<circle cx="534.6" cy="674.9" r="2.4"/>
<circle cx="542.3" cy="648.6" r="2.4"/>
<circle cx="539.8" cy="710.5" r="2.4"/>
<circle cx="534.3" cy="652.1" r="2.4"/>
<circle cx="538.9" cy="608.2" r="2.4"/>
<circle cx="543.7" cy="686.4" r="2.4"/>
<circle cx="540.1" cy="653.4" r="2.4"/>
<circle cx="544.4" cy="683.1" r="2.4"/>
<circle cx="534" cy="726.1" r="2.4"/>
<circle cx="535.9" cy="662.2" r="2.4"/>
<circle cx="552.6" cy="608.8" r="2.4"/>
<circle cx="532.7" cy="680.7" r="2.4"/>
<circle cx="531.1" cy="731.8" r="2.4"/>
<circle cx="535" cy="675.5" r="2.4"/>
<circle cx="540.1" cy="686.1" r="2.4"/>
<circle cx="531.3" cy="688.8" r="2.4"/>
<circle cx="543.9" cy="613" r="2.4"/>
<circle cx="545.2" cy="656" r="2.4"/>
<circle cx="543.7" cy="714.9" r="2.4"/>
<circle cx="536.4" cy="673.9" r="2.4"/>
<circle cx="535.4" cy="628.2" r="2.4"/>
<circle cx="533.4" cy="659.7" r="2.4"/>
<circle cx="531.6" cy="729.9" r="2.4"/>
<circle cx="533.7" cy="651" r="2.4"/>
<circle cx="531.1" cy="679.2" r="2.4"/>
<circle cx="544.1" cy="693.9" r="2.4"/>
<circle cx="538.9" cy="671.8" r="2.4"/>
<circle cx="543.6" cy="637.8" r="2.4"/>
<circle cx="539.8" cy="652.6" r="2.4"/>
<circle cx="544.4" cy="735.2" r="2.4"/>
<circle cx="540.8" cy="623" r="2.4"/>
<circle cx="534.9" cy="677.4" r="2.4"/>
<circle cx="539.5" cy="688" r="2.4"/>
<circle cx="533.7" cy="663.5" r="2.4"/>
<circle cx="538.8" cy="669.7" r="2.4"/>
<circle cx="536.4" cy="701.4" r="2.4"/>
<circle cx="531.1" cy="671.7" r="2.4"/>
<circle cx="533.2" cy="690" r="2.4"/>
<circle cx="532.5" cy="663.5" r="2.4"/>
<circle cx="544.2" cy="641.4" r="2.4"/>
<circle cx="551" cy="604.7" r="2.4"/>
<circle cx="541.2" cy="584.1" r="2.4"/>
<circle cx="533.1" cy="648.5" r="2.4"/>
<circle cx="549.6" cy="615.6" r="2.4"/>
<circle cx="539.8" cy="629.4" r="2.4"/>
<circle cx="544" cy="684" r="2.4"/>
<circle cx="532.6" cy="644.1" r="2.4"/>
<circle cx="538.7" cy="695.9" r="2.4"/>
<circle cx="531.6" cy="660.9" r="2.4"/>
<circle cx="548.6" cy="632.2" r="2.4"/>
<circle cx="541.8" cy="672.5" r="2.4"/>
<circle cx="534" cy="682.3" r="2.4"/>
<circle cx="537.2" cy="659.8" r="2.4"/>
<circle cx="535.3" cy="710.8" r="2.4"/>
<circle cx="543" cy="646" r="2.4"/>
<circle cx="533.6" cy="633.5" r="2.4"/>
<circle cx="534.3" cy="648.5" r="2.4"/>
<circle cx="540.2" cy="570.3" r="2.4"/>
<circle cx="535.2" cy="704.2" r="2.4"/>
<circle cx="536" cy="634" r="2.4"/>
<circle cx="545.8" cy="645.4" r="2.4"/>
<circle cx="533.3" cy="693.7" r="2.4"/>
<circle cx="536.1" cy="705.6" r="2.4"/>
<circle cx="544.9" cy="716.7" r="2.4"/>
<circle cx="545.1" cy="665.4" r="2.4"/>
<circle cx="535.9" cy="701.4" r="2.4"/>
<circle cx="549.5" cy="629.2" r="2.4"/>
<circle cx="534.8" cy="712.9" r="2.4"/>
<circle cx="542.1" cy="703.6" r="2.4"/>
<circle cx="534.7" cy="625.8" r="2.4"/>
<circle cx="539.8" cy="713.6" r="2.4"/>
<circle cx="537.4" cy="642.2" r="2.4"/>
<circle cx="544.5" cy="640.1" r="2.4"/>
<circle cx="542.3" cy="727.5" r="2.4"/>
<circle cx="531.1" cy="687" r="2.4"/>
<circle cx="539.5" cy="731.8" r="2.4"/>
<circle cx="541.8" cy="716.3" r="2.4"/>
<circle cx="532.4" cy="733.9" r="2.4"/>
<circle cx="536.5" cy="689.7" r="2.4"/>
<circle cx="534.3" cy="680.7" r="2.4"/>
<circle cx="544.2" cy="630.4" r="2.4"/>
<circle cx="550.1" cy="577.6" r="2.4"/>
<circle cx="535.8" cy="602.2" r="2.4"/>
<circle cx="538.8" cy="654.6" r="2.4"/>
<circle cx="545.7" cy="676.3" r="2.4"/>
<circle cx="532.6" cy="703.9" r="2.4"/>
<circle cx="539.7" cy="646.9" r="2.4"/>
<circle cx="536.8" cy="665.8" r="2.4"/>
<circle cx="531" cy="681.1" r="2.4"/>
<circle cx="539.5" cy="670.2" r="2.4"/>
<circle cx="534.7" cy="725.3" r="2.4"/>
<circle cx="541.2" cy="658.8" r="2.4"/>
<circle cx="537.9" cy="718.3" r="2.4"/>
<circle cx="535.3" cy="661.5" r="2.4"/>
<circle cx="534.1" cy="682.8" r="2.4"/>
<circle cx="547.4" cy="608.7" r="2.4"/>
<circle cx="531.7" cy="691.4" r="2.4"/>
<circle cx="539.1" cy="680.4" r="2.4"/>
<circle cx="530.9" cy="721" r="2.4"/>
<circle cx="536" cy="689.3" r="2.4"/>
<circle cx="538.1" cy="677.3" r="2.4"/>
<circle cx="531.5" cy="699.5" r="2.4"/>
<circle cx="534.9" cy="698.7" r="2.4"/>
<circle cx="541.3" cy="725.5" r="2.4"/>
<circle cx="535.1" cy="622.3" r="2.4"/>
<circle cx="541.1" cy="574.4" r="2.4"/>
<circle cx="531.8" cy="693.6" r="2.4"/>
<circle cx="545.6" cy="643.1" r="2.4"/>
<circle cx="545.8" cy="679.5" r="2.4"/>
<circle cx="539.5" cy="719.3" r="2.4"/>
<circle cx="530.8" cy="689.4" r="2.4"/>
<circle cx="531.9" cy="674.1" r="2.4"/>
<circle cx="532.2" cy="692.6" r="2.4"/>
<circle cx="533.1" cy="726.2" r="2.4"/>
<circle cx="533.7" cy="723.7" r="2.4"/>
<circle cx="542.4" cy="604.6" r="2.4"/>
<circle cx="540.4" cy="717.5" r="2.4"/>
<circle cx="535.5" cy="686" r="2.4"/>
<circle cx="541.9" cy="658.3" r="2.4"/>
<circle cx="538.1" cy="638.1" r="2.4"/>
<circle cx="539.9" cy="684.6" r="2.4"/>
<circle cx="536.5" cy="728" r="2.4"/>
<circle cx="535.5" cy="686" r="2.4"/>
<circle cx="535.7" cy="654.6" r="2.4"/>
<circle cx="534" cy="735.8" r="2.4"/>
<circle cx="536.1" cy="656.1" r="2.4"/>
<circle cx="550" cy="574.1" r="2.4"/>
<circle cx="544" cy="658.1" r="2.4"/>
<circle cx="539.7" cy="695.1" r="2.4"/>
<circle cx="546.7" cy="635.4" r="2.4"/>
<circle cx="536" cy="707.8" r="2.4"/>
<circle cx="538.9" cy="622.2" r="2.4"/>
<circle cx="546.7" cy="584.7" r="2.4"/>
<circle cx="543.2" cy="672.5" r="2.4"/>
<circle cx="534.1" cy="691.5" r="2.4"/>
<circle cx="542.1" cy="644.9" r="2.4"/>
<circle cx="548.7" cy="621.2" r="2.4"/>
<circle cx="538.7" cy="667.4" r="2.4"/>
<circle cx="541.5" cy="659.7" r="2.4"/>
<circle cx="531.4" cy="697.4" r="2.4"/>
<circle cx="543.3" cy="728.2" r="2.4"/>
<circle cx="545" cy="678.4" r="2.4"/>
<circle cx="541.9" cy="642.6" r="2.4"/>
<circle cx="533.4" cy="697.4" r="2.4"/>
<circle cx="535.2" cy="712.4" r="2.4"/>
<circle cx="537.9" cy="666.7" r="2.4"/>
<circle cx="535.7" cy="634.7" r="2.4"/>
<circle cx="533.5" cy="720.5" r="2.4"/>
<circle cx="538.9" cy="661.6" r="2.4"/>
<circle cx="545.2" cy="657.6" r="2.4"/>
<circle cx="548.4" cy="623.3" r="2.4"/>
<circle cx="537.2" cy="630.4" r="2.4"/>
<circle cx="537.5" cy="716.7" r="2.4"/>
<circle cx="536.6" cy="616.8" r="2.4"/>
<circle cx="536.4" cy="619" r="2.4"/>
<circle cx="533.3" cy="649.7" r="2.4"/>
<circle cx="531.2" cy="699.4" r="2.4"/>
<circle cx="539.7" cy="684" r="2.4"/>
<circle cx="532.2" cy="646.5" r="2.4"/>
<circle cx="534.5" cy="649.5" r="2.4"/>
<circle cx="539.3" cy="634.7" r="2.4"/>
<circle cx="546.4" cy="650.3" r="2.4"/>
<circle cx="535.9" cy="678.7" r="2.4"/>
<circle cx="534.9" cy="725.4" r="2.4"/>
<circle cx="535.5" cy="724.3" r="2.4"/>
<circle cx="540.1" cy="726.7" r="2.4"/>
<circle cx="545" cy="657.5" r="2.4"/>
<circle cx="547" cy="584.2" r="2.4"/>
<circle cx="542.4" cy="594.9" r="2.4"/>
<circle cx="541" cy="675.4" r="2.4"/>
<circle cx="537.3" cy="677.2" r="2.4"/>
<circle cx="543" cy="628.4" r="2.4"/>
<circle cx="535.8" cy="663.7" r="2.4"/>
<circle cx="542.5" cy="660.5" r="2.4"/>
<circle cx="532.7" cy="700" r="2.4"/>
<circle cx="532.5" cy="716.4" r="2.4"/>
<circle cx="531.1" cy="727.4" r="2.4"/>
<circle cx="534.5" cy="733.6" r="2.4"/>
<circle cx="542.6" cy="601.5" r="2.4"/>
<circle cx="532.3" cy="714.6" r="2.4"/>
<circle cx="548.8" cy="631.4" r="2.4"/>
<circle cx="543" cy="713.5" r="2.4"/>
<circle cx="533.9" cy="682.4" r="2.4"/>
<circle cx="543.1" cy="666.6" r="2.4"/>
<circle cx="536.5" cy="694.4" r="2.4"/>
<circle cx="541.1" cy="645.4" r="2.4"/>
<circle cx="538.5" cy="632" r="2.4"/>
<circle cx="531.7" cy="712.5" r="2.4"/>
<circle cx="550.5" cy="616.2" r="2.4"/>
<circle cx="534.9" cy="732.5" r="2.4"/>
<circle cx="544.4" cy="696.1" r="2.4"/>
<circle cx="542.7" cy="628" r="2.4"/>
<circle cx="541.9" cy="700.5" r="2.4"/>
<circle cx="543.3" cy="620.9" r="2.4"/>
<circle cx="535.1" cy="734.5" r="2.4"/>
<circle cx="539.2" cy="597.4" r="2.4"/>
<circle cx="543.2" cy="698.9" r="2.4"/>
<circle cx="542.5" cy="638.1" r="2.4"/>
<circle cx="533.8" cy="717" r="2.4"/>
<circle cx="545.5" cy="618.9" r="2.4"/>
<circle cx="539" cy="690.6" r="2.4"/>
<circle cx="536.3" cy="626.8" r="2.4"/>
<circle cx="533.4" cy="649.3" r="2.4"/>
<circle cx="542.6" cy="640" r="2.4"/>
<circle cx="536" cy="648.9" r="2.4"/>
<circle cx="543.7" cy="694.3" r="2.4"/>
<circle cx="544.3" cy="678.3" r="2.4"/>
<circle cx="536.1" cy="622.5" r="2.4"/>
<circle cx="544.3" cy="729.7" r="2.4"/>
<circle cx="535.4" cy="638" r="2.4"/>
<circle cx="537.3" cy="671.8" r="2.4"/>
<circle cx="541.9" cy="648.4" r="2.4"/>
<circle cx="542.7" cy="685.3" r="2.4"/>
<circle cx="536.3" cy="629.6" r="2.4"/>
<circle cx="533.8" cy="655.6" r="2.4"/>
<circle cx="537.9" cy="717.6" r="2.4"/>
<circle cx="532" cy="642.8" r="2.4"/>
<circle cx="531.2" cy="688.4" r="2.4"/>
<circle cx="541.1" cy="618.7" r="2.4"/>
<circle cx="533.6" cy="661.4" r="2.4"/>
<circle cx="535.2" cy="638.3" r="2.4"/>
<circle cx="542.3" cy="711.5" r="2.4"/>
<circle cx="533.1" cy="712" r="2.4"/>
<circle cx="543.6" cy="691.3" r="2.4"/>
<circle cx="532.7" cy="726.5" r="2.4"/>
<circle cx="535.4" cy="706.8" r="2.4"/>
<circle cx="539.2" cy="685.6" r="2.4"/>
<circle cx="536.7" cy="624.3" r="2.4"/>
<circle cx="537.3" cy="712.9" r="2.4"/>
<circle cx="538.7" cy="671.6" r="2.4"/>
<circle cx="536.9" cy="692.4" r="2.4"/>
<circle cx="536.2" cy="622.8" r="2.4"/>
<circle cx="540.3" cy="628.1" r="2.4"/>
<circle cx="532.5" cy="649.8" r="2.4"/>
<circle cx="543.3" cy="587.2" r="2.4"/>
<circle cx="535" cy="677.1" r="2.4"/>
<circle cx="533.4" cy="725.1" r="2.4"/>
<circle cx="553" cy="528.8" r="2.4"/>
<circle cx="561.7" cy="538" r="2.4"/>
<circle cx="576.6" cy="538.5" r="2.4"/>
<circle cx="558.7" cy="545.4" r="2.4"/>
<circle cx="562.2" cy="544.1" r="2.4"/>
<circle cx="560.6" cy="548.9" r="2.4"/>
<circle cx="560.1" cy="552.1" r="2.4"/>
<circle cx="544" cy="549.7" r="2.4"/>
<circle cx="548.1" cy="548.6" r="2.4"/>
<circle cx="573.8" cy="552.1" r="2.4"/>
<circle cx="577.8" cy="552.6" r="2.4"/>
<circle cx="557.1" cy="556.6" r="2.4"/>
<circle cx="553" cy="559.7" r="2.4"/>
<circle cx="555.4" cy="562.1" r="2.4"/>
<circle cx="562.2" cy="563.4" r="2.4"/>
<circle cx="567.8" cy="556.1" r="2.4"/>
<circle cx="567.5" cy="559.3" r="2.4"/>
<circle cx="572.6" cy="560.1" r="2.4"/>
<circle cx="584.2" cy="563.7" r="2.4"/>
<circle cx="589.2" cy="569.8" r="2.4"/>
<circle cx="544.8" cy="564.6" r="2.4"/>
<circle cx="546.9" cy="566.3" r="2.4"/>
<circle cx="555" cy="567.1" r="2.4"/>
<circle cx="559.3" cy="571.4" r="2.4"/>
<circle cx="543.7" cy="569.8" r="2.4"/>
<circle cx="549.3" cy="573" r="2.4"/>
<circle cx="552.6" cy="575.4" r="2.4"/>
<circle cx="541.3" cy="575.9" r="2.4"/>
<circle cx="544.5" cy="577.5" r="2.4"/>
<circle cx="565.4" cy="577.8" r="2.4"/>
<circle cx="581.1" cy="577" r="2.4"/>
<circle cx="554.2" cy="579.4" r="2.4"/>
<circle cx="548.2" cy="585" r="2.4"/>
<circle cx="557.4" cy="586.2" r="2.4"/>
<circle cx="565.9" cy="585.8" r="2.4"/>
<circle cx="540.5" cy="585.8" r="2.4"/>
<circle cx="549.3" cy="588.3" r="2.4"/>
<circle cx="539.2" cy="589.9" r="2.4"/>
<circle cx="553" cy="590.7" r="2.4"/>
<circle cx="557.7" cy="592.3" r="2.4"/>
<circle cx="543.7" cy="592.3" r="2.4"/>
<circle cx="538.1" cy="594.7" r="2.4"/>
<circle cx="547.7" cy="595.5" r="2.4"/>
<circle cx="571.8" cy="603.4" r="2.4"/>
<circle cx="555" cy="609.8" r="2.4"/>
<circle cx="564.9" cy="615.1" r="2.4"/>
<circle cx="569.4" cy="612.3" r="2.4"/>
<circle cx="569.1" cy="620.4" r="2.4"/>
<circle cx="553.7" cy="616.7" r="2.4"/>
<circle cx="555.8" cy="618.3" r="2.4"/>
<circle cx="574.2" cy="627.9" r="2.4"/>
<circle cx="564.3" cy="632.3" r="2.4"/>
<circle cx="566.5" cy="631.1" r="2.4"/>
<circle cx="593.8" cy="633.5" r="2.4"/>
<circle cx="574.2" cy="641.3" r="2.4"/>
<circle cx="587.1" cy="640.8" r="2.4"/>
<circle cx="593.5" cy="641.9" r="2.4"/>
<circle cx="563.8" cy="646.7" r="2.4"/>
<circle cx="583.4" cy="648.5" r="2.4"/>
<circle cx="553" cy="654.4" r="2.4"/>
<circle cx="563.8" cy="658.8" r="2.4"/>
<circle cx="572.3" cy="658.1" r="2.4"/>
<circle cx="577.1" cy="660.8" r="2.4"/>
<circle cx="567" cy="663.3" r="2.4"/>
<circle cx="571.5" cy="665.7" r="2.4"/>
<circle cx="578.7" cy="667.6" r="2.4"/>
<circle cx="584.2" cy="665.7" r="2.4"/>
<circle cx="588.7" cy="667.3" r="2.4"/>
<circle cx="591.9" cy="668.9" r="2.4"/>
<circle cx="556.6" cy="668.9" r="2.4"/>
<circle cx="555.8" cy="671.3" r="2.4"/>
<circle cx="570.2" cy="670.5" r="2.4"/>
<circle cx="546.9" cy="674.8" r="2.4"/>
<circle cx="561.1" cy="677.2" r="2.4"/>
<circle cx="569.7" cy="674" r="2.4"/>
<circle cx="576.3" cy="676.7" r="2.4"/>
<circle cx="581.9" cy="680.9" r="2.4"/>
<circle cx="581.9" cy="675.6" r="2.4"/>
<circle cx="585.8" cy="673.2" r="2.4"/>
<circle cx="595.9" cy="676.4" r="2.4"/>
<circle cx="597.2" cy="680" r="2.4"/>
<circle cx="553" cy="679.6" r="2.4"/>
<circle cx="561.1" cy="683.7" r="2.4"/>
<circle cx="552.6" cy="685.3" r="2.4"/>
<circle cx="571.3" cy="686.5" r="2.4"/>
<circle cx="553" cy="690.9" r="2.4"/>
<circle cx="559.5" cy="693.8" r="2.4"/>
<circle cx="600.4" cy="694.9" r="2.4"/>
<circle cx="571.5" cy="697" r="2.4"/>
<circle cx="553.4" cy="697.6" r="2.4"/>
<circle cx="555.8" cy="700.2" r="2.4"/>
<circle cx="561.7" cy="699.7" r="2.4"/>
<circle cx="583.6" cy="703.2" r="2.4"/>
<circle cx="547.4" cy="702.9" r="2.4"/>
<circle cx="559.5" cy="704.5" r="2.4"/>
<circle cx="554.2" cy="706.6" r="2.4"/>
<circle cx="562.2" cy="707.3" r="2.4"/>
<circle cx="571" cy="708.9" r="2.4"/>
<circle cx="569.4" cy="710.6" r="2.4"/>
<circle cx="562.7" cy="712.1" r="2.4"/>
<circle cx="552.1" cy="713.4" r="2.4"/>
<circle cx="549.8" cy="716.1" r="2.4"/>
<circle cx="558.5" cy="716.6" r="2.4"/>
<circle cx="577.8" cy="717.7" r="2.4"/>
<circle cx="579.9" cy="721.1" r="2.4"/>
<circle cx="578.3" cy="723.8" r="2.4"/>
<circle cx="588.7" cy="719.5" r="2.4"/>
<circle cx="582.3" cy="726.2" r="2.4"/>
<circle cx="555.3" cy="725.9" r="2.4"/>
<circle cx="568.1" cy="727.3" r="2.4"/>
<circle cx="551.4" cy="730.7" r="2.4"/>
<circle cx="556.3" cy="731.8" r="2.4"/>
<circle cx="560.6" cy="733" r="2.4"/>
<circle cx="602.8" cy="731" r="2.4"/>
<circle cx="607.6" cy="735" r="2.4"/>
<circle cx="545.3" cy="734.2" r="2.4"/>
<circle cx="587.1" cy="670.2" r="2.4"/>
</g>
<g fill="#b2b2b2" fill-opacity="0.72" stroke="#b2b2b2" stroke-opacity="0.72" stroke-width="0.5">
<circle cx="530.2" cy="719.3" r="2.4"/>
<circle cx="537.2" cy="740.5" r="2.4"/>
<circle cx="530.5" cy="716.7" r="2.4"/>
<circle cx="523.1" cy="694" r="2.4"/>
<circle cx="524" cy="732.1" r="2.4"/>
<circle cx="531.7" cy="742.5" r="2.4"/>
<circle cx="524.1" cy="727.7" r="2.4"/>
<circle cx="535.9" cy="738.2" r="2.4"/>
<circle cx="523.6" cy="704.5" r="2.4"/>
<circle cx="531.4" cy="711.4" r="2.4"/>
<circle cx="522.8" cy="681.7" r="2.4"/>
<circle cx="530.4" cy="714.9" r="2.4"/>
<circle cx="529.9" cy="709.5" r="2.4"/>
<circle cx="535.7" cy="740.6" r="2.4"/>
<circle cx="522.5" cy="699.8" r="2.4"/>
<circle cx="523" cy="706" r="2.4"/>
<circle cx="520.1" cy="738.6" r="2.4"/>
<circle cx="540.3" cy="741.8" r="2.4"/>
<circle cx="531.2" cy="691.4" r="2.4"/>
<circle cx="523.9" cy="711.4" r="2.4"/>
<circle cx="533.9" cy="739.9" r="2.4"/>
<circle cx="534.1" cy="741.3" r="2.4"/>
<circle cx="530.6" cy="687.1" r="2.4"/>
<circle cx="531" cy="701.9" r="2.4"/>
<circle cx="530.5" cy="689.3" r="2.4"/>
<circle cx="522.7" cy="705.7" r="2.4"/>
<circle cx="523.5" cy="722.2" r="2.4"/>
<circle cx="530.9" cy="731.3" r="2.4"/>
<circle cx="523.6" cy="703.3" r="2.4"/>
<circle cx="524.6" cy="730.2" r="2.4"/>
<circle cx="531.4" cy="720.5" r="2.4"/>
<circle cx="530.7" cy="694.2" r="2.4"/>
<circle cx="530.8" cy="737" r="2.4"/>
<circle cx="523.3" cy="703.6" r="2.4"/>
<circle cx="526.7" cy="740.3" r="2.4"/>
<circle cx="529.7" cy="715.2" r="2.4"/>
<circle cx="518.2" cy="738.6" r="2.4"/>
<circle cx="530.8" cy="704.2" r="2.4"/>
<circle cx="531.2" cy="701.8" r="2.4"/>
<circle cx="531.2" cy="742.3" r="2.4"/>
<circle cx="517.7" cy="739.6" r="2.4"/>
<circle cx="529.5" cy="736.1" r="2.4"/>
<circle cx="530.7" cy="681.7" r="2.4"/>
<circle cx="529.1" cy="735.1" r="2.4"/>
<circle cx="523.9" cy="724.1" r="2.4"/>
<circle cx="523.3" cy="695.7" r="2.4"/>
<circle cx="530" cy="729" r="2.4"/>
<circle cx="531.1" cy="708" r="2.4"/>
<circle cx="523.2" cy="705.6" r="2.4"/>
<circle cx="518.8" cy="739.5" r="2.4"/>
<circle cx="522.7" cy="729.4" r="2.4"/>
<circle cx="530.8" cy="728.2" r="2.4"/>
<circle cx="530.7" cy="724.6" r="2.4"/>
<circle cx="529.6" cy="719.3" r="2.4"/>
<circle cx="531" cy="704.7" r="2.4"/>
<circle cx="531" cy="705.5" r="2.4"/>
<circle cx="523.2" cy="681.8" r="2.4"/>
<circle cx="523.3" cy="698.4" r="2.4"/>
<circle cx="530.7" cy="690.9" r="2.4"/>
<circle cx="541.3" cy="741.7" r="2.4"/>
<circle cx="530.3" cy="712.9" r="2.4"/>
<circle cx="520.3" cy="742.5" r="2.4"/>
<circle cx="522.8" cy="709.7" r="2.4"/>
<circle cx="522.6" cy="701.9" r="2.4"/>
<circle cx="531.2" cy="692" r="2.4"/>
<circle cx="530.8" cy="681.7" r="2.4"/>
<circle cx="530.6" cy="700.1" r="2.4"/>
<circle cx="523.2" cy="702.6" r="2.4"/>
<circle cx="530.6" cy="697.2" r="2.4"/>
<circle cx="529.2" cy="725.9" r="2.4"/>
<circle cx="529.9" cy="716.1" r="2.4"/>
<circle cx="522.9" cy="724.5" r="2.4"/>
<circle cx="527.5" cy="741.7" r="2.4"/>
<circle cx="522.7" cy="742.1" r="2.4"/>
<circle cx="524.1" cy="726.8" r="2.4"/>
<circle cx="523.7" cy="710.4" r="2.4"/>
<circle cx="530.4" cy="741.7" r="2.4"/>
<circle cx="540" cy="742.6" r="2.4"/>
<circle cx="522.7" cy="683.3" r="2.4"/>
<circle cx="536.7" cy="739.4" r="2.4"/>
<circle cx="522.6" cy="684.6" r="2.4"/>
<circle cx="527.3" cy="741.8" r="2.4"/>
<circle cx="523.3" cy="701.9" r="2.4"/>
<circle cx="531.2" cy="709.8" r="2.4"/>
<circle cx="526.2" cy="741.9" r="2.4"/>
<circle cx="523" cy="691.4" r="2.4"/>
<circle cx="523" cy="717.7" r="2.4"/>
<circle cx="522.8" cy="717.7" r="2.4"/>
<circle cx="530.3" cy="711.2" r="2.4"/>
<circle cx="523.9" cy="727.4" r="2.4"/>
<circle cx="538.9" cy="742.9" r="2.4"/>
<circle cx="529.1" cy="741.4" r="2.4"/>
<circle cx="536.6" cy="738.1" r="2.4"/>
<circle cx="522.5" cy="695.7" r="2.4"/>
<circle cx="530.4" cy="712.1" r="2.4"/>
<circle cx="533.7" cy="738.7" r="2.4"/>
<circle cx="531.3" cy="693.1" r="2.4"/>
<circle cx="522.3" cy="741.2" r="2.4"/>
<circle cx="522.8" cy="736" r="2.4"/>
<circle cx="537.2" cy="739.2" r="2.4"/>
<circle cx="523" cy="699.7" r="2.4"/>
<circle cx="529.7" cy="733" r="2.4"/>
<circle cx="522.6" cy="732.7" r="2.4"/>
<circle cx="528.5" cy="741.5" r="2.4"/>
<circle cx="529" cy="733.1" r="2.4"/>
<circle cx="523.2" cy="704.8" r="2.4"/>
<circle cx="523.3" cy="704.4" r="2.4"/>
<circle cx="522.8" cy="727.9" r="2.4"/>
<circle cx="522.9" cy="705.2" r="2.4"/>
<circle cx="531" cy="704.1" r="2.4"/>
<circle cx="537.3" cy="740.8" r="2.4"/>
<circle cx="522.1" cy="741.2" r="2.4"/>
<circle cx="531.2" cy="701.4" r="2.4"/>
<circle cx="530.7" cy="685.4" r="2.4"/>
<circle cx="531.2" cy="689" r="2.4"/>
<circle cx="531.3" cy="700.6" r="2.4"/>
<circle cx="522.6" cy="739.5" r="2.4"/>
<circle cx="527" cy="742.7" r="2.4"/>
<circle cx="530.7" cy="702.8" r="2.4"/>
<circle cx="527.1" cy="742.1" r="2.4"/>
<circle cx="530.5" cy="703.2" r="2.4"/>
<circle cx="535.1" cy="742.1" r="2.4"/>
<circle cx="516.5" cy="742.5" r="2.4"/>
<circle cx="523" cy="682" r="2.4"/>
<circle cx="516.8" cy="742.2" r="2.4"/>
<circle cx="524" cy="711.8" r="2.4"/>
<circle cx="524.4" cy="728" r="2.4"/>
<circle cx="531.2" cy="738.7" r="2.4"/>
<circle cx="523.5" cy="717.5" r="2.4"/>
<circle cx="531.1" cy="719.7" r="2.4"/>
<circle cx="530.9" cy="686.4" r="2.4"/>
<circle cx="526.5" cy="739.3" r="2.4"/>
<circle cx="530" cy="708.3" r="2.4"/>
<circle cx="522.9" cy="708.5" r="2.4"/>
<circle cx="530.9" cy="723.1" r="2.4"/>
<circle cx="531.3" cy="685.6" r="2.4"/>
<circle cx="523.8" cy="723.3" r="2.4"/>
<circle cx="532.2" cy="740.1" r="2.4"/>
<circle cx="524.2" cy="735" r="2.4"/>
<circle cx="523.1" cy="688.1" r="2.4"/>
<circle cx="523.6" cy="735.1" r="2.4"/>
<circle cx="522.7" cy="733.1" r="2.4"/>
<circle cx="523.1" cy="689.8" r="2.4"/>
<circle cx="523.1" cy="723.5" r="2.4"/>
<circle cx="523.6" cy="712.9" r="2.4"/>
<circle cx="523.3" cy="710" r="2.4"/>
<circle cx="530.7" cy="713.3" r="2.4"/>
<circle cx="520.2" cy="739.8" r="2.4"/>
<circle cx="526.6" cy="741.8" r="2.4"/>
<circle cx="528.7" cy="732.3" r="2.4"/>
<circle cx="522.8" cy="703" r="2.4"/>
<circle cx="521.1" cy="741.6" r="2.4"/>
<circle cx="530.3" cy="737.9" r="2.4"/>
<circle cx="530.7" cy="731.2" r="2.4"/>
<circle cx="532.3" cy="741" r="2.4"/>
<circle cx="522.2" cy="742.1" r="2.4"/>
<circle cx="531.2" cy="686.6" r="2.4"/>
<circle cx="522.9" cy="701.1" r="2.4"/>
<circle cx="528.8" cy="740.5" r="2.4"/>
<circle cx="531.3" cy="682.1" r="2.4"/>
<circle cx="525.9" cy="738.7" r="2.4"/>
<circle cx="523.1" cy="727.7" r="2.4"/>
<circle cx="528" cy="741.6" r="2.4"/>
<circle cx="530" cy="716.2" r="2.4"/>
<circle cx="530.8" cy="684" r="2.4"/>
<circle cx="531.3" cy="696.2" r="2.4"/>
<circle cx="530.7" cy="701.2" r="2.4"/>
<circle cx="516.9" cy="741.5" r="2.4"/>
<circle cx="531" cy="713.1" r="2.4"/>
<circle cx="522.8" cy="728.4" r="2.4"/>
<circle cx="524.3" cy="731.4" r="2.4"/>
<circle cx="523.5" cy="729.4" r="2.4"/>
<circle cx="522.7" cy="712.2" r="2.4"/>
<circle cx="530.9" cy="712.1" r="2.4"/>
<circle cx="524.5" cy="728.4" r="2.4"/>
<circle cx="522.7" cy="700.3" r="2.4"/>
<circle cx="524.6" cy="737.4" r="2.4"/>
<circle cx="531.3" cy="696.4" r="2.4"/>
<circle cx="530.7" cy="697.6" r="2.4"/>
<circle cx="522.8" cy="735.2" r="2.4"/>
<circle cx="531" cy="687.1" r="2.4"/>
<circle cx="522.9" cy="718.7" r="2.4"/>
<circle cx="522.7" cy="707.7" r="2.4"/>
<circle cx="523" cy="712.1" r="2.4"/>
<circle cx="530.7" cy="695.6" r="2.4"/>
<circle cx="527.5" cy="739" r="2.4"/>
<circle cx="520.5" cy="738.1" r="2.4"/>
<circle cx="530.2" cy="704.7" r="2.4"/>
<circle cx="529.4" cy="729.8" r="2.4"/>
<circle cx="519.1" cy="739.4" r="2.4"/>
<circle cx="537" cy="741.3" r="2.4"/>
<circle cx="523.5" cy="736" r="2.4"/>
<circle cx="534.6" cy="741.7" r="2.4"/>
<circle cx="535.3" cy="739.6" r="2.4"/>
<circle cx="523.7" cy="708.8" r="2.4"/>
<circle cx="531.4" cy="716.1" r="2.4"/>
<circle cx="530.4" cy="697.5" r="2.4"/>
<circle cx="522.8" cy="699" r="2.4"/>
<circle cx="523.1" cy="692.1" r="2.4"/>
<circle cx="523.3" cy="734.6" r="2.4"/>
<circle cx="529.1" cy="729.4" r="2.4"/>
<circle cx="523.4" cy="701.4" r="2.4"/>
<circle cx="522.8" cy="714" r="2.4"/>
<circle cx="522.8" cy="694.5" r="2.4"/>
<circle cx="522.6" cy="709" r="2.4"/>
<circle cx="529.8" cy="717.7" r="2.4"/>
<circle cx="523.3" cy="690.5" r="2.4"/>
<circle cx="530.6" cy="742.6" r="2.4"/>
<circle cx="519.3" cy="742.9" r="2.4"/>
<circle cx="530.3" cy="715" r="2.4"/>
<circle cx="526.8" cy="738.6" r="2.4"/>
<circle cx="530.7" cy="724.1" r="2.4"/>
<circle cx="523.1" cy="709.6" r="2.4"/>
<circle cx="530.7" cy="737.3" r="2.4"/>
<circle cx="524.7" cy="732.7" r="2.4"/>
<circle cx="523" cy="703.8" r="2.4"/>
<circle cx="522.8" cy="742.9" r="2.4"/>
<circle cx="522.6" cy="686.8" r="2.4"/>
<circle cx="531" cy="706.2" r="2.4"/>
<circle cx="530.5" cy="734.5" r="2.4"/>
<circle cx="530.6" cy="682.8" r="2.4"/>
<circle cx="538.4" cy="739.5" r="2.4"/>
<circle cx="530.8" cy="689" r="2.4"/>
<circle cx="522.8" cy="702.1" r="2.4"/>
<circle cx="524" cy="737.1" r="2.4"/>
<circle cx="523.2" cy="696.3" r="2.4"/>
<circle cx="528.2" cy="740.2" r="2.4"/>
<circle cx="523.2" cy="701.5" r="2.4"/>
<circle cx="530.2" cy="742.7" r="2.4"/>
<circle cx="538.2" cy="740.5" r="2.4"/>
<circle cx="522.9" cy="717.4" r="2.4"/>
<circle cx="529.3" cy="741.7" r="2.4"/>
<circle cx="522.6" cy="684.7" r="2.4"/>
<circle cx="523.4" cy="710.4" r="2.4"/>
<circle cx="524.2" cy="740.7" r="2.4"/>
<circle cx="530.8" cy="700.1" r="2.4"/>
<circle cx="521.8" cy="738.2" r="2.4"/>
<circle cx="522.8" cy="691.2" r="2.4"/>
<circle cx="537.5" cy="740.6" r="2.4"/>
<circle cx="530.7" cy="697" r="2.4"/>
<circle cx="523.1" cy="682.8" r="2.4"/>
<circle cx="523.7" cy="712.8" r="2.4"/>
<circle cx="523.3" cy="734.4" r="2.4"/>
<circle cx="522.6" cy="699.8" r="2.4"/>
<circle cx="530.9" cy="691.1" r="2.4"/>
<circle cx="523.1" cy="707.2" r="2.4"/>
<circle cx="531.3" cy="739.2" r="2.4"/>
<circle cx="523.1" cy="695.7" r="2.4"/>
<circle cx="530.5" cy="681.2" r="2.4"/>
<circle cx="522.6" cy="712.3" r="2.4"/>
<circle cx="530.5" cy="705.8" r="2.4"/>
<circle cx="531.3" cy="704.7" r="2.4"/>
<circle cx="524.4" cy="732.9" r="2.4"/>
<circle cx="530.8" cy="687.4" r="2.4"/>
<circle cx="530.3" cy="711" r="2.4"/>
<circle cx="530.6" cy="719" r="2.4"/>
<circle cx="537.4" cy="741.3" r="2.4"/>
<circle cx="531.1" cy="695.6" r="2.4"/>
<circle cx="523.3" cy="737.8" r="2.4"/>
<circle cx="531.1" cy="710.8" r="2.4"/>
<circle cx="522.6" cy="719.3" r="2.4"/>
<circle cx="530.9" cy="686.8" r="2.4"/>
<circle cx="530.8" cy="717.9" r="2.4"/>
<circle cx="540.2" cy="740.2" r="2.4"/>
<circle cx="524.8" cy="737" r="2.4"/>
<circle cx="523.8" cy="718.2" r="2.4"/>
<circle cx="530.2" cy="715.1" r="2.4"/>
<circle cx="532.7" cy="739.7" r="2.4"/>
<circle cx="522.6" cy="686.9" r="2.4"/>
<circle cx="528.3" cy="740.9" r="2.4"/>
<circle cx="531.2" cy="708.9" r="2.4"/>
<circle cx="527.4" cy="738.8" r="2.4"/>
<circle cx="534.4" cy="738.2" r="2.4"/>
<circle cx="529.9" cy="720.5" r="2.4"/>
<circle cx="536.4" cy="738.1" r="2.4"/>
<circle cx="529.8" cy="739.8" r="2.4"/>
<circle cx="523.6" cy="741" r="2.4"/>
<circle cx="522.6" cy="706" r="2.4"/>
<circle cx="527" cy="740.2" r="2.4"/>
<circle cx="517.7" cy="740.9" r="2.4"/>
<circle cx="530" cy="716.6" r="2.4"/>
<circle cx="524.3" cy="736.6" r="2.4"/>
<circle cx="521.8" cy="739.4" r="2.4"/>
<circle cx="531.7" cy="739.8" r="2.4"/>
<circle cx="523.5" cy="727.4" r="2.4"/>
<circle cx="522.7" cy="704.1" r="2.4"/>
<circle cx="524.2" cy="723" r="2.4"/>
<circle cx="534.7" cy="739.8" r="2.4"/>
<circle cx="530.7" cy="737.5" r="2.4"/>
<circle cx="535.7" cy="738.7" r="2.4"/>
<circle cx="531.1" cy="708.2" r="2.4"/>
<circle cx="532.3" cy="740.6" r="2.4"/>
<circle cx="531.1" cy="698.3" r="2.4"/>
<circle cx="522.6" cy="695.8" r="2.4"/>
<circle cx="534" cy="740" r="2.4"/>
<circle cx="527.9" cy="742.6" r="2.4"/>
<circle cx="530.4" cy="712.5" r="2.4"/>
<circle cx="522.8" cy="693.4" r="2.4"/>
<circle cx="523.3" cy="723.8" r="2.4"/>
<circle cx="530" cy="737.9" r="2.4"/>
<circle cx="530.7" cy="685.8" r="2.4"/>
<circle cx="523.5" cy="713.1" r="2.4"/>
<circle cx="531" cy="700.6" r="2.4"/>
<circle cx="540.7" cy="742.3" r="2.4"/>
<circle cx="529.9" cy="732.7" r="2.4"/>
<circle cx="531.7" cy="741.2" r="2.4"/>
<circle cx="523.4" cy="702.4" r="2.4"/>
<circle cx="530.3" cy="697.6" r="2.4"/>
<circle cx="522.9" cy="690.6" r="2.4"/>
<circle cx="530.6" cy="692.2" r="2.4"/>
<circle cx="530.2" cy="723.6" r="2.4"/>
<circle cx="523.2" cy="683.3" r="2.4"/>
<circle cx="531.2" cy="716.7" r="2.4"/>
<circle cx="523.4" cy="728.5" r="2.4"/>
<circle cx="522.7" cy="703.8" r="2.4"/>
<circle cx="523.5" cy="720.5" r="2.4"/>
<circle cx="523.6" cy="714.3" r="2.4"/>
<circle cx="526" cy="741.5" r="2.4"/>
<circle cx="523.2" cy="729.2" r="2.4"/>
<circle cx="531.1" cy="703.6" r="2.4"/>
<circle cx="530.7" cy="702.1" r="2.4"/>
<circle cx="538.9" cy="741.2" r="2.4"/>
<circle cx="530.8" cy="690.5" r="2.4"/>
<circle cx="530.7" cy="707.3" r="2.4"/>
<circle cx="524.1" cy="733.8" r="2.4"/>
<circle cx="528.9" cy="730.9" r="2.4"/>
<circle cx="522.7" cy="687.5" r="2.4"/>
<circle cx="530.5" cy="738.5" r="2.4"/>
<circle cx="523.5" cy="720.2" r="2.4"/>
<circle cx="529.8" cy="711.4" r="2.4"/>
<circle cx="522.6" cy="688.1" r="2.4"/>
<circle cx="530.8" cy="722.2" r="2.4"/>
<circle cx="521" cy="738.4" r="2.4"/>
<circle cx="522.9" cy="719.8" r="2.4"/>
<circle cx="522.9" cy="741.6" r="2.4"/>
<circle cx="523" cy="715.1" r="2.4"/>
<circle cx="530.5" cy="720.3" r="2.4"/>
<circle cx="530.7" cy="713.5" r="2.4"/>
<circle cx="522.6" cy="741.9" r="2.4"/>
<circle cx="523.7" cy="719.1" r="2.4"/>
<circle cx="523.3" cy="690.8" r="2.4"/>
<circle cx="531.3" cy="700" r="2.4"/>
<circle cx="530.1" cy="714.1" r="2.4"/>
<circle cx="524.1" cy="736.2" r="2.4"/>
<circle cx="522.9" cy="700.8" r="2.4"/>
<circle cx="523" cy="740" r="2.4"/>
<circle cx="530.3" cy="704.1" r="2.4"/>
<circle cx="530.6" cy="719.2" r="2.4"/>
<circle cx="530.1" cy="720.7" r="2.4"/>
<circle cx="530.8" cy="731.4" r="2.4"/>
<circle cx="517.2" cy="738.5" r="2.4"/>
<circle cx="530.6" cy="704.2" r="2.4"/>
<circle cx="519.3" cy="740.2" r="2.4"/>
<circle cx="523.4" cy="712.7" r="2.4"/>
<circle cx="522.9" cy="726.1" r="2.4"/>
<circle cx="530.2" cy="709.7" r="2.4"/>
<circle cx="523.4" cy="723.7" r="2.4"/>
<circle cx="530" cy="721.1" r="2.4"/>
<circle cx="524.8" cy="742.4" r="2.4"/>
<circle cx="530.5" cy="682.2" r="2.4"/>
<circle cx="531" cy="710.7" r="2.4"/>
<circle cx="530.6" cy="691.7" r="2.4"/>
<circle cx="529" cy="728.9" r="2.4"/>
<circle cx="520.7" cy="741" r="2.4"/>
<circle cx="524.3" cy="731.9" r="2.4"/>
<circle cx="523.8" cy="738.3" r="2.4"/>
<circle cx="523.2" cy="714.7" r="2.4"/>
<circle cx="523.2" cy="685.7" r="2.4"/>
<circle cx="527.7" cy="742.9" r="2.4"/>
<circle cx="523.2" cy="729.2" r="2.4"/>
<circle cx="522.9" cy="682.2" r="2.4"/>
<circle cx="531" cy="682.4" r="2.4"/>
<circle cx="523.2" cy="684.2" r="2.4"/>
<circle cx="531.3" cy="698.9" r="2.4"/>
<circle cx="522.5" cy="690" r="2.4"/>
<circle cx="523.3" cy="686" r="2.4"/>
<circle cx="530.6" cy="696.8" r="2.4"/>
<circle cx="523.2" cy="709" r="2.4"/>
<circle cx="531.1" cy="686.6" r="2.4"/>
<circle cx="523.3" cy="717.8" r="2.4"/>
<circle cx="530.9" cy="731.7" r="2.4"/>
<circle cx="528.2" cy="741.6" r="2.4"/>
<circle cx="523.3" cy="736.5" r="2.4"/>
<circle cx="541.2" cy="740.8" r="2.4"/>
<circle cx="528.9" cy="740.4" r="2.4"/>
<circle cx="522.5" cy="689.1" r="2.4"/>
<circle cx="531.2" cy="684.7" r="2.4"/>
<circle cx="529.9" cy="739.7" r="2.4"/>
<circle cx="529.1" cy="730.7" r="2.4"/>
<circle cx="531.3" cy="712.4" r="2.4"/>
<circle cx="535.2" cy="742.4" r="2.4"/>
<circle cx="524.4" cy="730.9" r="2.4"/>
<circle cx="524.9" cy="734.8" r="2.4"/>
<circle cx="518.1" cy="740" r="2.4"/>
<circle cx="534.6" cy="739.4" r="2.4"/>
<circle cx="530.3" cy="699.2" r="2.4"/>
<circle cx="531.4" cy="714.2" r="2.4"/>
<circle cx="531.3" cy="701.9" r="2.4"/>
<circle cx="541.2" cy="741.4" r="2.4"/>
<circle cx="523.3" cy="684.3" r="2.4"/>
<circle cx="524.3" cy="733.8" r="2.4"/>
<circle cx="531.3" cy="707.3" r="2.4"/>
<circle cx="530.5" cy="683.5" r="2.4"/>
<circle cx="530.7" cy="717.5" r="2.4"/>
<circle cx="518.5" cy="741.6" r="2.4"/>
<circle cx="531.3" cy="684.2" r="2.4"/>
<circle cx="526.7" cy="739.7" r="2.4"/>
<circle cx="524" cy="713.7" r="2.4"/>
<circle cx="531.1" cy="719.3" r="2.4"/>
<circle cx="523.3" cy="689.4" r="2.4"/>
<circle cx="523.4" cy="711.2" r="2.4"/>
<circle cx="524.5" cy="737.7" r="2.4"/>
<circle cx="521.1" cy="740.7" r="2.4"/>
<circle cx="530.8" cy="731.6" r="2.4"/>
<circle cx="521.2" cy="741.4" r="2.4"/>
<circle cx="534.7" cy="740.9" r="2.4"/>
<circle cx="523.4" cy="709.4" r="2.4"/>
<circle cx="530.2" cy="742.8" r="2.4"/>
<circle cx="531" cy="714.5" r="2.4"/>
<circle cx="529.7" cy="720.6" r="2.4"/>
<circle cx="531.1" cy="684.7" r="2.4"/>
<circle cx="530.4" cy="684" r="2.4"/>
<circle cx="523.4" cy="726.2" r="2.4"/>
<circle cx="523.8" cy="722.6" r="2.4"/>
<circle cx="531" cy="720.3" r="2.4"/>
<circle cx="530.7" cy="685.9" r="2.4"/>
<circle cx="531.2" cy="692.4" r="2.4"/>
<circle cx="522.9" cy="688" r="2.4"/>
<circle cx="522.6" cy="683.1" r="2.4"/>
<circle cx="523.2" cy="728.8" r="2.4"/>
<circle cx="529.9" cy="709.8" r="2.4"/>
<circle cx="530.5" cy="708.9" r="2.4"/>
<circle cx="531" cy="720.5" r="2.4"/>
<circle cx="531.1" cy="735.5" r="2.4"/>
<circle cx="532.5" cy="742.9" r="2.4"/>
<circle cx="524.6" cy="738.1" r="2.4"/>
<circle cx="530.2" cy="713.3" r="2.4"/>
<circle cx="523.4" cy="730.9" r="2.4"/>
<circle cx="529.6" cy="741.6" r="2.4"/>
<circle cx="523.7" cy="714.2" r="2.4"/>
<circle cx="530.1" cy="717.5" r="2.4"/>
<circle cx="523.4" cy="720.2" r="2.4"/>
<circle cx="530.5" cy="710.3" r="2.4"/>
<circle cx="530.8" cy="693.4" r="2.4"/>
<circle cx="529.8" cy="715" r="2.4"/>
<circle cx="530.9" cy="700.9" r="2.4"/>
<circle cx="522.5" cy="714.5" r="2.4"/>
<circle cx="523.4" cy="700.1" r="2.4"/>
<circle cx="531.3" cy="728.3" r="2.4"/>
<circle cx="523.5" cy="729.5" r="2.4"/>
<circle cx="528.9" cy="740.9" r="2.4"/>
<circle cx="516.8" cy="740" r="2.4"/>
<circle cx="523.3" cy="702.8" r="2.4"/>
<circle cx="530.8" cy="681.1" r="2.4"/>
<circle cx="529.6" cy="717.4" r="2.4"/>
<circle cx="523.9" cy="718.1" r="2.4"/>
<circle cx="523.5" cy="728.6" r="2.4"/>
<circle cx="531" cy="715.1" r="2.4"/>
<circle cx="522.6" cy="684.1" r="2.4"/>
<circle cx="522.9" cy="692.9" r="2.4"/>
<circle cx="531.4" cy="677.6" r="2.4"/>
<circle cx="501.6" cy="738.9" r="2.4"/>
<circle cx="556.6" cy="740.7" r="2.4"/>
<circle cx="563.8" cy="739.9" r="2.4"/>
<circle cx="568.6" cy="738.3" r="2.4"/>
<circle cx="582.3" cy="738.3" r="2.4"/>
<circle cx="592.7" cy="738.3" r="2.4"/>
<circle cx="598.3" cy="739.9" r="2.4"/>
<circle cx="582.6" cy="737.8" r="2.4"/>
<circle cx="593.2" cy="738.4" r="2.4"/>
<circle cx="598.4" cy="739.1" r="2.4"/>
</g>
<rect x="406.6" y="527.4" width="240.6" height="218.1" fill="none" stroke="#555" stroke-width="1.1"/>
<line x1="406.5" y1="745.5" x2="406.5" y2="748.3" stroke="#444" stroke-width="0.9" />
<text x="406.5" y="757.1" font-size="10" text-anchor="middle" font-family="'Liberation Serif', serif" fill="#222" stroke="#222" stroke-width="0.12" >-15</text>
<line x1="446.6" y1="745.5" x2="446.6" y2="748.3" stroke="#444" stroke-width="0.9" />
<text x="446.6" y="757.1" font-size="10" text-anchor="middle" font-family="'Liberation Serif', serif" fill="#222" stroke="#222" stroke-width="0.12" >-10</text>
<line x1="486.7" y1="745.5" x2="486.7" y2="748.3" stroke="#444" stroke-width="0.9" />
<text x="486.7" y="757.1" font-size="10" text-anchor="middle" font-family="'Liberation Serif', serif" fill="#222" stroke="#222" stroke-width="0.12" >-5</text>
<line x1="526.8" y1="745.5" x2="526.8" y2="748.3" stroke="#444" stroke-width="0.9" />
<text x="526.8" y="757.1" font-size="10" text-anchor="middle" font-family="'Liberation Serif', serif" fill="#222" stroke="#222" stroke-width="0.12" >0</text>
<line x1="566.9" y1="745.5" x2="566.9" y2="748.3" stroke="#444" stroke-width="0.9" />
<text x="566.9" y="757.1" font-size="10" text-anchor="middle" font-family="'Liberation Serif', serif" fill="#222" stroke="#222" stroke-width="0.12" >5</text>
<line x1="607" y1="745.5" x2="607" y2="748.3" stroke="#444" stroke-width="0.9" />
<text x="607" y="757.1" font-size="10" text-anchor="middle" font-family="'Liberation Serif', serif" fill="#222" stroke="#222" stroke-width="0.12" >10</text>
<line x1="647.1" y1="745.5" x2="647.1" y2="748.3" stroke="#444" stroke-width="0.9" />
<text x="647.1" y="757.1" font-size="10" text-anchor="middle" font-family="'Liberation Serif', serif" fill="#222" stroke="#222" stroke-width="0.12" >15</text>
<line x1="403.8" y1="745.5" x2="406.6" y2="745.5" stroke="#444" stroke-width="0.9" />
<text x="403" y="748.9" font-size="10" text-anchor="end" font-family="'Liberation Serif', serif" fill="#222" stroke="#222" stroke-width="0.12" >0</text>
<line x1="403.8" y1="717.5" x2="406.6" y2="717.5" stroke="#444" stroke-width="0.9" />
<text x="403" y="720.9" font-size="10" text-anchor="end" font-family="'Liberation Serif', serif" fill="#222" stroke="#222" stroke-width="0.12" >5</text>
<line x1="403.8" y1="689.5" x2="406.6" y2="689.5" stroke="#444" stroke-width="0.9" />
<text x="403" y="692.9" font-size="10" text-anchor="end" font-family="'Liberation Serif', serif" fill="#222" stroke="#222" stroke-width="0.12" >10</text>
<line x1="403.8" y1="661.5" x2="406.6" y2="661.5" stroke="#444" stroke-width="0.9" />
<text x="403" y="664.9" font-size="10" text-anchor="end" font-family="'Liberation Serif', serif" fill="#222" stroke="#222" stroke-width="0.12" >15</text>
<line x1="403.8" y1="633.5" x2="406.6" y2="633.5" stroke="#444" stroke-width="0.9" />
<text x="403" y="636.9" font-size="10" text-anchor="end" font-family="'Liberation Serif', serif" fill="#222" stroke="#222" stroke-width="0.12" >20</text>
<line x1="403.8" y1="605.5" x2="406.6" y2="605.5" stroke="#444" stroke-width="0.9" />
<text x="403" y="608.9" font-size="10" text-anchor="end" font-family="'Liberation Serif', serif" fill="#222" stroke="#222" stroke-width="0.12" >25</text>
<line x1="403.8" y1="577.5" x2="406.6" y2="577.5" stroke="#444" stroke-width="0.9" />
<text x="403" y="580.9" font-size="10" text-anchor="end" font-family="'Liberation Serif', serif" fill="#222" stroke="#222" stroke-width="0.12" >30</text>
<line x1="403.8" y1="549.5" x2="406.6" y2="549.5" stroke="#444" stroke-width="0.9" />
<text x="403" y="552.9" font-size="10" text-anchor="end" font-family="'Liberation Serif', serif" fill="#222" stroke="#222" stroke-width="0.12" >35</text>
<circle cx="423.5" cy="515.4" r="3.7" fill="#40b4d0" fill-opacity="0.72"/>
<text x="429.9" y="518.1" font-size="8" text-anchor="start" font-family="'Liberation Serif', serif" fill="#111" stroke="#111" stroke-width="0.12" >Down regulated(850)</text>
<circle cx="508.6" cy="515.4" r="3.7" fill="#b2b2b2" fill-opacity="0.72"/>
<text x="514.8" y="518.1" font-size="8" text-anchor="start" font-family="'Liberation Serif', serif" fill="#111" stroke="#111" stroke-width="0.12" >Not sig(1976)</text>
<circle cx="569.4" cy="515.4" r="3.7" fill="#ec0c0c" fill-opacity="0.72"/>
<text x="576.4" y="518.1" font-size="8" text-anchor="start" font-family="'Liberation Serif', serif" fill="#111" stroke="#111" stroke-width="0.12" >Up regulated(1008)</text>
<text transform="translate(386.1,636.6) rotate(-90)" font-size="13.5" text-anchor="middle" font-family="'Liberation Serif', serif" fill="#111">-log<tspan font-size="10.5" dy="2.6">10</tspan><tspan dy="-2.6">(Pvalue)</tspan></text>
<text x="527" y="770.5" font-size="13.5" text-anchor="middle" font-family="'Liberation Serif', serif" fill="#111">log<tspan font-size="10.5" dy="2.6">2</tspan><tspan dy="-2.6">(Fold Change)</tspan></text>
<text x="522.3" y="784" font-size="13.5" text-anchor="middle" font-family="'Liberation Serif', serif" fill="#111" stroke="#111" stroke-width="0.12" >N vs J</text>
</svg></body></html>
